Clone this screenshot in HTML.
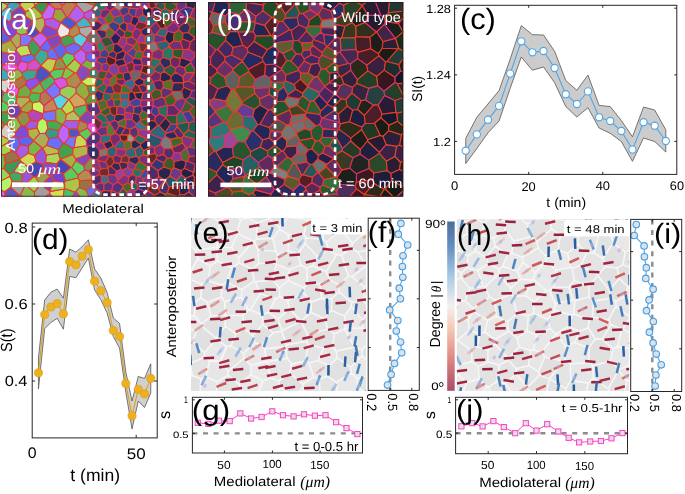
<!DOCTYPE html><html><head><meta charset="utf-8"><title>figure</title><style>html,body{margin:0;padding:0;background:#fff;width:685px;height:494px;overflow:hidden}body{position:relative;font-family:"Liberation Sans",sans-serif}</style></head><body><svg width="685" height="494" viewBox="0 0 685 494" font-family="Liberation Sans" text-rendering="geometricPrecision" style="position:absolute;left:0;top:0;will-change:transform">
<rect width="685" height="494" fill="#fff"/>
<clipPath id="ca"><rect x="1" y="2" width="195.00" height="194.50"/></clipPath>
<g clip-path="url(#ca)">
<rect x="1" y="2" width="195.00" height="194.50" fill="#d8303c"/>
<path d="M-18.2,-15.9L-22.3,-9.0L-14.8,-4.5L-9.4,-13.5L-14.3,-17.8Z" fill="rgb(136,202,82)" stroke="#e04a20" stroke-width="1.1" stroke-linejoin="round"/>
<path d="M-5.1,9.1L-3.1,0.1L-14.8,-0.1L-20.2,5.5L-20.2,5.8L-15.3,11.7Z" fill="rgb(142,181,71)" stroke="#d83070" stroke-width="1.1" stroke-linejoin="round"/>
<path d="M-4.9,25.4L-11.3,26.2L-17.3,21.4L-15.4,16.0L-4.5,19.0Z" fill="rgb(109,66,186)" stroke="#e83a28" stroke-width="1.1" stroke-linejoin="round"/>
<path d="M-17.3,21.4L-11.3,26.2L-12.4,33.6L-23.7,33.7L-23.8,29.9L-19.2,22.3Z" fill="rgb(75,83,189)" stroke="#e04a20" stroke-width="1.1" stroke-linejoin="round"/>
<path d="M-23.7,33.7L-24.4,35.3L-21.9,42.6L-15.8,44.9L-7.7,40.2L-12.4,33.6Z" fill="rgb(159,189,68)" stroke="#e83a28" stroke-width="1.1" stroke-linejoin="round"/>
<path d="M-15.1,53.1L-17.2,55.0L-18.1,60.4L-13.7,68.2L-11.4,68.5L-5.8,55.7Z" fill="rgb(166,198,71)" stroke="#d83070" stroke-width="1.1" stroke-linejoin="round"/>
<path d="M-11.8,79.6L-5.7,73.3L-5.8,72.9L-11.4,68.5L-13.7,68.2L-18.9,71.2L-21.1,79.1Z" fill="rgb(70,70,181)" stroke="#e04a20" stroke-width="1.1" stroke-linejoin="round"/>
<path d="M-12.5,85.6L-21.5,87.7L-24.5,84.2L-24.5,83.7L-21.1,79.1L-11.8,79.6Z" fill="rgb(152,181,65)" stroke="#e83a28" stroke-width="1.1" stroke-linejoin="round"/>
<path d="M-12.5,85.6L-7.2,88.4L-9.6,96.6L-21.1,90.2L-21.5,87.7Z" fill="rgb(143,194,84)" stroke="#d83070" stroke-width="1.1" stroke-linejoin="round"/>
<path d="M-11.3,102.2L-9.5,97.0L-9.6,96.6L-21.1,90.2L-23.1,96.3L-23.0,100.7L-21.1,102.5Z" fill="rgb(116,172,69)" stroke="#d83070" stroke-width="1.1" stroke-linejoin="round"/>
<path d="M-8.2,108.6L-11.3,102.2L-21.1,102.5L-21.8,112.0L-12.5,116.3Z" fill="rgb(102,113,255)" stroke="#e04a20" stroke-width="1.1" stroke-linejoin="round"/>
<path d="M-12.2,131.7L-6.0,127.7L-6.9,120.2L-12.5,116.3L-18.5,126.6Z" fill="rgb(103,62,176)" stroke="#e83a28" stroke-width="1.1" stroke-linejoin="round"/>
<path d="M-23.7,130.2L-24.6,134.1L-15.5,141.2L-11.0,137.6L-12.2,131.7L-18.5,126.6L-19.2,126.7Z" fill="rgb(190,200,77)" stroke="#e83a28" stroke-width="1.1" stroke-linejoin="round"/>
<path d="M-4.6,139.7L-11.0,137.6L-15.5,141.2L-17.2,146.2L-15.4,149.7L-3.4,146.8Z" fill="rgb(192,202,78)" stroke="#e83a28" stroke-width="1.1" stroke-linejoin="round"/>
<path d="M-12.5,164.7L-21.6,164.2L-21.7,157.4L-15.4,151.7L-8.1,159.3L-8.3,161.5Z" fill="rgb(62,154,87)" stroke="#e83a28" stroke-width="1.1" stroke-linejoin="round"/>
<path d="M-12.2,169.6L-16.1,177.2L-20.9,175.7L-22.7,169.4L-22.3,164.9L-21.6,164.2L-12.5,164.7Z" fill="rgb(86,95,217)" stroke="#e83a28" stroke-width="1.1" stroke-linejoin="round"/>
<path d="M-12.2,169.6L-16.1,177.2L-12.1,181.8L-6.0,178.6L-4.6,174.0Z" fill="rgb(111,67,191)" stroke="#e04a20" stroke-width="1.1" stroke-linejoin="round"/>
<path d="M-2.0,190.3L-12.4,184.2L-17.3,191.7L-17.1,192.6L-15.7,194.6L-6.6,196.3Z" fill="rgb(91,101,231)" stroke="#e04a20" stroke-width="1.1" stroke-linejoin="round"/>
<path d="M-7.6,209.9L-15.5,205.1L-18.2,206.3L-20.3,213.7L-12.4,216.1L-7.2,211.2Z" fill="rgb(156,200,78)" stroke="#d83070" stroke-width="1.1" stroke-linejoin="round"/>
<path d="M-6.9,-12.9L2.4,-20.6L10.0,-10.1L9.8,-8.9L-1.8,-4.9Z" fill="rgb(77,86,195)" stroke="#e83a28" stroke-width="1.1" stroke-linejoin="round"/>
<path d="M-6.9,-12.9L-9.4,-13.5L-14.8,-4.5L-14.8,-0.1L-3.1,0.1L-2.6,-0.4L-1.8,-4.9Z" fill="rgb(187,74,187)" stroke="#e04a20" stroke-width="1.1" stroke-linejoin="round"/>
<path d="M-0.3,13.9L-0.5,13.9L-5.1,9.1L-3.1,0.1L-2.6,-0.4L7.4,4.7L7.3,7.0Z" fill="rgb(171,219,85)" stroke="#e83a28" stroke-width="1.1" stroke-linejoin="round"/>
<path d="M-0.5,13.9L-5.1,9.1L-15.3,11.7L-15.4,16.0L-4.5,19.0Z" fill="rgb(91,101,231)" stroke="#e83a28" stroke-width="1.1" stroke-linejoin="round"/>
<path d="M9.0,21.8L8.8,22.8L1.5,29.7L1.3,29.8L-4.9,25.4L-4.5,19.0L-0.5,13.9L-0.3,13.9Z" fill="rgb(79,88,201)" stroke="#d83070" stroke-width="1.1" stroke-linejoin="round"/>
<path d="M1.3,29.8L-4.6,40.6L-7.7,40.2L-12.4,33.6L-11.3,26.2L-4.9,25.4Z" fill="rgb(185,145,86)" stroke="#d83070" stroke-width="1.1" stroke-linejoin="round"/>
<path d="M1.5,29.7L11.1,38.3L10.8,40.3L-1.0,45.3L-4.6,40.6L1.3,29.8Z" fill="rgb(97,97,214)" stroke="#e04a20" stroke-width="1.1" stroke-linejoin="round"/>
<path d="M-0.0,51.4L-1.0,45.3L-4.6,40.6L-7.7,40.2L-15.8,44.9L-15.1,53.1L-5.8,55.7L-2.0,54.2Z" fill="rgb(190,103,255)" stroke="#e04a20" stroke-width="1.1" stroke-linejoin="round"/>
<path d="M10.4,62.1L9.9,53.6L-0.0,51.4L-2.0,54.2L2.6,66.3Z" fill="rgb(141,78,198)" stroke="#e83a28" stroke-width="1.1" stroke-linejoin="round"/>
<path d="M2.6,66.3L2.1,67.9L-5.8,72.9L-11.4,68.5L-5.8,55.7L-2.0,54.2Z" fill="rgb(220,220,220)" stroke="#e83a28" stroke-width="1.1" stroke-linejoin="round"/>
<path d="M8.7,80.1L-1.9,80.3L-5.7,73.3L-5.8,72.9L2.1,67.9L9.5,73.4Z" fill="rgb(66,167,184)" stroke="#e83a28" stroke-width="1.1" stroke-linejoin="round"/>
<path d="M-2.9,86.0L-7.2,88.4L-12.5,85.6L-11.8,79.6L-5.7,73.3L-1.9,80.3Z" fill="rgb(185,185,96)" stroke="#d83070" stroke-width="1.1" stroke-linejoin="round"/>
<path d="M4.6,92.8L-2.9,86.0L-7.2,88.4L-9.6,96.6L-9.5,97.0L2.1,97.6Z" fill="rgb(90,100,228)" stroke="#e83a28" stroke-width="1.1" stroke-linejoin="round"/>
<path d="M-8.2,108.6L-11.3,102.2L-9.5,97.0L2.1,97.6L2.6,100.6L-3.2,108.4Z" fill="rgb(166,175,67)" stroke="#e83a28" stroke-width="1.1" stroke-linejoin="round"/>
<path d="M-3.2,108.4L2.6,100.6L9.6,105.7L7.6,111.9L1.9,112.3Z" fill="rgb(87,206,98)" stroke="#e83a28" stroke-width="1.1" stroke-linejoin="round"/>
<path d="M-8.2,108.6L-12.5,116.3L-12.5,116.3L-6.9,120.2L-0.4,119.8L1.9,112.3L-3.2,108.4Z" fill="rgb(165,173,67)" stroke="#e04a20" stroke-width="1.1" stroke-linejoin="round"/>
<path d="M-0.4,119.8L4.9,124.8L0.9,130.7L-6.0,127.7L-6.9,120.2Z" fill="rgb(159,125,74)" stroke="#e83a28" stroke-width="1.1" stroke-linejoin="round"/>
<path d="M1.2,135.4L0.9,130.7L-6.0,127.7L-12.2,131.7L-11.0,137.6L-4.6,139.7Z" fill="rgb(154,121,71)" stroke="#d83070" stroke-width="1.1" stroke-linejoin="round"/>
<path d="M8.4,142.6L-2.2,148.3L-3.4,146.8L-4.6,139.7L1.2,135.4L8.8,139.2Z" fill="rgb(172,204,74)" stroke="#e83a28" stroke-width="1.1" stroke-linejoin="round"/>
<path d="M-2.2,148.3L-0.8,153.1L-8.1,159.3L-15.4,151.7L-15.4,149.7L-3.4,146.8Z" fill="rgb(80,198,112)" stroke="#e83a28" stroke-width="1.1" stroke-linejoin="round"/>
<path d="M4.3,155.1L-0.8,153.1L-8.1,159.3L-8.3,161.5L0.2,168.6L4.0,168.5L5.6,163.7Z" fill="rgb(122,180,73)" stroke="#d83070" stroke-width="1.1" stroke-linejoin="round"/>
<path d="M-12.2,169.6L-4.6,174.0L0.2,168.6L-8.3,161.5L-12.5,164.7Z" fill="rgb(168,168,87)" stroke="#d83070" stroke-width="1.1" stroke-linejoin="round"/>
<path d="M-4.6,174.0L-6.0,178.6L-0.2,181.6L9.7,176.6L9.7,174.4L4.0,168.5L0.2,168.6Z" fill="rgb(155,209,91)" stroke="#e04a20" stroke-width="1.1" stroke-linejoin="round"/>
<path d="M-2.0,190.3L-12.4,184.2L-12.1,181.8L-6.0,178.6L-0.2,181.6L0.4,189.7Z" fill="rgb(86,216,237)" stroke="#e83a28" stroke-width="1.1" stroke-linejoin="round"/>
<path d="M5.1,194.6L4.8,191.7L0.4,189.7L-2.0,190.3L-6.6,196.3L-3.1,202.6L2.0,201.3Z" fill="rgb(229,91,229)" stroke="#e83a28" stroke-width="1.1" stroke-linejoin="round"/>
<path d="M-3.1,202.6L-7.6,209.9L-15.5,205.1L-15.7,194.6L-6.6,196.3Z" fill="rgb(103,152,62)" stroke="#e04a20" stroke-width="1.1" stroke-linejoin="round"/>
<path d="M2.0,201.3L-3.1,202.6L-7.6,209.9L-7.2,211.2L0.4,217.3L5.2,213.4L8.1,207.2Z" fill="rgb(204,160,95)" stroke="#e83a28" stroke-width="1.1" stroke-linejoin="round"/>
<path d="M10.0,-10.1L15.2,-14.5L25.1,-12.1L26.9,-5.8L11.4,-6.4L9.8,-8.9Z" fill="rgb(82,91,208)" stroke="#e83a28" stroke-width="1.1" stroke-linejoin="round"/>
<path d="M-1.8,-4.9L-2.6,-0.4L7.4,4.7L12.4,0.9L11.4,-6.4L9.8,-8.9Z" fill="rgb(80,199,113)" stroke="#e83a28" stroke-width="1.1" stroke-linejoin="round"/>
<path d="M11.8,12.8L20.6,6.1L20.2,4.5L12.4,0.9L7.4,4.7L7.3,7.0Z" fill="rgb(65,162,178)" stroke="#d83070" stroke-width="1.1" stroke-linejoin="round"/>
<path d="M9.0,21.8L-0.3,13.9L7.3,7.0L11.8,12.8L11.6,19.3Z" fill="rgb(80,201,221)" stroke="#d83070" stroke-width="1.1" stroke-linejoin="round"/>
<path d="M16.1,30.4L8.8,22.8L9.0,21.8L11.6,19.3L22.7,18.3L22.5,24.5Z" fill="rgb(126,76,216)" stroke="#e83a28" stroke-width="1.1" stroke-linejoin="round"/>
<path d="M16.8,33.1L11.1,38.3L1.5,29.7L8.8,22.8L16.1,30.4Z" fill="rgb(124,75,212)" stroke="#d83070" stroke-width="1.1" stroke-linejoin="round"/>
<path d="M16.8,33.1L11.1,38.3L10.8,40.3L16.6,48.5L20.4,46.0L20.5,34.8Z" fill="rgb(171,171,89)" stroke="#d83070" stroke-width="1.1" stroke-linejoin="round"/>
<path d="M-0.0,51.4L-1.0,45.3L10.8,40.3L16.6,48.5L16.1,50.4L9.9,53.6Z" fill="rgb(165,173,67)" stroke="#e04a20" stroke-width="1.1" stroke-linejoin="round"/>
<path d="M10.4,62.1L17.5,66.6L20.8,61.1L21.0,56.5L16.1,50.4L9.9,53.6Z" fill="rgb(174,69,174)" stroke="#e04a20" stroke-width="1.1" stroke-linejoin="round"/>
<path d="M9.5,73.4L2.1,67.9L2.6,66.3L10.4,62.1L17.5,66.6L17.9,68.9Z" fill="rgb(224,89,224)" stroke="#e04a20" stroke-width="1.1" stroke-linejoin="round"/>
<path d="M22.7,76.5L11.3,82.4L10.6,82.3L8.7,80.1L9.5,73.4L17.9,68.9L22.0,72.9Z" fill="rgb(144,184,72)" stroke="#e83a28" stroke-width="1.1" stroke-linejoin="round"/>
<path d="M10.6,82.3L6.5,92.2L4.6,92.8L-2.9,86.0L-1.9,80.3L8.7,80.1Z" fill="rgb(212,212,212)" stroke="#e04a20" stroke-width="1.1" stroke-linejoin="round"/>
<path d="M11.3,82.4L19.2,89.0L16.8,96.5L6.5,92.2L10.6,82.3Z" fill="rgb(228,90,228)" stroke="#e83a28" stroke-width="1.1" stroke-linejoin="round"/>
<path d="M17.2,97.3L16.2,102.7L9.6,105.7L2.6,100.6L2.1,97.6L4.6,92.8L6.5,92.2L16.8,96.5Z" fill="rgb(77,191,108)" stroke="#e04a20" stroke-width="1.1" stroke-linejoin="round"/>
<path d="M16.2,102.7L20.8,108.6L21.8,111.6L16.9,117.9L12.0,117.9L7.6,111.9L9.6,105.7Z" fill="rgb(119,66,167)" stroke="#e83a28" stroke-width="1.1" stroke-linejoin="round"/>
<path d="M1.9,112.3L7.6,111.9L12.0,117.9L6.5,124.4L4.9,124.8L-0.4,119.8Z" fill="rgb(68,160,76)" stroke="#e83a28" stroke-width="1.1" stroke-linejoin="round"/>
<path d="M15.3,132.9L6.5,124.4L12.0,117.9L16.9,117.9L21.3,125.6Z" fill="rgb(139,188,81)" stroke="#e83a28" stroke-width="1.1" stroke-linejoin="round"/>
<path d="M8.8,139.2L15.0,136.0L15.3,132.9L6.5,124.4L4.9,124.8L0.9,130.7L1.2,135.4Z" fill="rgb(206,206,206)" stroke="#e04a20" stroke-width="1.1" stroke-linejoin="round"/>
<path d="M11.4,151.4L8.4,142.6L8.8,139.2L15.0,136.0L18.4,138.5L20.4,144.6L15.6,152.6Z" fill="rgb(96,107,244)" stroke="#e04a20" stroke-width="1.1" stroke-linejoin="round"/>
<path d="M4.3,155.1L-0.8,153.1L-2.2,148.3L8.4,142.6L11.4,151.4Z" fill="rgb(164,210,82)" stroke="#e83a28" stroke-width="1.1" stroke-linejoin="round"/>
<path d="M4.3,155.1L11.4,151.4L15.6,152.6L20.1,158.9L20.1,159.4L5.6,163.7Z" fill="rgb(150,118,70)" stroke="#e83a28" stroke-width="1.1" stroke-linejoin="round"/>
<path d="M5.6,163.7L4.0,168.5L9.7,174.4L13.9,171.8L20.7,161.2L20.1,159.4Z" fill="rgb(62,153,87)" stroke="#e83a28" stroke-width="1.1" stroke-linejoin="round"/>
<path d="M13.9,171.8L9.7,174.4L9.7,176.6L12.1,181.3L22.3,182.3L21.9,174.0Z" fill="rgb(68,168,95)" stroke="#e83a28" stroke-width="1.1" stroke-linejoin="round"/>
<path d="M0.4,189.7L-0.2,181.6L9.7,176.6L12.1,181.3L10.8,187.3L4.8,191.7Z" fill="rgb(180,244,106)" stroke="#e83a28" stroke-width="1.1" stroke-linejoin="round"/>
<path d="M5.1,194.6L4.8,191.7L10.8,187.3L19.3,194.8L13.5,199.6Z" fill="rgb(88,88,195)" stroke="#e83a28" stroke-width="1.1" stroke-linejoin="round"/>
<path d="M5.1,194.6L13.5,199.6L12.3,205.7L8.1,207.2L2.0,201.3Z" fill="rgb(129,72,181)" stroke="#e83a28" stroke-width="1.1" stroke-linejoin="round"/>
<path d="M8.1,207.2L5.2,213.4L13.5,216.1L19.8,210.9L19.5,209.9L12.3,205.7Z" fill="rgb(72,201,180)" stroke="#e83a28" stroke-width="1.1" stroke-linejoin="round"/>
<path d="M25.1,-12.1L15.2,-14.5L20.5,-103.1L21.0,-99.6L27.9,-19.4Z" fill="rgb(82,91,206)" stroke="#e83a28" stroke-width="1.1" stroke-linejoin="round"/>
<path d="M27.0,-5.6L31.1,-4.6L37.8,-7.9L39.8,-13.2L27.9,-19.4L25.1,-12.1L26.9,-5.8Z" fill="rgb(99,109,250)" stroke="#d83070" stroke-width="1.1" stroke-linejoin="round"/>
<path d="M20.2,4.5L27.0,-5.6L26.9,-5.8L11.4,-6.4L12.4,0.9Z" fill="rgb(61,61,158)" stroke="#e04a20" stroke-width="1.1" stroke-linejoin="round"/>
<path d="M34.3,7.1L25.5,11.9L20.6,6.1L20.2,4.5L27.0,-5.6L31.1,-4.6L34.7,4.9Z" fill="rgb(199,209,81)" stroke="#e04a20" stroke-width="1.1" stroke-linejoin="round"/>
<path d="M11.6,19.3L22.7,18.3L25.2,16.1L25.5,11.9L20.6,6.1L11.8,12.8Z" fill="rgb(125,70,176)" stroke="#e83a28" stroke-width="1.1" stroke-linejoin="round"/>
<path d="M22.5,24.5L22.7,18.3L25.2,16.1L32.2,20.6L32.1,23.7L27.3,29.8Z" fill="rgb(127,71,179)" stroke="#e83a28" stroke-width="1.1" stroke-linejoin="round"/>
<path d="M16.8,33.1L20.5,34.8L27.3,33.9L27.3,29.8L22.5,24.5L16.1,30.4Z" fill="rgb(144,195,84)" stroke="#d83070" stroke-width="1.1" stroke-linejoin="round"/>
<path d="M32.6,39.2L27.9,45.2L20.4,46.0L20.5,34.8L27.3,33.9L32.7,38.1Z" fill="rgb(121,121,255)" stroke="#e83a28" stroke-width="1.1" stroke-linejoin="round"/>
<path d="M31.1,54.2L21.0,56.5L16.1,50.4L16.6,48.5L20.4,46.0L27.9,45.2Z" fill="rgb(188,224,81)" stroke="#d83070" stroke-width="1.1" stroke-linejoin="round"/>
<path d="M34.6,56.4L35.4,59.4L28.4,63.0L20.8,61.1L21.0,56.5L31.1,54.2Z" fill="rgb(100,111,254)" stroke="#d83070" stroke-width="1.1" stroke-linejoin="round"/>
<path d="M22.0,72.9L17.9,68.9L17.5,66.6L20.8,61.1L28.4,63.0L26.8,70.0Z" fill="rgb(219,87,219)" stroke="#d83070" stroke-width="1.1" stroke-linejoin="round"/>
<path d="M35.3,77.9L26.2,80.9L22.7,76.5L22.0,72.9L26.8,70.0L37.4,69.7Z" fill="rgb(59,166,148)" stroke="#e83a28" stroke-width="1.1" stroke-linejoin="round"/>
<path d="M22.7,76.5L11.3,82.4L19.2,89.0L25.9,84.4L26.2,80.9Z" fill="rgb(173,115,73)" stroke="#e04a20" stroke-width="1.1" stroke-linejoin="round"/>
<path d="M31.2,92.6L28.9,97.2L17.2,97.3L16.8,96.5L19.2,89.0L25.9,84.4L30.5,90.2Z" fill="rgb(115,170,69)" stroke="#e83a28" stroke-width="1.1" stroke-linejoin="round"/>
<path d="M28.9,97.2L17.2,97.3L16.2,102.7L20.8,108.6L30.0,100.4Z" fill="rgb(177,177,92)" stroke="#e83a28" stroke-width="1.1" stroke-linejoin="round"/>
<path d="M32.5,103.0L30.0,100.4L20.8,108.6L21.8,111.6L27.6,112.7L32.4,109.7Z" fill="rgb(160,168,65)" stroke="#e04a20" stroke-width="1.1" stroke-linejoin="round"/>
<path d="M21.3,125.6L16.9,117.9L21.8,111.6L27.6,112.7L30.5,120.5L25.2,126.2Z" fill="rgb(143,143,74)" stroke="#e83a28" stroke-width="1.1" stroke-linejoin="round"/>
<path d="M25.2,126.2L30.5,120.5L38.2,121.4L37.0,128.1L27.9,129.7Z" fill="rgb(161,90,226)" stroke="#e83a28" stroke-width="1.1" stroke-linejoin="round"/>
<path d="M15.0,136.0L18.4,138.5L28.5,135.8L27.9,129.7L25.2,126.2L21.3,125.6L15.3,132.9Z" fill="rgb(126,76,216)" stroke="#e83a28" stroke-width="1.1" stroke-linejoin="round"/>
<path d="M18.4,138.5L20.4,144.6L28.5,146.2L33.7,141.0L33.7,140.5L28.5,135.8Z" fill="rgb(93,103,236)" stroke="#d83070" stroke-width="1.1" stroke-linejoin="round"/>
<path d="M20.1,158.9L28.5,153.2L28.5,146.2L20.4,144.6L15.6,152.6Z" fill="rgb(169,92,228)" stroke="#e83a28" stroke-width="1.1" stroke-linejoin="round"/>
<path d="M20.1,158.9L28.5,153.2L34.5,155.6L36.1,161.8L27.6,166.8L20.7,161.2L20.1,159.4Z" fill="rgb(207,218,84)" stroke="#e04a20" stroke-width="1.1" stroke-linejoin="round"/>
<path d="M27.6,166.8L20.7,161.2L13.9,171.8L21.9,174.0L28.0,169.6Z" fill="rgb(173,235,102)" stroke="#d83070" stroke-width="1.1" stroke-linejoin="round"/>
<path d="M28.0,169.6L33.5,177.0L25.5,184.2L22.3,182.3L21.9,174.0Z" fill="rgb(152,85,214)" stroke="#e04a20" stroke-width="1.1" stroke-linejoin="round"/>
<path d="M10.8,187.3L12.1,181.3L22.3,182.3L25.5,184.2L25.5,184.7L20.5,194.8L19.3,194.8Z" fill="rgb(159,159,159)" stroke="#e83a28" stroke-width="1.1" stroke-linejoin="round"/>
<path d="M34.4,192.1L25.5,184.7L20.5,194.8L25.9,200.1L30.5,200.3L34.7,196.3Z" fill="rgb(136,184,80)" stroke="#e83a28" stroke-width="1.1" stroke-linejoin="round"/>
<path d="M13.5,199.6L19.3,194.8L20.5,194.8L25.9,200.1L19.5,209.9L12.3,205.7Z" fill="rgb(111,111,246)" stroke="#e83a28" stroke-width="1.1" stroke-linejoin="round"/>
<path d="M27.9,219.1L34.6,210.0L30.5,200.3L25.9,200.1L19.5,209.9L19.8,210.9Z" fill="rgb(94,222,105)" stroke="#d83070" stroke-width="1.1" stroke-linejoin="round"/>
<path d="M50.1,-6.6L48.8,-15.2L41.0,-14.2L39.8,-13.2L37.8,-7.9L42.8,-3.8Z" fill="rgb(133,197,80)" stroke="#d83070" stroke-width="1.1" stroke-linejoin="round"/>
<path d="M34.7,4.9L31.1,-4.6L37.8,-7.9L42.8,-3.8L43.8,1.6Z" fill="rgb(180,230,90)" stroke="#e83a28" stroke-width="1.1" stroke-linejoin="round"/>
<path d="M34.3,7.1L42.1,14.6L48.4,5.0L43.8,1.6L34.7,4.9Z" fill="rgb(60,148,84)" stroke="#e83a28" stroke-width="1.1" stroke-linejoin="round"/>
<path d="M34.3,7.1L25.5,11.9L25.2,16.1L32.2,20.6L42.4,17.4L42.1,14.6Z" fill="rgb(167,198,71)" stroke="#e83a28" stroke-width="1.1" stroke-linejoin="round"/>
<path d="M44.7,19.7L44.9,25.3L41.3,32.8L39.8,33.1L32.1,23.7L32.2,20.6L42.4,17.4Z" fill="rgb(179,179,93)" stroke="#e83a28" stroke-width="1.1" stroke-linejoin="round"/>
<path d="M32.7,38.1L27.3,33.9L27.3,29.8L32.1,23.7L39.8,33.1Z" fill="rgb(75,75,192)" stroke="#e83a28" stroke-width="1.1" stroke-linejoin="round"/>
<path d="M41.3,32.8L39.8,33.1L32.7,38.1L32.6,39.2L40.2,47.6L47.2,39.7L47.3,37.9Z" fill="rgb(188,102,252)" stroke="#e83a28" stroke-width="1.1" stroke-linejoin="round"/>
<path d="M32.6,39.2L27.9,45.2L31.1,54.2L34.6,56.4L40.5,49.2L40.2,47.6Z" fill="rgb(64,160,91)" stroke="#e83a28" stroke-width="1.1" stroke-linejoin="round"/>
<path d="M34.6,56.4L35.4,59.4L40.8,65.7L48.1,58.4L47.5,51.6L40.5,49.2Z" fill="rgb(61,171,153)" stroke="#e83a28" stroke-width="1.1" stroke-linejoin="round"/>
<path d="M37.4,69.7L40.8,65.8L40.8,65.7L35.4,59.4L28.4,63.0L26.8,70.0Z" fill="rgb(208,82,208)" stroke="#e04a20" stroke-width="1.1" stroke-linejoin="round"/>
<path d="M35.3,77.9L40.1,82.6L50.8,75.3L50.2,72.7L40.8,65.8L37.4,69.7Z" fill="rgb(76,84,191)" stroke="#e83a28" stroke-width="1.1" stroke-linejoin="round"/>
<path d="M35.3,77.9L40.1,82.6L40.1,83.0L30.5,90.2L25.9,84.4L26.2,80.9Z" fill="rgb(139,84,238)" stroke="#d83070" stroke-width="1.1" stroke-linejoin="round"/>
<path d="M31.2,92.6L40.6,93.8L44.5,91.1L40.1,83.0L30.5,90.2Z" fill="rgb(123,181,73)" stroke="#e83a28" stroke-width="1.1" stroke-linejoin="round"/>
<path d="M31.2,92.6L28.9,97.2L30.0,100.4L32.5,103.0L39.8,101.4L40.6,93.8Z" fill="rgb(79,186,88)" stroke="#e04a20" stroke-width="1.1" stroke-linejoin="round"/>
<path d="M39.8,101.4L32.5,103.0L32.4,109.7L42.8,113.8L43.7,112.4L44.0,105.7Z" fill="rgb(196,251,98)" stroke="#e04a20" stroke-width="1.1" stroke-linejoin="round"/>
<path d="M32.4,109.7L27.6,112.7L30.5,120.5L38.2,121.4L42.9,118.0L42.8,113.8Z" fill="rgb(181,72,181)" stroke="#e83a28" stroke-width="1.1" stroke-linejoin="round"/>
<path d="M45.3,133.4L47.7,128.7L46.8,121.3L42.9,118.0L38.2,121.4L37.0,128.1L39.7,133.5Z" fill="rgb(181,245,106)" stroke="#e04a20" stroke-width="1.1" stroke-linejoin="round"/>
<path d="M27.9,129.7L37.0,128.1L39.7,133.5L33.7,140.5L28.5,135.8Z" fill="rgb(173,182,70)" stroke="#e83a28" stroke-width="1.1" stroke-linejoin="round"/>
<path d="M33.7,140.5L39.7,133.5L45.3,133.4L49.0,138.7L46.6,145.4L42.8,148.1L42.2,148.0L33.7,141.0Z" fill="rgb(172,172,89)" stroke="#d83070" stroke-width="1.1" stroke-linejoin="round"/>
<path d="M28.5,146.2L33.7,141.0L42.2,148.0L34.5,155.6L28.5,153.2Z" fill="rgb(123,182,74)" stroke="#e83a28" stroke-width="1.1" stroke-linejoin="round"/>
<path d="M43.1,164.8L36.1,161.8L34.5,155.6L42.2,148.0L42.8,148.1L46.3,155.2L45.8,162.6Z" fill="rgb(154,86,217)" stroke="#e83a28" stroke-width="1.1" stroke-linejoin="round"/>
<path d="M27.6,166.8L36.1,161.8L43.1,164.8L42.9,171.0L35.3,177.2L33.5,177.0L28.0,169.6Z" fill="rgb(70,70,180)" stroke="#e83a28" stroke-width="1.1" stroke-linejoin="round"/>
<path d="M50.3,176.1L41.5,185.0L40.2,184.7L35.3,177.2L42.9,171.0Z" fill="rgb(156,156,81)" stroke="#e83a28" stroke-width="1.1" stroke-linejoin="round"/>
<path d="M34.4,192.1L40.2,184.7L35.3,177.2L33.5,177.0L25.5,184.2L25.5,184.7Z" fill="rgb(156,211,91)" stroke="#e04a20" stroke-width="1.1" stroke-linejoin="round"/>
<path d="M50.1,191.4L50.0,191.3L41.5,185.0L40.2,184.7L34.4,192.1L34.7,196.3L43.5,198.2L49.7,193.8Z" fill="rgb(159,159,159)" stroke="#e83a28" stroke-width="1.1" stroke-linejoin="round"/>
<path d="M34.7,196.3L43.5,198.2L43.8,206.3L39.4,209.9L34.6,210.0L30.5,200.3Z" fill="rgb(144,195,85)" stroke="#e04a20" stroke-width="1.1" stroke-linejoin="round"/>
<path d="M48.9,208.0L43.8,206.3L39.4,209.9L43.9,217.1L50.8,213.6Z" fill="rgb(84,210,231)" stroke="#d83070" stroke-width="1.1" stroke-linejoin="round"/>
<path d="M54.5,-2.8L62.7,-8.1L53.9,-20.0L48.8,-15.2L50.1,-6.6Z" fill="rgb(230,152,97)" stroke="#e83a28" stroke-width="1.1" stroke-linejoin="round"/>
<path d="M48.4,5.0L50.2,4.7L54.4,-2.2L54.5,-2.8L50.1,-6.6L42.8,-3.8L43.8,1.6Z" fill="rgb(100,60,171)" stroke="#e83a28" stroke-width="1.1" stroke-linejoin="round"/>
<path d="M55.1,9.2L61.2,8.9L62.7,5.3L54.4,-2.2L50.2,4.7Z" fill="rgb(190,126,80)" stroke="#d83070" stroke-width="1.1" stroke-linejoin="round"/>
<path d="M42.1,14.6L42.4,17.4L44.7,19.7L52.5,18.1L55.1,9.2L50.2,4.7L48.4,5.0Z" fill="rgb(193,105,255)" stroke="#e83a28" stroke-width="1.1" stroke-linejoin="round"/>
<path d="M44.7,19.7L44.9,25.3L57.6,30.4L60.7,22.8L60.7,22.4L52.5,18.1Z" fill="rgb(172,93,232)" stroke="#d83070" stroke-width="1.1" stroke-linejoin="round"/>
<path d="M41.3,32.8L47.3,37.9L58.1,34.9L57.6,30.4L44.9,25.3Z" fill="rgb(122,74,208)" stroke="#e83a28" stroke-width="1.1" stroke-linejoin="round"/>
<path d="M47.3,37.9L47.2,39.7L51.9,48.3L52.9,48.3L61.4,42.9L61.1,37.8L58.1,34.9Z" fill="rgb(132,73,185)" stroke="#e04a20" stroke-width="1.1" stroke-linejoin="round"/>
<path d="M47.2,39.7L51.9,48.3L47.5,51.6L40.5,49.2L40.2,47.6Z" fill="rgb(98,109,248)" stroke="#d83070" stroke-width="1.1" stroke-linejoin="round"/>
<path d="M47.5,51.6L48.1,58.4L56.6,59.7L59.1,58.3L52.9,48.3L51.9,48.3Z" fill="rgb(102,113,255)" stroke="#e04a20" stroke-width="1.1" stroke-linejoin="round"/>
<path d="M50.2,72.7L40.8,65.8L40.8,65.7L48.1,58.4L56.6,59.7L53.4,69.8Z" fill="rgb(194,204,79)" stroke="#e83a28" stroke-width="1.1" stroke-linejoin="round"/>
<path d="M50.2,72.7L50.8,75.3L54.5,79.8L61.9,77.4L65.0,68.6L53.4,69.8Z" fill="rgb(87,205,97)" stroke="#e83a28" stroke-width="1.1" stroke-linejoin="round"/>
<path d="M44.5,91.1L45.2,91.1L54.6,82.4L54.5,79.8L50.8,75.3L40.1,82.6L40.1,83.0Z" fill="rgb(73,182,103)" stroke="#e83a28" stroke-width="1.1" stroke-linejoin="round"/>
<path d="M45.2,91.1L54.6,82.4L60.1,89.3L59.8,94.4L53.0,98.8L52.7,98.7Z" fill="rgb(119,119,255)" stroke="#e83a28" stroke-width="1.1" stroke-linejoin="round"/>
<path d="M40.6,93.8L39.8,101.4L44.0,105.7L52.7,98.7L45.2,91.1L44.5,91.1Z" fill="rgb(182,121,76)" stroke="#d83070" stroke-width="1.1" stroke-linejoin="round"/>
<path d="M44.0,105.7L43.7,112.4L55.7,110.2L57.4,108.5L53.0,98.8L52.7,98.7Z" fill="rgb(200,132,84)" stroke="#d83070" stroke-width="1.1" stroke-linejoin="round"/>
<path d="M42.8,113.8L42.9,118.0L46.8,121.3L55.9,120.7L55.7,110.2L43.7,112.4Z" fill="rgb(117,117,255)" stroke="#e83a28" stroke-width="1.1" stroke-linejoin="round"/>
<path d="M47.7,128.7L46.8,121.3L55.9,120.7L62.7,124.7L58.9,130.5Z" fill="rgb(72,170,80)" stroke="#e83a28" stroke-width="1.1" stroke-linejoin="round"/>
<path d="M45.3,133.4L47.7,128.7L58.9,130.5L58.1,137.1L49.0,138.7Z" fill="rgb(55,153,137)" stroke="#e83a28" stroke-width="1.1" stroke-linejoin="round"/>
<path d="M49.0,138.7L58.1,137.1L63.2,143.4L58.6,149.7L46.6,145.4Z" fill="rgb(101,112,255)" stroke="#e83a28" stroke-width="1.1" stroke-linejoin="round"/>
<path d="M46.6,145.4L58.6,149.7L58.4,153.3L46.3,155.2L42.8,148.1Z" fill="rgb(182,191,74)" stroke="#e83a28" stroke-width="1.1" stroke-linejoin="round"/>
<path d="M60.5,159.4L60.5,159.2L58.4,153.3L46.3,155.2L45.8,162.6L56.8,163.8Z" fill="rgb(170,217,85)" stroke="#d83070" stroke-width="1.1" stroke-linejoin="round"/>
<path d="M56.8,163.8L45.8,162.6L43.1,164.8L42.9,171.0L50.3,176.1L51.5,176.3L57.6,170.9Z" fill="rgb(142,77,191)" stroke="#e83a28" stroke-width="1.1" stroke-linejoin="round"/>
<path d="M57.6,170.9L51.5,176.3L53.4,181.0L64.5,183.1L65.6,180.9L63.5,173.8Z" fill="rgb(115,69,196)" stroke="#e83a28" stroke-width="1.1" stroke-linejoin="round"/>
<path d="M50.0,191.3L41.5,185.0L50.3,176.1L51.5,176.3L53.4,181.0Z" fill="rgb(117,71,200)" stroke="#e83a28" stroke-width="1.1" stroke-linejoin="round"/>
<path d="M50.1,191.4L64.3,189.0L63.0,198.7L54.5,199.4L49.7,193.8Z" fill="rgb(212,223,86)" stroke="#d83070" stroke-width="1.1" stroke-linejoin="round"/>
<path d="M49.7,193.8L43.5,198.2L43.8,206.3L48.9,208.0L54.2,204.0L54.5,199.4Z" fill="rgb(102,113,255)" stroke="#e83a28" stroke-width="1.1" stroke-linejoin="round"/>
<path d="M48.9,208.0L50.8,213.6L57.5,217.2L61.3,211.0L54.2,204.0Z" fill="rgb(72,180,198)" stroke="#e83a28" stroke-width="1.1" stroke-linejoin="round"/>
<path d="M63.6,-7.9L62.7,-8.1L53.9,-20.0L58.0,-38.4L69.2,-16.2L63.9,-8.1Z" fill="rgb(83,92,210)" stroke="#e83a28" stroke-width="1.1" stroke-linejoin="round"/>
<path d="M76.9,-8.4L75.5,-16.0L69.2,-16.2L63.9,-8.1Z" fill="rgb(191,191,191)" stroke="#d83070" stroke-width="1.1" stroke-linejoin="round"/>
<path d="M62.7,5.3L67.8,0.8L63.6,-7.9L62.7,-8.1L54.5,-2.8L54.4,-2.2Z" fill="rgb(191,103,255)" stroke="#d83070" stroke-width="1.1" stroke-linejoin="round"/>
<path d="M61.2,8.9L66.3,16.7L68.2,16.6L76.5,4.9L76.4,3.7L67.8,0.8L62.7,5.3Z" fill="rgb(190,126,80)" stroke="#e83a28" stroke-width="1.1" stroke-linejoin="round"/>
<path d="M55.1,9.2L61.2,8.9L66.3,16.7L60.7,22.4L52.5,18.1Z" fill="rgb(156,164,63)" stroke="#d83070" stroke-width="1.1" stroke-linejoin="round"/>
<path d="M66.3,16.7L60.7,22.4L60.7,22.8L70.0,29.6L76.5,24.5L76.5,22.7L68.2,16.6Z" fill="rgb(80,89,203)" stroke="#e04a20" stroke-width="1.1" stroke-linejoin="round"/>
<path d="M57.6,30.4L60.7,22.8L70.0,29.6L68.7,34.9L61.1,37.8L58.1,34.9Z" fill="rgb(234,234,234)" stroke="#e83a28" stroke-width="1.1" stroke-linejoin="round"/>
<path d="M73.2,37.2L68.7,34.9L61.1,37.8L61.4,42.9L65.1,47.1L74.6,42.7Z" fill="rgb(69,163,77)" stroke="#e83a28" stroke-width="1.1" stroke-linejoin="round"/>
<path d="M61.4,42.9L52.9,48.3L59.1,58.3L61.2,58.3L66.3,52.5L65.1,47.1Z" fill="rgb(92,103,234)" stroke="#e83a28" stroke-width="1.1" stroke-linejoin="round"/>
<path d="M66.4,67.3L61.2,58.3L66.3,52.5L73.8,54.7L74.7,59.0Z" fill="rgb(90,212,100)" stroke="#e83a28" stroke-width="1.1" stroke-linejoin="round"/>
<path d="M53.4,69.8L56.6,59.7L59.1,58.3L61.2,58.3L66.4,67.3L66.4,67.4L65.0,68.6Z" fill="rgb(146,146,76)" stroke="#e83a28" stroke-width="1.1" stroke-linejoin="round"/>
<path d="M61.9,77.4L66.0,79.6L74.9,73.0L66.4,67.4L65.0,68.6Z" fill="rgb(131,194,79)" stroke="#e83a28" stroke-width="1.1" stroke-linejoin="round"/>
<path d="M54.5,79.8L54.6,82.4L60.1,89.3L68.1,85.5L66.0,79.6L61.9,77.4Z" fill="rgb(218,86,218)" stroke="#d83070" stroke-width="1.1" stroke-linejoin="round"/>
<path d="M69.3,99.6L68.7,99.6L59.8,94.4L60.1,89.3L68.1,85.5L76.3,88.2L76.1,93.1Z" fill="rgb(152,205,89)" stroke="#d83070" stroke-width="1.1" stroke-linejoin="round"/>
<path d="M68.7,99.6L59.8,94.4L53.0,98.8L57.4,108.5L61.4,108.8Z" fill="rgb(84,212,233)" stroke="#e83a28" stroke-width="1.1" stroke-linejoin="round"/>
<path d="M74.2,107.6L73.4,110.9L66.3,114.7L61.4,108.8L68.7,99.6L69.3,99.6Z" fill="rgb(186,222,80)" stroke="#e83a28" stroke-width="1.1" stroke-linejoin="round"/>
<path d="M66.3,114.7L61.4,108.8L57.4,108.5L55.7,110.2L55.9,120.7L62.7,124.7L62.8,124.6L65.6,120.5Z" fill="rgb(134,182,79)" stroke="#e04a20" stroke-width="1.1" stroke-linejoin="round"/>
<path d="M65.6,120.5L62.8,124.6L68.6,128.9L77.4,128.8L79.6,120.5Z" fill="rgb(165,92,232)" stroke="#e04a20" stroke-width="1.1" stroke-linejoin="round"/>
<path d="M58.1,137.1L63.2,143.4L64.5,143.4L69.3,137.0L68.6,128.9L62.8,124.6L62.7,124.7L58.9,130.5Z" fill="rgb(188,102,253)" stroke="#e83a28" stroke-width="1.1" stroke-linejoin="round"/>
<path d="M76.0,136.9L69.3,137.0L64.5,143.4L73.1,148.4L74.2,147.8Z" fill="rgb(118,118,255)" stroke="#e83a28" stroke-width="1.1" stroke-linejoin="round"/>
<path d="M60.5,159.2L58.4,153.3L58.6,149.7L63.2,143.4L64.5,143.4L73.1,148.4L72.8,154.4Z" fill="rgb(68,160,76)" stroke="#e83a28" stroke-width="1.1" stroke-linejoin="round"/>
<path d="M60.5,159.4L60.5,159.2L72.8,154.4L76.0,159.1L76.0,160.7L71.7,167.5L71.1,167.5Z" fill="rgb(168,177,68)" stroke="#e83a28" stroke-width="1.1" stroke-linejoin="round"/>
<path d="M60.5,159.4L71.1,167.5L63.5,173.8L57.6,170.9L56.8,163.8Z" fill="rgb(71,71,183)" stroke="#e83a28" stroke-width="1.1" stroke-linejoin="round"/>
<path d="M71.1,167.5L71.7,167.5L78.2,175.1L77.9,178.2L65.6,180.9L63.5,173.8Z" fill="rgb(87,205,97)" stroke="#e83a28" stroke-width="1.1" stroke-linejoin="round"/>
<path d="M64.5,183.1L53.4,181.0L50.0,191.3L50.1,191.4L64.3,189.0L64.8,188.4Z" fill="rgb(158,215,93)" stroke="#e83a28" stroke-width="1.1" stroke-linejoin="round"/>
<path d="M64.8,188.4L64.3,189.0L63.0,198.7L68.5,204.7L69.8,204.4L74.7,191.9Z" fill="rgb(77,191,108)" stroke="#e83a28" stroke-width="1.1" stroke-linejoin="round"/>
<path d="M54.5,199.4L54.2,204.0L61.3,211.0L66.0,208.6L68.5,204.7L63.0,198.7Z" fill="rgb(153,196,76)" stroke="#e83a28" stroke-width="1.1" stroke-linejoin="round"/>
<path d="M69.8,204.4L68.5,204.7L66.0,208.6L71.8,218.4L78.2,215.8L78.3,206.7Z" fill="rgb(184,250,108)" stroke="#e83a28" stroke-width="1.1" stroke-linejoin="round"/>
<path d="M80.6,-4.3L84.8,-6.7L86.7,-11.6L81.1,-22.1L75.5,-16.0L76.9,-8.4Z" fill="rgb(114,69,195)" stroke="#e83a28" stroke-width="1.1" stroke-linejoin="round"/>
<path d="M76.4,3.7L79.3,-0.2L80.6,-4.3L76.9,-8.4L63.9,-8.1L63.6,-7.9L67.8,0.8Z" fill="rgb(215,226,87)" stroke="#e83a28" stroke-width="1.1" stroke-linejoin="round"/>
<path d="M84.4,13.3L76.5,4.9L76.4,3.7L79.3,-0.2L94.0,5.3L94.0,6.1L91.8,9.2Z" fill="rgb(164,164,164)" stroke="#e83a28" stroke-width="1.1" stroke-linejoin="round"/>
<path d="M84.1,17.0L76.5,22.7L68.2,16.6L76.5,4.9L84.4,13.3Z" fill="rgb(178,96,239)" stroke="#e04a20" stroke-width="1.1" stroke-linejoin="round"/>
<path d="M78.9,28.0L76.5,24.5L76.5,22.7L84.1,17.0L87.8,20.2L91.4,24.8L91.5,26.3Z" fill="rgb(71,179,196)" stroke="#e83a28" stroke-width="1.1" stroke-linejoin="round"/>
<path d="M80.1,33.2L73.2,37.2L68.7,34.9L70.0,29.6L76.5,24.5L78.9,28.0Z" fill="rgb(179,140,83)" stroke="#e04a20" stroke-width="1.1" stroke-linejoin="round"/>
<path d="M80.1,33.2L73.2,37.2L74.6,42.7L81.6,47.3L86.5,40.2L86.5,37.6Z" fill="rgb(83,207,228)" stroke="#e04a20" stroke-width="1.1" stroke-linejoin="round"/>
<path d="M74.6,42.7L65.1,47.1L66.3,52.5L73.8,54.7L81.6,48.8L81.6,47.3Z" fill="rgb(108,108,239)" stroke="#d83070" stroke-width="1.1" stroke-linejoin="round"/>
<path d="M85.8,53.0L86.2,59.8L81.2,65.1L81.1,65.1L74.7,59.0L73.8,54.7L81.6,48.8Z" fill="rgb(184,100,247)" stroke="#e83a28" stroke-width="1.1" stroke-linejoin="round"/>
<path d="M66.4,67.4L74.9,73.0L76.4,73.3L81.1,65.1L74.7,59.0L66.4,67.3Z" fill="rgb(163,208,81)" stroke="#e83a28" stroke-width="1.1" stroke-linejoin="round"/>
<path d="M81.4,81.6L76.4,73.3L81.1,65.1L81.2,65.1L90.0,70.3L88.5,76.6Z" fill="rgb(134,75,189)" stroke="#e83a28" stroke-width="1.1" stroke-linejoin="round"/>
<path d="M81.4,81.9L76.3,88.2L68.1,85.5L66.0,79.6L74.9,73.0L76.4,73.3L81.4,81.6Z" fill="rgb(176,138,81)" stroke="#e04a20" stroke-width="1.1" stroke-linejoin="round"/>
<path d="M89.5,94.5L85.1,100.1L76.1,93.1L76.3,88.2L81.4,81.9L87.1,85.6Z" fill="rgb(146,174,63)" stroke="#d83070" stroke-width="1.1" stroke-linejoin="round"/>
<path d="M86.5,104.5L85.1,100.1L76.1,93.1L69.3,99.6L74.2,107.6L86.4,104.7Z" fill="rgb(209,164,97)" stroke="#e04a20" stroke-width="1.1" stroke-linejoin="round"/>
<path d="M87.4,110.7L86.4,104.7L74.2,107.6L73.4,110.9L80.0,118.0Z" fill="rgb(75,187,106)" stroke="#e83a28" stroke-width="1.1" stroke-linejoin="round"/>
<path d="M79.7,120.4L79.6,120.5L65.6,120.5L66.3,114.7L73.4,110.9L80.0,118.0Z" fill="rgb(187,187,97)" stroke="#e04a20" stroke-width="1.1" stroke-linejoin="round"/>
<path d="M87.7,123.9L87.4,128.2L79.5,132.3L77.4,128.8L79.6,120.5L79.7,120.4Z" fill="rgb(171,134,79)" stroke="#e04a20" stroke-width="1.1" stroke-linejoin="round"/>
<path d="M79.8,134.4L76.0,136.9L69.3,137.0L68.6,128.9L77.4,128.8L79.5,132.3Z" fill="rgb(78,86,197)" stroke="#e04a20" stroke-width="1.1" stroke-linejoin="round"/>
<path d="M79.8,134.4L76.0,136.9L74.2,147.8L86.9,145.7L86.2,140.4Z" fill="rgb(204,215,83)" stroke="#d83070" stroke-width="1.1" stroke-linejoin="round"/>
<path d="M76.0,159.1L87.8,154.6L87.4,146.2L86.9,145.7L74.2,147.8L73.1,148.4L72.8,154.4Z" fill="rgb(173,182,70)" stroke="#e83a28" stroke-width="1.1" stroke-linejoin="round"/>
<path d="M76.0,160.7L84.1,165.9L90.0,157.8L87.8,154.6L76.0,159.1Z" fill="rgb(131,73,185)" stroke="#d83070" stroke-width="1.1" stroke-linejoin="round"/>
<path d="M76.0,160.7L84.1,165.9L84.6,169.9L78.2,175.1L71.7,167.5Z" fill="rgb(89,211,100)" stroke="#e83a28" stroke-width="1.1" stroke-linejoin="round"/>
<path d="M84.6,169.9L89.1,171.1L92.5,177.9L91.7,180.1L79.5,180.7L77.9,178.2L78.2,175.1Z" fill="rgb(178,140,83)" stroke="#e83a28" stroke-width="1.1" stroke-linejoin="round"/>
<path d="M65.6,180.9L77.9,178.2L79.5,180.7L79.5,187.3L75.9,191.5L74.7,191.9L64.8,188.4L64.5,183.1Z" fill="rgb(167,199,72)" stroke="#e83a28" stroke-width="1.1" stroke-linejoin="round"/>
<path d="M75.9,191.5L82.1,199.6L89.0,196.4L85.8,189.9L79.5,187.3Z" fill="rgb(129,191,77)" stroke="#d83070" stroke-width="1.1" stroke-linejoin="round"/>
<path d="M74.7,191.9L69.8,204.4L78.3,206.7L79.9,206.0L82.1,199.6L75.9,191.5Z" fill="rgb(131,79,224)" stroke="#e83a28" stroke-width="1.1" stroke-linejoin="round"/>
<path d="M79.9,206.0L90.3,209.2L90.7,211.6L89.3,215.4L84.3,220.2L78.2,215.8L78.3,206.7Z" fill="rgb(120,67,169)" stroke="#e04a20" stroke-width="1.1" stroke-linejoin="round"/>
<path d="M81.1,-22.1L100.2,-114.5L98.9,-34.0L93.1,-13.8L86.7,-11.6Z" fill="rgb(175,116,73)" stroke="#e83a28" stroke-width="1.1" stroke-linejoin="round"/>
<path d="M97.3,-8.2L92.4,-3.1L84.8,-6.7L86.7,-11.6L93.1,-13.8L97.4,-9.4Z" fill="rgb(85,94,214)" stroke="#e04a20" stroke-width="1.1" stroke-linejoin="round"/>
<path d="M80.6,-4.3L84.8,-6.7L92.4,-3.1L94.6,4.0L94.0,5.3L79.3,-0.2Z" fill="rgb(114,168,68)" stroke="#e83a28" stroke-width="1.1" stroke-linejoin="round"/>
<path d="M87.8,20.2L95.0,15.4L91.8,9.2L84.4,13.3L84.1,17.0Z" fill="rgb(170,92,228)" stroke="#d83070" stroke-width="1.1" stroke-linejoin="round"/>
<path d="M80.1,33.2L86.5,37.6L93.0,30.6L91.5,26.3L78.9,28.0Z" fill="rgb(172,172,172)" stroke="#e83a28" stroke-width="1.1" stroke-linejoin="round"/>
<path d="M81.6,47.3L81.6,48.8L85.8,53.0L91.4,52.2L93.7,43.6L86.5,40.2Z" fill="rgb(158,88,222)" stroke="#e83a28" stroke-width="1.1" stroke-linejoin="round"/>
<path d="M91.7,52.3L97.4,58.9L96.6,61.4L94.6,62.9L86.2,59.8L85.8,53.0L91.4,52.2Z" fill="rgb(103,103,227)" stroke="#d83070" stroke-width="1.1" stroke-linejoin="round"/>
<path d="M93.8,67.7L90.0,70.3L81.2,65.1L86.2,59.8L94.6,62.9Z" fill="rgb(120,178,72)" stroke="#d83070" stroke-width="1.1" stroke-linejoin="round"/>
<path d="M87.1,85.6L81.4,81.9L81.4,81.6L88.5,76.6L96.9,78.2L94.9,86.1Z" fill="rgb(191,244,95)" stroke="#e04a20" stroke-width="1.1" stroke-linejoin="round"/>
<path d="M97.5,90.2L97.0,88.3L94.9,86.1L87.1,85.6L89.5,94.5L94.8,93.7Z" fill="rgb(63,158,89)" stroke="#e04a20" stroke-width="1.1" stroke-linejoin="round"/>
<path d="M94.8,93.7L89.5,94.5L85.1,100.1L86.5,104.5L97.3,102.2L97.5,102.0Z" fill="rgb(101,149,60)" stroke="#e83a28" stroke-width="1.1" stroke-linejoin="round"/>
<path d="M95.3,117.3L93.6,121.3L87.7,123.9L79.7,120.4L80.0,118.0L87.4,110.7L95.4,116.5Z" fill="rgb(129,72,181)" stroke="#e83a28" stroke-width="1.1" stroke-linejoin="round"/>
<path d="M93.6,121.3L97.1,130.1L96.9,132.0L92.0,133.5L87.4,128.2L87.7,123.9Z" fill="rgb(225,89,225)" stroke="#d83070" stroke-width="1.1" stroke-linejoin="round"/>
<path d="M92.0,133.5L86.2,140.4L79.8,134.4L79.5,132.3L87.4,128.2Z" fill="rgb(86,204,97)" stroke="#e83a28" stroke-width="1.1" stroke-linejoin="round"/>
<path d="M84.1,165.9L90.0,157.8L94.2,159.8L92.6,168.2L89.1,171.1L84.6,169.9Z" fill="rgb(139,139,72)" stroke="#d83070" stroke-width="1.1" stroke-linejoin="round"/>
<path d="M79.5,187.3L85.8,189.9L93.5,184.3L91.7,180.1L79.5,180.7Z" fill="rgb(149,117,69)" stroke="#e83a28" stroke-width="1.1" stroke-linejoin="round"/>
<path d="M93.5,184.3L85.8,189.9L89.0,196.4L90.7,197.1L96.5,189.5L94.7,185.2Z" fill="rgb(107,107,236)" stroke="#e04a20" stroke-width="1.1" stroke-linejoin="round"/>
<path d="M82.1,199.6L89.0,196.4L90.7,197.1L93.7,201.2L93.8,204.1L90.3,209.2L79.9,206.0Z" fill="rgb(174,94,234)" stroke="#e83a28" stroke-width="1.1" stroke-linejoin="round"/>
<path d="M87.8,20.2L91.4,24.8L96.9,20.4L97.9,17.9L95.0,15.4Z" fill="rgb(130,130,130)" stroke="#e83a28" stroke-width="1.1" stroke-linejoin="round"/>
<path d="M91.7,52.3L97.8,49.9L96.7,43.7L93.7,43.6L91.4,52.2Z" fill="rgb(116,46,111)" stroke="#e83a28" stroke-width="1.1" stroke-linejoin="round"/>
<path d="M98.6,72.1L97.7,77.7L96.9,78.2L88.5,76.6L90.0,70.3L93.8,67.7Z" fill="rgb(47,132,118)" stroke="#e83a28" stroke-width="1.1" stroke-linejoin="round"/>
<path d="M92.6,168.2L99.5,171.2L99.5,174.6L92.5,177.9L89.1,171.1Z" fill="rgb(97,56,135)" stroke="#e83a28" stroke-width="1.1" stroke-linejoin="round"/>
<path d="M104.1,-13.7L98.9,-34.0L93.1,-13.8L97.4,-9.4Z" fill="rgb(44,93,50)" stroke="#e83a28" stroke-width="1.1" stroke-linejoin="round"/>
<path d="M104.5,-6.1L101.0,-4.9L97.3,-8.2L97.4,-9.4L104.1,-13.7L106.7,-11.9Z" fill="rgb(107,58,141)" stroke="#e83a28" stroke-width="1.1" stroke-linejoin="round"/>
<path d="M97.3,-8.2L92.4,-3.1L94.6,4.0L101.2,1.1L101.0,-4.9Z" fill="rgb(80,116,48)" stroke="#e83a28" stroke-width="1.1" stroke-linejoin="round"/>
<path d="M106.4,9.1L101.3,11.1L94.0,6.1L94.0,5.3L94.6,4.0L101.2,1.1L104.8,2.0Z" fill="rgb(42,117,105)" stroke="#e83a28" stroke-width="1.1" stroke-linejoin="round"/>
<path d="M95.0,15.4L97.9,17.9L100.7,16.4L101.3,11.1L94.0,6.1L91.8,9.2Z" fill="rgb(48,103,128)" stroke="#e83a28" stroke-width="1.1" stroke-linejoin="round"/>
<path d="M106.8,23.4L102.7,24.8L96.9,20.4L97.9,17.9L100.7,16.4L104.6,18.4Z" fill="rgb(123,66,161)" stroke="#e04a20" stroke-width="1.1" stroke-linejoin="round"/>
<path d="M93.0,30.6L95.8,31.3L99.1,29.4L102.7,24.8L96.9,20.4L91.4,24.8L91.5,26.3Z" fill="rgb(72,41,100)" stroke="#e83a28" stroke-width="1.1" stroke-linejoin="round"/>
<path d="M95.8,31.3L101.6,39.1L106.1,37.2L106.4,31.3L99.1,29.4Z" fill="rgb(48,48,117)" stroke="#e83a28" stroke-width="1.1" stroke-linejoin="round"/>
<path d="M86.5,37.6L86.5,40.2L93.7,43.6L96.7,43.7L101.0,41.0L101.6,39.1L95.8,31.3L93.0,30.6Z" fill="rgb(110,110,110)" stroke="#e83a28" stroke-width="1.1" stroke-linejoin="round"/>
<path d="M96.7,43.7L101.0,41.0L105.4,47.2L105.2,48.9L100.4,51.9L97.8,49.9Z" fill="rgb(45,126,113)" stroke="#e83a28" stroke-width="1.1" stroke-linejoin="round"/>
<path d="M91.7,52.3L97.4,58.9L100.0,56.7L100.4,51.9L97.8,49.9Z" fill="rgb(118,47,118)" stroke="#d83070" stroke-width="1.1" stroke-linejoin="round"/>
<path d="M101.8,64.3L107.0,63.2L106.5,57.8L100.0,56.7L97.4,58.9L96.6,61.4Z" fill="rgb(59,65,145)" stroke="#e83a28" stroke-width="1.1" stroke-linejoin="round"/>
<path d="M102.1,70.6L101.8,64.3L96.6,61.4L94.6,62.9L93.8,67.7L98.6,72.1Z" fill="rgb(138,54,131)" stroke="#e83a28" stroke-width="1.1" stroke-linejoin="round"/>
<path d="M102.1,70.6L107.3,71.7L104.9,77.9L102.7,79.7L97.7,77.7L98.6,72.1Z" fill="rgb(64,92,38)" stroke="#d83070" stroke-width="1.1" stroke-linejoin="round"/>
<path d="M102.7,79.7L103.8,83.2L97.0,88.3L94.9,86.1L96.9,78.2L97.7,77.7Z" fill="rgb(37,104,93)" stroke="#e83a28" stroke-width="1.1" stroke-linejoin="round"/>
<path d="M103.7,93.0L97.5,90.2L97.0,88.3L103.8,83.2L107.4,85.7L104.1,92.8Z" fill="rgb(37,106,94)" stroke="#e83a28" stroke-width="1.1" stroke-linejoin="round"/>
<path d="M103.7,93.0L97.5,90.2L94.8,93.7L97.5,102.0L103.0,99.5Z" fill="rgb(50,50,106)" stroke="#e83a28" stroke-width="1.1" stroke-linejoin="round"/>
<path d="M103.0,99.5L97.5,102.0L97.3,102.2L100.8,111.5L108.2,106.7L106.4,101.6Z" fill="rgb(76,109,45)" stroke="#e04a20" stroke-width="1.1" stroke-linejoin="round"/>
<path d="M95.4,116.5L87.4,110.7L86.4,104.7L86.5,104.5L97.3,102.2L100.8,111.5L100.3,113.1Z" fill="rgb(95,51,125)" stroke="#e04a20" stroke-width="1.1" stroke-linejoin="round"/>
<path d="M108.8,122.5L105.0,115.8L100.3,113.1L95.4,116.5L95.3,117.3L101.9,122.5Z" fill="rgb(39,110,98)" stroke="#e83a28" stroke-width="1.1" stroke-linejoin="round"/>
<path d="M101.9,122.5L95.3,117.3L93.6,121.3L97.1,130.1L100.5,127.5Z" fill="rgb(105,45,51)" stroke="#d83070" stroke-width="1.1" stroke-linejoin="round"/>
<path d="M107.1,126.7L107.2,134.4L100.9,135.7L96.9,132.0L97.1,130.1L100.5,127.5Z" fill="rgb(99,51,126)" stroke="#d83070" stroke-width="1.1" stroke-linejoin="round"/>
<path d="M100.0,141.4L100.9,135.7L96.9,132.0L92.0,133.5L86.2,140.4L86.9,145.7L87.4,146.2L95.1,145.6Z" fill="rgb(87,50,120)" stroke="#d83070" stroke-width="1.1" stroke-linejoin="round"/>
<path d="M106.3,148.5L99.4,150.5L95.1,145.6L100.0,141.4L103.3,143.6Z" fill="rgb(137,54,130)" stroke="#d83070" stroke-width="1.1" stroke-linejoin="round"/>
<path d="M90.0,157.8L87.8,154.6L87.4,146.2L95.1,145.6L99.4,150.5L99.5,156.2L97.1,159.6L94.2,159.8Z" fill="rgb(49,49,104)" stroke="#d83070" stroke-width="1.1" stroke-linejoin="round"/>
<path d="M107.6,154.6L99.5,156.2L97.1,159.6L98.3,160.7L105.6,162.1L108.9,156.3Z" fill="rgb(120,47,114)" stroke="#e83a28" stroke-width="1.1" stroke-linejoin="round"/>
<path d="M94.2,159.8L97.1,159.6L98.3,160.7L100.8,169.0L99.5,171.2L92.6,168.2Z" fill="rgb(137,54,131)" stroke="#e83a28" stroke-width="1.1" stroke-linejoin="round"/>
<path d="M99.5,174.6L99.5,171.2L100.8,169.0L108.1,167.7L108.8,174.5L107.6,176.0L101.3,175.9Z" fill="rgb(107,45,52)" stroke="#e83a28" stroke-width="1.1" stroke-linejoin="round"/>
<path d="M92.5,177.9L99.5,174.6L101.3,175.9L101.4,182.5L94.7,185.2L93.5,184.3L91.7,180.1Z" fill="rgb(78,45,108)" stroke="#e83a28" stroke-width="1.1" stroke-linejoin="round"/>
<path d="M94.7,185.2L96.5,189.5L101.8,191.8L103.9,190.5L104.0,183.9L101.4,182.5Z" fill="rgb(93,50,122)" stroke="#d83070" stroke-width="1.1" stroke-linejoin="round"/>
<path d="M93.7,201.2L101.7,196.6L101.8,191.8L96.5,189.5L90.7,197.1Z" fill="rgb(56,122,151)" stroke="#e83a28" stroke-width="1.1" stroke-linejoin="round"/>
<path d="M93.7,201.2L101.7,196.6L105.9,200.2L105.8,201.3L101.4,206.5L93.8,204.1Z" fill="rgb(60,66,148)" stroke="#e83a28" stroke-width="1.1" stroke-linejoin="round"/>
<path d="M93.8,204.1L101.4,206.5L103.1,210.0L97.9,214.2L90.7,211.6L90.3,209.2Z" fill="rgb(55,119,147)" stroke="#e83a28" stroke-width="1.1" stroke-linejoin="round"/>
<path d="M97.9,214.2L103.1,210.0L106.8,211.9L104.7,230.6L103.3,228.3Z" fill="rgb(41,41,100)" stroke="#e83a28" stroke-width="1.1" stroke-linejoin="round"/>
<path d="M106.7,-11.9L104.1,-13.7L98.9,-34.0L100.2,-114.5L118.2,-288.9L122.5,-187.3L124.4,-63.2L109.1,-11.7Z" fill="rgb(97,41,47)" stroke="#d83070" stroke-width="1.1" stroke-linejoin="round"/>
<path d="M104.5,-6.1L106.7,-11.9L109.1,-11.7L112.0,-10.0L112.1,-8.1L108.6,-2.3Z" fill="rgb(40,40,97)" stroke="#e83a28" stroke-width="1.1" stroke-linejoin="round"/>
<path d="M104.5,-6.1L101.0,-4.9L101.2,1.1L104.8,2.0L108.6,-0.4L108.6,-2.3Z" fill="rgb(109,43,103)" stroke="#e83a28" stroke-width="1.1" stroke-linejoin="round"/>
<path d="M110.4,11.0L106.4,9.1L104.8,2.0L108.6,-0.4L115.4,2.7L114.4,7.8Z" fill="rgb(110,43,105)" stroke="#e83a28" stroke-width="1.1" stroke-linejoin="round"/>
<path d="M110.5,11.9L104.6,18.4L100.7,16.4L101.3,11.1L106.4,9.1L110.4,11.0Z" fill="rgb(97,50,124)" stroke="#d83070" stroke-width="1.1" stroke-linejoin="round"/>
<path d="M110.5,11.9L104.6,18.4L106.8,23.4L108.7,24.2L112.8,21.6L113.6,17.4Z" fill="rgb(81,117,48)" stroke="#e04a20" stroke-width="1.1" stroke-linejoin="round"/>
<path d="M108.7,24.2L109.3,27.5L106.4,31.3L99.1,29.4L102.7,24.8L106.8,23.4Z" fill="rgb(127,127,127)" stroke="#e04a20" stroke-width="1.1" stroke-linejoin="round"/>
<path d="M109.3,27.5L106.4,31.3L106.1,37.2L110.4,38.2L115.2,32.6Z" fill="rgb(82,118,49)" stroke="#e83a28" stroke-width="1.1" stroke-linejoin="round"/>
<path d="M101.0,41.0L105.4,47.2L113.5,43.9L110.4,38.2L106.1,37.2L101.6,39.1Z" fill="rgb(43,89,48)" stroke="#d83070" stroke-width="1.1" stroke-linejoin="round"/>
<path d="M108.7,53.2L105.2,48.9L105.4,47.2L113.5,43.9L113.9,44.1L113.2,50.9Z" fill="rgb(54,113,61)" stroke="#d83070" stroke-width="1.1" stroke-linejoin="round"/>
<path d="M108.4,56.1L106.5,57.8L100.0,56.7L100.4,51.9L105.2,48.9L108.7,53.2Z" fill="rgb(59,66,147)" stroke="#e83a28" stroke-width="1.1" stroke-linejoin="round"/>
<path d="M115.4,58.9L115.9,60.2L115.2,63.7L109.9,65.8L107.0,63.2L106.5,57.8L108.4,56.1Z" fill="rgb(80,34,39)" stroke="#d83070" stroke-width="1.1" stroke-linejoin="round"/>
<path d="M102.1,70.6L107.3,71.7L108.5,71.2L109.9,65.8L107.0,63.2L101.8,64.3Z" fill="rgb(108,58,142)" stroke="#e83a28" stroke-width="1.1" stroke-linejoin="round"/>
<path d="M104.9,77.9L110.0,79.5L114.0,75.2L108.5,71.2L107.3,71.7Z" fill="rgb(104,54,133)" stroke="#e83a28" stroke-width="1.1" stroke-linejoin="round"/>
<path d="M104.9,77.9L110.0,79.5L109.8,85.4L107.4,85.7L103.8,83.2L102.7,79.7Z" fill="rgb(144,57,144)" stroke="#e83a28" stroke-width="1.1" stroke-linejoin="round"/>
<path d="M104.1,92.8L107.4,85.7L109.8,85.4L112.1,86.1L114.4,92.7L112.4,94.4Z" fill="rgb(52,58,129)" stroke="#e83a28" stroke-width="1.1" stroke-linejoin="round"/>
<path d="M103.7,93.0L103.0,99.5L106.4,101.6L111.7,98.2L112.4,94.4L104.1,92.8Z" fill="rgb(38,108,96)" stroke="#e83a28" stroke-width="1.1" stroke-linejoin="round"/>
<path d="M114.6,106.3L113.6,100.2L111.7,98.2L106.4,101.6L108.2,106.7L109.8,107.3Z" fill="rgb(100,52,127)" stroke="#e83a28" stroke-width="1.1" stroke-linejoin="round"/>
<path d="M109.8,107.3L108.2,106.7L100.8,111.5L100.3,113.1L105.0,115.8L110.5,113.1Z" fill="rgb(46,96,52)" stroke="#e04a20" stroke-width="1.1" stroke-linejoin="round"/>
<path d="M114.8,116.5L114.4,120.2L109.9,122.7L109.1,122.7L108.8,122.5L105.0,115.8L110.5,113.1Z" fill="rgb(40,86,107)" stroke="#e83a28" stroke-width="1.1" stroke-linejoin="round"/>
<path d="M108.8,122.5L101.9,122.5L100.5,127.5L107.1,126.7L109.1,122.7Z" fill="rgb(40,112,100)" stroke="#d83070" stroke-width="1.1" stroke-linejoin="round"/>
<path d="M109.1,122.7L109.9,122.7L115.6,132.4L115.5,133.4L110.3,135.7L107.2,134.4L107.1,126.7Z" fill="rgb(86,124,51)" stroke="#e83a28" stroke-width="1.1" stroke-linejoin="round"/>
<path d="M103.3,143.6L100.0,141.4L100.9,135.7L107.2,134.4L110.3,135.7L110.7,140.4Z" fill="rgb(51,110,137)" stroke="#e83a28" stroke-width="1.1" stroke-linejoin="round"/>
<path d="M113.3,146.0L110.7,140.4L103.3,143.6L106.3,148.5L107.7,149.2Z" fill="rgb(39,39,82)" stroke="#e83a28" stroke-width="1.1" stroke-linejoin="round"/>
<path d="M107.6,154.6L99.5,156.2L99.4,150.5L106.3,148.5L107.7,149.2Z" fill="rgb(122,122,122)" stroke="#e04a20" stroke-width="1.1" stroke-linejoin="round"/>
<path d="M108.9,156.3L105.6,162.1L108.6,167.0L111.0,166.2L114.2,162.6L112.8,157.5Z" fill="rgb(106,45,52)" stroke="#e83a28" stroke-width="1.1" stroke-linejoin="round"/>
<path d="M108.6,167.0L108.1,167.7L100.8,169.0L98.3,160.7L105.6,162.1Z" fill="rgb(100,52,128)" stroke="#e83a28" stroke-width="1.1" stroke-linejoin="round"/>
<path d="M115.1,174.9L108.8,174.5L108.1,167.7L108.6,167.0L111.0,166.2L116.7,171.3Z" fill="rgb(78,41,100)" stroke="#e04a20" stroke-width="1.1" stroke-linejoin="round"/>
<path d="M101.3,175.9L107.6,176.0L108.8,181.9L104.0,183.9L101.4,182.5Z" fill="rgb(53,114,141)" stroke="#e83a28" stroke-width="1.1" stroke-linejoin="round"/>
<path d="M104.0,183.9L108.8,181.9L113.2,184.7L111.7,190.6L111.2,191.1L103.9,190.5Z" fill="rgb(89,51,123)" stroke="#e83a28" stroke-width="1.1" stroke-linejoin="round"/>
<path d="M101.8,191.8L103.9,190.5L111.2,191.1L110.6,197.4L105.9,200.2L101.7,196.6Z" fill="rgb(40,40,96)" stroke="#e83a28" stroke-width="1.1" stroke-linejoin="round"/>
<path d="M115.1,200.6L114.7,205.2L111.9,207.7L105.8,201.3L105.9,200.2L110.6,197.4Z" fill="rgb(106,55,135)" stroke="#d83070" stroke-width="1.1" stroke-linejoin="round"/>
<path d="M105.8,201.3L101.4,206.5L103.1,210.0L106.8,211.9L111.2,209.9L111.9,207.7Z" fill="rgb(127,50,127)" stroke="#e83a28" stroke-width="1.1" stroke-linejoin="round"/>
<path d="M106.8,211.9L104.7,230.6L109.7,248.0L116.2,214.8L111.2,209.9Z" fill="rgb(131,52,131)" stroke="#e83a28" stroke-width="1.1" stroke-linejoin="round"/>
<path d="M112.0,-10.0L118.0,-12.9L124.9,-54.4L124.4,-63.2L109.1,-11.7Z" fill="rgb(65,72,161)" stroke="#e83a28" stroke-width="1.1" stroke-linejoin="round"/>
<path d="M112.0,-10.0L118.0,-12.9L119.0,-11.9L121.9,-6.5L119.0,-0.3L112.1,-8.1Z" fill="rgb(81,47,113)" stroke="#e83a28" stroke-width="1.1" stroke-linejoin="round"/>
<path d="M108.6,-2.3L108.6,-0.4L115.4,2.7L119.0,0.0L119.0,-0.3L112.1,-8.1Z" fill="rgb(69,100,41)" stroke="#e83a28" stroke-width="1.1" stroke-linejoin="round"/>
<path d="M114.4,7.8L115.4,2.7L119.0,0.0L120.7,0.9L123.8,6.6L119.5,10.8Z" fill="rgb(152,152,152)" stroke="#e83a28" stroke-width="1.1" stroke-linejoin="round"/>
<path d="M110.5,11.9L113.6,17.4L121.5,15.2L119.5,10.8L114.4,7.8L110.4,11.0Z" fill="rgb(113,61,149)" stroke="#e83a28" stroke-width="1.1" stroke-linejoin="round"/>
<path d="M113.6,17.4L112.8,21.6L119.9,24.8L123.7,22.2L123.2,16.2L121.5,15.2Z" fill="rgb(47,101,125)" stroke="#e83a28" stroke-width="1.1" stroke-linejoin="round"/>
<path d="M108.7,24.2L109.3,27.5L115.2,32.6L115.5,32.5L119.4,27.8L119.9,24.8L112.8,21.6Z" fill="rgb(57,63,141)" stroke="#e04a20" stroke-width="1.1" stroke-linejoin="round"/>
<path d="M115.5,32.5L121.1,37.6L124.2,36.9L124.7,32.1L119.4,27.8Z" fill="rgb(76,44,106)" stroke="#e83a28" stroke-width="1.1" stroke-linejoin="round"/>
<path d="M115.2,32.6L110.4,38.2L113.5,43.9L113.9,44.1L117.7,43.8L121.1,37.6L115.5,32.5Z" fill="rgb(35,35,86)" stroke="#d83070" stroke-width="1.1" stroke-linejoin="round"/>
<path d="M116.7,53.7L123.2,50.7L122.5,48.2L117.7,43.8L113.9,44.1L113.2,50.9Z" fill="rgb(37,37,90)" stroke="#e83a28" stroke-width="1.1" stroke-linejoin="round"/>
<path d="M116.7,53.7L113.2,50.9L108.7,53.2L108.4,56.1L115.4,58.9Z" fill="rgb(50,50,107)" stroke="#e83a28" stroke-width="1.1" stroke-linejoin="round"/>
<path d="M115.9,60.2L123.5,58.7L125.9,64.4L118.5,66.7L115.2,63.7Z" fill="rgb(37,37,79)" stroke="#d83070" stroke-width="1.1" stroke-linejoin="round"/>
<path d="M115.6,75.5L114.0,75.2L108.5,71.2L109.9,65.8L115.2,63.7L118.5,66.7L118.8,72.6Z" fill="rgb(122,66,160)" stroke="#e83a28" stroke-width="1.1" stroke-linejoin="round"/>
<path d="M123.3,73.5L118.8,72.6L115.6,75.5L116.8,79.0L123.7,79.3Z" fill="rgb(45,93,50)" stroke="#e83a28" stroke-width="1.1" stroke-linejoin="round"/>
<path d="M116.8,79.0L116.8,82.9L112.1,86.1L109.8,85.4L110.0,79.5L114.0,75.2L115.6,75.5Z" fill="rgb(84,121,50)" stroke="#e83a28" stroke-width="1.1" stroke-linejoin="round"/>
<path d="M121.8,85.7L116.8,82.9L112.1,86.1L114.4,92.7L120.0,93.4L121.1,92.6Z" fill="rgb(113,48,55)" stroke="#e83a28" stroke-width="1.1" stroke-linejoin="round"/>
<path d="M112.4,94.4L114.4,92.7L120.0,93.4L120.6,99.0L113.6,100.2L111.7,98.2Z" fill="rgb(76,110,45)" stroke="#e83a28" stroke-width="1.1" stroke-linejoin="round"/>
<path d="M116.9,107.1L119.9,105.9L121.0,99.9L120.6,99.0L113.6,100.2L114.6,106.3Z" fill="rgb(35,97,87)" stroke="#e04a20" stroke-width="1.1" stroke-linejoin="round"/>
<path d="M116.9,107.1L116.8,114.2L114.8,116.5L110.5,113.1L109.8,107.3L114.6,106.3Z" fill="rgb(95,40,46)" stroke="#e83a28" stroke-width="1.1" stroke-linejoin="round"/>
<path d="M125.1,118.7L117.7,122.0L114.4,120.2L114.8,116.5L116.8,114.2L124.2,114.6Z" fill="rgb(41,41,99)" stroke="#e83a28" stroke-width="1.1" stroke-linejoin="round"/>
<path d="M117.7,122.0L119.2,125.7L115.6,132.4L109.9,122.7L114.4,120.2Z" fill="rgb(87,45,110)" stroke="#d83070" stroke-width="1.1" stroke-linejoin="round"/>
<path d="M125.5,127.6L120.9,134.9L119.8,135.6L115.5,133.4L115.6,132.4L119.2,125.7Z" fill="rgb(47,52,116)" stroke="#e83a28" stroke-width="1.1" stroke-linejoin="round"/>
<path d="M113.3,146.0L110.7,140.4L110.3,135.7L115.5,133.4L119.8,135.6L120.8,139.8L114.5,146.3Z" fill="rgb(114,45,114)" stroke="#e83a28" stroke-width="1.1" stroke-linejoin="round"/>
<path d="M124.5,149.4L123.8,141.6L120.8,139.8L114.5,146.3L116.5,148.7Z" fill="rgb(47,102,126)" stroke="#d83070" stroke-width="1.1" stroke-linejoin="round"/>
<path d="M116.5,148.7L114.5,146.3L113.3,146.0L107.7,149.2L107.6,154.6L108.9,156.3L112.8,157.5L116.0,154.8Z" fill="rgb(46,99,123)" stroke="#e83a28" stroke-width="1.1" stroke-linejoin="round"/>
<path d="M121.8,157.2L120.9,162.0L119.4,163.6L114.2,162.6L112.8,157.5L116.0,154.8Z" fill="rgb(104,41,99)" stroke="#e83a28" stroke-width="1.1" stroke-linejoin="round"/>
<path d="M119.4,163.6L114.2,162.6L111.0,166.2L116.7,171.3L121.1,169.1Z" fill="rgb(43,43,92)" stroke="#e83a28" stroke-width="1.1" stroke-linejoin="round"/>
<path d="M122.7,169.9L124.1,174.9L118.1,180.4L115.1,174.9L116.7,171.3L121.1,169.1Z" fill="rgb(156,62,156)" stroke="#d83070" stroke-width="1.1" stroke-linejoin="round"/>
<path d="M115.1,174.9L108.8,174.5L107.6,176.0L108.8,181.9L113.2,184.7L117.9,182.2L118.1,180.4Z" fill="rgb(104,56,137)" stroke="#e83a28" stroke-width="1.1" stroke-linejoin="round"/>
<path d="M118.8,193.5L122.9,187.9L122.7,185.4L117.9,182.2L113.2,184.7L111.7,190.6Z" fill="rgb(87,50,122)" stroke="#d83070" stroke-width="1.1" stroke-linejoin="round"/>
<path d="M120.2,197.6L115.1,200.6L110.6,197.4L111.2,191.1L111.7,190.6L118.8,193.5Z" fill="rgb(85,44,108)" stroke="#e83a28" stroke-width="1.1" stroke-linejoin="round"/>
<path d="M120.2,197.6L123.5,198.9L124.4,203.2L120.4,206.9L114.7,205.2L115.1,200.6Z" fill="rgb(88,46,113)" stroke="#e83a28" stroke-width="1.1" stroke-linejoin="round"/>
<path d="M114.7,205.2L111.9,207.7L111.2,209.9L116.2,214.8L121.4,212.7L120.4,206.9Z" fill="rgb(47,47,100)" stroke="#e83a28" stroke-width="1.1" stroke-linejoin="round"/>
<path d="M119.0,-11.9L127.3,-12.7L125.8,-50.2L124.9,-54.4L118.0,-12.9Z" fill="rgb(107,58,141)" stroke="#e04a20" stroke-width="1.1" stroke-linejoin="round"/>
<path d="M119.0,-11.9L127.3,-12.7L129.7,-8.6L129.2,-7.2L121.9,-6.5Z" fill="rgb(42,42,101)" stroke="#e04a20" stroke-width="1.1" stroke-linejoin="round"/>
<path d="M121.9,-6.5L129.2,-7.2L130.5,-4.5L128.2,0.2L120.7,0.9L119.0,0.0L119.0,-0.3Z" fill="rgb(102,102,102)" stroke="#d83070" stroke-width="1.1" stroke-linejoin="round"/>
<path d="M129.5,8.6L123.8,6.6L120.7,0.9L128.2,0.2L130.3,4.8L129.9,8.2Z" fill="rgb(47,47,113)" stroke="#e83a28" stroke-width="1.1" stroke-linejoin="round"/>
<path d="M128.5,12.9L123.2,16.2L121.5,15.2L119.5,10.8L123.8,6.6L129.5,8.6Z" fill="rgb(57,64,143)" stroke="#e83a28" stroke-width="1.1" stroke-linejoin="round"/>
<path d="M132.8,16.7L130.6,23.5L127.2,23.8L123.7,22.2L123.2,16.2L128.5,12.9Z" fill="rgb(95,55,132)" stroke="#e83a28" stroke-width="1.1" stroke-linejoin="round"/>
<path d="M119.9,24.8L123.7,22.2L127.2,23.8L126.9,30.2L124.7,32.1L119.4,27.8Z" fill="rgb(49,49,103)" stroke="#e04a20" stroke-width="1.1" stroke-linejoin="round"/>
<path d="M126.6,38.1L124.2,36.9L124.7,32.1L126.9,30.2L132.7,32.3L132.2,36.9Z" fill="rgb(45,93,50)" stroke="#e83a28" stroke-width="1.1" stroke-linejoin="round"/>
<path d="M117.7,43.8L121.1,37.6L124.2,36.9L126.6,38.1L126.8,43.2L122.5,48.2Z" fill="rgb(142,56,135)" stroke="#e83a28" stroke-width="1.1" stroke-linejoin="round"/>
<path d="M123.2,50.7L125.7,52.7L127.1,52.8L133.2,47.5L133.6,46.0L126.8,43.2L122.5,48.2Z" fill="rgb(129,51,123)" stroke="#d83070" stroke-width="1.1" stroke-linejoin="round"/>
<path d="M116.7,53.7L123.2,50.7L125.7,52.7L123.5,58.7L115.9,60.2L115.4,58.9Z" fill="rgb(36,36,87)" stroke="#e83a28" stroke-width="1.1" stroke-linejoin="round"/>
<path d="M133.6,58.4L132.2,61.6L126.1,64.5L125.9,64.4L123.5,58.7L125.7,52.7L127.1,52.8Z" fill="rgb(101,55,133)" stroke="#e83a28" stroke-width="1.1" stroke-linejoin="round"/>
<path d="M128.4,71.9L126.1,64.5L125.9,64.4L118.5,66.7L118.8,72.6L123.3,73.5Z" fill="rgb(129,51,122)" stroke="#e83a28" stroke-width="1.1" stroke-linejoin="round"/>
<path d="M129.7,72.5L131.8,79.3L125.4,81.7L123.7,79.3L123.3,73.5L128.4,71.9Z" fill="rgb(45,45,110)" stroke="#e83a28" stroke-width="1.1" stroke-linejoin="round"/>
<path d="M123.7,79.3L116.8,79.0L116.8,82.9L121.8,85.7L123.8,84.5L125.4,81.7Z" fill="rgb(106,42,101)" stroke="#e83a28" stroke-width="1.1" stroke-linejoin="round"/>
<path d="M131.7,89.5L123.8,84.5L121.8,85.7L121.1,92.6L128.9,93.3L131.4,91.3Z" fill="rgb(77,111,46)" stroke="#e04a20" stroke-width="1.1" stroke-linejoin="round"/>
<path d="M121.1,92.6L120.0,93.4L120.6,99.0L121.0,99.9L128.9,100.3L128.9,93.3Z" fill="rgb(51,109,135)" stroke="#e04a20" stroke-width="1.1" stroke-linejoin="round"/>
<path d="M130.0,101.9L128.9,100.3L121.0,99.9L119.9,105.9L124.9,108.5L130.3,104.7Z" fill="rgb(54,118,146)" stroke="#e83a28" stroke-width="1.1" stroke-linejoin="round"/>
<path d="M124.2,114.6L116.8,114.2L116.9,107.1L119.9,105.9L124.9,108.5L125.3,112.3Z" fill="rgb(119,47,119)" stroke="#e04a20" stroke-width="1.1" stroke-linejoin="round"/>
<path d="M125.1,118.7L124.2,114.6L125.3,112.3L132.9,113.6L132.0,119.6L126.2,119.6Z" fill="rgb(142,56,142)" stroke="#e83a28" stroke-width="1.1" stroke-linejoin="round"/>
<path d="M125.1,118.7L117.7,122.0L119.2,125.7L125.5,127.6L125.6,127.6L126.2,119.6Z" fill="rgb(56,117,63)" stroke="#e04a20" stroke-width="1.1" stroke-linejoin="round"/>
<path d="M125.6,127.6L125.5,127.6L120.9,134.9L128.0,135.1L129.6,133.9L130.1,129.2Z" fill="rgb(82,42,104)" stroke="#e83a28" stroke-width="1.1" stroke-linejoin="round"/>
<path d="M127.1,140.8L123.8,141.6L120.8,139.8L119.8,135.6L120.9,134.9L128.0,135.1Z" fill="rgb(82,35,40)" stroke="#e04a20" stroke-width="1.1" stroke-linejoin="round"/>
<path d="M125.6,150.4L131.6,147.5L131.4,142.3L127.1,140.8L123.8,141.6L124.5,149.4Z" fill="rgb(82,118,49)" stroke="#e83a28" stroke-width="1.1" stroke-linejoin="round"/>
<path d="M125.6,150.4L125.7,154.7L121.8,157.2L116.0,154.8L116.5,148.7L124.5,149.4Z" fill="rgb(129,51,129)" stroke="#e83a28" stroke-width="1.1" stroke-linejoin="round"/>
<path d="M125.7,154.7L129.4,157.7L128.8,161.8L127.9,163.1L120.9,162.0L121.8,157.2Z" fill="rgb(112,47,54)" stroke="#e04a20" stroke-width="1.1" stroke-linejoin="round"/>
<path d="M120.9,162.0L127.9,163.1L127.8,167.5L122.7,169.9L121.1,169.1L119.4,163.6Z" fill="rgb(47,47,101)" stroke="#e83a28" stroke-width="1.1" stroke-linejoin="round"/>
<path d="M122.7,169.9L124.1,174.9L128.8,177.0L133.0,174.5L132.9,170.2L127.8,167.5Z" fill="rgb(125,67,164)" stroke="#e83a28" stroke-width="1.1" stroke-linejoin="round"/>
<path d="M128.1,183.0L122.7,185.4L117.9,182.2L118.1,180.4L124.1,174.9L128.8,177.0Z" fill="rgb(126,50,126)" stroke="#e83a28" stroke-width="1.1" stroke-linejoin="round"/>
<path d="M128.1,183.0L122.7,185.4L122.9,187.9L127.3,192.3L131.6,190.0L130.4,184.3Z" fill="rgb(72,104,43)" stroke="#e83a28" stroke-width="1.1" stroke-linejoin="round"/>
<path d="M120.2,197.6L123.5,198.9L126.9,196.3L127.3,192.3L122.9,187.9L118.8,193.5Z" fill="rgb(34,95,85)" stroke="#e04a20" stroke-width="1.1" stroke-linejoin="round"/>
<path d="M124.4,203.2L128.2,205.5L131.3,204.8L131.7,197.8L126.9,196.3L123.5,198.9Z" fill="rgb(74,107,44)" stroke="#e83a28" stroke-width="1.1" stroke-linejoin="round"/>
<path d="M120.4,206.9L121.4,212.7L122.8,213.2L127.1,212.0L128.2,205.5L124.4,203.2Z" fill="rgb(40,40,84)" stroke="#e83a28" stroke-width="1.1" stroke-linejoin="round"/>
<path d="M127.3,-12.7L125.8,-50.2L136.7,-13.6L129.7,-8.6Z" fill="rgb(100,100,100)" stroke="#e83a28" stroke-width="1.1" stroke-linejoin="round"/>
<path d="M129.2,-7.2L130.5,-4.5L137.1,-2.2L140.0,-7.2L139.6,-11.7L136.7,-13.6L129.7,-8.6Z" fill="rgb(65,73,162)" stroke="#d83070" stroke-width="1.1" stroke-linejoin="round"/>
<path d="M130.3,4.8L128.2,0.2L130.5,-4.5L137.1,-2.2L138.0,0.1Z" fill="rgb(144,57,144)" stroke="#e83a28" stroke-width="1.1" stroke-linejoin="round"/>
<path d="M129.9,8.2L130.3,4.8L138.0,0.1L140.5,2.5L140.9,7.5L136.7,8.9Z" fill="rgb(127,50,121)" stroke="#e83a28" stroke-width="1.1" stroke-linejoin="round"/>
<path d="M135.3,16.5L136.7,8.9L129.9,8.2L129.5,8.6L128.5,12.9L132.8,16.7Z" fill="rgb(59,65,146)" stroke="#e04a20" stroke-width="1.1" stroke-linejoin="round"/>
<path d="M135.3,16.5L138.3,17.6L138.6,21.6L135.2,26.4L130.6,23.5L132.8,16.7Z" fill="rgb(37,37,89)" stroke="#e83a28" stroke-width="1.1" stroke-linejoin="round"/>
<path d="M126.9,30.2L127.2,23.8L130.6,23.5L135.2,26.4L135.8,28.2L132.7,32.3Z" fill="rgb(137,54,130)" stroke="#e83a28" stroke-width="1.1" stroke-linejoin="round"/>
<path d="M132.2,36.9L132.7,32.3L135.8,28.2L140.9,30.3L141.4,33.9L136.5,40.8Z" fill="rgb(119,47,119)" stroke="#e83a28" stroke-width="1.1" stroke-linejoin="round"/>
<path d="M126.6,38.1L132.2,36.9L136.5,40.8L136.9,42.1L133.6,46.0L126.8,43.2Z" fill="rgb(116,46,116)" stroke="#e04a20" stroke-width="1.1" stroke-linejoin="round"/>
<path d="M136.6,51.6L140.4,51.3L138.4,42.7L136.9,42.1L133.6,46.0L133.2,47.5Z" fill="rgb(76,110,46)" stroke="#e83a28" stroke-width="1.1" stroke-linejoin="round"/>
<path d="M136.6,51.6L134.4,58.2L133.6,58.4L127.1,52.8L133.2,47.5Z" fill="rgb(63,70,156)" stroke="#e83a28" stroke-width="1.1" stroke-linejoin="round"/>
<path d="M134.4,58.2L140.9,59.1L142.4,64.8L134.2,65.1L132.2,61.6L133.6,58.4Z" fill="rgb(43,43,105)" stroke="#e83a28" stroke-width="1.1" stroke-linejoin="round"/>
<path d="M129.7,72.5L133.9,70.1L134.2,65.1L132.2,61.6L126.1,64.5L128.4,71.9Z" fill="rgb(110,47,54)" stroke="#d83070" stroke-width="1.1" stroke-linejoin="round"/>
<path d="M129.7,72.5L133.9,70.1L141.0,71.3L141.2,71.8L139.4,77.7L134.4,81.1L131.8,79.3Z" fill="rgb(105,105,105)" stroke="#e83a28" stroke-width="1.1" stroke-linejoin="round"/>
<path d="M131.8,79.3L134.4,81.1L135.0,84.1L131.7,89.5L123.8,84.5L125.4,81.7Z" fill="rgb(51,110,137)" stroke="#d83070" stroke-width="1.1" stroke-linejoin="round"/>
<path d="M131.7,89.5L135.0,84.1L138.4,85.8L141.6,92.1L134.1,93.1L131.4,91.3Z" fill="rgb(103,43,50)" stroke="#d83070" stroke-width="1.1" stroke-linejoin="round"/>
<path d="M130.0,101.9L128.9,100.3L128.9,93.3L131.4,91.3L134.1,93.1L136.3,98.2Z" fill="rgb(35,35,84)" stroke="#e83a28" stroke-width="1.1" stroke-linejoin="round"/>
<path d="M130.0,101.9L136.3,98.2L141.1,100.2L140.5,105.5L134.1,106.9L130.3,104.7Z" fill="rgb(62,69,155)" stroke="#d83070" stroke-width="1.1" stroke-linejoin="round"/>
<path d="M132.9,113.6L133.5,113.0L134.1,106.9L130.3,104.7L124.9,108.5L125.3,112.3Z" fill="rgb(95,54,132)" stroke="#e83a28" stroke-width="1.1" stroke-linejoin="round"/>
<path d="M132.0,119.6L136.2,123.7L139.7,121.4L140.6,120.1L139.7,114.7L133.5,113.0L132.9,113.6Z" fill="rgb(45,45,96)" stroke="#e83a28" stroke-width="1.1" stroke-linejoin="round"/>
<path d="M126.2,119.6L125.6,127.6L130.1,129.2L135.5,126.7L136.2,123.7L132.0,119.6Z" fill="rgb(101,55,133)" stroke="#e83a28" stroke-width="1.1" stroke-linejoin="round"/>
<path d="M130.1,129.2L129.6,133.9L134.6,138.5L138.2,134.8L137.9,129.9L135.5,126.7Z" fill="rgb(92,48,117)" stroke="#e04a20" stroke-width="1.1" stroke-linejoin="round"/>
<path d="M134.6,138.5L129.6,133.9L128.0,135.1L127.1,140.8L131.4,142.3L134.4,139.4Z" fill="rgb(153,153,153)" stroke="#e04a20" stroke-width="1.1" stroke-linejoin="round"/>
<path d="M134.7,149.2L140.2,146.1L140.7,144.1L134.4,139.4L131.4,142.3L131.6,147.5Z" fill="rgb(40,40,97)" stroke="#e04a20" stroke-width="1.1" stroke-linejoin="round"/>
<path d="M125.6,150.4L131.6,147.5L134.7,149.2L136.4,156.4L129.4,157.7L125.7,154.7Z" fill="rgb(48,103,128)" stroke="#e83a28" stroke-width="1.1" stroke-linejoin="round"/>
<path d="M129.4,157.7L128.8,161.8L136.0,164.9L139.4,161.1L138.8,157.9L136.4,156.4Z" fill="rgb(42,42,102)" stroke="#e04a20" stroke-width="1.1" stroke-linejoin="round"/>
<path d="M127.9,163.1L128.8,161.8L136.0,164.9L134.5,168.7L132.9,170.2L127.8,167.5Z" fill="rgb(111,60,146)" stroke="#e83a28" stroke-width="1.1" stroke-linejoin="round"/>
<path d="M133.0,174.5L132.9,170.2L134.5,168.7L143.5,171.0L140.2,176.4L136.3,176.7Z" fill="rgb(40,113,101)" stroke="#e04a20" stroke-width="1.1" stroke-linejoin="round"/>
<path d="M128.1,183.0L128.8,177.0L133.0,174.5L136.3,176.7L135.6,183.2L130.4,184.3Z" fill="rgb(84,43,106)" stroke="#e83a28" stroke-width="1.1" stroke-linejoin="round"/>
<path d="M130.4,184.3L131.6,190.0L134.6,191.2L138.2,188.8L137.6,184.9L135.6,183.2Z" fill="rgb(36,101,90)" stroke="#e83a28" stroke-width="1.1" stroke-linejoin="round"/>
<path d="M127.3,192.3L126.9,196.3L131.7,197.8L134.9,196.6L134.6,191.2L131.6,190.0Z" fill="rgb(143,56,136)" stroke="#d83070" stroke-width="1.1" stroke-linejoin="round"/>
<path d="M136.4,206.7L131.3,204.8L131.7,197.8L134.9,196.6L138.7,198.7L139.1,203.5Z" fill="rgb(115,62,151)" stroke="#e83a28" stroke-width="1.1" stroke-linejoin="round"/>
<path d="M127.1,212.0L129.5,213.4L136.5,208.2L136.4,206.7L131.3,204.8L128.2,205.5Z" fill="rgb(83,43,106)" stroke="#e83a28" stroke-width="1.1" stroke-linejoin="round"/>
<path d="M136.5,208.2L129.5,213.4L134.6,224.3L139.5,213.2Z" fill="rgb(50,50,106)" stroke="#d83070" stroke-width="1.1" stroke-linejoin="round"/>
<path d="M139.6,-11.7L136.7,-13.6L125.8,-50.2L124.9,-54.4L124.4,-63.2L122.5,-187.3L147.0,-14.2Z" fill="rgb(113,44,107)" stroke="#e83a28" stroke-width="1.1" stroke-linejoin="round"/>
<path d="M151.8,-5.3L152.9,-6.6L152.3,-11.0L147.0,-14.2L139.6,-11.7L140.0,-7.2L147.3,-4.1Z" fill="rgb(128,50,128)" stroke="#e04a20" stroke-width="1.1" stroke-linejoin="round"/>
<path d="M140.5,2.5L142.9,1.2L147.3,-4.1L140.0,-7.2L137.1,-2.2L138.0,0.1Z" fill="rgb(99,42,48)" stroke="#e83a28" stroke-width="1.1" stroke-linejoin="round"/>
<path d="M149.2,7.3L149.1,2.9L142.9,1.2L140.5,2.5L140.9,7.5L142.2,8.6Z" fill="rgb(122,66,160)" stroke="#e04a20" stroke-width="1.1" stroke-linejoin="round"/>
<path d="M135.3,16.5L138.3,17.6L143.1,14.6L142.2,8.6L140.9,7.5L136.7,8.9Z" fill="rgb(126,50,120)" stroke="#d83070" stroke-width="1.1" stroke-linejoin="round"/>
<path d="M147.0,17.3L145.9,23.4L138.6,21.6L138.3,17.6L143.1,14.6Z" fill="rgb(51,111,138)" stroke="#e83a28" stroke-width="1.1" stroke-linejoin="round"/>
<path d="M135.2,26.4L135.8,28.2L140.9,30.3L146.9,26.8L145.9,23.4L138.6,21.6Z" fill="rgb(104,44,51)" stroke="#d83070" stroke-width="1.1" stroke-linejoin="round"/>
<path d="M152.5,33.4L145.3,36.4L141.4,33.9L140.9,30.3L146.9,26.8L149.8,28.0Z" fill="rgb(46,46,97)" stroke="#e83a28" stroke-width="1.1" stroke-linejoin="round"/>
<path d="M136.5,40.8L141.4,33.9L145.3,36.4L144.9,43.4L138.4,42.7L136.9,42.1Z" fill="rgb(146,58,146)" stroke="#e83a28" stroke-width="1.1" stroke-linejoin="round"/>
<path d="M147.5,46.6L147.5,45.1L144.9,43.4L138.4,42.7L140.4,51.3L142.9,52.7Z" fill="rgb(113,48,55)" stroke="#e83a28" stroke-width="1.1" stroke-linejoin="round"/>
<path d="M143.3,56.2L140.9,59.1L134.4,58.2L136.6,51.6L140.4,51.3L142.9,52.7Z" fill="rgb(56,116,62)" stroke="#e83a28" stroke-width="1.1" stroke-linejoin="round"/>
<path d="M152.0,57.9L149.5,65.3L149.3,65.4L143.0,65.7L142.4,64.8L140.9,59.1L143.3,56.2L151.8,57.5Z" fill="rgb(117,46,117)" stroke="#e83a28" stroke-width="1.1" stroke-linejoin="round"/>
<path d="M134.2,65.1L133.9,70.1L141.0,71.3L143.0,65.7L142.4,64.8Z" fill="rgb(111,43,105)" stroke="#d83070" stroke-width="1.1" stroke-linejoin="round"/>
<path d="M144.0,80.3L139.4,77.7L141.2,71.8L148.3,74.7L150.1,76.4L150.2,77.5Z" fill="rgb(94,49,120)" stroke="#e04a20" stroke-width="1.1" stroke-linejoin="round"/>
<path d="M138.4,85.8L144.1,84.5L144.0,80.3L139.4,77.7L134.4,81.1L135.0,84.1Z" fill="rgb(37,37,91)" stroke="#e04a20" stroke-width="1.1" stroke-linejoin="round"/>
<path d="M141.6,92.1L143.0,92.9L146.8,91.3L146.9,86.8L144.1,84.5L138.4,85.8Z" fill="rgb(79,41,101)" stroke="#e83a28" stroke-width="1.1" stroke-linejoin="round"/>
<path d="M141.1,100.2L141.4,100.0L143.0,92.9L141.6,92.1L134.1,93.1L136.3,98.2Z" fill="rgb(34,34,82)" stroke="#e04a20" stroke-width="1.1" stroke-linejoin="round"/>
<path d="M141.1,100.2L141.4,100.0L153.0,100.0L153.2,100.2L153.2,105.4L141.7,106.8L140.5,105.5Z" fill="rgb(118,47,112)" stroke="#d83070" stroke-width="1.1" stroke-linejoin="round"/>
<path d="M134.1,106.9L133.5,113.0L139.7,114.7L142.4,110.4L141.7,106.8L140.5,105.5Z" fill="rgb(50,55,123)" stroke="#e04a20" stroke-width="1.1" stroke-linejoin="round"/>
<path d="M142.4,110.4L148.1,113.8L146.9,118.8L140.6,120.1L139.7,114.7Z" fill="rgb(54,112,60)" stroke="#e83a28" stroke-width="1.1" stroke-linejoin="round"/>
<path d="M135.5,126.7L137.9,129.9L148.0,129.9L147.3,127.7L139.7,121.4L136.2,123.7Z" fill="rgb(53,115,142)" stroke="#d83070" stroke-width="1.1" stroke-linejoin="round"/>
<path d="M148.0,129.9L137.9,129.9L138.2,134.8L147.0,139.2L150.2,133.9L150.1,131.8Z" fill="rgb(144,57,144)" stroke="#e83a28" stroke-width="1.1" stroke-linejoin="round"/>
<path d="M138.2,134.8L134.6,138.5L134.4,139.4L140.7,144.1L147.0,139.4L147.0,139.2Z" fill="rgb(38,106,95)" stroke="#e83a28" stroke-width="1.1" stroke-linejoin="round"/>
<path d="M149.9,147.6L151.5,146.3L147.0,139.4L140.7,144.1L140.2,146.1L143.7,150.8Z" fill="rgb(38,38,93)" stroke="#e83a28" stroke-width="1.1" stroke-linejoin="round"/>
<path d="M143.1,154.6L138.8,157.9L136.4,156.4L134.7,149.2L140.2,146.1L143.7,150.8Z" fill="rgb(44,94,117)" stroke="#e04a20" stroke-width="1.1" stroke-linejoin="round"/>
<path d="M147.5,155.9L143.1,154.6L138.8,157.9L139.4,161.1L147.6,167.2L151.2,165.9L151.7,164.4Z" fill="rgb(124,49,117)" stroke="#e83a28" stroke-width="1.1" stroke-linejoin="round"/>
<path d="M134.5,168.7L136.0,164.9L139.4,161.1L147.6,167.2L146.9,168.6L143.5,171.0Z" fill="rgb(55,115,62)" stroke="#e83a28" stroke-width="1.1" stroke-linejoin="round"/>
<path d="M143.0,179.5L140.2,176.4L143.5,171.0L146.9,168.6L148.6,176.1Z" fill="rgb(66,73,163)" stroke="#e83a28" stroke-width="1.1" stroke-linejoin="round"/>
<path d="M135.6,183.2L137.6,184.9L143.5,181.6L143.0,179.5L140.2,176.4L136.3,176.7Z" fill="rgb(105,57,138)" stroke="#e83a28" stroke-width="1.1" stroke-linejoin="round"/>
<path d="M149.0,186.6L147.4,190.3L145.5,191.8L138.2,188.8L137.6,184.9L143.5,181.6Z" fill="rgb(46,46,113)" stroke="#e83a28" stroke-width="1.1" stroke-linejoin="round"/>
<path d="M145.5,191.8L145.0,193.6L138.7,198.7L134.9,196.6L134.6,191.2L138.2,188.8Z" fill="rgb(45,45,96)" stroke="#d83070" stroke-width="1.1" stroke-linejoin="round"/>
<path d="M145.0,193.6L138.7,198.7L139.1,203.5L144.7,204.4L149.5,203.3Z" fill="rgb(93,39,45)" stroke="#d83070" stroke-width="1.1" stroke-linejoin="round"/>
<path d="M136.5,208.2L136.4,206.7L139.1,203.5L144.7,204.4L143.3,212.8L139.5,213.2Z" fill="rgb(82,42,104)" stroke="#e04a20" stroke-width="1.1" stroke-linejoin="round"/>
<path d="M151.8,-5.3L147.3,-4.1L142.9,1.2L149.1,2.9L151.8,-1.8Z" fill="rgb(145,57,145)" stroke="#e04a20" stroke-width="1.1" stroke-linejoin="round"/>
<path d="M149.2,7.3L142.2,8.6L143.1,14.6L147.0,17.3L152.1,15.8L152.1,8.8Z" fill="rgb(36,36,88)" stroke="#e83a28" stroke-width="1.1" stroke-linejoin="round"/>
<path d="M154.4,34.9L153.8,41.4L147.5,45.1L144.9,43.4L145.3,36.4L152.5,33.4Z" fill="rgb(51,109,135)" stroke="#e04a20" stroke-width="1.1" stroke-linejoin="round"/>
<path d="M151.8,57.5L143.3,56.2L142.9,52.7L147.5,46.6L152.5,52.6Z" fill="rgb(122,48,116)" stroke="#e83a28" stroke-width="1.1" stroke-linejoin="round"/>
<path d="M149.3,65.4L143.0,65.7L141.0,71.3L141.2,71.8L148.3,74.7Z" fill="rgb(82,35,40)" stroke="#e04a20" stroke-width="1.1" stroke-linejoin="round"/>
<path d="M146.9,86.8L153.2,81.7L150.2,77.5L144.0,80.3L144.1,84.5Z" fill="rgb(38,108,96)" stroke="#e83a28" stroke-width="1.1" stroke-linejoin="round"/>
<path d="M143.0,92.9L146.8,91.3L150.8,93.4L153.0,100.0L141.4,100.0Z" fill="rgb(91,52,127)" stroke="#e83a28" stroke-width="1.1" stroke-linejoin="round"/>
<path d="M142.4,110.4L148.1,113.8L150.8,112.4L153.4,105.8L153.2,105.4L141.7,106.8Z" fill="rgb(41,41,100)" stroke="#d83070" stroke-width="1.1" stroke-linejoin="round"/>
<path d="M146.9,118.8L140.6,120.1L139.7,121.4L147.3,127.7L148.7,120.5Z" fill="rgb(49,101,54)" stroke="#e83a28" stroke-width="1.1" stroke-linejoin="round"/>
<path d="M148.2,155.3L149.9,147.6L143.7,150.8L143.1,154.6L147.5,155.9Z" fill="rgb(45,93,50)" stroke="#e04a20" stroke-width="1.1" stroke-linejoin="round"/>
<path d="M149.0,186.6L143.5,181.6L143.0,179.5L148.6,176.1L153.5,180.6L151.6,185.0Z" fill="rgb(131,52,131)" stroke="#e83a28" stroke-width="1.1" stroke-linejoin="round"/>
<path d="M149.5,203.3L144.7,204.4L143.3,212.8L147.0,213.8L151.5,208.6L150.6,203.8Z" fill="rgb(45,97,121)" stroke="#e04a20" stroke-width="1.1" stroke-linejoin="round"/>
<path d="M149.2,7.3L149.1,2.9L151.8,-1.8L155.8,4.9L155.5,6.9L152.1,8.8Z" fill="rgb(94,40,46)" stroke="#e04a20" stroke-width="1.1" stroke-linejoin="round"/>
<path d="M147.0,17.3L145.9,23.4L146.9,26.8L149.8,28.0L156.2,22.2L157.1,18.7L152.1,15.8Z" fill="rgb(44,94,117)" stroke="#e83a28" stroke-width="1.1" stroke-linejoin="round"/>
<path d="M154.3,68.2L149.5,65.3L149.3,65.4L148.3,74.7L150.1,76.4L155.1,71.3Z" fill="rgb(51,111,137)" stroke="#e83a28" stroke-width="1.1" stroke-linejoin="round"/>
<path d="M146.9,86.8L146.8,91.3L150.8,93.4L155.5,89.2L153.5,81.8L153.2,81.7Z" fill="rgb(43,121,108)" stroke="#e83a28" stroke-width="1.1" stroke-linejoin="round"/>
<path d="M154.8,121.0L148.7,120.5L146.9,118.8L148.1,113.8L150.8,112.4L155.5,116.7Z" fill="rgb(97,38,92)" stroke="#e04a20" stroke-width="1.1" stroke-linejoin="round"/>
<path d="M148.2,155.3L149.9,147.6L151.5,146.3L154.5,147.4L155.0,153.2Z" fill="rgb(112,44,112)" stroke="#e83a28" stroke-width="1.1" stroke-linejoin="round"/>
<path d="M154.7,195.5L147.4,190.3L145.5,191.8L145.0,193.6L149.5,203.3L150.6,203.8L154.4,201.5Z" fill="rgb(95,51,124)" stroke="#e04a20" stroke-width="1.1" stroke-linejoin="round"/>
<path d="M147.0,213.8L151.5,208.6L157.2,212.0L158.4,219.3L148.6,218.3Z" fill="rgb(139,55,139)" stroke="#e83a28" stroke-width="1.1" stroke-linejoin="round"/>
<path d="M152.9,-6.6L152.3,-11.0L157.0,-16.0L165.5,-14.6L164.3,-6.2L159.3,-4.4Z" fill="rgb(36,36,77)" stroke="#e83a28" stroke-width="1.1" stroke-linejoin="round"/>
<path d="M151.8,-5.3L152.9,-6.6L159.3,-4.4L160.4,1.3L155.8,4.9L151.8,-1.8Z" fill="rgb(79,113,47)" stroke="#d83070" stroke-width="1.1" stroke-linejoin="round"/>
<path d="M165.0,8.6L161.7,10.3L155.5,6.9L155.8,4.9L160.4,1.3L164.8,4.2Z" fill="rgb(33,94,84)" stroke="#e83a28" stroke-width="1.1" stroke-linejoin="round"/>
<path d="M152.1,8.8L155.5,6.9L161.7,10.3L159.1,17.8L157.1,18.7L152.1,15.8Z" fill="rgb(73,42,102)" stroke="#e83a28" stroke-width="1.1" stroke-linejoin="round"/>
<path d="M156.2,22.2L157.1,18.7L159.1,17.8L163.4,19.4L165.7,28.0L160.7,28.5Z" fill="rgb(77,33,38)" stroke="#e83a28" stroke-width="1.1" stroke-linejoin="round"/>
<path d="M154.4,34.9L152.5,33.4L149.8,28.0L156.2,22.2L160.7,28.5L155.8,34.5Z" fill="rgb(95,49,121)" stroke="#e83a28" stroke-width="1.1" stroke-linejoin="round"/>
<path d="M154.4,34.9L153.8,41.4L156.2,43.3L166.0,40.6L164.9,37.3L155.8,34.5Z" fill="rgb(102,55,134)" stroke="#e83a28" stroke-width="1.1" stroke-linejoin="round"/>
<path d="M158.8,49.1L156.2,43.3L153.8,41.4L147.5,45.1L147.5,46.6L152.5,52.6Z" fill="rgb(123,123,123)" stroke="#e83a28" stroke-width="1.1" stroke-linejoin="round"/>
<path d="M160.2,60.0L152.0,57.9L151.8,57.5L152.5,52.6L158.8,49.1L162.9,50.9L162.8,57.4Z" fill="rgb(120,47,120)" stroke="#e83a28" stroke-width="1.1" stroke-linejoin="round"/>
<path d="M160.3,63.2L160.2,60.0L152.0,57.9L149.5,65.3L154.3,68.2Z" fill="rgb(41,116,103)" stroke="#e83a28" stroke-width="1.1" stroke-linejoin="round"/>
<path d="M163.9,71.3L160.8,73.7L155.1,71.3L154.3,68.2L160.3,63.2L164.4,68.6Z" fill="rgb(39,84,104)" stroke="#e83a28" stroke-width="1.1" stroke-linejoin="round"/>
<path d="M160.8,73.7L160.1,80.0L153.5,81.8L153.2,81.7L150.2,77.5L150.1,76.4L155.1,71.3Z" fill="rgb(109,43,103)" stroke="#e83a28" stroke-width="1.1" stroke-linejoin="round"/>
<path d="M163.1,82.3L160.1,80.0L153.5,81.8L155.5,89.2L160.9,90.7L163.3,87.7Z" fill="rgb(76,39,96)" stroke="#d83070" stroke-width="1.1" stroke-linejoin="round"/>
<path d="M153.0,100.0L153.2,100.2L161.9,96.9L160.9,90.7L155.5,89.2L150.8,93.4Z" fill="rgb(62,89,37)" stroke="#e83a28" stroke-width="1.1" stroke-linejoin="round"/>
<path d="M166.8,105.2L164.5,98.3L161.9,96.9L153.2,100.2L153.2,105.4L153.4,105.8L158.1,107.9Z" fill="rgb(95,49,121)" stroke="#e83a28" stroke-width="1.1" stroke-linejoin="round"/>
<path d="M155.5,116.7L150.8,112.4L153.4,105.8L158.1,107.9L159.5,114.1Z" fill="rgb(57,63,142)" stroke="#d83070" stroke-width="1.1" stroke-linejoin="round"/>
<path d="M159.1,125.5L165.8,118.0L165.9,116.9L159.5,114.1L155.5,116.7L154.8,121.0L157.7,125.3Z" fill="rgb(86,44,109)" stroke="#e83a28" stroke-width="1.1" stroke-linejoin="round"/>
<path d="M157.7,125.3L150.1,131.8L148.0,129.9L147.3,127.7L148.7,120.5L154.8,121.0Z" fill="rgb(37,37,78)" stroke="#e83a28" stroke-width="1.1" stroke-linejoin="round"/>
<path d="M159.1,125.5L165.3,132.2L165.6,133.4L165.2,136.3L162.2,138.9L150.2,133.9L150.1,131.8L157.7,125.3Z" fill="rgb(47,101,125)" stroke="#e04a20" stroke-width="1.1" stroke-linejoin="round"/>
<path d="M150.2,133.9L162.2,138.9L160.4,144.5L154.5,147.4L151.5,146.3L147.0,139.4L147.0,139.2Z" fill="rgb(40,87,108)" stroke="#d83070" stroke-width="1.1" stroke-linejoin="round"/>
<path d="M156.7,156.3L155.0,153.2L154.5,147.4L160.4,144.5L164.4,148.7L163.8,154.6Z" fill="rgb(125,49,125)" stroke="#e83a28" stroke-width="1.1" stroke-linejoin="round"/>
<path d="M156.7,156.3L155.0,153.2L148.2,155.3L147.5,155.9L151.7,164.4L156.1,159.0Z" fill="rgb(95,40,46)" stroke="#e04a20" stroke-width="1.1" stroke-linejoin="round"/>
<path d="M156.1,159.0L151.7,164.4L151.2,165.9L158.0,170.7L163.7,167.0L163.9,162.7Z" fill="rgb(49,55,123)" stroke="#e83a28" stroke-width="1.1" stroke-linejoin="round"/>
<path d="M153.5,180.6L158.9,176.6L158.0,170.7L151.2,165.9L147.6,167.2L146.9,168.6L148.6,176.1Z" fill="rgb(81,42,103)" stroke="#e83a28" stroke-width="1.1" stroke-linejoin="round"/>
<path d="M164.9,180.1L164.9,179.9L158.9,176.6L153.5,180.6L151.6,185.0L158.7,188.9Z" fill="rgb(118,47,118)" stroke="#e04a20" stroke-width="1.1" stroke-linejoin="round"/>
<path d="M160.3,192.1L154.7,195.5L147.4,190.3L149.0,186.6L151.6,185.0L158.7,188.9Z" fill="rgb(99,42,49)" stroke="#e83a28" stroke-width="1.1" stroke-linejoin="round"/>
<path d="M165.3,194.4L164.8,199.1L161.5,202.6L154.4,201.5L154.7,195.5L160.3,192.1Z" fill="rgb(36,36,88)" stroke="#e83a28" stroke-width="1.1" stroke-linejoin="round"/>
<path d="M161.5,202.6L162.1,207.3L157.2,212.0L151.5,208.6L150.6,203.8L154.4,201.5Z" fill="rgb(95,37,90)" stroke="#d83070" stroke-width="1.1" stroke-linejoin="round"/>
<path d="M168.4,216.5L159.7,220.7L158.4,219.3L157.2,212.0L162.1,207.3L167.6,210.7Z" fill="rgb(42,42,90)" stroke="#d83070" stroke-width="1.1" stroke-linejoin="round"/>
<path d="M168.4,-3.5L164.3,-6.2L165.5,-14.6L165.6,-14.7L173.4,-10.8L173.2,-5.9Z" fill="rgb(53,59,132)" stroke="#d83070" stroke-width="1.1" stroke-linejoin="round"/>
<path d="M168.6,0.0L164.8,4.2L160.4,1.3L159.3,-4.4L164.3,-6.2L168.4,-3.5Z" fill="rgb(32,32,79)" stroke="#d83070" stroke-width="1.1" stroke-linejoin="round"/>
<path d="M168.6,0.0L164.8,4.2L165.0,8.6L170.3,11.1L176.6,8.7L176.4,5.1Z" fill="rgb(44,91,49)" stroke="#e04a20" stroke-width="1.1" stroke-linejoin="round"/>
<path d="M170.3,11.1L165.0,8.6L161.7,10.3L159.1,17.8L163.4,19.4L169.1,17.7Z" fill="rgb(39,109,98)" stroke="#e83a28" stroke-width="1.1" stroke-linejoin="round"/>
<path d="M166.3,28.3L165.7,28.0L163.4,19.4L169.1,17.7L173.3,22.1Z" fill="rgb(65,94,39)" stroke="#e04a20" stroke-width="1.1" stroke-linejoin="round"/>
<path d="M167.8,31.3L164.9,37.3L155.8,34.5L160.7,28.5L165.7,28.0L166.3,28.3Z" fill="rgb(48,104,129)" stroke="#e83a28" stroke-width="1.1" stroke-linejoin="round"/>
<path d="M167.8,31.3L164.9,37.3L166.0,40.6L169.4,44.3L173.4,41.3L174.4,32.9Z" fill="rgb(34,34,73)" stroke="#e04a20" stroke-width="1.1" stroke-linejoin="round"/>
<path d="M158.8,49.1L156.2,43.3L166.0,40.6L169.4,44.3L169.2,46.4L162.9,50.9Z" fill="rgb(45,97,120)" stroke="#e83a28" stroke-width="1.1" stroke-linejoin="round"/>
<path d="M162.8,57.4L170.1,59.7L173.5,56.6L172.5,49.6L169.2,46.4L162.9,50.9Z" fill="rgb(42,118,105)" stroke="#e83a28" stroke-width="1.1" stroke-linejoin="round"/>
<path d="M164.4,68.6L171.0,65.4L170.1,59.7L162.8,57.4L160.2,60.0L160.3,63.2Z" fill="rgb(44,44,95)" stroke="#e83a28" stroke-width="1.1" stroke-linejoin="round"/>
<path d="M163.9,71.3L171.2,76.6L175.5,72.3L175.6,68.2L171.0,65.4L164.4,68.6Z" fill="rgb(46,95,51)" stroke="#d83070" stroke-width="1.1" stroke-linejoin="round"/>
<path d="M163.9,71.3L171.2,76.6L170.9,79.7L163.1,82.3L160.1,80.0L160.8,73.7Z" fill="rgb(37,37,78)" stroke="#e83a28" stroke-width="1.1" stroke-linejoin="round"/>
<path d="M163.1,82.3L170.9,79.7L173.3,82.8L171.7,90.0L163.3,87.7Z" fill="rgb(79,114,47)" stroke="#e83a28" stroke-width="1.1" stroke-linejoin="round"/>
<path d="M164.5,98.3L161.9,96.9L160.9,90.7L163.3,87.7L171.7,90.0L172.3,91.6L171.8,93.5Z" fill="rgb(94,49,119)" stroke="#e04a20" stroke-width="1.1" stroke-linejoin="round"/>
<path d="M166.8,105.2L164.5,98.3L171.8,93.5L176.2,100.5L173.7,105.1L167.6,105.8Z" fill="rgb(66,95,39)" stroke="#e83a28" stroke-width="1.1" stroke-linejoin="round"/>
<path d="M159.5,114.1L158.1,107.9L166.8,105.2L167.6,105.8L167.2,115.4L165.9,116.9Z" fill="rgb(39,110,99)" stroke="#e83a28" stroke-width="1.1" stroke-linejoin="round"/>
<path d="M165.9,116.9L167.2,115.4L176.6,115.4L176.9,124.2L170.8,124.0L165.8,118.0Z" fill="rgb(43,90,48)" stroke="#d83070" stroke-width="1.1" stroke-linejoin="round"/>
<path d="M159.1,125.5L165.3,132.2L170.8,124.0L165.8,118.0Z" fill="rgb(36,36,76)" stroke="#e83a28" stroke-width="1.1" stroke-linejoin="round"/>
<path d="M178.2,137.6L170.5,139.4L165.2,136.3L165.6,133.4L173.9,131.3Z" fill="rgb(43,43,91)" stroke="#e83a28" stroke-width="1.1" stroke-linejoin="round"/>
<path d="M165.2,136.3L162.2,138.9L160.4,144.5L164.4,148.7L172.2,148.4L172.6,147.4L170.5,139.4Z" fill="rgb(123,123,123)" stroke="#d83070" stroke-width="1.1" stroke-linejoin="round"/>
<path d="M163.8,154.6L164.4,148.7L172.2,148.4L174.0,153.0L171.8,158.1L167.3,158.2Z" fill="rgb(79,45,110)" stroke="#e83a28" stroke-width="1.1" stroke-linejoin="round"/>
<path d="M156.7,156.3L163.8,154.6L167.3,158.2L163.9,162.7L156.1,159.0Z" fill="rgb(72,41,100)" stroke="#e83a28" stroke-width="1.1" stroke-linejoin="round"/>
<path d="M167.3,158.2L171.8,158.1L174.2,161.7L174.1,168.0L171.6,169.7L163.7,167.0L163.9,162.7Z" fill="rgb(62,90,37)" stroke="#e83a28" stroke-width="1.1" stroke-linejoin="round"/>
<path d="M169.9,176.2L171.6,169.7L163.7,167.0L158.0,170.7L158.9,176.6L164.9,179.9Z" fill="rgb(38,38,81)" stroke="#e83a28" stroke-width="1.1" stroke-linejoin="round"/>
<path d="M177.7,185.2L169.2,187.3L164.9,180.1L164.9,179.9L169.9,176.2L177.1,180.2Z" fill="rgb(38,83,103)" stroke="#e83a28" stroke-width="1.1" stroke-linejoin="round"/>
<path d="M165.3,194.4L160.3,192.1L158.7,188.9L164.9,180.1L169.2,187.3L167.5,192.9Z" fill="rgb(77,44,107)" stroke="#e04a20" stroke-width="1.1" stroke-linejoin="round"/>
<path d="M177.8,196.6L167.5,192.9L165.3,194.4L164.8,199.1L169.4,202.2L177.7,199.2Z" fill="rgb(71,103,43)" stroke="#e04a20" stroke-width="1.1" stroke-linejoin="round"/>
<path d="M169.4,202.2L164.8,199.1L161.5,202.6L162.1,207.3L167.6,210.7L170.9,207.4Z" fill="rgb(58,84,35)" stroke="#e83a28" stroke-width="1.1" stroke-linejoin="round"/>
<path d="M170.9,207.4L167.6,210.7L168.4,216.5L170.8,217.6L174.0,217.4L178.5,207.5Z" fill="rgb(115,45,115)" stroke="#d83070" stroke-width="1.1" stroke-linejoin="round"/>
<path d="M173.4,-10.8L179.2,-15.2L173.1,-29.8L165.6,-14.7Z" fill="rgb(43,43,92)" stroke="#e83a28" stroke-width="1.1" stroke-linejoin="round"/>
<path d="M178.2,-3.3L173.2,-5.9L173.4,-10.8L179.2,-15.2L184.6,-12.2L184.6,-10.2Z" fill="rgb(49,55,122)" stroke="#e83a28" stroke-width="1.1" stroke-linejoin="round"/>
<path d="M178.9,0.1L176.4,5.1L168.6,0.0L168.4,-3.5L173.2,-5.9L178.2,-3.3Z" fill="rgb(114,61,149)" stroke="#e04a20" stroke-width="1.1" stroke-linejoin="round"/>
<path d="M178.9,0.1L176.4,5.1L176.6,8.7L179.4,10.7L186.4,7.0L185.9,0.7Z" fill="rgb(94,54,131)" stroke="#e83a28" stroke-width="1.1" stroke-linejoin="round"/>
<path d="M174.6,22.3L180.2,13.0L179.4,10.7L176.6,8.7L170.3,11.1L169.1,17.7L173.3,22.1Z" fill="rgb(92,48,118)" stroke="#e83a28" stroke-width="1.1" stroke-linejoin="round"/>
<path d="M179.1,26.9L174.6,22.3L180.2,13.0L186.8,18.2L186.0,21.5Z" fill="rgb(103,40,97)" stroke="#d83070" stroke-width="1.1" stroke-linejoin="round"/>
<path d="M179.1,26.9L174.6,22.3L173.3,22.1L166.3,28.3L167.8,31.3L174.4,32.9L179.2,30.1Z" fill="rgb(118,47,118)" stroke="#d83070" stroke-width="1.1" stroke-linejoin="round"/>
<path d="M179.2,30.1L174.4,32.9L173.4,41.3L180.6,41.6L182.5,39.1L183.0,33.3Z" fill="rgb(71,102,42)" stroke="#e83a28" stroke-width="1.1" stroke-linejoin="round"/>
<path d="M182.9,49.3L180.6,41.6L173.4,41.3L169.4,44.3L169.2,46.4L172.5,49.6Z" fill="rgb(116,46,116)" stroke="#e04a20" stroke-width="1.1" stroke-linejoin="round"/>
<path d="M182.9,49.3L172.5,49.6L173.5,56.6L180.4,58.6L181.7,57.7L183.6,49.8Z" fill="rgb(43,90,48)" stroke="#e83a28" stroke-width="1.1" stroke-linejoin="round"/>
<path d="M175.6,68.2L171.0,65.4L170.1,59.7L173.5,56.6L180.4,58.6L179.3,65.7Z" fill="rgb(104,41,99)" stroke="#e04a20" stroke-width="1.1" stroke-linejoin="round"/>
<path d="M175.5,72.3L182.8,76.8L186.0,72.5L184.5,67.7L179.3,65.7L175.6,68.2Z" fill="rgb(113,44,113)" stroke="#d83070" stroke-width="1.1" stroke-linejoin="round"/>
<path d="M183.7,82.1L182.8,76.8L175.5,72.3L171.2,76.6L170.9,79.7L173.3,82.8L183.2,82.9Z" fill="rgb(38,38,92)" stroke="#e83a28" stroke-width="1.1" stroke-linejoin="round"/>
<path d="M183.7,87.3L183.2,82.9L173.3,82.8L171.7,90.0L172.3,91.6L181.7,91.2Z" fill="rgb(43,43,90)" stroke="#e83a28" stroke-width="1.1" stroke-linejoin="round"/>
<path d="M181.7,91.2L172.3,91.6L171.8,93.5L176.2,100.5L183.3,98.3Z" fill="rgb(111,111,111)" stroke="#e83a28" stroke-width="1.1" stroke-linejoin="round"/>
<path d="M185.2,99.6L185.7,101.0L180.9,111.6L179.8,111.7L173.7,105.1L176.2,100.5L183.3,98.3Z" fill="rgb(100,54,132)" stroke="#e83a28" stroke-width="1.1" stroke-linejoin="round"/>
<path d="M167.6,105.8L173.7,105.1L179.8,111.7L176.6,115.4L167.2,115.4Z" fill="rgb(101,40,101)" stroke="#d83070" stroke-width="1.1" stroke-linejoin="round"/>
<path d="M176.9,124.2L176.6,115.4L179.8,111.7L180.9,111.6L182.6,112.5L187.3,122.2L177.0,124.2Z" fill="rgb(40,113,100)" stroke="#e83a28" stroke-width="1.1" stroke-linejoin="round"/>
<path d="M173.9,131.3L165.6,133.4L165.3,132.2L170.8,124.0L176.9,124.2L177.0,124.2L177.3,126.6Z" fill="rgb(59,66,148)" stroke="#e83a28" stroke-width="1.1" stroke-linejoin="round"/>
<path d="M178.2,137.6L173.9,131.3L177.3,126.6L183.8,134.4L183.4,135.8L181.8,138.2Z" fill="rgb(83,43,106)" stroke="#e83a28" stroke-width="1.1" stroke-linejoin="round"/>
<path d="M178.2,137.6L170.5,139.4L172.6,147.4L182.6,143.1L181.8,138.2Z" fill="rgb(69,100,41)" stroke="#e04a20" stroke-width="1.1" stroke-linejoin="round"/>
<path d="M174.0,153.0L172.2,148.4L172.6,147.4L182.6,143.1L186.2,147.7L180.5,152.9Z" fill="rgb(103,40,97)" stroke="#e04a20" stroke-width="1.1" stroke-linejoin="round"/>
<path d="M171.8,158.1L174.0,153.0L180.5,152.9L182.1,159.7L174.2,161.7Z" fill="rgb(138,55,138)" stroke="#d83070" stroke-width="1.1" stroke-linejoin="round"/>
<path d="M186.2,161.8L182.1,159.7L174.2,161.7L174.1,168.0L181.2,170.7L184.6,168.4Z" fill="rgb(34,34,73)" stroke="#e83a28" stroke-width="1.1" stroke-linejoin="round"/>
<path d="M177.1,180.2L169.9,176.2L171.6,169.7L174.1,168.0L181.2,170.7L181.5,174.9Z" fill="rgb(105,57,138)" stroke="#e04a20" stroke-width="1.1" stroke-linejoin="round"/>
<path d="M186.1,184.5L179.0,186.3L177.7,185.2L177.1,180.2L181.5,174.9L185.8,178.3Z" fill="rgb(42,91,112)" stroke="#e04a20" stroke-width="1.1" stroke-linejoin="round"/>
<path d="M179.0,186.3L179.8,194.4L177.8,196.6L167.5,192.9L169.2,187.3L177.7,185.2Z" fill="rgb(83,35,40)" stroke="#e83a28" stroke-width="1.1" stroke-linejoin="round"/>
<path d="M184.4,194.7L188.0,201.2L180.9,206.6L180.4,206.5L177.7,199.2L177.8,196.6L179.8,194.4Z" fill="rgb(48,53,119)" stroke="#e04a20" stroke-width="1.1" stroke-linejoin="round"/>
<path d="M177.7,199.2L169.4,202.2L170.9,207.4L178.5,207.5L180.4,206.5Z" fill="rgb(49,55,123)" stroke="#e83a28" stroke-width="1.1" stroke-linejoin="round"/>
<path d="M180.4,206.5L178.5,207.5L174.0,217.4L178.8,220.3L183.5,217.0L184.1,210.1L180.9,206.6Z" fill="rgb(38,38,92)" stroke="#e83a28" stroke-width="1.1" stroke-linejoin="round"/>
<path d="M184.6,-10.2L184.6,-12.2L189.7,-15.6L197.1,-13.2L197.4,-10.1L193.6,-1.9L189.7,-2.8Z" fill="rgb(74,43,103)" stroke="#e83a28" stroke-width="1.1" stroke-linejoin="round"/>
<path d="M178.9,0.1L185.9,0.7L189.7,-2.8L184.6,-10.2L178.2,-3.3Z" fill="rgb(102,40,102)" stroke="#e83a28" stroke-width="1.1" stroke-linejoin="round"/>
<path d="M195.1,7.9L193.4,8.8L186.4,7.0L185.9,0.7L189.7,-2.8L193.6,-1.9L196.2,1.4Z" fill="rgb(39,39,83)" stroke="#e04a20" stroke-width="1.1" stroke-linejoin="round"/>
<path d="M189.9,16.9L193.4,8.8L186.4,7.0L179.4,10.7L180.2,13.0L186.8,18.2Z" fill="rgb(53,59,133)" stroke="#d83070" stroke-width="1.1" stroke-linejoin="round"/>
<path d="M186.0,21.5L186.8,18.2L189.9,16.9L195.3,19.8L196.3,25.7L190.5,27.0Z" fill="rgb(67,96,40)" stroke="#e04a20" stroke-width="1.1" stroke-linejoin="round"/>
<path d="M179.1,26.9L186.0,21.5L190.5,27.0L188.4,32.5L183.0,33.3L179.2,30.1Z" fill="rgb(47,47,100)" stroke="#e83a28" stroke-width="1.1" stroke-linejoin="round"/>
<path d="M183.0,33.3L182.5,39.1L190.5,42.1L194.6,38.4L194.4,37.2L188.4,32.5Z" fill="rgb(40,40,85)" stroke="#e83a28" stroke-width="1.1" stroke-linejoin="round"/>
<path d="M190.5,42.1L188.8,49.1L183.6,49.8L182.9,49.3L180.6,41.6L182.5,39.1Z" fill="rgb(96,38,91)" stroke="#e83a28" stroke-width="1.1" stroke-linejoin="round"/>
<path d="M183.6,49.8L188.8,49.1L194.4,52.9L195.2,56.1L190.9,61.3L181.7,57.7Z" fill="rgb(137,54,137)" stroke="#e83a28" stroke-width="1.1" stroke-linejoin="round"/>
<path d="M179.3,65.7L180.4,58.6L181.7,57.7L190.9,61.3L190.8,62.6L184.5,67.7Z" fill="rgb(35,35,85)" stroke="#e83a28" stroke-width="1.1" stroke-linejoin="round"/>
<path d="M194.9,72.4L194.5,72.6L186.0,72.5L184.5,67.7L190.8,62.6L194.6,69.1Z" fill="rgb(46,96,52)" stroke="#e04a20" stroke-width="1.1" stroke-linejoin="round"/>
<path d="M183.7,82.1L182.8,76.8L186.0,72.5L194.5,72.6L189.0,81.2Z" fill="rgb(129,51,122)" stroke="#e04a20" stroke-width="1.1" stroke-linejoin="round"/>
<path d="M183.7,87.3L183.2,82.9L183.7,82.1L189.0,81.2L196.0,84.8L196.8,89.3L192.1,90.9Z" fill="rgb(101,40,96)" stroke="#e04a20" stroke-width="1.1" stroke-linejoin="round"/>
<path d="M183.7,87.3L192.1,90.9L189.5,96.9L185.2,99.6L183.3,98.3L181.7,91.2Z" fill="rgb(38,38,81)" stroke="#e83a28" stroke-width="1.1" stroke-linejoin="round"/>
<path d="M189.5,96.9L197.9,100.0L196.4,106.2L193.2,106.5L185.7,101.0L185.2,99.6Z" fill="rgb(31,88,78)" stroke="#e04a20" stroke-width="1.1" stroke-linejoin="round"/>
<path d="M185.7,101.0L180.9,111.6L182.6,112.5L189.4,111.1L193.2,106.5Z" fill="rgb(65,94,39)" stroke="#d83070" stroke-width="1.1" stroke-linejoin="round"/>
<path d="M193.8,118.8L189.4,111.1L182.6,112.5L187.3,122.2L189.0,123.1L193.5,121.2Z" fill="rgb(59,65,146)" stroke="#d83070" stroke-width="1.1" stroke-linejoin="round"/>
<path d="M183.8,134.4L188.4,130.0L189.0,123.1L187.3,122.2L177.0,124.2L177.3,126.6Z" fill="rgb(32,89,80)" stroke="#e83a28" stroke-width="1.1" stroke-linejoin="round"/>
<path d="M183.8,134.4L188.4,130.0L196.5,134.0L196.8,137.1L193.7,139.1L183.4,135.8Z" fill="rgb(35,98,88)" stroke="#e04a20" stroke-width="1.1" stroke-linejoin="round"/>
<path d="M181.8,138.2L182.6,143.1L186.2,147.7L186.5,147.8L190.1,146.7L193.7,139.1L183.4,135.8Z" fill="rgb(128,50,128)" stroke="#e04a20" stroke-width="1.1" stroke-linejoin="round"/>
<path d="M198.7,155.7L196.2,148.5L190.1,146.7L186.5,147.8L189.5,156.6Z" fill="rgb(88,51,122)" stroke="#e04a20" stroke-width="1.1" stroke-linejoin="round"/>
<path d="M187.6,160.9L189.5,156.6L186.5,147.8L186.2,147.7L180.5,152.9L182.1,159.7L186.2,161.8Z" fill="rgb(77,111,46)" stroke="#d83070" stroke-width="1.1" stroke-linejoin="round"/>
<path d="M193.2,172.2L195.3,164.4L187.6,160.9L186.2,161.8L184.6,168.4L193.2,172.2Z" fill="rgb(74,42,102)" stroke="#e83a28" stroke-width="1.1" stroke-linejoin="round"/>
<path d="M193.2,175.2L185.8,178.3L181.5,174.9L181.2,170.7L184.6,168.4L193.2,172.2Z" fill="rgb(34,34,72)" stroke="#e83a28" stroke-width="1.1" stroke-linejoin="round"/>
<path d="M193.2,175.2L185.8,178.3L186.1,184.5L189.7,186.3L194.1,184.7L194.4,177.1Z" fill="rgb(36,36,87)" stroke="#e83a28" stroke-width="1.1" stroke-linejoin="round"/>
<path d="M186.1,184.5L179.0,186.3L179.8,194.4L184.4,194.7L188.9,192.0L189.7,186.3Z" fill="rgb(36,36,77)" stroke="#e83a28" stroke-width="1.1" stroke-linejoin="round"/>
<path d="M184.4,194.7L188.9,192.0L195.1,197.3L194.6,198.9L191.5,201.3L188.0,201.2Z" fill="rgb(43,43,106)" stroke="#e83a28" stroke-width="1.1" stroke-linejoin="round"/>
<path d="M188.0,201.2L191.5,201.3L192.2,210.4L184.1,210.1L180.9,206.6Z" fill="rgb(39,39,96)" stroke="#e83a28" stroke-width="1.1" stroke-linejoin="round"/>
<path d="M195.3,212.5L190.5,220.5L183.5,217.0L184.1,210.1L192.2,210.4Z" fill="rgb(129,51,123)" stroke="#e83a28" stroke-width="1.1" stroke-linejoin="round"/>
<path d="M208.1,-6.3L209.4,-12.2L209.3,-12.4L198.2,-14.0L197.1,-13.2L197.4,-10.1L204.9,-4.8Z" fill="rgb(47,47,99)" stroke="#d83070" stroke-width="1.1" stroke-linejoin="round"/>
<path d="M204.9,-4.8L197.4,-10.1L193.6,-1.9L196.2,1.4L201.9,0.2Z" fill="rgb(46,96,52)" stroke="#e83a28" stroke-width="1.1" stroke-linejoin="round"/>
<path d="M202.1,12.5L195.1,7.9L196.2,1.4L201.9,0.2L207.7,5.2L207.6,6.8Z" fill="rgb(34,34,82)" stroke="#d83070" stroke-width="1.1" stroke-linejoin="round"/>
<path d="M202.7,15.2L195.3,19.8L189.9,16.9L193.4,8.8L195.1,7.9L202.1,12.5Z" fill="rgb(128,50,121)" stroke="#e83a28" stroke-width="1.1" stroke-linejoin="round"/>
<path d="M202.7,15.2L195.3,19.8L196.3,25.7L200.3,28.4L204.8,25.8L204.3,16.9Z" fill="rgb(76,39,96)" stroke="#e04a20" stroke-width="1.1" stroke-linejoin="round"/>
<path d="M188.4,32.5L194.4,37.2L200.2,28.6L200.3,28.4L196.3,25.7L190.5,27.0Z" fill="rgb(45,93,50)" stroke="#e83a28" stroke-width="1.1" stroke-linejoin="round"/>
<path d="M194.4,37.2L200.2,28.6L206.6,39.3L201.9,43.3L194.6,38.4Z" fill="rgb(42,42,90)" stroke="#e83a28" stroke-width="1.1" stroke-linejoin="round"/>
<path d="M194.6,38.4L201.9,43.3L201.9,43.9L194.4,52.9L188.8,49.1L190.5,42.1Z" fill="rgb(99,39,94)" stroke="#e83a28" stroke-width="1.1" stroke-linejoin="round"/>
<path d="M199.1,57.6L195.2,56.1L194.4,52.9L201.9,43.9L209.1,52.7L208.3,55.0Z" fill="rgb(91,53,127)" stroke="#e83a28" stroke-width="1.1" stroke-linejoin="round"/>
<path d="M194.6,69.1L190.8,62.6L190.9,61.3L195.2,56.1L199.1,57.6L201.2,63.6Z" fill="rgb(92,48,117)" stroke="#d83070" stroke-width="1.1" stroke-linejoin="round"/>
<path d="M194.9,72.4L201.0,75.8L201.9,75.7L205.1,72.5L205.5,66.6L201.2,63.6L194.6,69.1Z" fill="rgb(112,44,106)" stroke="#d83070" stroke-width="1.1" stroke-linejoin="round"/>
<path d="M196.0,84.8L201.0,75.8L194.9,72.4L194.5,72.6L189.0,81.2Z" fill="rgb(111,44,111)" stroke="#e83a28" stroke-width="1.1" stroke-linejoin="round"/>
<path d="M196.8,89.3L197.5,89.7L207.7,87.9L208.5,84.0L201.9,75.7L201.0,75.8L196.0,84.8Z" fill="rgb(123,49,123)" stroke="#d83070" stroke-width="1.1" stroke-linejoin="round"/>
<path d="M192.1,90.9L196.8,89.3L197.5,89.7L199.4,98.1L197.9,100.0L189.5,96.9Z" fill="rgb(87,47,114)" stroke="#d83070" stroke-width="1.1" stroke-linejoin="round"/>
<path d="M196.4,106.2L198.6,108.3L208.6,103.0L207.8,98.7L199.4,98.1L197.9,100.0Z" fill="rgb(53,59,132)" stroke="#e83a28" stroke-width="1.1" stroke-linejoin="round"/>
<path d="M196.4,106.2L198.6,108.3L199.7,110.8L193.8,118.8L189.4,111.1L193.2,106.5Z" fill="rgb(69,99,41)" stroke="#e83a28" stroke-width="1.1" stroke-linejoin="round"/>
<path d="M206.8,115.0L205.0,121.5L198.6,123.6L193.5,121.2L193.8,118.8L199.7,110.8Z" fill="rgb(89,51,124)" stroke="#d83070" stroke-width="1.1" stroke-linejoin="round"/>
<path d="M198.6,123.6L198.8,130.7L196.5,134.0L188.4,130.0L189.0,123.1L193.5,121.2Z" fill="rgb(33,94,83)" stroke="#e83a28" stroke-width="1.1" stroke-linejoin="round"/>
<path d="M202.8,141.7L208.2,137.8L207.3,131.8L198.8,130.7L196.5,134.0L196.8,137.1Z" fill="rgb(106,42,106)" stroke="#e83a28" stroke-width="1.1" stroke-linejoin="round"/>
<path d="M202.8,141.7L196.8,137.1L193.7,139.1L190.1,146.7L196.2,148.5L202.7,142.8Z" fill="rgb(72,104,43)" stroke="#d83070" stroke-width="1.1" stroke-linejoin="round"/>
<path d="M198.7,155.7L196.2,148.5L202.7,142.8L208.4,151.6L208.4,151.9L199.7,156.5Z" fill="rgb(74,38,94)" stroke="#e83a28" stroke-width="1.1" stroke-linejoin="round"/>
<path d="M200.1,161.8L199.7,156.5L198.7,155.7L189.5,156.6L187.6,160.9L195.3,164.4Z" fill="rgb(97,38,92)" stroke="#e83a28" stroke-width="1.1" stroke-linejoin="round"/>
<path d="M202.1,170.6L205.3,166.2L200.1,161.8L195.3,164.4L193.2,172.2Z" fill="rgb(81,117,49)" stroke="#d83070" stroke-width="1.1" stroke-linejoin="round"/>
<path d="M202.1,170.6L193.2,172.2L193.2,172.2L193.2,175.2L194.4,177.1L202.8,177.4Z" fill="rgb(40,40,85)" stroke="#e04a20" stroke-width="1.1" stroke-linejoin="round"/>
<path d="M202.8,177.4L204.8,179.3L202.6,185.2L199.7,187.5L194.1,184.7L194.4,177.1Z" fill="rgb(79,113,47)" stroke="#e83a28" stroke-width="1.1" stroke-linejoin="round"/>
<path d="M189.7,186.3L188.9,192.0L195.1,197.3L200.3,193.5L199.7,187.5L194.1,184.7Z" fill="rgb(92,48,118)" stroke="#e83a28" stroke-width="1.1" stroke-linejoin="round"/>
<path d="M200.3,193.5L195.1,197.3L194.6,198.9L201.7,207.7L206.6,198.9L206.5,196.9Z" fill="rgb(55,61,137)" stroke="#e04a20" stroke-width="1.1" stroke-linejoin="round"/>
<path d="M196.3,212.4L201.7,208.7L201.7,207.7L194.6,198.9L191.5,201.3L192.2,210.4L195.3,212.5Z" fill="rgb(74,31,36)" stroke="#e83a28" stroke-width="1.1" stroke-linejoin="round"/>
<path d="M196.3,212.4L201.8,221.6L208.1,218.2L204.9,210.3L201.7,208.7Z" fill="rgb(97,52,127)" stroke="#d83070" stroke-width="1.1" stroke-linejoin="round"/>
<path d="M209.3,-12.4L198.2,-14.0L207.6,-38.7Z" fill="rgb(51,111,137)" stroke="#d83070" stroke-width="1.1" stroke-linejoin="round"/>
<path d="M208.1,-6.3L209.4,-12.2L218.6,-12.5L219.8,-6.9L211.5,-3.0Z" fill="rgb(75,39,96)" stroke="#e83a28" stroke-width="1.1" stroke-linejoin="round"/>
<path d="M212.3,1.1L211.5,-3.0L208.1,-6.3L204.9,-4.8L201.9,0.2L207.7,5.2Z" fill="rgb(108,108,108)" stroke="#e83a28" stroke-width="1.1" stroke-linejoin="round"/>
<path d="M207.6,6.8L207.7,5.2L212.3,1.1L218.1,3.3L217.8,10.6L213.5,11.0Z" fill="rgb(96,50,122)" stroke="#e04a20" stroke-width="1.1" stroke-linejoin="round"/>
<path d="M202.7,15.2L202.1,12.5L207.6,6.8L213.5,11.0L209.9,16.6L204.3,16.9Z" fill="rgb(46,51,114)" stroke="#e83a28" stroke-width="1.1" stroke-linejoin="round"/>
<path d="M204.3,16.9L204.8,25.8L212.5,28.2L216.2,23.5L216.2,22.2L209.9,16.6Z" fill="rgb(79,113,47)" stroke="#e83a28" stroke-width="1.1" stroke-linejoin="round"/>
<path d="M200.3,28.4L200.2,28.6L206.6,39.3L207.7,38.9L213.3,32.0L212.5,28.2L204.8,25.8Z" fill="rgb(109,43,103)" stroke="#e83a28" stroke-width="1.1" stroke-linejoin="round"/>
<path d="M218.7,35.2L219.8,39.3L213.4,43.5L207.7,38.9L213.3,32.0Z" fill="rgb(66,38,92)" stroke="#e83a28" stroke-width="1.1" stroke-linejoin="round"/>
<path d="M206.6,39.3L201.9,43.3L201.9,43.9L209.1,52.7L214.3,49.9L213.4,43.5L207.7,38.9Z" fill="rgb(45,97,120)" stroke="#e83a28" stroke-width="1.1" stroke-linejoin="round"/>
<path d="M208.3,55.0L209.1,52.7L214.3,49.9L215.4,50.1L221.9,60.8L210.2,59.2Z" fill="rgb(40,87,108)" stroke="#e83a28" stroke-width="1.1" stroke-linejoin="round"/>
<path d="M205.5,66.6L209.4,63.2L210.2,59.2L208.3,55.0L199.1,57.6L201.2,63.6Z" fill="rgb(82,47,114)" stroke="#e83a28" stroke-width="1.1" stroke-linejoin="round"/>
<path d="M205.1,72.5L213.5,73.1L216.2,70.6L216.3,69.0L209.4,63.2L205.5,66.6Z" fill="rgb(60,67,149)" stroke="#e04a20" stroke-width="1.1" stroke-linejoin="round"/>
<path d="M201.9,75.7L208.5,84.0L214.4,80.9L213.5,73.1L205.1,72.5Z" fill="rgb(59,65,146)" stroke="#d83070" stroke-width="1.1" stroke-linejoin="round"/>
<path d="M210.8,92.8L218.4,89.1L218.3,82.1L214.4,80.9L208.5,84.0L207.7,87.9Z" fill="rgb(42,42,89)" stroke="#e04a20" stroke-width="1.1" stroke-linejoin="round"/>
<path d="M197.5,89.7L207.7,87.9L210.8,92.8L210.8,94.4L207.8,98.7L199.4,98.1Z" fill="rgb(44,94,117)" stroke="#e04a20" stroke-width="1.1" stroke-linejoin="round"/>
<path d="M213.0,108.7L218.5,104.9L220.1,99.6L219.9,99.4L210.8,94.4L207.8,98.7L208.6,103.0Z" fill="rgb(102,55,134)" stroke="#e83a28" stroke-width="1.1" stroke-linejoin="round"/>
<path d="M213.0,108.7L208.6,103.0L198.6,108.3L199.7,110.8L206.8,115.0L212.4,112.1Z" fill="rgb(65,94,39)" stroke="#e83a28" stroke-width="1.1" stroke-linejoin="round"/>
<path d="M212.4,112.1L217.9,116.9L212.8,126.6L209.7,126.8L205.0,121.5L206.8,115.0Z" fill="rgb(44,44,107)" stroke="#e83a28" stroke-width="1.1" stroke-linejoin="round"/>
<path d="M205.0,121.5L209.7,126.8L207.3,131.8L198.8,130.7L198.6,123.6Z" fill="rgb(110,43,110)" stroke="#d83070" stroke-width="1.1" stroke-linejoin="round"/>
<path d="M212.8,139.0L208.2,137.8L207.3,131.8L209.7,126.8L212.8,126.6L218.6,130.3L217.9,135.1Z" fill="rgb(46,96,52)" stroke="#e83a28" stroke-width="1.1" stroke-linejoin="round"/>
<path d="M212.8,139.0L208.2,137.8L202.8,141.7L202.7,142.8L208.4,151.6L215.0,144.5Z" fill="rgb(91,39,45)" stroke="#e83a28" stroke-width="1.1" stroke-linejoin="round"/>
<path d="M215.0,144.5L208.4,151.6L208.4,151.9L213.4,157.0L220.9,151.2L220.7,147.8L219.9,146.3Z" fill="rgb(90,52,125)" stroke="#e83a28" stroke-width="1.1" stroke-linejoin="round"/>
<path d="M200.1,161.8L199.7,156.5L208.4,151.9L213.4,157.0L213.5,157.8L207.5,166.3L205.3,166.2Z" fill="rgb(52,57,128)" stroke="#e83a28" stroke-width="1.1" stroke-linejoin="round"/>
<path d="M217.8,169.1L210.5,169.7L207.5,166.3L213.5,157.8L219.6,162.2Z" fill="rgb(113,61,148)" stroke="#d83070" stroke-width="1.1" stroke-linejoin="round"/>
<path d="M202.1,170.6L205.3,166.2L207.5,166.3L210.5,169.7L210.5,177.7L204.8,179.3L202.8,177.4Z" fill="rgb(71,37,91)" stroke="#d83070" stroke-width="1.1" stroke-linejoin="round"/>
<path d="M216.0,181.4L210.5,177.7L204.8,179.3L202.6,185.2L213.4,188.9L216.1,184.0Z" fill="rgb(101,43,49)" stroke="#e04a20" stroke-width="1.1" stroke-linejoin="round"/>
<path d="M213.4,188.9L213.3,192.4L206.5,196.9L200.3,193.5L199.7,187.5L202.6,185.2Z" fill="rgb(45,45,95)" stroke="#e83a28" stroke-width="1.1" stroke-linejoin="round"/>
<path d="M206.5,196.9L206.6,198.9L213.5,204.9L220.0,200.6L219.1,197.0L213.3,192.4Z" fill="rgb(91,49,119)" stroke="#e04a20" stroke-width="1.1" stroke-linejoin="round"/>
<path d="M201.7,207.7L206.6,198.9L213.5,204.9L212.7,208.1L204.9,210.3L201.7,208.7Z" fill="rgb(52,109,58)" stroke="#e83a28" stroke-width="1.1" stroke-linejoin="round"/>
<path d="M212.7,208.1L215.6,212.1L213.6,219.1L212.9,219.8L208.1,218.2L204.9,210.3Z" fill="rgb(54,111,60)" stroke="#e83a28" stroke-width="1.1" stroke-linejoin="round"/>
<path d="M218.6,-12.5L222.3,-17.9L226.8,-166.0L207.6,-38.7L209.3,-12.4L209.4,-12.2Z" fill="rgb(125,125,125)" stroke="#e83a28" stroke-width="1.1" stroke-linejoin="round"/>
<path d="M209.9,16.6L216.2,22.2L221.1,13.8L217.8,10.6L213.5,11.0Z" fill="rgb(104,56,137)" stroke="#e83a28" stroke-width="1.1" stroke-linejoin="round"/>
<path d="M210.2,59.2L221.9,60.8L222.4,61.0L216.3,69.0L209.4,63.2Z" fill="rgb(41,41,87)" stroke="#e83a28" stroke-width="1.1" stroke-linejoin="round"/>
<path d="M216.0,181.4L222.5,176.0L222.8,174.4L217.8,169.1L210.5,169.7L210.5,177.7Z" fill="rgb(38,82,101)" stroke="#e83a28" stroke-width="1.1" stroke-linejoin="round"/>
</g>
<rect x="1.4" y="2.4" width="194.2" height="193.8" fill="none" stroke="#2a1a1a" stroke-width="0.8"/>
<rect x="93.4" y="4.6" width="55.2" height="190" rx="10" fill="none" stroke="#fff" stroke-width="2.6" stroke-dasharray="4.5 3.6"/>
<rect x="12" y="182.4" width="51" height="4.6" fill="#fff"/>
<clipPath id="cb"><rect x="208" y="2" width="195.20" height="194.50"/></clipPath>
<g clip-path="url(#cb)">
<rect x="208" y="2" width="195.20" height="194.50" fill="#d8303c"/>
<rect x="336" y="2" width="67.20" height="194.50" fill="#b02830"/>
<path d="M195.3,-17.7L190.7,-23.6L182.5,-15.0L180.6,-9.0L188.8,-2.6L196.8,-10.7Z" fill="rgb(97,97,47)" stroke="#e83a28" stroke-width="1.1" stroke-linejoin="round"/>
<path d="M188.9,-2.0L182.9,9.6L194.2,14.8L200.3,7.8L200.1,4.4Z" fill="rgb(74,30,40)" stroke="#d83070" stroke-width="1.1" stroke-linejoin="round"/>
<path d="M201.4,31.9L199.5,23.0L194.8,18.7L184.4,27.7L184.1,31.4L185.1,32.6Z" fill="rgb(92,41,88)" stroke="#e83a28" stroke-width="1.1" stroke-linejoin="round"/>
<path d="M201.8,66.7L194.2,57.9L185.3,68.0L185.0,72.9L192.2,79.3L200.1,73.0Z" fill="rgb(77,31,41)" stroke="#e83a28" stroke-width="1.1" stroke-linejoin="round"/>
<path d="M185.0,88.2L192.6,81.8L200.4,90.1L200.6,92.4L192.0,101.4L181.5,96.4Z" fill="rgb(38,83,47)" stroke="#d83070" stroke-width="1.1" stroke-linejoin="round"/>
<path d="M202.4,113.6L202.4,110.0L192.4,106.4L188.6,112.0L194.1,121.5Z" fill="rgb(119,54,119)" stroke="#e83a28" stroke-width="1.1" stroke-linejoin="round"/>
<path d="M199.9,136.4L193.9,126.1L186.1,129.8L184.1,135.1L188.5,141.5Z" fill="rgb(71,43,106)" stroke="#e04a20" stroke-width="1.1" stroke-linejoin="round"/>
<path d="M198.8,159.5L194.4,149.9L189.7,148.3L181.4,154.1L189.0,166.5L191.1,167.2Z" fill="rgb(92,41,88)" stroke="#e83a28" stroke-width="1.1" stroke-linejoin="round"/>
<path d="M204.8,193.4L202.7,200.8L194.9,201.9L187.9,196.2L191.4,189.2Z" fill="rgb(63,38,94)" stroke="#e04a20" stroke-width="1.1" stroke-linejoin="round"/>
<path d="M194.9,201.9L192.0,209.3L184.4,214.1L178.8,206.8L178.3,202.1L180.3,198.3L187.9,196.2Z" fill="rgb(46,102,57)" stroke="#d83070" stroke-width="1.1" stroke-linejoin="round"/>
<path d="M184.4,214.1L192.0,209.3L201.8,214.1L198.2,222.4L190.6,223.1L184.5,214.7Z" fill="rgb(63,38,94)" stroke="#e83a28" stroke-width="1.1" stroke-linejoin="round"/>
<path d="M210.4,-17.7L195.3,-17.7L196.8,-10.7L205.8,-4.5L207.2,-4.9L212.6,-14.6Z" fill="rgb(87,40,87)" stroke="#e04a20" stroke-width="1.1" stroke-linejoin="round"/>
<path d="M196.8,-10.7L188.8,-2.6L188.9,-2.0L200.1,4.4L205.8,-4.5Z" fill="rgb(69,38,90)" stroke="#e04a20" stroke-width="1.1" stroke-linejoin="round"/>
<path d="M207.2,-4.9L215.5,1.0L212.3,12.4L211.9,12.5L200.3,7.8L200.1,4.4L205.8,-4.5Z" fill="rgb(68,41,101)" stroke="#e83a28" stroke-width="1.1" stroke-linejoin="round"/>
<path d="M209.8,18.9L211.9,12.5L200.3,7.8L194.2,14.8L194.8,18.7L199.5,23.0Z" fill="rgb(39,39,89)" stroke="#e83a28" stroke-width="1.1" stroke-linejoin="round"/>
<path d="M205.2,36.4L211.6,32.4L213.6,25.9L209.8,18.9L199.5,23.0L201.4,31.9Z" fill="rgb(92,37,50)" stroke="#e83a28" stroke-width="1.1" stroke-linejoin="round"/>
<path d="M204.6,40.7L205.2,36.4L201.4,31.9L185.1,32.6L187.3,42.2L196.6,47.0Z" fill="rgb(99,45,99)" stroke="#e83a28" stroke-width="1.1" stroke-linejoin="round"/>
<path d="M215.9,49.6L204.6,40.7L196.6,47.0L196.0,53.5L210.7,57.5Z" fill="rgb(91,42,91)" stroke="#e83a28" stroke-width="1.1" stroke-linejoin="round"/>
<path d="M210.7,57.5L210.7,64.2L201.8,66.7L194.2,57.9L194.2,57.2L196.0,53.5Z" fill="rgb(40,46,105)" stroke="#d83070" stroke-width="1.1" stroke-linejoin="round"/>
<path d="M216.8,69.3L217.3,72.2L211.0,78.0L200.1,73.0L201.8,66.7L210.7,64.2Z" fill="rgb(73,33,73)" stroke="#e83a28" stroke-width="1.1" stroke-linejoin="round"/>
<path d="M200.1,73.0L192.2,79.3L192.6,81.8L200.4,90.1L210.0,83.4L211.0,78.0Z" fill="rgb(76,42,99)" stroke="#e83a28" stroke-width="1.1" stroke-linejoin="round"/>
<path d="M210.0,83.4L200.4,90.1L200.6,92.4L210.3,100.6L213.7,98.7L218.1,88.8Z" fill="rgb(78,35,78)" stroke="#e83a28" stroke-width="1.1" stroke-linejoin="round"/>
<path d="M210.3,100.6L200.6,92.4L192.0,101.4L192.4,106.4L202.4,110.0L210.0,104.4Z" fill="rgb(98,59,145)" stroke="#d83070" stroke-width="1.1" stroke-linejoin="round"/>
<path d="M207.7,119.6L215.2,112.2L215.1,111.2L210.0,104.4L202.4,110.0L202.4,113.6Z" fill="rgb(46,53,121)" stroke="#e04a20" stroke-width="1.1" stroke-linejoin="round"/>
<path d="M207.6,124.6L207.7,119.6L202.4,113.6L194.1,121.5L194.4,125.3Z" fill="rgb(146,65,139)" stroke="#e83a28" stroke-width="1.1" stroke-linejoin="round"/>
<path d="M199.9,136.4L193.9,126.1L194.4,125.3L207.6,124.6L211.0,127.9L210.6,137.8L208.5,141.4L208.2,141.4Z" fill="rgb(98,40,53)" stroke="#e83a28" stroke-width="1.1" stroke-linejoin="round"/>
<path d="M199.9,136.4L188.5,141.5L189.7,148.3L194.4,149.9L208.2,141.4Z" fill="rgb(93,37,50)" stroke="#e83a28" stroke-width="1.1" stroke-linejoin="round"/>
<path d="M203.7,160.1L214.4,151.1L208.5,141.4L208.2,141.4L194.4,149.9L198.8,159.5Z" fill="rgb(77,77,37)" stroke="#e83a28" stroke-width="1.1" stroke-linejoin="round"/>
<path d="M203.7,160.1L207.3,167.7L196.2,176.9L195.5,176.9L191.1,167.2L198.8,159.5Z" fill="rgb(86,86,42)" stroke="#e04a20" stroke-width="1.1" stroke-linejoin="round"/>
<path d="M196.2,176.9L207.6,183.8L216.7,174.9L216.8,171.9L207.3,167.7Z" fill="rgb(42,89,48)" stroke="#e83a28" stroke-width="1.1" stroke-linejoin="round"/>
<path d="M196.2,176.9L207.6,183.8L208.1,190.0L204.8,193.4L191.4,189.2L190.5,182.2L195.5,176.9Z" fill="rgb(72,40,93)" stroke="#e83a28" stroke-width="1.1" stroke-linejoin="round"/>
<path d="M208.1,190.0L215.4,192.9L217.5,199.9L212.2,210.5L208.4,209.5L202.7,200.8L204.8,193.4Z" fill="rgb(81,37,81)" stroke="#e83a28" stroke-width="1.1" stroke-linejoin="round"/>
<path d="M202.7,200.8L208.4,209.5L201.8,214.1L192.0,209.3L194.9,201.9Z" fill="rgb(60,36,88)" stroke="#e83a28" stroke-width="1.1" stroke-linejoin="round"/>
<path d="M217.4,-14.6L222.0,-9.7L233.1,-12.4L233.0,-14.9L222.4,-20.6Z" fill="rgb(31,66,36)" stroke="#e83a28" stroke-width="1.1" stroke-linejoin="round"/>
<path d="M217.4,-14.6L212.6,-14.6L207.2,-4.9L215.5,1.0L222.0,-0.4L222.0,-9.7Z" fill="rgb(130,130,130)" stroke="#e04a20" stroke-width="1.1" stroke-linejoin="round"/>
<path d="M222.0,-0.4L228.9,3.6L229.3,12.0L225.8,15.9L212.3,12.4L215.5,1.0Z" fill="rgb(32,37,85)" stroke="#e83a28" stroke-width="1.1" stroke-linejoin="round"/>
<path d="M209.8,18.9L211.9,12.5L212.3,12.4L225.8,15.9L225.4,21.7L213.6,25.9Z" fill="rgb(102,102,102)" stroke="#e83a28" stroke-width="1.1" stroke-linejoin="round"/>
<path d="M213.6,25.9L225.4,21.7L230.2,31.6L226.2,36.3L211.6,32.4Z" fill="rgb(91,91,44)" stroke="#e83a28" stroke-width="1.1" stroke-linejoin="round"/>
<path d="M215.9,49.6L217.6,49.5L225.6,40.4L226.2,36.3L211.6,32.4L205.2,36.4L204.6,40.7Z" fill="rgb(38,81,44)" stroke="#d83070" stroke-width="1.1" stroke-linejoin="round"/>
<path d="M225.2,57.4L231.4,55.1L233.3,47.5L225.6,40.4L217.6,49.5Z" fill="rgb(67,40,100)" stroke="#e83a28" stroke-width="1.1" stroke-linejoin="round"/>
<path d="M215.9,49.6L217.6,49.5L225.2,57.4L224.7,61.0L216.8,69.3L210.7,64.2L210.7,57.5Z" fill="rgb(68,38,89)" stroke="#e83a28" stroke-width="1.1" stroke-linejoin="round"/>
<path d="M224.7,61.0L233.3,68.7L232.9,70.9L224.7,77.2L217.3,72.2L216.8,69.3Z" fill="rgb(104,47,104)" stroke="#e83a28" stroke-width="1.1" stroke-linejoin="round"/>
<path d="M217.3,72.2L224.7,77.2L226.9,85.9L218.1,88.8L210.0,83.4L211.0,78.0Z" fill="rgb(40,85,46)" stroke="#e83a28" stroke-width="1.1" stroke-linejoin="round"/>
<path d="M226.9,85.9L231.6,89.4L225.8,101.0L213.7,98.7L218.1,88.8Z" fill="rgb(38,38,85)" stroke="#e83a28" stroke-width="1.1" stroke-linejoin="round"/>
<path d="M225.8,101.0L227.1,105.6L215.1,111.2L210.0,104.4L210.3,100.6L213.7,98.7Z" fill="rgb(134,60,127)" stroke="#e04a20" stroke-width="1.1" stroke-linejoin="round"/>
<path d="M223.6,122.1L215.2,112.2L215.1,111.2L227.1,105.6L233.6,112.0L226.6,122.6Z" fill="rgb(56,119,64)" stroke="#e83a28" stroke-width="1.1" stroke-linejoin="round"/>
<path d="M211.0,127.9L223.6,122.1L215.2,112.2L207.7,119.6L207.6,124.6Z" fill="rgb(92,51,120)" stroke="#e83a28" stroke-width="1.1" stroke-linejoin="round"/>
<path d="M211.0,127.9L223.6,122.1L226.6,122.6L230.0,129.5L229.9,131.6L225.2,135.5L210.6,137.8Z" fill="rgb(46,117,117)" stroke="#e83a28" stroke-width="1.1" stroke-linejoin="round"/>
<path d="M215.7,151.7L224.0,146.9L225.2,135.5L210.6,137.8L208.5,141.4L214.4,151.1Z" fill="rgb(48,123,123)" stroke="#d83070" stroke-width="1.1" stroke-linejoin="round"/>
<path d="M222.7,162.8L233.6,156.7L232.5,147.7L224.0,146.9L215.7,151.7Z" fill="rgb(37,37,85)" stroke="#e04a20" stroke-width="1.1" stroke-linejoin="round"/>
<path d="M203.7,160.1L214.4,151.1L215.7,151.7L222.7,162.8L222.6,164.8L216.8,171.9L207.3,167.7Z" fill="rgb(42,42,96)" stroke="#e83a28" stroke-width="1.1" stroke-linejoin="round"/>
<path d="M228.0,186.2L233.1,178.8L230.6,169.8L222.6,164.8L216.8,171.9L216.7,174.9Z" fill="rgb(33,38,88)" stroke="#e04a20" stroke-width="1.1" stroke-linejoin="round"/>
<path d="M208.1,190.0L215.4,192.9L228.1,186.7L228.0,186.2L216.7,174.9L207.6,183.8Z" fill="rgb(61,34,80)" stroke="#e83a28" stroke-width="1.1" stroke-linejoin="round"/>
<path d="M228.1,186.7L232.5,192.2L231.5,197.2L226.2,200.8L217.5,199.9L215.4,192.9Z" fill="rgb(74,74,36)" stroke="#d83070" stroke-width="1.1" stroke-linejoin="round"/>
<path d="M226.2,200.8L217.5,199.9L212.2,210.5L216.4,214.7L224.2,210.3Z" fill="rgb(90,90,90)" stroke="#e83a28" stroke-width="1.1" stroke-linejoin="round"/>
<path d="M224.2,210.3L216.4,214.7L216.6,216.0L222.1,223.4L237.5,222.8L236.4,211.7Z" fill="rgb(69,38,89)" stroke="#d83070" stroke-width="1.1" stroke-linejoin="round"/>
<path d="M233.0,-14.9L239.3,-30.1L249.6,-17.2L249.4,-9.5L243.8,-4.4L238.9,-4.8L233.1,-12.4Z" fill="rgb(94,43,94)" stroke="#e83a28" stroke-width="1.1" stroke-linejoin="round"/>
<path d="M233.1,-12.4L238.9,-4.8L228.9,3.6L222.0,-0.4L222.0,-9.7Z" fill="rgb(72,43,107)" stroke="#d83070" stroke-width="1.1" stroke-linejoin="round"/>
<path d="M246.1,9.1L239.1,14.6L229.3,12.0L228.9,3.6L238.9,-4.8L243.8,-4.4L246.5,2.4Z" fill="rgb(45,98,55)" stroke="#e83a28" stroke-width="1.1" stroke-linejoin="round"/>
<path d="M241.6,21.7L237.4,31.6L230.2,31.6L225.4,21.7L225.8,15.9L229.3,12.0L239.1,14.6Z" fill="rgb(75,45,111)" stroke="#e83a28" stroke-width="1.1" stroke-linejoin="round"/>
<path d="M255.0,21.8L241.6,21.7L237.4,31.6L238.1,32.1L253.4,31.8L255.4,22.9Z" fill="rgb(41,87,47)" stroke="#e83a28" stroke-width="1.1" stroke-linejoin="round"/>
<path d="M238.1,32.1L237.4,31.6L230.2,31.6L226.2,36.3L225.6,40.4L233.3,47.5L242.8,45.2Z" fill="rgb(31,36,83)" stroke="#e04a20" stroke-width="1.1" stroke-linejoin="round"/>
<path d="M248.0,52.2L242.5,60.7L231.4,55.1L233.3,47.5L242.8,45.2L247.4,48.2Z" fill="rgb(96,44,96)" stroke="#e83a28" stroke-width="1.1" stroke-linejoin="round"/>
<path d="M242.5,61.3L233.3,68.7L224.7,61.0L225.2,57.4L231.4,55.1L242.5,60.7Z" fill="rgb(72,43,106)" stroke="#e83a28" stroke-width="1.1" stroke-linejoin="round"/>
<path d="M242.5,61.3L233.3,68.7L232.9,70.9L239.7,77.3L248.6,71.7L248.4,69.4Z" fill="rgb(37,82,46)" stroke="#e83a28" stroke-width="1.1" stroke-linejoin="round"/>
<path d="M224.7,77.2L232.9,70.9L239.7,77.3L238.2,86.6L234.3,89.4L231.6,89.4L226.9,85.9Z" fill="rgb(95,95,95)" stroke="#e83a28" stroke-width="1.1" stroke-linejoin="round"/>
<path d="M254.2,88.2L253.5,86.9L238.2,86.6L234.3,89.4L242.2,102.1L254.8,93.5Z" fill="rgb(86,86,41)" stroke="#e83a28" stroke-width="1.1" stroke-linejoin="round"/>
<path d="M225.8,101.0L227.1,105.6L233.6,112.0L236.4,111.4L242.1,103.8L242.2,102.1L234.3,89.4L231.6,89.4Z" fill="rgb(119,119,58)" stroke="#e83a28" stroke-width="1.1" stroke-linejoin="round"/>
<path d="M252.7,116.2L254.5,109.2L242.1,103.8L236.4,111.4L242.4,116.5Z" fill="rgb(101,60,149)" stroke="#e04a20" stroke-width="1.1" stroke-linejoin="round"/>
<path d="M242.4,116.5L236.4,111.4L233.6,112.0L226.6,122.6L230.0,129.5L243.2,126.2Z" fill="rgb(107,107,52)" stroke="#e83a28" stroke-width="1.1" stroke-linejoin="round"/>
<path d="M243.2,126.2L230.0,129.5L229.9,131.6L237.9,141.5L245.1,142.1L251.2,131.5Z" fill="rgb(64,140,79)" stroke="#e04a20" stroke-width="1.1" stroke-linejoin="round"/>
<path d="M229.9,131.6L237.9,141.5L232.5,147.7L224.0,146.9L225.2,135.5Z" fill="rgb(159,71,151)" stroke="#d83070" stroke-width="1.1" stroke-linejoin="round"/>
<path d="M250.7,151.8L245.1,142.1L237.9,141.5L232.5,147.7L233.6,156.7L243.2,160.1L250.2,155.3Z" fill="rgb(40,85,46)" stroke="#d83070" stroke-width="1.1" stroke-linejoin="round"/>
<path d="M222.6,164.8L230.6,169.8L242.0,166.6L243.2,160.1L233.6,156.7L222.7,162.8Z" fill="rgb(32,68,37)" stroke="#e83a28" stroke-width="1.1" stroke-linejoin="round"/>
<path d="M233.1,178.8L230.6,169.8L242.0,166.6L245.3,175.5L245.3,175.5L244.3,176.5Z" fill="rgb(81,45,106)" stroke="#d83070" stroke-width="1.1" stroke-linejoin="round"/>
<path d="M228.1,186.7L232.5,192.2L241.8,191.0L244.3,176.5L233.1,178.8L228.0,186.2Z" fill="rgb(81,81,39)" stroke="#e83a28" stroke-width="1.1" stroke-linejoin="round"/>
<path d="M231.5,197.2L232.5,192.2L241.8,191.0L249.1,194.4L246.1,205.6L237.9,208.5Z" fill="rgb(44,93,50)" stroke="#e83a28" stroke-width="1.1" stroke-linejoin="round"/>
<path d="M226.2,200.8L224.2,210.3L236.4,211.7L237.9,208.5L231.5,197.2Z" fill="rgb(84,34,45)" stroke="#e83a28" stroke-width="1.1" stroke-linejoin="round"/>
<path d="M236.4,211.7L237.5,222.8L239.8,225.2L255.8,215.6L256.5,213.8L246.1,205.6L237.9,208.5Z" fill="rgb(34,87,87)" stroke="#e83a28" stroke-width="1.1" stroke-linejoin="round"/>
<path d="M254.3,-8.4L267.0,-13.0L266.4,-18.8L261.1,-23.9L249.6,-17.2L249.4,-9.5Z" fill="rgb(42,91,52)" stroke="#d83070" stroke-width="1.1" stroke-linejoin="round"/>
<path d="M263.5,5.3L264.2,3.9L254.3,-8.4L249.4,-9.5L243.8,-4.4L246.5,2.4Z" fill="rgb(67,40,99)" stroke="#e04a20" stroke-width="1.1" stroke-linejoin="round"/>
<path d="M256.0,16.4L246.1,9.1L246.5,2.4L263.5,5.3L262.8,10.8Z" fill="rgb(69,38,89)" stroke="#e04a20" stroke-width="1.1" stroke-linejoin="round"/>
<path d="M255.0,21.8L241.6,21.7L239.1,14.6L246.1,9.1L256.0,16.4Z" fill="rgb(108,48,103)" stroke="#e04a20" stroke-width="1.1" stroke-linejoin="round"/>
<path d="M255.4,22.9L253.4,31.8L255.6,36.1L270.8,35.6L264.8,25.4Z" fill="rgb(37,37,84)" stroke="#d83070" stroke-width="1.1" stroke-linejoin="round"/>
<path d="M247.4,48.2L242.8,45.2L238.1,32.1L253.4,31.8L255.6,36.1L254.1,41.3Z" fill="rgb(79,36,79)" stroke="#e83a28" stroke-width="1.1" stroke-linejoin="round"/>
<path d="M262.3,57.9L248.0,52.2L247.4,48.2L254.1,41.3L267.5,49.8Z" fill="rgb(60,33,78)" stroke="#e83a28" stroke-width="1.1" stroke-linejoin="round"/>
<path d="M263.0,61.4L248.4,69.4L242.5,61.3L242.5,60.7L248.0,52.2L262.3,57.9Z" fill="rgb(37,43,98)" stroke="#e83a28" stroke-width="1.1" stroke-linejoin="round"/>
<path d="M263.0,61.4L248.4,69.4L248.6,71.7L255.3,79.6L264.8,75.0L265.5,64.6Z" fill="rgb(75,30,40)" stroke="#e83a28" stroke-width="1.1" stroke-linejoin="round"/>
<path d="M248.6,71.7L239.7,77.3L238.2,86.6L253.5,86.9L255.3,79.6Z" fill="rgb(89,89,43)" stroke="#e83a28" stroke-width="1.1" stroke-linejoin="round"/>
<path d="M269.2,94.4L259.4,98.9L254.8,93.5L254.2,88.2L269.6,87.5Z" fill="rgb(109,49,104)" stroke="#e04a20" stroke-width="1.1" stroke-linejoin="round"/>
<path d="M254.8,93.5L242.2,102.1L242.1,103.8L254.5,109.2L260.3,105.1L259.4,98.9Z" fill="rgb(38,82,47)" stroke="#e83a28" stroke-width="1.1" stroke-linejoin="round"/>
<path d="M260.3,105.1L254.5,109.2L252.7,116.2L257.6,124.7L260.0,124.2L268.4,109.9Z" fill="rgb(32,32,73)" stroke="#e04a20" stroke-width="1.1" stroke-linejoin="round"/>
<path d="M257.6,124.7L252.7,116.2L242.4,116.5L243.2,126.2L251.2,131.5L253.1,130.7Z" fill="rgb(43,109,109)" stroke="#d83070" stroke-width="1.1" stroke-linejoin="round"/>
<path d="M262.7,140.0L253.1,130.7L257.6,124.7L260.0,124.2L269.2,127.6L270.5,130.6L269.2,137.9Z" fill="rgb(34,39,90)" stroke="#e83a28" stroke-width="1.1" stroke-linejoin="round"/>
<path d="M262.7,140.0L260.3,147.0L250.7,151.8L245.1,142.1L251.2,131.5L253.1,130.7Z" fill="rgb(42,48,110)" stroke="#e83a28" stroke-width="1.1" stroke-linejoin="round"/>
<path d="M267.5,150.9L260.3,147.0L250.7,151.8L250.2,155.3L258.3,162.6L268.0,155.7Z" fill="rgb(28,72,72)" stroke="#e04a20" stroke-width="1.1" stroke-linejoin="round"/>
<path d="M250.2,155.3L243.2,160.1L242.0,166.6L245.3,175.5L259.8,167.2L258.3,162.6Z" fill="rgb(38,97,97)" stroke="#d83070" stroke-width="1.1" stroke-linejoin="round"/>
<path d="M266.4,176.9L256.6,184.2L245.3,175.5L245.3,175.5L259.8,167.2L267.0,174.1Z" fill="rgb(33,70,38)" stroke="#e04a20" stroke-width="1.1" stroke-linejoin="round"/>
<path d="M244.3,176.5L245.3,175.5L256.6,184.2L255.3,189.9L253.0,193.1L249.1,194.4L241.8,191.0Z" fill="rgb(53,115,65)" stroke="#e04a20" stroke-width="1.1" stroke-linejoin="round"/>
<path d="M269.9,201.3L262.9,204.6L253.0,193.1L255.3,189.9L271.1,194.1Z" fill="rgb(32,32,73)" stroke="#d83070" stroke-width="1.1" stroke-linejoin="round"/>
<path d="M259.6,211.7L256.5,213.8L246.1,205.6L249.1,194.4L253.0,193.1L262.9,204.6Z" fill="rgb(46,101,57)" stroke="#e83a28" stroke-width="1.1" stroke-linejoin="round"/>
<path d="M281.1,-14.7L277.8,-25.0L266.4,-18.8L267.0,-13.0L270.1,-9.7Z" fill="rgb(87,87,42)" stroke="#e83a28" stroke-width="1.1" stroke-linejoin="round"/>
<path d="M271.4,-0.6L270.1,-9.7L267.0,-13.0L254.3,-8.4L264.2,3.9Z" fill="rgb(90,90,44)" stroke="#e04a20" stroke-width="1.1" stroke-linejoin="round"/>
<path d="M262.8,10.8L263.5,5.3L264.2,3.9L271.4,-0.6L271.6,-0.5L278.4,5.0L273.5,17.7L271.7,17.4Z" fill="rgb(35,75,40)" stroke="#e83a28" stroke-width="1.1" stroke-linejoin="round"/>
<path d="M255.0,21.8L256.0,16.4L262.8,10.8L271.7,17.4L264.8,25.4L255.4,22.9Z" fill="rgb(80,44,104)" stroke="#e83a28" stroke-width="1.1" stroke-linejoin="round"/>
<path d="M264.8,25.4L270.8,35.6L272.3,36.3L278.8,21.8L273.5,17.7L271.7,17.4Z" fill="rgb(79,32,42)" stroke="#e04a20" stroke-width="1.1" stroke-linejoin="round"/>
<path d="M267.5,49.8L254.1,41.3L255.6,36.1L270.8,35.6L272.3,36.3L273.7,38.7L274.8,43.0L274.3,45.3Z" fill="rgb(35,75,40)" stroke="#e83a28" stroke-width="1.1" stroke-linejoin="round"/>
<path d="M263.0,61.4L262.3,57.9L267.5,49.8L274.3,45.3L278.7,51.2L274.2,64.3L265.5,64.6Z" fill="rgb(35,40,91)" stroke="#e83a28" stroke-width="1.1" stroke-linejoin="round"/>
<path d="M269.3,78.0L264.8,75.0L265.5,64.6L274.2,64.3L281.4,68.4L281.7,69.7Z" fill="rgb(57,34,84)" stroke="#e83a28" stroke-width="1.1" stroke-linejoin="round"/>
<path d="M271.5,82.3L269.3,78.0L264.8,75.0L255.3,79.6L253.5,86.9L254.2,88.2L269.6,87.5L270.6,86.0Z" fill="rgb(99,99,99)" stroke="#d83070" stroke-width="1.1" stroke-linejoin="round"/>
<path d="M276.8,99.8L269.2,94.4L269.6,87.5L270.6,86.0L278.2,91.2Z" fill="rgb(30,76,76)" stroke="#e83a28" stroke-width="1.1" stroke-linejoin="round"/>
<path d="M276.8,99.8L269.2,94.4L259.4,98.9L260.3,105.1L268.4,109.9L271.6,109.9L277.7,101.5Z" fill="rgb(103,47,103)" stroke="#e04a20" stroke-width="1.1" stroke-linejoin="round"/>
<path d="M271.6,109.9L276.2,116.0L277.0,119.3L269.2,127.6L260.0,124.2L268.4,109.9Z" fill="rgb(73,40,95)" stroke="#e83a28" stroke-width="1.1" stroke-linejoin="round"/>
<path d="M267.5,150.9L260.3,147.0L262.7,140.0L269.2,137.9L274.2,142.5L274.9,145.5Z" fill="rgb(61,37,91)" stroke="#e04a20" stroke-width="1.1" stroke-linejoin="round"/>
<path d="M272.4,158.4L268.0,155.7L267.5,150.9L274.9,145.5L281.9,150.9Z" fill="rgb(38,82,47)" stroke="#e83a28" stroke-width="1.1" stroke-linejoin="round"/>
<path d="M274.6,167.1L272.4,158.4L268.0,155.7L258.3,162.6L259.8,167.2L267.0,174.1L269.5,172.7Z" fill="rgb(96,43,91)" stroke="#d83070" stroke-width="1.1" stroke-linejoin="round"/>
<path d="M271.1,194.1L255.3,189.9L256.6,184.2L266.4,176.9L274.4,189.3Z" fill="rgb(104,46,99)" stroke="#e83a28" stroke-width="1.1" stroke-linejoin="round"/>
<path d="M273.5,203.8L277.2,211.6L276.9,212.9L271.2,217.4L259.6,211.7L262.9,204.6L269.9,201.3Z" fill="rgb(45,99,56)" stroke="#e83a28" stroke-width="1.1" stroke-linejoin="round"/>
<path d="M285.2,-12.6L281.1,-14.7L270.1,-9.7L271.4,-0.6L271.6,-0.5L285.5,-7.9Z" fill="rgb(37,37,84)" stroke="#e83a28" stroke-width="1.1" stroke-linejoin="round"/>
<path d="M278.2,91.2L270.6,86.0L271.5,82.3L284.0,82.3L283.7,87.0Z" fill="rgb(50,110,62)" stroke="#e83a28" stroke-width="1.1" stroke-linejoin="round"/>
<path d="M269.2,137.9L274.2,142.5L281.9,136.0L281.8,132.3L270.5,130.6Z" fill="rgb(99,45,99)" stroke="#e04a20" stroke-width="1.1" stroke-linejoin="round"/>
<path d="M283.9,184.6L285.3,179.4L269.5,172.7L267.0,174.1L266.4,176.9L274.4,189.3L277.8,189.2Z" fill="rgb(59,33,76)" stroke="#d83070" stroke-width="1.1" stroke-linejoin="round"/>
<path d="M277.8,189.2L274.4,189.3L271.1,194.1L269.9,201.3L273.5,203.8L285.2,199.7L285.4,198.5Z" fill="rgb(35,35,79)" stroke="#d83070" stroke-width="1.1" stroke-linejoin="round"/>
<path d="M285.2,-12.6L285.5,-7.9L290.4,-0.2L298.7,-11.7L298.7,-12.2L289.2,-15.0Z" fill="rgb(90,90,43)" stroke="#e83a28" stroke-width="1.1" stroke-linejoin="round"/>
<path d="M278.4,5.0L271.6,-0.5L285.5,-7.9L290.4,-0.2L290.5,0.4L279.4,5.1Z" fill="rgb(93,37,50)" stroke="#e83a28" stroke-width="1.1" stroke-linejoin="round"/>
<path d="M285.4,14.2L279.4,5.1L290.5,0.4L294.9,4.3Z" fill="rgb(82,33,44)" stroke="#e04a20" stroke-width="1.1" stroke-linejoin="round"/>
<path d="M285.3,18.1L282.6,21.3L278.8,21.8L273.5,17.7L278.4,5.0L279.4,5.1L285.4,14.2Z" fill="rgb(77,77,37)" stroke="#e83a28" stroke-width="1.1" stroke-linejoin="round"/>
<path d="M297.3,17.5L285.3,18.1L282.6,21.3L289.7,29.7L291.2,30.5L298.8,25.1Z" fill="rgb(38,44,101)" stroke="#e83a28" stroke-width="1.1" stroke-linejoin="round"/>
<path d="M282.6,21.3L289.7,29.7L273.7,38.7L272.3,36.3L278.8,21.8Z" fill="rgb(82,46,107)" stroke="#e83a28" stroke-width="1.1" stroke-linejoin="round"/>
<path d="M293.5,40.5L274.8,43.0L273.7,38.7L289.7,29.7L291.2,30.5Z" fill="rgb(65,39,96)" stroke="#e83a28" stroke-width="1.1" stroke-linejoin="round"/>
<path d="M292.6,48.7L282.7,53.4L278.7,51.2L274.3,45.3L274.8,43.0L293.5,40.5L293.5,40.5Z" fill="rgb(93,93,45)" stroke="#d83070" stroke-width="1.1" stroke-linejoin="round"/>
<path d="M296.1,53.9L291.0,60.8L286.6,60.7L282.7,53.4L292.6,48.7Z" fill="rgb(38,83,47)" stroke="#e04a20" stroke-width="1.1" stroke-linejoin="round"/>
<path d="M274.2,64.3L281.4,68.4L286.6,60.7L282.7,53.4L278.7,51.2Z" fill="rgb(81,33,43)" stroke="#d83070" stroke-width="1.1" stroke-linejoin="round"/>
<path d="M285.9,75.0L298.4,70.4L298.4,68.3L291.0,60.8L286.6,60.7L281.4,68.4L281.7,69.7Z" fill="rgb(42,89,48)" stroke="#e04a20" stroke-width="1.1" stroke-linejoin="round"/>
<path d="M271.5,82.3L269.3,78.0L281.7,69.7L285.9,75.0L285.4,80.8L284.0,82.3Z" fill="rgb(103,46,98)" stroke="#e83a28" stroke-width="1.1" stroke-linejoin="round"/>
<path d="M287.9,94.8L295.7,89.2L294.4,84.4L285.4,80.8L284.0,82.3L283.7,87.0Z" fill="rgb(40,102,102)" stroke="#e83a28" stroke-width="1.1" stroke-linejoin="round"/>
<path d="M276.8,99.8L278.2,91.2L283.7,87.0L287.9,94.8L287.6,96.7L284.5,101.3L277.7,101.5Z" fill="rgb(39,44,102)" stroke="#e83a28" stroke-width="1.1" stroke-linejoin="round"/>
<path d="M284.5,101.3L289.7,108.1L297.4,105.3L299.4,98.9L287.6,96.7Z" fill="rgb(117,117,117)" stroke="#e04a20" stroke-width="1.1" stroke-linejoin="round"/>
<path d="M277.7,101.5L271.6,109.9L276.2,116.0L289.6,109.9L289.7,108.1L284.5,101.3Z" fill="rgb(38,83,47)" stroke="#e04a20" stroke-width="1.1" stroke-linejoin="round"/>
<path d="M289.7,124.8L286.7,125.3L277.0,119.3L276.2,116.0L289.6,109.9L291.7,115.9Z" fill="rgb(95,42,90)" stroke="#e04a20" stroke-width="1.1" stroke-linejoin="round"/>
<path d="M270.5,130.6L281.8,132.3L286.7,125.3L277.0,119.3L269.2,127.6Z" fill="rgb(80,80,80)" stroke="#e83a28" stroke-width="1.1" stroke-linejoin="round"/>
<path d="M289.7,124.8L286.7,125.3L281.8,132.3L281.9,136.0L286.8,140.5L296.8,135.1L296.9,132.8L289.7,124.8Z" fill="rgb(117,117,117)" stroke="#e04a20" stroke-width="1.1" stroke-linejoin="round"/>
<path d="M283.3,151.2L281.9,150.9L274.9,145.5L274.2,142.5L281.9,136.0L286.8,140.5L286.4,146.6Z" fill="rgb(38,38,87)" stroke="#e04a20" stroke-width="1.1" stroke-linejoin="round"/>
<path d="M291.1,159.0L287.3,157.2L283.3,151.2L286.4,146.6L296.8,145.6L296.9,153.7Z" fill="rgb(59,33,77)" stroke="#e83a28" stroke-width="1.1" stroke-linejoin="round"/>
<path d="M276.4,166.8L287.3,157.2L283.3,151.2L281.9,150.9L272.4,158.4L274.6,167.1Z" fill="rgb(93,42,93)" stroke="#e83a28" stroke-width="1.1" stroke-linejoin="round"/>
<path d="M293.0,163.0L287.8,172.4L276.4,166.8L287.3,157.2L291.1,159.0Z" fill="rgb(47,104,59)" stroke="#e83a28" stroke-width="1.1" stroke-linejoin="round"/>
<path d="M285.3,179.4L269.5,172.7L274.6,167.1L276.4,166.8L287.8,172.4L288.3,176.4Z" fill="rgb(128,128,128)" stroke="#e83a28" stroke-width="1.1" stroke-linejoin="round"/>
<path d="M283.9,184.6L285.3,179.4L288.3,176.4L298.9,179.7L299.9,184.0L293.4,190.5Z" fill="rgb(89,89,43)" stroke="#e83a28" stroke-width="1.1" stroke-linejoin="round"/>
<path d="M283.9,184.6L293.4,190.5L293.1,193.6L285.4,198.5L277.8,189.2Z" fill="rgb(41,41,94)" stroke="#e83a28" stroke-width="1.1" stroke-linejoin="round"/>
<path d="M285.4,198.5L285.2,199.7L288.2,206.8L298.5,200.6L297.2,197.8L293.1,193.6Z" fill="rgb(40,87,49)" stroke="#d83070" stroke-width="1.1" stroke-linejoin="round"/>
<path d="M285.2,199.7L273.5,203.8L277.2,211.6L288.1,207.2L288.2,206.8Z" fill="rgb(38,44,101)" stroke="#e04a20" stroke-width="1.1" stroke-linejoin="round"/>
<path d="M291.6,212.3L285.7,221.8L276.9,212.9L277.2,211.6L288.1,207.2Z" fill="rgb(77,46,114)" stroke="#d83070" stroke-width="1.1" stroke-linejoin="round"/>
<path d="M313.8,-10.8L305.8,-2.0L298.7,-11.7L298.7,-12.2L304.9,-20.0L314.0,-12.1Z" fill="rgb(38,38,86)" stroke="#d83070" stroke-width="1.1" stroke-linejoin="round"/>
<path d="M295.9,4.7L305.6,-1.0L305.8,-2.0L298.7,-11.7L290.4,-0.2L290.5,0.4L294.9,4.3Z" fill="rgb(44,97,55)" stroke="#e83a28" stroke-width="1.1" stroke-linejoin="round"/>
<path d="M299.4,13.4L295.9,4.7L305.6,-1.0L309.1,2.1L309.9,9.9L303.0,13.6Z" fill="rgb(39,82,44)" stroke="#e83a28" stroke-width="1.1" stroke-linejoin="round"/>
<path d="M299.4,13.4L295.9,4.7L294.9,4.3L285.4,14.2L285.3,18.1L297.3,17.5Z" fill="rgb(34,86,86)" stroke="#e83a28" stroke-width="1.1" stroke-linejoin="round"/>
<path d="M299.4,13.4L297.3,17.5L298.8,25.1L306.0,28.1L308.1,26.2L309.3,20.1L303.0,13.6Z" fill="rgb(70,42,103)" stroke="#e83a28" stroke-width="1.1" stroke-linejoin="round"/>
<path d="M298.8,25.1L291.2,30.5L293.5,40.5L293.5,40.5L298.1,40.5L306.5,31.1L306.0,28.1Z" fill="rgb(67,37,87)" stroke="#e83a28" stroke-width="1.1" stroke-linejoin="round"/>
<path d="M301.6,43.1L312.2,42.3L313.5,39.5L313.5,38.2L306.5,31.1L298.1,40.5Z" fill="rgb(74,41,96)" stroke="#e83a28" stroke-width="1.1" stroke-linejoin="round"/>
<path d="M301.2,54.5L296.1,53.9L292.6,48.7L293.5,40.5L298.1,40.5L301.6,43.1L303.2,50.6Z" fill="rgb(34,72,38)" stroke="#d83070" stroke-width="1.1" stroke-linejoin="round"/>
<path d="M301.2,54.5L304.2,59.0L311.3,55.0L310.0,49.4L303.2,50.6Z" fill="rgb(69,42,103)" stroke="#e04a20" stroke-width="1.1" stroke-linejoin="round"/>
<path d="M301.2,54.5L304.2,59.0L304.3,61.1L298.4,68.3L291.0,60.8L296.1,53.9Z" fill="rgb(65,39,97)" stroke="#e83a28" stroke-width="1.1" stroke-linejoin="round"/>
<path d="M300.6,73.1L308.2,73.2L311.2,64.4L304.3,61.1L298.4,68.3L298.4,70.4Z" fill="rgb(100,46,100)" stroke="#e83a28" stroke-width="1.1" stroke-linejoin="round"/>
<path d="M285.9,75.0L298.4,70.4L300.6,73.1L300.4,79.1L294.4,84.4L285.4,80.8Z" fill="rgb(62,37,92)" stroke="#e83a28" stroke-width="1.1" stroke-linejoin="round"/>
<path d="M307.6,86.3L300.4,79.1L294.4,84.4L295.7,89.2L302.5,93.3L307.7,87.1Z" fill="rgb(68,27,36)" stroke="#e83a28" stroke-width="1.1" stroke-linejoin="round"/>
<path d="M287.9,94.8L295.7,89.2L302.5,93.3L302.6,95.8L299.4,98.9L287.6,96.7Z" fill="rgb(65,36,84)" stroke="#e83a28" stroke-width="1.1" stroke-linejoin="round"/>
<path d="M302.6,95.8L299.4,98.9L297.4,105.3L306.3,112.5L310.2,101.6Z" fill="rgb(39,86,49)" stroke="#e83a28" stroke-width="1.1" stroke-linejoin="round"/>
<path d="M305.6,114.0L291.7,115.9L289.6,109.9L289.7,108.1L297.4,105.3L306.3,112.5L306.3,112.6Z" fill="rgb(68,68,33)" stroke="#e83a28" stroke-width="1.1" stroke-linejoin="round"/>
<path d="M305.5,116.7L304.3,119.6L289.7,124.8L289.7,124.8L291.7,115.9L305.6,114.0Z" fill="rgb(110,110,110)" stroke="#e83a28" stroke-width="1.1" stroke-linejoin="round"/>
<path d="M304.3,119.6L304.8,128.8L296.9,132.8L289.7,124.8Z" fill="rgb(114,114,114)" stroke="#e83a28" stroke-width="1.1" stroke-linejoin="round"/>
<path d="M299.6,140.6L296.8,135.1L296.9,132.8L304.8,128.8L310.7,130.4L312.4,138.1Z" fill="rgb(35,74,40)" stroke="#e83a28" stroke-width="1.1" stroke-linejoin="round"/>
<path d="M299.6,141.7L296.8,145.6L286.4,146.6L286.8,140.5L296.8,135.1L299.6,140.6Z" fill="rgb(98,98,98)" stroke="#e04a20" stroke-width="1.1" stroke-linejoin="round"/>
<path d="M296.9,153.7L296.8,145.6L299.6,141.7L308.3,150.0L305.6,154.0Z" fill="rgb(109,109,109)" stroke="#d83070" stroke-width="1.1" stroke-linejoin="round"/>
<path d="M295.9,164.3L307.0,161.9L305.6,154.0L296.9,153.7L291.1,159.0L293.0,163.0Z" fill="rgb(102,102,102)" stroke="#e83a28" stroke-width="1.1" stroke-linejoin="round"/>
<path d="M295.9,164.3L301.8,175.2L303.2,174.7L309.9,164.2L307.0,161.9Z" fill="rgb(75,42,98)" stroke="#e83a28" stroke-width="1.1" stroke-linejoin="round"/>
<path d="M295.9,164.3L301.8,175.2L298.9,179.7L288.3,176.4L287.8,172.4L293.0,163.0Z" fill="rgb(87,87,87)" stroke="#e04a20" stroke-width="1.1" stroke-linejoin="round"/>
<path d="M305.2,187.3L312.0,182.9L312.4,177.1L303.2,174.7L301.8,175.2L298.9,179.7L299.9,184.0Z" fill="rgb(79,32,42)" stroke="#e83a28" stroke-width="1.1" stroke-linejoin="round"/>
<path d="M293.1,193.6L297.2,197.8L306.2,190.0L305.2,187.3L299.9,184.0L293.4,190.5Z" fill="rgb(39,45,104)" stroke="#d83070" stroke-width="1.1" stroke-linejoin="round"/>
<path d="M297.2,197.8L306.2,190.0L310.2,195.0L309.6,200.1L304.9,205.0L298.5,200.6Z" fill="rgb(73,41,95)" stroke="#e04a20" stroke-width="1.1" stroke-linejoin="round"/>
<path d="M288.2,206.8L288.1,207.2L291.6,212.3L298.7,213.5L304.8,207.6L304.9,205.0L298.5,200.6Z" fill="rgb(58,35,86)" stroke="#e04a20" stroke-width="1.1" stroke-linejoin="round"/>
<path d="M327.7,-2.1L328.2,-2.4L324.1,-14.4L321.3,-15.9L314.0,-12.1L313.8,-10.8L317.5,-5.6Z" fill="rgb(69,28,37)" stroke="#d83070" stroke-width="1.1" stroke-linejoin="round"/>
<path d="M317.5,-5.6L313.8,-10.8L305.8,-2.0L305.6,-1.0L309.1,2.1L315.7,2.0Z" fill="rgb(70,28,37)" stroke="#d83070" stroke-width="1.1" stroke-linejoin="round"/>
<path d="M322.4,6.4L322.4,7.8L318.4,14.2L317.8,14.2L309.9,9.9L309.1,2.1L315.7,2.0Z" fill="rgb(119,53,113)" stroke="#d83070" stroke-width="1.1" stroke-linejoin="round"/>
<path d="M303.0,13.6L309.9,9.9L317.8,14.2L309.3,20.1Z" fill="rgb(109,48,103)" stroke="#e83a28" stroke-width="1.1" stroke-linejoin="round"/>
<path d="M309.3,20.1L317.8,14.2L318.4,14.2L321.8,20.4L320.7,26.1L308.1,26.2Z" fill="rgb(33,70,38)" stroke="#e83a28" stroke-width="1.1" stroke-linejoin="round"/>
<path d="M306.0,28.1L306.5,31.1L313.5,38.2L321.0,32.2L321.2,27.5L320.7,26.1L308.1,26.2Z" fill="rgb(50,110,62)" stroke="#e83a28" stroke-width="1.1" stroke-linejoin="round"/>
<path d="M324.8,43.9L313.5,39.5L313.5,38.2L321.0,32.2L323.8,34.5Z" fill="rgb(72,40,94)" stroke="#d83070" stroke-width="1.1" stroke-linejoin="round"/>
<path d="M303.2,50.6L310.0,49.4L312.7,45.3L312.2,42.3L301.6,43.1Z" fill="rgb(97,97,47)" stroke="#e83a28" stroke-width="1.1" stroke-linejoin="round"/>
<path d="M311.3,55.0L319.5,58.1L321.8,55.2L322.2,52.5L312.7,45.3L310.0,49.4Z" fill="rgb(88,40,88)" stroke="#e83a28" stroke-width="1.1" stroke-linejoin="round"/>
<path d="M304.2,59.0L311.3,55.0L319.5,58.1L318.4,63.3L311.2,64.4L304.3,61.1Z" fill="rgb(66,40,98)" stroke="#e83a28" stroke-width="1.1" stroke-linejoin="round"/>
<path d="M321.3,69.1L318.4,63.3L311.2,64.4L308.2,73.2L314.3,76.9L317.6,76.4Z" fill="rgb(61,34,79)" stroke="#e04a20" stroke-width="1.1" stroke-linejoin="round"/>
<path d="M314.3,76.9L308.2,73.2L300.6,73.1L300.4,79.1L307.6,86.3Z" fill="rgb(95,95,46)" stroke="#e83a28" stroke-width="1.1" stroke-linejoin="round"/>
<path d="M324.8,86.3L324.8,86.9L319.7,92.5L307.7,87.1L307.6,86.3L314.3,76.9L317.6,76.4Z" fill="rgb(114,51,109)" stroke="#e04a20" stroke-width="1.1" stroke-linejoin="round"/>
<path d="M319.7,92.5L319.3,95.0L313.9,100.6L310.2,101.6L302.6,95.8L302.5,93.3L307.7,87.1Z" fill="rgb(41,103,103)" stroke="#e04a20" stroke-width="1.1" stroke-linejoin="round"/>
<path d="M319.3,95.0L313.9,100.6L320.8,111.1L327.6,104.5L327.3,103.4Z" fill="rgb(32,37,84)" stroke="#e04a20" stroke-width="1.1" stroke-linejoin="round"/>
<path d="M319.8,114.5L320.8,111.1L313.9,100.6L310.2,101.6L306.3,112.5L306.3,112.6Z" fill="rgb(45,95,51)" stroke="#e83a28" stroke-width="1.1" stroke-linejoin="round"/>
<path d="M315.9,125.9L305.5,116.7L305.6,114.0L306.3,112.6L319.8,114.5L321.8,118.4L319.8,124.5Z" fill="rgb(62,37,92)" stroke="#e83a28" stroke-width="1.1" stroke-linejoin="round"/>
<path d="M315.9,125.9L310.7,130.4L304.8,128.8L304.3,119.6L305.5,116.7Z" fill="rgb(108,108,108)" stroke="#e83a28" stroke-width="1.1" stroke-linejoin="round"/>
<path d="M315.9,125.9L310.7,130.4L312.4,138.1L315.4,141.2L319.5,140.7L322.1,137.3L323.1,128.9L319.8,124.5Z" fill="rgb(41,87,47)" stroke="#e83a28" stroke-width="1.1" stroke-linejoin="round"/>
<path d="M311.8,148.9L315.4,141.2L312.4,138.1L299.6,140.6L299.6,141.7L308.3,150.0Z" fill="rgb(39,83,44)" stroke="#e83a28" stroke-width="1.1" stroke-linejoin="round"/>
<path d="M318.4,155.5L311.8,148.9L315.4,141.2L319.5,140.7L325.0,146.3L322.7,153.1Z" fill="rgb(41,88,47)" stroke="#e04a20" stroke-width="1.1" stroke-linejoin="round"/>
<path d="M307.0,161.9L309.9,164.2L312.7,164.5L317.9,159.2L318.4,155.5L311.8,148.9L308.3,150.0L305.6,154.0Z" fill="rgb(29,34,78)" stroke="#e83a28" stroke-width="1.1" stroke-linejoin="round"/>
<path d="M317.9,159.2L326.9,164.2L326.3,167.0L318.8,173.1L317.7,172.8L312.7,164.5Z" fill="rgb(111,111,111)" stroke="#e83a28" stroke-width="1.1" stroke-linejoin="round"/>
<path d="M309.9,164.2L312.7,164.5L317.7,172.8L312.4,177.1L303.2,174.7Z" fill="rgb(35,89,89)" stroke="#e83a28" stroke-width="1.1" stroke-linejoin="round"/>
<path d="M312.0,182.9L312.4,177.1L317.7,172.8L318.8,173.1L324.1,179.7L322.5,184.9L320.3,187.4Z" fill="rgb(78,43,101)" stroke="#e83a28" stroke-width="1.1" stroke-linejoin="round"/>
<path d="M306.2,190.0L310.2,195.0L319.8,190.4L320.3,187.4L312.0,182.9L305.2,187.3Z" fill="rgb(90,40,86)" stroke="#e83a28" stroke-width="1.1" stroke-linejoin="round"/>
<path d="M310.2,195.0L319.8,190.4L323.9,196.1L323.1,199.7L317.5,202.8L309.6,200.1Z" fill="rgb(76,31,41)" stroke="#d83070" stroke-width="1.1" stroke-linejoin="round"/>
<path d="M309.6,200.1L304.9,205.0L304.8,207.6L311.0,212.8L318.2,207.8L317.5,202.8Z" fill="rgb(79,44,103)" stroke="#d83070" stroke-width="1.1" stroke-linejoin="round"/>
<path d="M318.2,207.8L311.0,212.8L313.7,219.3L316.1,221.9L324.3,215.6L325.1,212.5Z" fill="rgb(30,78,78)" stroke="#e04a20" stroke-width="1.1" stroke-linejoin="round"/>
<path d="M324.1,-14.4L330.9,-15.9L338.7,-11.2L335.0,-2.5L328.2,-2.4Z" fill="rgb(94,94,45)" stroke="#e04a20" stroke-width="1.1" stroke-linejoin="round"/>
<path d="M327.7,-2.1L322.4,6.4L315.7,2.0L317.5,-5.6Z" fill="rgb(29,73,73)" stroke="#d83070" stroke-width="1.1" stroke-linejoin="round"/>
<path d="M327.7,-2.1L328.2,-2.4L335.0,-2.5L339.5,3.2L330.9,11.1L322.4,7.8L322.4,6.4Z" fill="rgb(34,34,78)" stroke="#e04a20" stroke-width="1.1" stroke-linejoin="round"/>
<path d="M322.4,7.8L318.4,14.2L321.8,20.4L333.5,18.9L330.9,11.1Z" fill="rgb(97,43,92)" stroke="#e83a28" stroke-width="1.1" stroke-linejoin="round"/>
<path d="M334.4,28.1L335.7,24.4L334.9,19.8L333.5,18.9L321.8,20.4L320.7,26.1L321.2,27.5Z" fill="rgb(124,124,124)" stroke="#e83a28" stroke-width="1.1" stroke-linejoin="round"/>
<path d="M323.8,34.5L321.0,32.2L321.2,27.5L334.4,28.1L335.6,35.8Z" fill="rgb(66,40,98)" stroke="#e83a28" stroke-width="1.1" stroke-linejoin="round"/>
<path d="M327.1,46.6L336.4,37.0L335.6,35.8L323.8,34.5L324.8,43.9L326.8,46.7Z" fill="rgb(41,48,109)" stroke="#e83a28" stroke-width="1.1" stroke-linejoin="round"/>
<path d="M326.8,46.7L322.2,52.5L312.7,45.3L312.2,42.3L313.5,39.5L324.8,43.9Z" fill="rgb(72,40,93)" stroke="#e83a28" stroke-width="1.1" stroke-linejoin="round"/>
<path d="M327.1,46.6L337.7,53.1L333.4,60.1L321.8,55.2L322.2,52.5L326.8,46.7Z" fill="rgb(85,85,41)" stroke="#e83a28" stroke-width="1.1" stroke-linejoin="round"/>
<path d="M321.3,69.1L318.4,63.3L319.5,58.1L321.8,55.2L333.4,60.1L333.9,62.8L325.4,69.2Z" fill="rgb(79,79,38)" stroke="#d83070" stroke-width="1.1" stroke-linejoin="round"/>
<path d="M325.4,69.2L333.9,62.8L338.2,66.3L337.7,72.3L329.7,73.3Z" fill="rgb(41,87,47)" stroke="#e83a28" stroke-width="1.1" stroke-linejoin="round"/>
<path d="M329.6,82.8L324.8,86.3L317.6,76.4L321.3,69.1L325.4,69.2L329.7,73.3L329.8,82.3Z" fill="rgb(42,88,47)" stroke="#e83a28" stroke-width="1.1" stroke-linejoin="round"/>
<path d="M329.6,82.8L340.2,85.7L336.0,94.5L334.2,94.3L324.8,86.9L324.8,86.3Z" fill="rgb(74,34,74)" stroke="#e83a28" stroke-width="1.1" stroke-linejoin="round"/>
<path d="M324.8,86.9L334.2,94.3L327.3,103.4L319.3,95.0L319.7,92.5Z" fill="rgb(70,39,91)" stroke="#d83070" stroke-width="1.1" stroke-linejoin="round"/>
<path d="M334.2,94.3L327.3,103.4L327.6,104.5L333.1,107.4L341.1,98.8L336.0,94.5Z" fill="rgb(30,34,79)" stroke="#e83a28" stroke-width="1.1" stroke-linejoin="round"/>
<path d="M321.8,118.4L322.5,118.3L334.5,110.4L333.1,107.4L327.6,104.5L320.8,111.1L319.8,114.5Z" fill="rgb(36,42,96)" stroke="#e83a28" stroke-width="1.1" stroke-linejoin="round"/>
<path d="M339.6,122.5L338.5,114.1L334.5,110.4L322.5,118.3Z" fill="rgb(77,46,114)" stroke="#e04a20" stroke-width="1.1" stroke-linejoin="round"/>
<path d="M319.8,124.5L323.1,128.9L338.1,130.2L339.0,129.4L340.5,123.9L339.6,122.5L322.5,118.3L321.8,118.4Z" fill="rgb(110,49,105)" stroke="#d83070" stroke-width="1.1" stroke-linejoin="round"/>
<path d="M335.8,136.4L333.9,137.8L322.1,137.3L323.1,128.9L338.1,130.2Z" fill="rgb(42,42,95)" stroke="#e83a28" stroke-width="1.1" stroke-linejoin="round"/>
<path d="M319.5,140.7L325.0,146.3L329.5,146.1L333.9,137.8L322.1,137.3Z" fill="rgb(46,101,57)" stroke="#e83a28" stroke-width="1.1" stroke-linejoin="round"/>
<path d="M334.7,158.6L333.8,158.8L322.7,153.1L325.0,146.3L329.5,146.1L337.2,153.8Z" fill="rgb(104,46,99)" stroke="#e83a28" stroke-width="1.1" stroke-linejoin="round"/>
<path d="M317.9,159.2L318.4,155.5L322.7,153.1L333.8,158.8L326.9,164.2Z" fill="rgb(32,32,72)" stroke="#e83a28" stroke-width="1.1" stroke-linejoin="round"/>
<path d="M341.8,170.1L337.3,177.1L335.8,176.9L326.3,167.0L326.9,164.2L333.8,158.8L334.7,158.6Z" fill="rgb(96,44,96)" stroke="#e83a28" stroke-width="1.1" stroke-linejoin="round"/>
<path d="M326.3,167.0L335.8,176.9L324.1,179.7L318.8,173.1Z" fill="rgb(70,70,34)" stroke="#e83a28" stroke-width="1.1" stroke-linejoin="round"/>
<path d="M322.5,184.9L324.1,179.7L335.8,176.9L337.3,177.1L339.9,184.2L337.0,191.2Z" fill="rgb(51,111,63)" stroke="#e83a28" stroke-width="1.1" stroke-linejoin="round"/>
<path d="M319.8,190.4L320.3,187.4L322.5,184.9L337.0,191.2L336.8,193.6L323.9,196.1Z" fill="rgb(42,88,48)" stroke="#e83a28" stroke-width="1.1" stroke-linejoin="round"/>
<path d="M323.1,199.7L328.4,206.7L338.9,198.0L336.8,193.6L323.9,196.1Z" fill="rgb(42,90,48)" stroke="#d83070" stroke-width="1.1" stroke-linejoin="round"/>
<path d="M317.5,202.8L318.2,207.8L325.1,212.5L328.1,209.4L328.4,206.7L323.1,199.7Z" fill="rgb(42,42,95)" stroke="#d83070" stroke-width="1.1" stroke-linejoin="round"/>
<path d="M328.1,209.4L336.1,212.3L341.5,220.2L337.6,225.9L337.5,225.9L324.3,215.6L325.1,212.5Z" fill="rgb(106,47,101)" stroke="#e83a28" stroke-width="1.1" stroke-linejoin="round"/>
<path d="M330.9,11.1L333.5,18.9L334.9,19.8L344.2,13.8L343.7,5.3L339.5,3.2Z" fill="rgb(45,45,101)" stroke="#e83a28" stroke-width="1.1" stroke-linejoin="round"/>
<path d="M341.2,50.5L340.3,38.4L336.4,37.0L327.1,46.6L337.7,53.1L340.1,52.1Z" fill="rgb(91,42,91)" stroke="#e83a28" stroke-width="1.1" stroke-linejoin="round"/>
<path d="M329.8,82.3L339.5,75.5L337.7,72.3L329.7,73.3Z" fill="rgb(30,34,78)" stroke="#e83a28" stroke-width="1.1" stroke-linejoin="round"/>
<path d="M342.0,151.0L337.2,153.8L329.5,146.1L333.9,137.8L335.8,136.4L342.6,148.6Z" fill="rgb(33,84,84)" stroke="#e04a20" stroke-width="1.1" stroke-linejoin="round"/>
<path d="M328.4,206.7L338.9,198.0L341.4,199.9L336.1,212.3L328.1,209.4Z" fill="rgb(39,44,102)" stroke="#e04a20" stroke-width="1.1" stroke-linejoin="round"/>
<path d="M335.6,35.8L334.4,28.1L335.7,24.4L344.9,26.2L341.8,38.0L340.3,38.4L336.4,37.0Z" fill="rgb(44,31,57)" stroke="#e04a20" stroke-width="1.1" stroke-linejoin="round"/>
<path d="M340.1,52.1L337.7,53.1L333.4,60.1L333.9,62.8L338.2,66.3L348.4,63.5Z" fill="rgb(76,44,88)" stroke="#e04a20" stroke-width="1.1" stroke-linejoin="round"/>
<path d="M329.6,82.8L340.2,85.7L344.0,83.8L341.3,76.7L339.5,75.5L329.8,82.3Z" fill="rgb(51,51,34)" stroke="#d83070" stroke-width="1.1" stroke-linejoin="round"/>
<path d="M341.1,98.8L333.1,107.4L334.5,110.4L338.5,114.1L347.3,106.1L345.9,99.5Z" fill="rgb(53,53,34)" stroke="#e04a20" stroke-width="1.1" stroke-linejoin="round"/>
<path d="M342.8,-13.8L352.8,-7.1L361.1,-15.5L359.6,-21.6L356.0,-23.5L343.8,-19.4Z" fill="rgb(43,31,56)" stroke="#e83a28" stroke-width="1.1" stroke-linejoin="round"/>
<path d="M335.0,-2.5L338.7,-11.2L342.8,-13.8L352.8,-7.1L353.4,0.3L343.7,5.3L339.5,3.2Z" fill="rgb(42,42,86)" stroke="#e83a28" stroke-width="1.1" stroke-linejoin="round"/>
<path d="M351.4,19.8L362.3,5.7L362.3,5.2L353.4,0.3L343.7,5.3L344.2,13.8Z" fill="rgb(39,68,42)" stroke="#e04a20" stroke-width="1.1" stroke-linejoin="round"/>
<path d="M352.3,22.7L344.9,26.2L335.7,24.4L334.9,19.8L344.2,13.8L351.4,19.8Z" fill="rgb(61,61,40)" stroke="#e83a28" stroke-width="1.1" stroke-linejoin="round"/>
<path d="M355.3,37.8L356.1,36.7L355.9,26.3L352.3,22.7L344.9,26.2L341.8,38.0Z" fill="rgb(55,55,36)" stroke="#e04a20" stroke-width="1.1" stroke-linejoin="round"/>
<path d="M341.2,50.5L340.3,38.4L341.8,38.0L355.3,37.8L356.1,49.4Z" fill="rgb(39,71,67)" stroke="#e04a20" stroke-width="1.1" stroke-linejoin="round"/>
<path d="M341.2,50.5L356.1,49.4L357.9,52.4L357.6,58.6L350.4,64.0L348.4,63.5L340.1,52.1Z" fill="rgb(69,40,80)" stroke="#d83070" stroke-width="1.1" stroke-linejoin="round"/>
<path d="M348.4,63.5L338.2,66.3L337.7,72.3L339.5,75.5L341.3,76.7L350.9,70.3L350.4,64.0Z" fill="rgb(56,39,72)" stroke="#e83a28" stroke-width="1.1" stroke-linejoin="round"/>
<path d="M356.8,83.5L352.6,87.4L344.0,83.8L341.3,76.7L350.9,70.3L357.5,79.6Z" fill="rgb(48,34,63)" stroke="#e83a28" stroke-width="1.1" stroke-linejoin="round"/>
<path d="M336.0,94.5L341.1,98.8L345.9,99.5L352.0,93.0L352.6,87.4L344.0,83.8L340.2,85.7Z" fill="rgb(84,49,97)" stroke="#e83a28" stroke-width="1.1" stroke-linejoin="round"/>
<path d="M357.5,109.5L361.3,100.6L352.0,93.0L345.9,99.5L347.3,106.1L352.8,110.2Z" fill="rgb(31,58,55)" stroke="#e83a28" stroke-width="1.1" stroke-linejoin="round"/>
<path d="M352.8,110.2L347.3,106.1L338.5,114.1L339.6,122.5L340.5,123.9L349.5,121.8Z" fill="rgb(42,30,55)" stroke="#e83a28" stroke-width="1.1" stroke-linejoin="round"/>
<path d="M350.9,138.1L339.0,129.4L340.5,123.9L349.5,121.8L361.9,127.0L361.7,129.7Z" fill="rgb(44,44,28)" stroke="#e83a28" stroke-width="1.1" stroke-linejoin="round"/>
<path d="M342.6,148.6L335.8,136.4L338.1,130.2L339.0,129.4L350.9,138.1L350.8,141.0Z" fill="rgb(37,37,77)" stroke="#e83a28" stroke-width="1.1" stroke-linejoin="round"/>
<path d="M360.4,149.5L350.8,141.0L342.6,148.6L342.0,151.0L353.1,157.7L360.1,154.3Z" fill="rgb(34,60,37)" stroke="#d83070" stroke-width="1.1" stroke-linejoin="round"/>
<path d="M353.1,157.7L349.8,168.2L341.8,170.1L334.7,158.6L337.2,153.8L342.0,151.0Z" fill="rgb(57,57,37)" stroke="#e83a28" stroke-width="1.1" stroke-linejoin="round"/>
<path d="M349.8,168.2L356.5,173.8L356.4,182.3L355.2,185.8L339.9,184.2L337.3,177.1L341.8,170.1Z" fill="rgb(28,31,28)" stroke="#e83a28" stroke-width="1.1" stroke-linejoin="round"/>
<path d="M336.8,193.6L338.9,198.0L341.4,199.9L345.6,201.4L356.6,189.0L355.2,185.8L339.9,184.2L337.0,191.2Z" fill="rgb(80,46,92)" stroke="#d83070" stroke-width="1.1" stroke-linejoin="round"/>
<path d="M356.6,189.0L345.6,201.4L352.0,210.2L364.1,202.2L364.4,194.5Z" fill="rgb(58,24,33)" stroke="#e83a28" stroke-width="1.1" stroke-linejoin="round"/>
<path d="M336.1,212.3L341.5,220.2L351.5,215.4L352.0,210.2L345.6,201.4L341.4,199.9Z" fill="rgb(42,42,87)" stroke="#e83a28" stroke-width="1.1" stroke-linejoin="round"/>
<path d="M361.1,-15.5L371.3,-9.9L371.3,-1.6L362.3,5.2L353.4,0.3L352.8,-7.1Z" fill="rgb(69,29,39)" stroke="#e83a28" stroke-width="1.1" stroke-linejoin="round"/>
<path d="M367.8,15.2L380.9,15.5L374.8,0.2L371.3,-1.6L362.3,5.2L362.3,5.7Z" fill="rgb(41,29,53)" stroke="#e83a28" stroke-width="1.1" stroke-linejoin="round"/>
<path d="M352.3,22.7L355.9,26.3L365.2,22.5L367.8,15.2L362.3,5.7L351.4,19.8Z" fill="rgb(30,33,30)" stroke="#e83a28" stroke-width="1.1" stroke-linejoin="round"/>
<path d="M355.9,26.3L356.1,36.7L370.0,37.4L376.5,32.0L365.2,22.5Z" fill="rgb(48,48,31)" stroke="#e04a20" stroke-width="1.1" stroke-linejoin="round"/>
<path d="M356.1,49.4L355.3,37.8L356.1,36.7L370.0,37.4L370.9,48.7L357.9,52.4Z" fill="rgb(69,28,39)" stroke="#e83a28" stroke-width="1.1" stroke-linejoin="round"/>
<path d="M357.6,58.6L366.8,65.2L378.9,55.9L378.5,53.6L370.9,48.7L357.9,52.4Z" fill="rgb(71,29,40)" stroke="#e83a28" stroke-width="1.1" stroke-linejoin="round"/>
<path d="M350.4,64.0L350.9,70.3L357.5,79.6L367.8,70.9L366.8,65.2L357.6,58.6Z" fill="rgb(42,42,27)" stroke="#d83070" stroke-width="1.1" stroke-linejoin="round"/>
<path d="M356.8,83.5L368.8,88.4L377.8,85.9L376.8,76.3L367.8,70.9L357.5,79.6Z" fill="rgb(36,63,39)" stroke="#e04a20" stroke-width="1.1" stroke-linejoin="round"/>
<path d="M356.8,83.5L368.8,88.4L365.6,100.0L361.3,100.6L352.0,93.0L352.6,87.4Z" fill="rgb(51,36,66)" stroke="#e83a28" stroke-width="1.1" stroke-linejoin="round"/>
<path d="M357.5,109.5L361.3,100.6L365.6,100.0L373.6,105.1L364.3,115.5Z" fill="rgb(31,35,31)" stroke="#e83a28" stroke-width="1.1" stroke-linejoin="round"/>
<path d="M357.5,109.5L364.3,115.5L365.3,123.5L361.9,127.0L349.5,121.8L352.8,110.2Z" fill="rgb(30,30,61)" stroke="#e83a28" stroke-width="1.1" stroke-linejoin="round"/>
<path d="M367.6,139.7L361.7,129.7L361.9,127.0L365.3,123.5L374.5,123.2L380.4,135.4Z" fill="rgb(32,57,35)" stroke="#d83070" stroke-width="1.1" stroke-linejoin="round"/>
<path d="M367.4,141.0L360.4,149.5L350.8,141.0L350.9,138.1L361.7,129.7L367.6,139.7Z" fill="rgb(27,30,27)" stroke="#e83a28" stroke-width="1.1" stroke-linejoin="round"/>
<path d="M367.4,141.0L360.4,149.5L360.1,154.3L368.8,160.4L379.3,153.4L379.5,152.4Z" fill="rgb(31,31,64)" stroke="#e83a28" stroke-width="1.1" stroke-linejoin="round"/>
<path d="M360.1,154.3L368.8,160.4L369.2,168.4L356.5,173.8L349.8,168.2L353.1,157.7Z" fill="rgb(33,37,33)" stroke="#d83070" stroke-width="1.1" stroke-linejoin="round"/>
<path d="M369.2,168.4L356.5,173.8L356.4,182.3L373.2,179.8L373.9,173.0Z" fill="rgb(60,25,34)" stroke="#d83070" stroke-width="1.1" stroke-linejoin="round"/>
<path d="M356.4,182.3L355.2,185.8L356.6,189.0L364.4,194.5L364.5,194.4L374.0,183.5L373.2,179.8Z" fill="rgb(72,30,41)" stroke="#e83a28" stroke-width="1.1" stroke-linejoin="round"/>
<path d="M364.5,194.4L364.4,194.5L364.1,202.2L369.2,206.6L381.0,207.4L379.9,196.8Z" fill="rgb(39,39,25)" stroke="#e04a20" stroke-width="1.1" stroke-linejoin="round"/>
<path d="M369.2,206.6L364.1,202.2L352.0,210.2L351.5,215.4L357.1,220.5L367.5,215.1Z" fill="rgb(30,34,30)" stroke="#e83a28" stroke-width="1.1" stroke-linejoin="round"/>
<path d="M373.5,-11.8L387.9,-7.8L392.7,-17.6L386.8,-22.9L377.2,-18.5Z" fill="rgb(42,29,54)" stroke="#d83070" stroke-width="1.1" stroke-linejoin="round"/>
<path d="M373.5,-11.8L387.9,-7.8L388.2,-0.9L374.8,0.2L371.3,-1.6L371.3,-9.9Z" fill="rgb(33,59,36)" stroke="#e83a28" stroke-width="1.1" stroke-linejoin="round"/>
<path d="M384.6,17.6L388.4,12.8L389.6,0.5L388.2,-0.9L374.8,0.2L380.9,15.5Z" fill="rgb(40,28,52)" stroke="#d83070" stroke-width="1.1" stroke-linejoin="round"/>
<path d="M367.8,15.2L380.9,15.5L384.6,17.6L385.4,21.5L384.4,24.4L376.5,32.0L376.5,32.0L365.2,22.5Z" fill="rgb(37,26,47)" stroke="#d83070" stroke-width="1.1" stroke-linejoin="round"/>
<path d="M376.5,32.0L383.0,41.7L395.6,38.4L384.4,24.4Z" fill="rgb(64,37,74)" stroke="#e83a28" stroke-width="1.1" stroke-linejoin="round"/>
<path d="M376.5,32.0L370.0,37.4L370.9,48.7L378.5,53.6L382.2,48.3L383.0,41.7L376.5,32.0Z" fill="rgb(27,30,27)" stroke="#e83a28" stroke-width="1.1" stroke-linejoin="round"/>
<path d="M398.1,48.8L382.2,48.3L378.5,53.6L378.9,55.9L385.5,61.8L386.8,61.5Z" fill="rgb(25,28,25)" stroke="#e83a28" stroke-width="1.1" stroke-linejoin="round"/>
<path d="M376.8,76.3L384.2,70.1L385.5,61.8L378.9,55.9L366.8,65.2L367.8,70.9Z" fill="rgb(55,32,64)" stroke="#e83a28" stroke-width="1.1" stroke-linejoin="round"/>
<path d="M376.8,76.3L384.2,70.1L395.1,77.2L395.1,82.5L384.0,91.3L377.8,85.9Z" fill="rgb(55,23,31)" stroke="#e04a20" stroke-width="1.1" stroke-linejoin="round"/>
<path d="M365.6,100.0L368.8,88.4L377.8,85.9L384.0,91.3L384.7,95.5L378.2,105.0L373.6,105.1Z" fill="rgb(36,65,62)" stroke="#d83070" stroke-width="1.1" stroke-linejoin="round"/>
<path d="M382.0,114.2L378.2,105.0L384.7,95.5L394.8,100.5L396.0,112.4Z" fill="rgb(39,28,51)" stroke="#d83070" stroke-width="1.1" stroke-linejoin="round"/>
<path d="M381.1,117.8L382.0,114.2L378.2,105.0L373.6,105.1L364.3,115.5L365.3,123.5L374.5,123.2Z" fill="rgb(75,31,42)" stroke="#e83a28" stroke-width="1.1" stroke-linejoin="round"/>
<path d="M383.0,136.4L388.5,130.8L389.0,125.2L381.1,117.8L374.5,123.2L380.4,135.4Z" fill="rgb(25,28,25)" stroke="#e83a28" stroke-width="1.1" stroke-linejoin="round"/>
<path d="M367.4,141.0L379.5,152.4L386.2,144.6L383.0,136.4L380.4,135.4L367.6,139.7Z" fill="rgb(39,27,51)" stroke="#e04a20" stroke-width="1.1" stroke-linejoin="round"/>
<path d="M379.5,152.4L379.3,153.4L386.4,161.3L394.9,156.6L396.7,146.2L386.2,144.6Z" fill="rgb(59,34,69)" stroke="#d83070" stroke-width="1.1" stroke-linejoin="round"/>
<path d="M386.4,161.3L379.3,153.4L368.8,160.4L369.2,168.4L373.9,173.0L387.2,170.7Z" fill="rgb(41,73,45)" stroke="#e83a28" stroke-width="1.1" stroke-linejoin="round"/>
<path d="M387.2,170.7L391.0,173.4L391.6,180.7L385.2,189.0L384.1,189.3L374.0,183.5L373.2,179.8L373.9,173.0Z" fill="rgb(29,29,60)" stroke="#e83a28" stroke-width="1.1" stroke-linejoin="round"/>
<path d="M374.0,183.5L384.1,189.3L379.9,196.8L364.5,194.4Z" fill="rgb(43,43,28)" stroke="#e83a28" stroke-width="1.1" stroke-linejoin="round"/>
<path d="M395.1,198.4L394.9,202.7L383.5,209.6L381.0,207.4L379.9,196.8L384.1,189.3L385.2,189.0Z" fill="rgb(24,27,24)" stroke="#e83a28" stroke-width="1.1" stroke-linejoin="round"/>
<path d="M376.8,222.3L367.5,215.1L369.2,206.6L381.0,207.4L383.5,209.6L383.8,213.7Z" fill="rgb(41,74,70)" stroke="#e83a28" stroke-width="1.1" stroke-linejoin="round"/>
<path d="M410.7,-17.3L400.4,-20.5L394.8,-17.4L402.3,-6.2L411.6,-11.5Z" fill="rgb(46,27,53)" stroke="#e83a28" stroke-width="1.1" stroke-linejoin="round"/>
<path d="M401.5,-0.5L402.3,-6.2L394.8,-17.4L392.7,-17.6L387.9,-7.8L388.2,-0.9L389.6,0.5Z" fill="rgb(22,22,45)" stroke="#d83070" stroke-width="1.1" stroke-linejoin="round"/>
<path d="M403.3,11.2L388.4,12.8L389.6,0.5L401.5,-0.5L403.6,2.1Z" fill="rgb(31,57,54)" stroke="#e04a20" stroke-width="1.1" stroke-linejoin="round"/>
<path d="M405.8,14.8L403.3,11.2L388.4,12.8L384.6,17.6L385.4,21.5L398.4,23.6Z" fill="rgb(43,43,28)" stroke="#e83a28" stroke-width="1.1" stroke-linejoin="round"/>
<path d="M403.1,31.8L395.6,38.4L395.6,38.4L384.4,24.4L385.4,21.5L398.4,23.6Z" fill="rgb(28,31,28)" stroke="#d83070" stroke-width="1.1" stroke-linejoin="round"/>
<path d="M395.6,38.4L398.7,48.5L398.1,48.8L382.2,48.3L383.0,41.7L395.6,38.4Z" fill="rgb(43,30,56)" stroke="#e83a28" stroke-width="1.1" stroke-linejoin="round"/>
<path d="M398.7,48.5L407.2,52.6L398.9,64.7L386.8,61.5L398.1,48.8Z" fill="rgb(33,61,58)" stroke="#e83a28" stroke-width="1.1" stroke-linejoin="round"/>
<path d="M400.6,71.2L398.9,64.7L386.8,61.5L385.5,61.8L384.2,70.1L395.1,77.2Z" fill="rgb(26,47,45)" stroke="#e83a28" stroke-width="1.1" stroke-linejoin="round"/>
<path d="M397.2,83.6L395.1,82.5L395.1,77.2L400.6,71.2L410.0,72.9L407.7,83.3Z" fill="rgb(21,21,44)" stroke="#d83070" stroke-width="1.1" stroke-linejoin="round"/>
<path d="M404.4,97.4L394.8,100.5L384.7,95.5L384.0,91.3L395.1,82.5L397.2,83.6Z" fill="rgb(36,63,39)" stroke="#d83070" stroke-width="1.1" stroke-linejoin="round"/>
<path d="M396.0,112.4L394.8,100.5L404.4,97.4L409.1,98.0L407.1,111.1L396.8,113.1Z" fill="rgb(33,60,57)" stroke="#e83a28" stroke-width="1.1" stroke-linejoin="round"/>
<path d="M381.1,117.8L382.0,114.2L396.0,112.4L396.8,113.1L397.6,121.3L389.0,125.2Z" fill="rgb(23,23,48)" stroke="#e83a28" stroke-width="1.1" stroke-linejoin="round"/>
<path d="M388.5,130.8L401.5,134.9L406.4,128.7L397.6,121.3L389.0,125.2Z" fill="rgb(37,37,24)" stroke="#e04a20" stroke-width="1.1" stroke-linejoin="round"/>
<path d="M383.0,136.4L388.5,130.8L401.5,134.9L399.7,144.9L396.7,146.2L386.2,144.6Z" fill="rgb(44,31,57)" stroke="#e04a20" stroke-width="1.1" stroke-linejoin="round"/>
<path d="M396.7,146.2L394.9,156.6L400.6,162.5L409.7,156.1L409.4,150.2L399.7,144.9Z" fill="rgb(57,33,66)" stroke="#e04a20" stroke-width="1.1" stroke-linejoin="round"/>
<path d="M394.9,156.6L386.4,161.3L387.2,170.7L391.0,173.4L399.4,169.6L400.6,162.5Z" fill="rgb(41,29,53)" stroke="#e04a20" stroke-width="1.1" stroke-linejoin="round"/>
<path d="M391.0,173.4L391.6,180.7L403.6,187.3L411.1,180.7L407.9,173.0L399.4,169.6Z" fill="rgb(27,27,56)" stroke="#e83a28" stroke-width="1.1" stroke-linejoin="round"/>
<path d="M403.6,187.3L391.6,180.7L385.2,189.0L395.1,198.4L403.5,190.5Z" fill="rgb(25,28,25)" stroke="#e04a20" stroke-width="1.1" stroke-linejoin="round"/>
<path d="M403.5,190.5L411.9,199.4L412.5,204.5L399.9,206.1L394.9,202.7L395.1,198.4Z" fill="rgb(26,47,44)" stroke="#d83070" stroke-width="1.1" stroke-linejoin="round"/>
<path d="M399.9,216.7L399.9,206.1L394.9,202.7L383.5,209.6L383.8,213.7L391.7,219.2Z" fill="rgb(25,25,51)" stroke="#e83a28" stroke-width="1.1" stroke-linejoin="round"/>
<path d="M427.7,-8.5L428.7,-10.2L426.5,-20.1L415.2,-22.5L410.7,-17.3L411.6,-11.5L416.9,-7.6Z" fill="rgb(43,25,50)" stroke="#e04a20" stroke-width="1.1" stroke-linejoin="round"/>
<path d="M416.9,-7.6L411.6,-11.5L402.3,-6.2L401.5,-0.5L403.6,2.1L412.6,1.2Z" fill="rgb(46,27,54)" stroke="#e83a28" stroke-width="1.1" stroke-linejoin="round"/>
<path d="M418.9,8.0L419.6,13.2L415.8,17.7L415.0,18.0L405.8,14.8L403.3,11.2L403.6,2.1L412.6,1.2Z" fill="rgb(44,25,51)" stroke="#e83a28" stroke-width="1.1" stroke-linejoin="round"/>
<path d="M403.1,31.8L398.4,23.6L405.8,14.8L415.0,18.0L409.6,32.2Z" fill="rgb(39,23,46)" stroke="#e04a20" stroke-width="1.1" stroke-linejoin="round"/>
<path d="M409.6,32.2L413.6,37.1L422.4,36.5L426.7,28.9L415.8,17.7L415.0,18.0Z" fill="rgb(37,21,43)" stroke="#e83a28" stroke-width="1.1" stroke-linejoin="round"/>
<path d="M403.1,31.8L395.6,38.4L398.7,48.5L407.2,52.6L407.7,52.5L409.4,51.1L413.6,37.1L409.6,32.2Z" fill="rgb(25,44,27)" stroke="#e04a20" stroke-width="1.1" stroke-linejoin="round"/>
<path d="M409.4,51.1L407.7,52.5L413.7,63.4L427.2,63.2L428.1,51.6Z" fill="rgb(23,26,23)" stroke="#d83070" stroke-width="1.1" stroke-linejoin="round"/>
<path d="M413.7,63.4L407.7,52.5L407.2,52.6L398.9,64.7L400.6,71.2L410.0,72.9L411.5,72.2Z" fill="rgb(33,33,22)" stroke="#e83a28" stroke-width="1.1" stroke-linejoin="round"/>
<path d="M411.8,88.5L421.3,80.7L420.9,76.9L411.5,72.2L410.0,72.9L407.7,83.3Z" fill="rgb(27,49,47)" stroke="#e83a28" stroke-width="1.1" stroke-linejoin="round"/>
<path d="M409.1,98.0L404.4,97.4L397.2,83.6L407.7,83.3L411.8,88.5L411.6,96.8Z" fill="rgb(27,48,29)" stroke="#e83a28" stroke-width="1.1" stroke-linejoin="round"/>
<path d="M409.1,98.0L407.1,111.1L413.8,118.1L425.5,105.5L424.4,100.8L411.6,96.8Z" fill="rgb(24,43,26)" stroke="#e04a20" stroke-width="1.1" stroke-linejoin="round"/>
<path d="M406.4,128.7L409.5,127.9L413.8,122.7L413.8,118.1L407.1,111.1L396.8,113.1L397.6,121.3Z" fill="rgb(28,51,48)" stroke="#e83a28" stroke-width="1.1" stroke-linejoin="round"/>
<path d="M418.1,139.3L428.8,135.5L428.5,125.7L413.8,122.7L409.5,127.9Z" fill="rgb(22,25,22)" stroke="#e83a28" stroke-width="1.1" stroke-linejoin="round"/>
<path d="M399.7,144.9L401.5,134.9L406.4,128.7L409.5,127.9L418.1,139.3L416.3,146.1L409.4,150.2Z" fill="rgb(37,26,48)" stroke="#e83a28" stroke-width="1.1" stroke-linejoin="round"/>
<path d="M409.4,150.2L416.3,146.1L423.8,150.6L424.2,160.2L413.5,160.9L409.7,156.1Z" fill="rgb(29,52,32)" stroke="#e04a20" stroke-width="1.1" stroke-linejoin="round"/>
<path d="M409.7,156.1L413.5,160.9L412.9,166.5L407.9,173.0L399.4,169.6L400.6,162.5Z" fill="rgb(33,33,21)" stroke="#e83a28" stroke-width="1.1" stroke-linejoin="round"/>
<path d="M423.8,180.7L419.6,182.6L411.1,180.7L407.9,173.0L412.9,166.5L426.2,173.1Z" fill="rgb(40,23,46)" stroke="#e83a28" stroke-width="1.1" stroke-linejoin="round"/>
<path d="M403.6,187.3L411.1,180.7L419.6,182.6L419.0,190.4L411.9,199.4L403.5,190.5Z" fill="rgb(22,22,46)" stroke="#e04a20" stroke-width="1.1" stroke-linejoin="round"/>
<path d="M425.0,196.7L422.5,204.3L413.4,205.3L412.5,204.5L411.9,199.4L419.0,190.4Z" fill="rgb(49,20,27)" stroke="#e83a28" stroke-width="1.1" stroke-linejoin="round"/>
<path d="M405.7,220.1L413.4,212.7L413.4,205.3L412.5,204.5L399.9,206.1L399.9,216.7Z" fill="rgb(27,27,55)" stroke="#e04a20" stroke-width="1.1" stroke-linejoin="round"/>
<path d="M427.7,-8.5L416.9,-7.6L412.6,1.2L418.9,8.0L428.2,-5.0Z" fill="rgb(17,19,17)" stroke="#e83a28" stroke-width="1.1" stroke-linejoin="round"/>
<path d="M430.0,46.2L422.4,36.5L413.6,37.1L409.4,51.1L428.1,51.6L430.1,49.4Z" fill="rgb(23,23,47)" stroke="#e83a28" stroke-width="1.1" stroke-linejoin="round"/>
<path d="M430.1,68.3L420.9,76.9L411.5,72.2L413.7,63.4L427.2,63.2Z" fill="rgb(26,19,34)" stroke="#e83a28" stroke-width="1.1" stroke-linejoin="round"/>
<path d="M411.6,96.8L424.4,100.8L432.1,91.2L421.3,80.7L411.8,88.5Z" fill="rgb(32,32,21)" stroke="#e04a20" stroke-width="1.1" stroke-linejoin="round"/>
<path d="M413.5,160.9L412.9,166.5L426.2,173.1L426.9,172.1L427.6,163.2L424.2,160.2Z" fill="rgb(22,24,22)" stroke="#e04a20" stroke-width="1.1" stroke-linejoin="round"/>
<path d="M413.4,212.7L413.4,205.3L422.5,204.3L430.4,208.9L426.9,220.4L425.2,221.9L424.3,222.0Z" fill="rgb(45,18,25)" stroke="#e04a20" stroke-width="1.1" stroke-linejoin="round"/>
</g>
<rect x="208.4" y="2.4" width="194.4" height="193.8" fill="none" stroke="#2a1a1a" stroke-width="0.8"/>
<rect x="275.0" y="3.9" width="60.1" height="190.3" rx="12" fill="none" stroke="#fff" stroke-width="2.6" stroke-dasharray="4.5 3.6"/>
<rect x="220.4" y="182.6" width="51" height="4.6" fill="#fff"/>
<polygon points="465.72,138.50 476.83,117.20 487.95,104.00 499.06,90.50 510.18,59.20 521.29,25.60 532.40,34.70 543.52,35.00 554.63,51.30 565.75,80.50 576.87,90.30 587.98,75.10 599.10,105.40 610.21,106.60 621.33,120.50 632.44,136.80 643.56,107.00 654.67,110.00 665.79,129.80 665.79,152.00 654.67,141.50 643.56,138.00 632.44,161.30 621.33,141.50 610.21,133.30 599.10,128.00 587.98,107.70 576.87,117.00 565.75,106.60 554.63,82.70 543.52,67.00 532.40,70.20 521.29,57.00 510.18,88.30 499.06,121.00 487.95,132.90 476.83,148.50 465.72,163.60" fill="#cccccc" stroke="#555" stroke-width="0.8" />
<polyline points="465.72,150.70 476.83,134.40 487.95,119.70 499.06,105.90 510.18,73.60 521.29,41.30 532.40,52.30 543.52,51.00 554.63,68.00 565.75,94.20 576.87,104.00 587.98,91.40 599.10,117.30 610.21,121.00 621.33,131.00 632.44,149.60 643.56,122.20 654.67,125.70 665.79,141.00" fill="none" stroke="#4da6e6" stroke-width="1.1" />
<circle cx="465.72" cy="150.70" r="3.6" fill="#fff" stroke="#4da6e6" stroke-width="1.1"/>
<circle cx="476.83" cy="134.40" r="3.6" fill="#fff" stroke="#4da6e6" stroke-width="1.1"/>
<circle cx="487.95" cy="119.70" r="3.6" fill="#fff" stroke="#4da6e6" stroke-width="1.1"/>
<circle cx="499.06" cy="105.90" r="3.6" fill="#fff" stroke="#4da6e6" stroke-width="1.1"/>
<circle cx="510.18" cy="73.60" r="3.6" fill="#fff" stroke="#4da6e6" stroke-width="1.1"/>
<circle cx="521.29" cy="41.30" r="3.6" fill="#fff" stroke="#4da6e6" stroke-width="1.1"/>
<circle cx="532.40" cy="52.30" r="3.6" fill="#fff" stroke="#4da6e6" stroke-width="1.1"/>
<circle cx="543.52" cy="51.00" r="3.6" fill="#fff" stroke="#4da6e6" stroke-width="1.1"/>
<circle cx="554.63" cy="68.00" r="3.6" fill="#fff" stroke="#4da6e6" stroke-width="1.1"/>
<circle cx="565.75" cy="94.20" r="3.6" fill="#fff" stroke="#4da6e6" stroke-width="1.1"/>
<circle cx="576.87" cy="104.00" r="3.6" fill="#fff" stroke="#4da6e6" stroke-width="1.1"/>
<circle cx="587.98" cy="91.40" r="3.6" fill="#fff" stroke="#4da6e6" stroke-width="1.1"/>
<circle cx="599.10" cy="117.30" r="3.6" fill="#fff" stroke="#4da6e6" stroke-width="1.1"/>
<circle cx="610.21" cy="121.00" r="3.6" fill="#fff" stroke="#4da6e6" stroke-width="1.1"/>
<circle cx="621.33" cy="131.00" r="3.6" fill="#fff" stroke="#4da6e6" stroke-width="1.1"/>
<circle cx="632.44" cy="149.60" r="3.6" fill="#fff" stroke="#4da6e6" stroke-width="1.1"/>
<circle cx="643.56" cy="122.20" r="3.6" fill="#fff" stroke="#4da6e6" stroke-width="1.1"/>
<circle cx="654.67" cy="125.70" r="3.6" fill="#fff" stroke="#4da6e6" stroke-width="1.1"/>
<circle cx="665.79" cy="141.00" r="3.6" fill="#fff" stroke="#4da6e6" stroke-width="1.1"/>
<rect x="454.60" y="5.30" width="222.20" height="169.10" fill="none" stroke="#262626" stroke-width="1"/>
<line x1="528.70" y1="174.40" x2="528.70" y2="171.90" stroke="#262626" stroke-width="1"/>
<line x1="528.70" y1="5.30" x2="528.70" y2="7.80" stroke="#262626" stroke-width="1"/>
<line x1="602.80" y1="174.40" x2="602.80" y2="171.90" stroke="#262626" stroke-width="1"/>
<line x1="602.80" y1="5.30" x2="602.80" y2="7.80" stroke="#262626" stroke-width="1"/>
<line x1="454.60" y1="8.20" x2="457.10" y2="8.20" stroke="#262626" stroke-width="1"/>
<line x1="676.80" y1="8.20" x2="674.30" y2="8.20" stroke="#262626" stroke-width="1"/>
<line x1="454.60" y1="74.90" x2="457.10" y2="74.90" stroke="#262626" stroke-width="1"/>
<line x1="676.80" y1="74.90" x2="674.30" y2="74.90" stroke="#262626" stroke-width="1"/>
<line x1="454.60" y1="141.40" x2="457.10" y2="141.40" stroke="#262626" stroke-width="1"/>
<line x1="676.80" y1="141.40" x2="674.30" y2="141.40" stroke="#262626" stroke-width="1"/>
<polygon points="38.44,358.00 44.68,300.00 50.92,292.20 57.16,289.10 63.40,298.20 69.64,249.10 75.88,252.20 82.12,246.70 88.36,239.80 94.60,269.00 100.84,278.00 107.08,292.50 113.32,318.00 119.56,323.40 125.80,372.00 132.04,401.00 138.28,376.50 144.52,378.40 150.76,363.80 150.76,393.00 144.52,407.50 138.28,401.00 132.04,429.00 125.80,392.00 119.56,348.00 113.32,336.60 107.08,312.90 100.84,299.70 94.60,290.00 88.36,258.00 82.12,268.00 75.88,277.70 69.64,276.50 63.40,329.20 57.16,318.30 50.92,322.50 44.68,328.60 38.44,389.00" fill="#d0d0d0" stroke="#555" stroke-width="0.8" />
<polyline points="38.44,372.80 44.68,314.60 50.92,307.00 57.16,303.50 63.40,313.80 69.64,261.60 75.88,264.90 82.12,256.20 88.36,249.60 94.60,281.20 100.84,290.80 107.08,302.60 113.32,330.50 119.56,336.50 125.80,383.50 132.04,415.80 138.28,389.30 144.52,393.90 150.76,378.40" fill="none" stroke="#e0a020" stroke-width="1.1" />
<circle cx="38.44" cy="372.80" r="4.1" fill="#edb120" stroke="#d99a10" stroke-width="0.6"/>
<circle cx="44.68" cy="314.60" r="4.1" fill="#edb120" stroke="#d99a10" stroke-width="0.6"/>
<circle cx="50.92" cy="307.00" r="4.1" fill="#edb120" stroke="#d99a10" stroke-width="0.6"/>
<circle cx="57.16" cy="303.50" r="4.1" fill="#edb120" stroke="#d99a10" stroke-width="0.6"/>
<circle cx="63.40" cy="313.80" r="4.1" fill="#edb120" stroke="#d99a10" stroke-width="0.6"/>
<circle cx="69.64" cy="261.60" r="4.1" fill="#edb120" stroke="#d99a10" stroke-width="0.6"/>
<circle cx="75.88" cy="264.90" r="4.1" fill="#edb120" stroke="#d99a10" stroke-width="0.6"/>
<circle cx="82.12" cy="256.20" r="4.1" fill="#edb120" stroke="#d99a10" stroke-width="0.6"/>
<circle cx="88.36" cy="249.60" r="4.1" fill="#edb120" stroke="#d99a10" stroke-width="0.6"/>
<circle cx="94.60" cy="281.20" r="4.1" fill="#edb120" stroke="#d99a10" stroke-width="0.6"/>
<circle cx="100.84" cy="290.80" r="4.1" fill="#edb120" stroke="#d99a10" stroke-width="0.6"/>
<circle cx="107.08" cy="302.60" r="4.1" fill="#edb120" stroke="#d99a10" stroke-width="0.6"/>
<circle cx="113.32" cy="330.50" r="4.1" fill="#edb120" stroke="#d99a10" stroke-width="0.6"/>
<circle cx="119.56" cy="336.50" r="4.1" fill="#edb120" stroke="#d99a10" stroke-width="0.6"/>
<circle cx="125.80" cy="383.50" r="4.1" fill="#edb120" stroke="#d99a10" stroke-width="0.6"/>
<circle cx="132.04" cy="415.80" r="4.1" fill="#edb120" stroke="#d99a10" stroke-width="0.6"/>
<circle cx="138.28" cy="389.30" r="4.1" fill="#edb120" stroke="#d99a10" stroke-width="0.6"/>
<circle cx="144.52" cy="393.90" r="4.1" fill="#edb120" stroke="#d99a10" stroke-width="0.6"/>
<circle cx="150.76" cy="378.40" r="4.1" fill="#edb120" stroke="#d99a10" stroke-width="0.6"/>
<rect x="32.20" y="223.10" width="125.00" height="214.80" fill="none" stroke="#262626" stroke-width="1"/>
<line x1="136.20" y1="437.90" x2="136.20" y2="434.90" stroke="#262626" stroke-width="1"/>
<line x1="136.20" y1="223.10" x2="136.20" y2="226.10" stroke="#262626" stroke-width="1"/>
<line x1="32.20" y1="227.00" x2="35.20" y2="227.00" stroke="#262626" stroke-width="1"/>
<line x1="157.20" y1="227.00" x2="154.20" y2="227.00" stroke="#262626" stroke-width="1"/>
<line x1="32.20" y1="304.00" x2="35.20" y2="304.00" stroke="#262626" stroke-width="1"/>
<line x1="157.20" y1="304.00" x2="154.20" y2="304.00" stroke="#262626" stroke-width="1"/>
<line x1="32.20" y1="381.00" x2="35.20" y2="381.00" stroke="#262626" stroke-width="1"/>
<line x1="157.20" y1="381.00" x2="154.20" y2="381.00" stroke="#262626" stroke-width="1"/>
<clipPath id="ce"><rect x="190.9" y="218.1" width="175.00" height="172.90"/></clipPath>
<g clip-path="url(#ce)">
<rect x="190.9" y="218.1" width="175.00" height="172.90" fill="#c9c9c9"/>
<path d="M162.7,188.0L161.0,199.9L175.8,205.8L179.9,201.7L180.9,191.7L172.1,181.9Z" fill="rgb(231,231,231)" stroke="#f6f6f6" stroke-width="1.4" stroke-linejoin="round"/>
<path d="M161.0,199.9L149.9,208.2L164.1,220.5L172.7,215.8L175.8,205.8Z" fill="rgb(233,233,233)" stroke="#f6f6f6" stroke-width="1.4" stroke-linejoin="round"/>
<path d="M161.6,231.5L163.6,232.8L182.7,233.6L177.5,218.8L172.7,215.8L164.1,220.5Z" fill="rgb(233,233,233)" stroke="#f6f6f6" stroke-width="1.4" stroke-linejoin="round"/>
<path d="M161.6,231.5L163.6,232.8L174.1,250.2L160.1,256.1L151.8,246.8L157.0,234.0Z" fill="rgb(224,224,224)" stroke="#f6f6f6" stroke-width="1.4" stroke-linejoin="round"/>
<path d="M174.1,250.2L179.1,251.4L178.3,263.5L171.8,266.9L159.4,261.6L160.1,256.1Z" fill="rgb(228,228,228)" stroke="#f6f6f6" stroke-width="1.4" stroke-linejoin="round"/>
<path d="M162.5,283.5L154.6,279.8L152.8,271.3L159.4,261.6L171.8,266.9L168.7,280.4Z" fill="rgb(232,232,232)" stroke="#f6f6f6" stroke-width="1.4" stroke-linejoin="round"/>
<path d="M174.6,302.8L164.9,291.8L162.5,283.5L168.7,280.4L187.1,280.3L180.7,299.2Z" fill="rgb(229,229,229)" stroke="#f6f6f6" stroke-width="1.4" stroke-linejoin="round"/>
<path d="M174.3,329.8L179.2,326.0L181.5,315.3L173.8,306.0L163.7,313.5L163.7,324.7Z" fill="rgb(227,227,227)" stroke="#f6f6f6" stroke-width="1.4" stroke-linejoin="round"/>
<path d="M160.1,347.1L149.7,335.7L163.7,324.7L174.3,329.8L176.0,342.0Z" fill="rgb(231,231,231)" stroke="#f6f6f6" stroke-width="1.4" stroke-linejoin="round"/>
<path d="M160.1,347.1L176.0,342.0L182.5,345.9L182.7,359.4L173.7,364.3L159.8,354.9Z" fill="rgb(232,232,232)" stroke="#f6f6f6" stroke-width="1.4" stroke-linejoin="round"/>
<path d="M159.8,354.9L152.6,362.0L156.9,378.2L158.3,378.9L170.3,376.7L173.7,364.3Z" fill="rgb(225,225,225)" stroke="#f6f6f6" stroke-width="1.4" stroke-linejoin="round"/>
<path d="M179.5,385.3L172.1,396.8L158.6,394.9L158.3,378.9L170.3,376.7Z" fill="rgb(229,229,229)" stroke="#f6f6f6" stroke-width="1.4" stroke-linejoin="round"/>
<path d="M172.1,396.8L174.1,405.2L163.0,416.7L162.8,416.7L152.1,401.5L158.6,394.9Z" fill="rgb(225,225,225)" stroke="#f6f6f6" stroke-width="1.4" stroke-linejoin="round"/>
<path d="M174.1,405.2L163.0,416.7L175.2,425.3L184.4,423.5L183.4,408.0Z" fill="rgb(225,225,225)" stroke="#f6f6f6" stroke-width="1.4" stroke-linejoin="round"/>
<path d="M180.9,191.7L194.6,188.2L201.2,203.9L190.6,207.4L179.9,201.7Z" fill="rgb(229,229,229)" stroke="#f6f6f6" stroke-width="1.4" stroke-linejoin="round"/>
<path d="M175.8,205.8L172.7,215.8L177.5,218.8L191.1,219.1L190.6,207.4L179.9,201.7Z" fill="rgb(226,226,226)" stroke="#f6f6f6" stroke-width="1.4" stroke-linejoin="round"/>
<path d="M177.5,218.8L182.7,233.6L190.9,239.2L197.0,231.0L197.0,225.2L191.1,219.1Z" fill="rgb(232,232,232)" stroke="#f6f6f6" stroke-width="1.4" stroke-linejoin="round"/>
<path d="M163.6,232.8L174.1,250.2L179.1,251.4L190.4,245.6L190.9,239.2L182.7,233.6Z" fill="rgb(227,227,227)" stroke="#f6f6f6" stroke-width="1.4" stroke-linejoin="round"/>
<path d="M188.6,275.4L178.3,263.5L179.1,251.4L190.4,245.6L195.5,250.3L197.7,258.6Z" fill="rgb(225,225,225)" stroke="#f6f6f6" stroke-width="1.4" stroke-linejoin="round"/>
<path d="M168.7,280.4L171.8,266.9L178.3,263.5L188.6,275.4L188.9,279.0L187.1,280.3Z" fill="rgb(230,230,230)" stroke="#f6f6f6" stroke-width="1.4" stroke-linejoin="round"/>
<path d="M201.6,284.1L188.9,279.0L187.1,280.3L180.7,299.2L194.8,302.6L201.0,297.9Z" fill="rgb(226,226,226)" stroke="#f6f6f6" stroke-width="1.4" stroke-linejoin="round"/>
<path d="M173.8,306.0L181.5,315.3L194.4,315.8L194.8,302.6L180.7,299.2L174.6,302.8Z" fill="rgb(224,224,224)" stroke="#f6f6f6" stroke-width="1.4" stroke-linejoin="round"/>
<path d="M179.2,326.0L181.5,315.3L194.4,315.8L202.0,324.1L201.8,326.4L196.6,331.2Z" fill="rgb(233,233,233)" stroke="#f6f6f6" stroke-width="1.4" stroke-linejoin="round"/>
<path d="M176.0,342.0L174.3,329.8L179.2,326.0L196.6,331.2L192.6,340.9L182.5,345.9Z" fill="rgb(225,225,225)" stroke="#f6f6f6" stroke-width="1.4" stroke-linejoin="round"/>
<path d="M182.5,345.9L192.6,340.9L204.4,352.6L204.7,357.0L190.1,363.7L182.7,359.4Z" fill="rgb(225,225,225)" stroke="#f6f6f6" stroke-width="1.4" stroke-linejoin="round"/>
<path d="M173.7,364.3L170.3,376.7L179.5,385.3L179.8,385.3L192.5,375.5L190.1,363.7L182.7,359.4Z" fill="rgb(228,228,228)" stroke="#f6f6f6" stroke-width="1.4" stroke-linejoin="round"/>
<path d="M179.8,385.3L191.4,396.2L200.2,393.6L200.7,378.9L192.5,375.5Z" fill="rgb(224,224,224)" stroke="#f6f6f6" stroke-width="1.4" stroke-linejoin="round"/>
<path d="M179.5,385.3L172.1,396.8L174.1,405.2L183.4,408.0L189.0,404.7L191.4,396.2L179.8,385.3Z" fill="rgb(231,231,231)" stroke="#f6f6f6" stroke-width="1.4" stroke-linejoin="round"/>
<path d="M201.4,413.6L201.5,420.4L189.7,426.2L184.4,423.5L183.4,408.0L189.0,404.7Z" fill="rgb(224,224,224)" stroke="#f6f6f6" stroke-width="1.4" stroke-linejoin="round"/>
<path d="M208.0,206.6L201.2,203.9L194.6,188.2L197.1,185.4L215.2,186.0L215.3,200.2Z" fill="rgb(224,224,224)" stroke="#f6f6f6" stroke-width="1.4" stroke-linejoin="round"/>
<path d="M208.2,213.4L197.0,225.2L191.1,219.1L190.6,207.4L201.2,203.9L208.0,206.6Z" fill="rgb(233,233,233)" stroke="#f6f6f6" stroke-width="1.4" stroke-linejoin="round"/>
<path d="M208.2,213.4L197.0,225.2L197.0,231.0L216.3,234.2L219.6,230.2L218.7,221.8Z" fill="rgb(229,229,229)" stroke="#f6f6f6" stroke-width="1.4" stroke-linejoin="round"/>
<path d="M217.3,246.9L216.3,234.2L197.0,231.0L190.9,239.2L190.4,245.6L195.5,250.3L217.0,247.4Z" fill="rgb(233,233,233)" stroke="#f6f6f6" stroke-width="1.4" stroke-linejoin="round"/>
<path d="M217.0,247.4L195.5,250.3L197.7,258.6L210.0,266.2L217.6,261.1Z" fill="rgb(232,232,232)" stroke="#f6f6f6" stroke-width="1.4" stroke-linejoin="round"/>
<path d="M201.6,284.1L188.9,279.0L188.6,275.4L197.7,258.6L210.0,266.2L208.8,281.0Z" fill="rgb(231,231,231)" stroke="#f6f6f6" stroke-width="1.4" stroke-linejoin="round"/>
<path d="M221.5,296.9L207.5,302.4L201.0,297.9L201.6,284.1L208.8,281.0L221.6,284.8Z" fill="rgb(224,224,224)" stroke="#f6f6f6" stroke-width="1.4" stroke-linejoin="round"/>
<path d="M207.5,302.4L211.1,315.9L202.0,324.1L194.4,315.8L194.8,302.6L201.0,297.9Z" fill="rgb(230,230,230)" stroke="#f6f6f6" stroke-width="1.4" stroke-linejoin="round"/>
<path d="M211.1,315.9L202.0,324.1L201.8,326.4L216.2,338.3L225.2,326.5L225.5,315.1L225.3,314.9Z" fill="rgb(224,224,224)" stroke="#f6f6f6" stroke-width="1.4" stroke-linejoin="round"/>
<path d="M204.4,352.6L192.6,340.9L196.6,331.2L201.8,326.4L216.2,338.3L216.5,339.0Z" fill="rgb(224,224,224)" stroke="#f6f6f6" stroke-width="1.4" stroke-linejoin="round"/>
<path d="M204.7,357.0L209.4,361.0L220.5,361.4L227.0,346.6L216.5,339.0L204.4,352.6Z" fill="rgb(232,232,232)" stroke="#f6f6f6" stroke-width="1.4" stroke-linejoin="round"/>
<path d="M192.5,375.5L200.7,378.9L206.2,376.8L209.4,361.0L204.7,357.0L190.1,363.7Z" fill="rgb(227,227,227)" stroke="#f6f6f6" stroke-width="1.4" stroke-linejoin="round"/>
<path d="M206.2,376.8L217.7,381.9L216.0,396.4L213.3,399.7L211.6,400.0L200.2,393.6L200.7,378.9Z" fill="rgb(231,231,231)" stroke="#f6f6f6" stroke-width="1.4" stroke-linejoin="round"/>
<path d="M211.6,400.0L200.2,393.6L191.4,396.2L189.0,404.7L201.4,413.6Z" fill="rgb(229,229,229)" stroke="#f6f6f6" stroke-width="1.4" stroke-linejoin="round"/>
<path d="M218.5,425.0L212.1,427.0L201.5,420.4L201.4,413.6L211.6,400.0L213.3,399.7L217.7,405.7Z" fill="rgb(231,231,231)" stroke="#f6f6f6" stroke-width="1.4" stroke-linejoin="round"/>
<path d="M215.3,200.2L215.2,186.0L216.0,184.9L227.2,183.6L237.8,191.8L238.4,196.8L231.0,206.2Z" fill="rgb(230,230,230)" stroke="#f6f6f6" stroke-width="1.4" stroke-linejoin="round"/>
<path d="M208.2,213.4L218.7,221.8L231.8,210.9L231.0,206.2L215.3,200.2L208.0,206.6Z" fill="rgb(233,233,233)" stroke="#f6f6f6" stroke-width="1.4" stroke-linejoin="round"/>
<path d="M231.8,210.9L240.7,220.0L237.0,231.9L219.6,230.2L218.7,221.8Z" fill="rgb(228,228,228)" stroke="#f6f6f6" stroke-width="1.4" stroke-linejoin="round"/>
<path d="M217.3,246.9L216.3,234.2L219.6,230.2L237.0,231.9L237.7,233.5L231.5,247.7Z" fill="rgb(232,232,232)" stroke="#f6f6f6" stroke-width="1.4" stroke-linejoin="round"/>
<path d="M238.7,258.1L231.5,247.7L217.3,246.9L217.0,247.4L217.6,261.1L231.7,267.8L239.0,263.2Z" fill="rgb(232,232,232)" stroke="#f6f6f6" stroke-width="1.4" stroke-linejoin="round"/>
<path d="M221.6,284.8L226.9,282.0L231.7,267.8L217.6,261.1L210.0,266.2L208.8,281.0Z" fill="rgb(229,229,229)" stroke="#f6f6f6" stroke-width="1.4" stroke-linejoin="round"/>
<path d="M221.5,296.9L224.7,301.8L241.6,297.3L241.7,289.7L226.9,282.0L221.6,284.8Z" fill="rgb(229,229,229)" stroke="#f6f6f6" stroke-width="1.4" stroke-linejoin="round"/>
<path d="M221.5,296.9L224.7,301.8L225.3,314.9L211.1,315.9L207.5,302.4Z" fill="rgb(228,228,228)" stroke="#f6f6f6" stroke-width="1.4" stroke-linejoin="round"/>
<path d="M244.3,328.9L243.0,315.6L225.5,315.1L225.2,326.5L236.1,334.1Z" fill="rgb(230,230,230)" stroke="#f6f6f6" stroke-width="1.4" stroke-linejoin="round"/>
<path d="M236.1,334.1L225.2,326.5L216.2,338.3L216.5,339.0L227.0,346.6L231.0,346.0Z" fill="rgb(225,225,225)" stroke="#f6f6f6" stroke-width="1.4" stroke-linejoin="round"/>
<path d="M243.4,353.0L231.0,346.0L227.0,346.6L220.5,361.4L228.1,371.4L243.9,358.5Z" fill="rgb(228,228,228)" stroke="#f6f6f6" stroke-width="1.4" stroke-linejoin="round"/>
<path d="M228.1,375.1L217.7,381.9L206.2,376.8L209.4,361.0L220.5,361.4L228.1,371.4Z" fill="rgb(230,230,230)" stroke="#f6f6f6" stroke-width="1.4" stroke-linejoin="round"/>
<path d="M228.1,375.1L217.7,381.9L216.0,396.4L235.6,395.4L240.3,389.7L239.4,384.5Z" fill="rgb(227,227,227)" stroke="#f6f6f6" stroke-width="1.4" stroke-linejoin="round"/>
<path d="M217.7,405.7L213.3,399.7L216.0,396.4L235.6,395.4L234.8,410.5Z" fill="rgb(226,226,226)" stroke="#f6f6f6" stroke-width="1.4" stroke-linejoin="round"/>
<path d="M218.5,425.0L217.7,405.7L234.8,410.5L239.0,418.7L238.9,419.2L224.6,426.1Z" fill="rgb(225,225,225)" stroke="#f6f6f6" stroke-width="1.4" stroke-linejoin="round"/>
<path d="M251.5,177.0L237.8,191.8L238.4,196.8L253.8,202.2L260.8,199.1L261.3,190.5Z" fill="rgb(232,232,232)" stroke="#f6f6f6" stroke-width="1.4" stroke-linejoin="round"/>
<path d="M231.8,210.9L240.7,220.0L249.0,217.9L253.8,202.2L238.4,196.8L231.0,206.2Z" fill="rgb(232,232,232)" stroke="#f6f6f6" stroke-width="1.4" stroke-linejoin="round"/>
<path d="M237.7,233.5L237.0,231.9L240.7,220.0L249.0,217.9L257.5,222.9L256.4,239.4L254.2,241.4L253.3,241.4Z" fill="rgb(232,232,232)" stroke="#f6f6f6" stroke-width="1.4" stroke-linejoin="round"/>
<path d="M238.7,258.1L253.3,241.4L237.7,233.5L231.5,247.7Z" fill="rgb(231,231,231)" stroke="#f6f6f6" stroke-width="1.4" stroke-linejoin="round"/>
<path d="M238.7,258.1L253.3,241.4L254.2,241.4L258.3,250.1L258.8,263.6L252.0,269.2L239.0,263.2Z" fill="rgb(230,230,230)" stroke="#f6f6f6" stroke-width="1.4" stroke-linejoin="round"/>
<path d="M241.7,289.7L254.3,281.0L252.0,269.2L239.0,263.2L231.7,267.8L226.9,282.0Z" fill="rgb(224,224,224)" stroke="#f6f6f6" stroke-width="1.4" stroke-linejoin="round"/>
<path d="M250.5,310.0L260.5,293.9L255.5,281.8L254.3,281.0L241.7,289.7L241.6,297.3L248.1,310.3Z" fill="rgb(232,232,232)" stroke="#f6f6f6" stroke-width="1.4" stroke-linejoin="round"/>
<path d="M248.1,310.3L241.6,297.3L224.7,301.8L225.3,314.9L225.5,315.1L243.0,315.6Z" fill="rgb(228,228,228)" stroke="#f6f6f6" stroke-width="1.4" stroke-linejoin="round"/>
<path d="M262.5,314.6L250.5,310.0L248.1,310.3L243.0,315.6L244.3,328.9L252.7,335.7L262.7,324.7Z" fill="rgb(230,230,230)" stroke="#f6f6f6" stroke-width="1.4" stroke-linejoin="round"/>
<path d="M243.4,353.0L231.0,346.0L236.1,334.1L244.3,328.9L252.7,335.7L255.0,342.7Z" fill="rgb(225,225,225)" stroke="#f6f6f6" stroke-width="1.4" stroke-linejoin="round"/>
<path d="M264.8,348.7L261.9,345.0L255.0,342.7L243.4,353.0L243.9,358.5L250.8,365.4L266.7,361.2Z" fill="rgb(231,231,231)" stroke="#f6f6f6" stroke-width="1.4" stroke-linejoin="round"/>
<path d="M243.9,358.5L228.1,371.4L228.1,375.1L239.4,384.5L250.8,374.5L250.8,365.4Z" fill="rgb(225,225,225)" stroke="#f6f6f6" stroke-width="1.4" stroke-linejoin="round"/>
<path d="M239.4,384.5L240.3,389.7L249.6,394.4L258.2,392.7L263.3,380.9L250.8,374.5Z" fill="rgb(233,233,233)" stroke="#f6f6f6" stroke-width="1.4" stroke-linejoin="round"/>
<path d="M249.6,394.4L240.3,389.7L235.6,395.4L234.8,410.5L239.0,418.7L250.5,409.5Z" fill="rgb(231,231,231)" stroke="#f6f6f6" stroke-width="1.4" stroke-linejoin="round"/>
<path d="M261.6,411.0L259.2,429.0L250.7,433.8L238.9,419.2L239.0,418.7L250.5,409.5Z" fill="rgb(229,229,229)" stroke="#f6f6f6" stroke-width="1.4" stroke-linejoin="round"/>
<path d="M261.3,190.5L260.8,199.1L269.3,205.1L285.4,199.5L284.3,188.3L270.9,185.5Z" fill="rgb(230,230,230)" stroke="#f6f6f6" stroke-width="1.4" stroke-linejoin="round"/>
<path d="M249.0,217.9L253.8,202.2L260.8,199.1L269.3,205.1L269.3,218.8L257.5,222.9Z" fill="rgb(226,226,226)" stroke="#f6f6f6" stroke-width="1.4" stroke-linejoin="round"/>
<path d="M257.5,222.9L269.3,218.8L279.5,227.3L279.9,229.4L273.0,238.2L256.4,239.4Z" fill="rgb(228,228,228)" stroke="#f6f6f6" stroke-width="1.4" stroke-linejoin="round"/>
<path d="M256.4,239.4L273.0,238.2L275.6,251.1L258.3,250.1L254.2,241.4Z" fill="rgb(224,224,224)" stroke="#f6f6f6" stroke-width="1.4" stroke-linejoin="round"/>
<path d="M275.7,263.1L258.8,263.6L258.3,250.1L275.6,251.1L277.8,254.9Z" fill="rgb(226,226,226)" stroke="#f6f6f6" stroke-width="1.4" stroke-linejoin="round"/>
<path d="M276.4,264.3L273.0,280.4L255.5,281.8L254.3,281.0L252.0,269.2L258.8,263.6L275.7,263.1Z" fill="rgb(226,226,226)" stroke="#f6f6f6" stroke-width="1.4" stroke-linejoin="round"/>
<path d="M275.4,298.9L279.6,296.6L279.4,287.7L273.0,280.4L255.5,281.8L260.5,293.9Z" fill="rgb(225,225,225)" stroke="#f6f6f6" stroke-width="1.4" stroke-linejoin="round"/>
<path d="M262.5,314.6L250.5,310.0L260.5,293.9L275.4,298.9L268.5,312.5Z" fill="rgb(228,228,228)" stroke="#f6f6f6" stroke-width="1.4" stroke-linejoin="round"/>
<path d="M273.3,332.8L262.7,324.7L262.5,314.6L268.5,312.5L278.0,319.2L282.1,330.7L281.9,331.2Z" fill="rgb(224,224,224)" stroke="#f6f6f6" stroke-width="1.4" stroke-linejoin="round"/>
<path d="M273.3,332.8L262.7,324.7L252.7,335.7L255.0,342.7L261.9,345.0Z" fill="rgb(224,224,224)" stroke="#f6f6f6" stroke-width="1.4" stroke-linejoin="round"/>
<path d="M285.9,346.5L264.8,348.7L266.7,361.2L267.2,361.7L287.1,358.2Z" fill="rgb(227,227,227)" stroke="#f6f6f6" stroke-width="1.4" stroke-linejoin="round"/>
<path d="M266.7,361.2L250.8,365.4L250.8,374.5L263.3,380.9L270.9,377.8L267.2,361.7Z" fill="rgb(233,233,233)" stroke="#f6f6f6" stroke-width="1.4" stroke-linejoin="round"/>
<path d="M271.7,404.9L258.2,392.7L263.3,380.9L270.9,377.8L278.8,381.1L280.0,387.6Z" fill="rgb(231,231,231)" stroke="#f6f6f6" stroke-width="1.4" stroke-linejoin="round"/>
<path d="M271.7,404.9L258.2,392.7L249.6,394.4L250.5,409.5L261.6,411.0L271.7,405.3Z" fill="rgb(228,228,228)" stroke="#f6f6f6" stroke-width="1.4" stroke-linejoin="round"/>
<path d="M271.7,405.3L261.6,411.0L259.2,429.0L275.4,428.8L281.4,422.5L281.0,413.9Z" fill="rgb(225,225,225)" stroke="#f6f6f6" stroke-width="1.4" stroke-linejoin="round"/>
<path d="M305.7,187.8L291.1,176.0L284.3,188.3L285.4,199.5L286.6,200.5L302.5,200.4Z" fill="rgb(225,225,225)" stroke="#f6f6f6" stroke-width="1.4" stroke-linejoin="round"/>
<path d="M285.4,199.5L286.6,200.5L288.9,216.9L279.5,227.3L269.3,218.8L269.3,205.1Z" fill="rgb(228,228,228)" stroke="#f6f6f6" stroke-width="1.4" stroke-linejoin="round"/>
<path d="M307.5,219.7L288.9,216.9L279.5,227.3L279.9,229.4L288.5,234.7L304.0,234.8Z" fill="rgb(230,230,230)" stroke="#f6f6f6" stroke-width="1.4" stroke-linejoin="round"/>
<path d="M277.8,254.9L275.6,251.1L273.0,238.2L279.9,229.4L288.5,234.7L288.6,250.9Z" fill="rgb(232,232,232)" stroke="#f6f6f6" stroke-width="1.4" stroke-linejoin="round"/>
<path d="M289.5,269.7L276.4,264.3L275.7,263.1L277.8,254.9L288.6,250.9L297.8,254.0L301.1,265.1Z" fill="rgb(228,228,228)" stroke="#f6f6f6" stroke-width="1.4" stroke-linejoin="round"/>
<path d="M289.5,269.7L276.4,264.3L273.0,280.4L279.4,287.7L288.6,280.7Z" fill="rgb(232,232,232)" stroke="#f6f6f6" stroke-width="1.4" stroke-linejoin="round"/>
<path d="M288.6,280.7L279.4,287.7L279.6,296.6L287.7,300.6L303.9,293.3L304.3,287.6Z" fill="rgb(232,232,232)" stroke="#f6f6f6" stroke-width="1.4" stroke-linejoin="round"/>
<path d="M268.5,312.5L275.4,298.9L279.6,296.6L287.7,300.6L289.7,308.8L278.0,319.2Z" fill="rgb(232,232,232)" stroke="#f6f6f6" stroke-width="1.4" stroke-linejoin="round"/>
<path d="M282.1,330.7L301.0,321.4L301.1,321.0L289.7,308.8L278.0,319.2Z" fill="rgb(227,227,227)" stroke="#f6f6f6" stroke-width="1.4" stroke-linejoin="round"/>
<path d="M285.9,346.5L286.6,344.8L281.9,331.2L273.3,332.8L261.9,345.0L264.8,348.7Z" fill="rgb(228,228,228)" stroke="#f6f6f6" stroke-width="1.4" stroke-linejoin="round"/>
<path d="M285.9,346.5L286.6,344.8L306.4,341.2L308.2,344.4L305.6,360.9L291.8,364.3L287.1,358.2Z" fill="rgb(225,225,225)" stroke="#f6f6f6" stroke-width="1.4" stroke-linejoin="round"/>
<path d="M287.1,358.2L291.8,364.3L289.7,372.7L278.8,381.1L270.9,377.8L267.2,361.7Z" fill="rgb(229,229,229)" stroke="#f6f6f6" stroke-width="1.4" stroke-linejoin="round"/>
<path d="M280.0,387.6L278.8,381.1L289.7,372.7L303.0,384.1L302.4,388.7L293.5,394.9Z" fill="rgb(224,224,224)" stroke="#f6f6f6" stroke-width="1.4" stroke-linejoin="round"/>
<path d="M271.7,404.9L280.0,387.6L293.5,394.9L293.4,406.8L281.0,413.9L271.7,405.3Z" fill="rgb(228,228,228)" stroke="#f6f6f6" stroke-width="1.4" stroke-linejoin="round"/>
<path d="M288.1,426.2L281.4,422.5L281.0,413.9L293.4,406.8L307.1,410.7L297.6,427.3Z" fill="rgb(225,225,225)" stroke="#f6f6f6" stroke-width="1.4" stroke-linejoin="round"/>
<path d="M317.0,183.8L319.5,200.6L307.5,205.5L302.5,200.4L305.7,187.8Z" fill="rgb(228,228,228)" stroke="#f6f6f6" stroke-width="1.4" stroke-linejoin="round"/>
<path d="M307.7,219.4L307.5,205.5L302.5,200.4L286.6,200.5L288.9,216.9L307.5,219.7Z" fill="rgb(225,225,225)" stroke="#f6f6f6" stroke-width="1.4" stroke-linejoin="round"/>
<path d="M307.7,219.4L323.7,220.6L323.1,239.4L306.0,238.1L304.0,234.8L307.5,219.7Z" fill="rgb(224,224,224)" stroke="#f6f6f6" stroke-width="1.4" stroke-linejoin="round"/>
<path d="M288.6,250.9L288.5,234.7L304.0,234.8L306.0,238.1L305.2,243.6L297.8,254.0Z" fill="rgb(228,228,228)" stroke="#f6f6f6" stroke-width="1.4" stroke-linejoin="round"/>
<path d="M306.9,268.3L301.1,265.1L297.8,254.0L305.2,243.6L317.7,256.4L312.4,265.8Z" fill="rgb(228,228,228)" stroke="#f6f6f6" stroke-width="1.4" stroke-linejoin="round"/>
<path d="M307.4,282.5L304.3,287.6L288.6,280.7L289.5,269.7L301.1,265.1L306.9,268.3Z" fill="rgb(229,229,229)" stroke="#f6f6f6" stroke-width="1.4" stroke-linejoin="round"/>
<path d="M319.9,283.7L321.7,298.5L311.6,302.0L303.9,293.3L304.3,287.6L307.4,282.5Z" fill="rgb(225,225,225)" stroke="#f6f6f6" stroke-width="1.4" stroke-linejoin="round"/>
<path d="M311.6,302.0L303.9,293.3L287.7,300.6L289.7,308.8L301.1,321.0L311.0,312.4Z" fill="rgb(228,228,228)" stroke="#f6f6f6" stroke-width="1.4" stroke-linejoin="round"/>
<path d="M311.0,312.4L301.1,321.0L301.0,321.4L307.6,334.9L327.9,329.2L324.3,318.4Z" fill="rgb(226,226,226)" stroke="#f6f6f6" stroke-width="1.4" stroke-linejoin="round"/>
<path d="M281.9,331.2L282.1,330.7L301.0,321.4L307.6,334.9L306.4,341.2L286.6,344.8Z" fill="rgb(224,224,224)" stroke="#f6f6f6" stroke-width="1.4" stroke-linejoin="round"/>
<path d="M308.9,363.1L305.6,360.9L308.2,344.4L323.8,348.1L318.0,360.6Z" fill="rgb(228,228,228)" stroke="#f6f6f6" stroke-width="1.4" stroke-linejoin="round"/>
<path d="M313.9,377.2L303.0,384.1L289.7,372.7L291.8,364.3L305.6,360.9L308.9,363.1Z" fill="rgb(230,230,230)" stroke="#f6f6f6" stroke-width="1.4" stroke-linejoin="round"/>
<path d="M313.9,377.2L303.0,384.1L302.4,388.7L308.1,394.9L320.2,392.9L319.3,379.0Z" fill="rgb(227,227,227)" stroke="#f6f6f6" stroke-width="1.4" stroke-linejoin="round"/>
<path d="M293.4,406.8L307.1,410.7L307.9,410.6L308.1,394.9L302.4,388.7L293.5,394.9Z" fill="rgb(231,231,231)" stroke="#f6f6f6" stroke-width="1.4" stroke-linejoin="round"/>
<path d="M317.0,183.8L317.5,183.3L334.5,184.9L336.1,187.6L336.4,195.2L326.3,203.0L319.5,200.6Z" fill="rgb(231,231,231)" stroke="#f6f6f6" stroke-width="1.4" stroke-linejoin="round"/>
<path d="M307.7,219.4L307.5,205.5L319.5,200.6L326.3,203.0L328.5,218.1L323.7,220.6Z" fill="rgb(224,224,224)" stroke="#f6f6f6" stroke-width="1.4" stroke-linejoin="round"/>
<path d="M323.7,220.6L328.5,218.1L340.2,220.9L341.1,229.5L326.4,242.3L323.1,239.4Z" fill="rgb(226,226,226)" stroke="#f6f6f6" stroke-width="1.4" stroke-linejoin="round"/>
<path d="M317.7,256.4L328.7,250.2L326.4,242.3L323.1,239.4L306.0,238.1L305.2,243.6Z" fill="rgb(226,226,226)" stroke="#f6f6f6" stroke-width="1.4" stroke-linejoin="round"/>
<path d="M326.4,271.9L336.6,254.8L328.7,250.2L317.7,256.4L312.4,265.8Z" fill="rgb(229,229,229)" stroke="#f6f6f6" stroke-width="1.4" stroke-linejoin="round"/>
<path d="M326.4,271.9L312.4,265.8L306.9,268.3L307.4,282.5L319.9,283.7L329.7,279.5Z" fill="rgb(228,228,228)" stroke="#f6f6f6" stroke-width="1.4" stroke-linejoin="round"/>
<path d="M329.7,279.5L339.3,284.8L339.2,292.1L331.7,298.8L321.7,298.5L319.9,283.7Z" fill="rgb(229,229,229)" stroke="#f6f6f6" stroke-width="1.4" stroke-linejoin="round"/>
<path d="M311.6,302.0L321.7,298.5L331.7,298.8L331.6,310.3L324.3,318.4L311.0,312.4Z" fill="rgb(224,224,224)" stroke="#f6f6f6" stroke-width="1.4" stroke-linejoin="round"/>
<path d="M324.3,318.4L327.9,329.2L334.4,334.1L344.7,329.1L345.4,328.4L344.8,316.1L331.6,310.3Z" fill="rgb(226,226,226)" stroke="#f6f6f6" stroke-width="1.4" stroke-linejoin="round"/>
<path d="M323.8,348.1L332.8,345.8L334.4,334.1L327.9,329.2L307.6,334.9L306.4,341.2L308.2,344.4Z" fill="rgb(225,225,225)" stroke="#f6f6f6" stroke-width="1.4" stroke-linejoin="round"/>
<path d="M336.3,351.3L332.8,345.8L323.8,348.1L318.0,360.6L329.4,366.1L337.4,358.0Z" fill="rgb(231,231,231)" stroke="#f6f6f6" stroke-width="1.4" stroke-linejoin="round"/>
<path d="M313.9,377.2L308.9,363.1L318.0,360.6L329.4,366.1L327.2,376.2L319.3,379.0Z" fill="rgb(230,230,230)" stroke="#f6f6f6" stroke-width="1.4" stroke-linejoin="round"/>
<path d="M319.3,379.0L320.2,392.9L328.2,401.6L332.1,401.4L337.4,394.2L336.6,382.1L327.2,376.2Z" fill="rgb(227,227,227)" stroke="#f6f6f6" stroke-width="1.4" stroke-linejoin="round"/>
<path d="M314.8,412.8L307.9,410.6L308.1,394.9L320.2,392.9L328.2,401.6Z" fill="rgb(232,232,232)" stroke="#f6f6f6" stroke-width="1.4" stroke-linejoin="round"/>
<path d="M341.8,415.0L332.1,401.4L328.2,401.6L314.8,412.8L319.0,423.8L333.9,426.8L341.9,416.8Z" fill="rgb(225,225,225)" stroke="#f6f6f6" stroke-width="1.4" stroke-linejoin="round"/>
<path d="M347.3,204.2L359.1,200.2L358.0,190.6L351.6,185.7L336.1,187.6L336.4,195.2Z" fill="rgb(224,224,224)" stroke="#f6f6f6" stroke-width="1.4" stroke-linejoin="round"/>
<path d="M340.2,220.9L328.5,218.1L326.3,203.0L336.4,195.2L347.3,204.2L342.6,219.0Z" fill="rgb(227,227,227)" stroke="#f6f6f6" stroke-width="1.4" stroke-linejoin="round"/>
<path d="M340.2,220.9L341.1,229.5L352.5,243.5L363.7,233.4L356.1,221.5L342.6,219.0Z" fill="rgb(230,230,230)" stroke="#f6f6f6" stroke-width="1.4" stroke-linejoin="round"/>
<path d="M351.7,248.0L352.5,243.5L341.1,229.5L326.4,242.3L328.7,250.2L336.6,254.8L341.8,255.4Z" fill="rgb(233,233,233)" stroke="#f6f6f6" stroke-width="1.4" stroke-linejoin="round"/>
<path d="M357.9,252.1L366.3,265.8L352.4,276.6L348.2,276.5L341.8,255.4L351.7,248.0Z" fill="rgb(229,229,229)" stroke="#f6f6f6" stroke-width="1.4" stroke-linejoin="round"/>
<path d="M326.4,271.9L336.6,254.8L341.8,255.4L348.2,276.5L339.3,284.8L329.7,279.5Z" fill="rgb(225,225,225)" stroke="#f6f6f6" stroke-width="1.4" stroke-linejoin="round"/>
<path d="M348.2,276.5L339.3,284.8L339.2,292.1L351.8,302.7L362.7,299.3L363.7,297.4L364.0,287.0L352.4,276.6Z" fill="rgb(229,229,229)" stroke="#f6f6f6" stroke-width="1.4" stroke-linejoin="round"/>
<path d="M331.6,310.3L344.8,316.1L351.1,306.5L351.8,302.7L339.2,292.1L331.7,298.8Z" fill="rgb(224,224,224)" stroke="#f6f6f6" stroke-width="1.4" stroke-linejoin="round"/>
<path d="M351.1,306.5L362.9,320.1L362.8,328.1L345.4,328.4L344.8,316.1Z" fill="rgb(232,232,232)" stroke="#f6f6f6" stroke-width="1.4" stroke-linejoin="round"/>
<path d="M336.3,351.3L332.8,345.8L334.4,334.1L344.7,329.1L354.4,347.2Z" fill="rgb(227,227,227)" stroke="#f6f6f6" stroke-width="1.4" stroke-linejoin="round"/>
<path d="M361.9,355.7L350.7,367.3L337.4,358.0L336.3,351.3L354.4,347.2L362.3,350.0Z" fill="rgb(225,225,225)" stroke="#f6f6f6" stroke-width="1.4" stroke-linejoin="round"/>
<path d="M337.4,358.0L329.4,366.1L327.2,376.2L336.6,382.1L351.5,373.3L350.7,367.3Z" fill="rgb(225,225,225)" stroke="#f6f6f6" stroke-width="1.4" stroke-linejoin="round"/>
<path d="M357.1,378.6L351.5,373.3L336.6,382.1L337.4,394.2L351.5,394.4L358.3,387.9Z" fill="rgb(232,232,232)" stroke="#f6f6f6" stroke-width="1.4" stroke-linejoin="round"/>
<path d="M354.0,406.2L341.8,415.0L332.1,401.4L337.4,394.2L351.5,394.4Z" fill="rgb(233,233,233)" stroke="#f6f6f6" stroke-width="1.4" stroke-linejoin="round"/>
<path d="M365.4,409.0L365.7,424.9L356.4,425.5L341.9,416.8L341.8,415.0L354.0,406.2Z" fill="rgb(225,225,225)" stroke="#f6f6f6" stroke-width="1.4" stroke-linejoin="round"/>
<path d="M383.4,192.2L363.7,202.8L359.1,200.2L358.0,190.6L368.2,178.3L383.7,191.4Z" fill="rgb(233,233,233)" stroke="#f6f6f6" stroke-width="1.4" stroke-linejoin="round"/>
<path d="M342.6,219.0L356.1,221.5L366.0,209.8L363.7,202.8L359.1,200.2L347.3,204.2Z" fill="rgb(232,232,232)" stroke="#f6f6f6" stroke-width="1.4" stroke-linejoin="round"/>
<path d="M376.4,228.8L370.8,232.6L363.7,233.4L356.1,221.5L366.0,209.8L378.3,220.3Z" fill="rgb(227,227,227)" stroke="#f6f6f6" stroke-width="1.4" stroke-linejoin="round"/>
<path d="M357.9,252.1L373.8,248.8L370.8,232.6L363.7,233.4L352.5,243.5L351.7,248.0Z" fill="rgb(224,224,224)" stroke="#f6f6f6" stroke-width="1.4" stroke-linejoin="round"/>
<path d="M357.9,252.1L373.8,248.8L382.0,255.6L380.0,262.5L370.2,266.3L366.3,265.8Z" fill="rgb(225,225,225)" stroke="#f6f6f6" stroke-width="1.4" stroke-linejoin="round"/>
<path d="M366.3,265.8L370.2,266.3L372.5,282.3L364.0,287.0L352.4,276.6Z" fill="rgb(228,228,228)" stroke="#f6f6f6" stroke-width="1.4" stroke-linejoin="round"/>
<path d="M377.0,283.6L382.3,295.1L363.7,297.4L364.0,287.0L372.5,282.3Z" fill="rgb(226,226,226)" stroke="#f6f6f6" stroke-width="1.4" stroke-linejoin="round"/>
<path d="M351.8,302.7L362.7,299.3L369.6,308.9L362.9,320.1L351.1,306.5Z" fill="rgb(225,225,225)" stroke="#f6f6f6" stroke-width="1.4" stroke-linejoin="round"/>
<path d="M367.4,331.6L362.8,328.1L362.9,320.1L369.6,308.9L384.0,312.1L382.3,324.5Z" fill="rgb(226,226,226)" stroke="#f6f6f6" stroke-width="1.4" stroke-linejoin="round"/>
<path d="M362.3,350.0L354.4,347.2L344.7,329.1L345.4,328.4L362.8,328.1L367.4,331.6L368.2,343.1Z" fill="rgb(232,232,232)" stroke="#f6f6f6" stroke-width="1.4" stroke-linejoin="round"/>
<path d="M373.4,365.1L361.9,355.7L362.3,350.0L368.2,343.1L377.5,346.6L386.3,363.5Z" fill="rgb(224,224,224)" stroke="#f6f6f6" stroke-width="1.4" stroke-linejoin="round"/>
<path d="M373.4,365.1L368.2,375.2L357.1,378.6L351.5,373.3L350.7,367.3L361.9,355.7Z" fill="rgb(233,233,233)" stroke="#f6f6f6" stroke-width="1.4" stroke-linejoin="round"/>
<path d="M378.9,383.6L368.2,375.2L357.1,378.6L358.3,387.9L370.3,395.3L378.2,392.2Z" fill="rgb(228,228,228)" stroke="#f6f6f6" stroke-width="1.4" stroke-linejoin="round"/>
<path d="M370.3,395.3L366.9,407.4L365.4,409.0L354.0,406.2L351.5,394.4L358.3,387.9Z" fill="rgb(231,231,231)" stroke="#f6f6f6" stroke-width="1.4" stroke-linejoin="round"/>
<path d="M365.4,409.0L365.7,424.9L367.7,426.6L383.7,422.0L385.3,411.4L366.9,407.4Z" fill="rgb(229,229,229)" stroke="#f6f6f6" stroke-width="1.4" stroke-linejoin="round"/>
<path d="M390.8,211.9L383.4,192.2L363.7,202.8L366.0,209.8L378.3,220.3Z" fill="rgb(233,233,233)" stroke="#f6f6f6" stroke-width="1.4" stroke-linejoin="round"/>
<path d="M394.8,212.9L390.8,211.9L378.3,220.3L376.4,228.8L389.6,238.6L402.8,232.7L396.9,214.4Z" fill="rgb(225,225,225)" stroke="#f6f6f6" stroke-width="1.4" stroke-linejoin="round"/>
<path d="M382.0,255.6L373.8,248.8L370.8,232.6L376.4,228.8L389.6,238.6L388.2,250.7Z" fill="rgb(226,226,226)" stroke="#f6f6f6" stroke-width="1.4" stroke-linejoin="round"/>
<path d="M380.0,262.5L386.9,270.4L404.5,268.5L402.8,255.9L388.2,250.7L382.0,255.6Z" fill="rgb(229,229,229)" stroke="#f6f6f6" stroke-width="1.4" stroke-linejoin="round"/>
<path d="M377.0,283.6L386.2,276.4L386.9,270.4L380.0,262.5L370.2,266.3L372.5,282.3Z" fill="rgb(229,229,229)" stroke="#f6f6f6" stroke-width="1.4" stroke-linejoin="round"/>
<path d="M377.0,283.6L386.2,276.4L396.7,290.6L389.7,299.6L382.3,295.1Z" fill="rgb(227,227,227)" stroke="#f6f6f6" stroke-width="1.4" stroke-linejoin="round"/>
<path d="M382.3,295.1L389.7,299.6L389.9,305.7L384.0,312.1L369.6,308.9L362.7,299.3L363.7,297.4Z" fill="rgb(227,227,227)" stroke="#f6f6f6" stroke-width="1.4" stroke-linejoin="round"/>
<path d="M385.4,327.1L398.9,327.4L404.6,313.2L389.9,305.7L384.0,312.1L382.3,324.5Z" fill="rgb(224,224,224)" stroke="#f6f6f6" stroke-width="1.4" stroke-linejoin="round"/>
<path d="M377.5,346.6L388.9,340.6L385.4,327.1L382.3,324.5L367.4,331.6L368.2,343.1Z" fill="rgb(229,229,229)" stroke="#f6f6f6" stroke-width="1.4" stroke-linejoin="round"/>
<path d="M386.3,363.5L387.3,363.9L398.9,352.7L400.7,346.7L388.9,340.6L377.5,346.6Z" fill="rgb(232,232,232)" stroke="#f6f6f6" stroke-width="1.4" stroke-linejoin="round"/>
<path d="M373.4,365.1L368.2,375.2L378.9,383.6L390.0,371.5L387.3,363.9L386.3,363.5Z" fill="rgb(232,232,232)" stroke="#f6f6f6" stroke-width="1.4" stroke-linejoin="round"/>
<path d="M378.9,383.6L390.0,371.5L399.7,377.9L397.9,388.8L386.8,397.1L378.2,392.2Z" fill="rgb(228,228,228)" stroke="#f6f6f6" stroke-width="1.4" stroke-linejoin="round"/>
<path d="M378.2,392.2L386.8,397.1L389.4,405.8L385.3,411.4L366.9,407.4L370.3,395.3Z" fill="rgb(233,233,233)" stroke="#f6f6f6" stroke-width="1.4" stroke-linejoin="round"/>
<path d="M397.8,408.2L389.4,405.8L385.3,411.4L383.7,422.0L393.8,430.0L399.8,423.5Z" fill="rgb(233,233,233)" stroke="#f6f6f6" stroke-width="1.4" stroke-linejoin="round"/>
<path d="M396.7,290.6L399.9,289.3L409.4,273.3L404.5,268.5L386.9,270.4L386.2,276.4Z" fill="rgb(227,227,227)" stroke="#f6f6f6" stroke-width="1.4" stroke-linejoin="round"/>
<path d="M400.7,346.7L388.9,340.6L385.4,327.1L398.9,327.4L408.5,340.7L408.5,341.0Z" fill="rgb(225,225,225)" stroke="#f6f6f6" stroke-width="1.4" stroke-linejoin="round"/>
<line x1="187.9" y1="219.0" x2="186.2" y2="208.6" stroke="rgb(59, 114, 177)" stroke-width="2.5"/>
<line x1="189.3" y1="226.8" x2="190.9" y2="216.4" stroke="rgb(58, 112, 176)" stroke-width="2.5"/>
<line x1="182.4" y1="245.4" x2="188.0" y2="236.6" stroke="rgb(155, 195, 225)" stroke-width="2.5"/>
<ellipse cx="185.2" cy="241.0" rx="2.2" ry="1.6" fill="#b0b0e0" opacity="0.6" transform="rotate(-58 185.2 241.0)"/>
<line x1="189.8" y1="264.7" x2="188.8" y2="254.2" stroke="rgb(50, 103, 169)" stroke-width="2.5"/>
<line x1="187.7" y1="288.6" x2="189.8" y2="278.3" stroke="rgb(66, 122, 183)" stroke-width="2.5"/>
<line x1="194.4" y1="306.2" x2="193.0" y2="295.8" stroke="rgb(56, 109, 174)" stroke-width="2.5"/>
<line x1="185.8" y1="322.3" x2="196.3" y2="321.9" stroke="rgb(153, 31, 61)" stroke-width="2.5"/>
<line x1="187.0" y1="346.1" x2="194.9" y2="339.3" stroke="rgb(237, 201, 192)" stroke-width="2.5"/>
<ellipse cx="190.9" cy="342.7" rx="2.2" ry="1.6" fill="#b0b0e0" opacity="0.6" transform="rotate(-41 190.9 342.7)"/>
<line x1="190.9" y1="364.9" x2="190.2" y2="354.5" stroke="rgb(46, 98, 165)" stroke-width="2.5"/>
<line x1="200.7" y1="223.5" x2="208.9" y2="216.9" stroke="rgb(238, 189, 174)" stroke-width="2.5"/>
<ellipse cx="204.8" cy="220.2" rx="2.2" ry="1.6" fill="#b0b0e0" opacity="0.6" transform="rotate(-39 204.8 220.2)"/>
<line x1="197.0" y1="234.6" x2="196.0" y2="224.2" stroke="rgb(49, 101, 167)" stroke-width="2.5"/>
<line x1="211.1" y1="239.9" x2="221.6" y2="240.1" stroke="rgb(151, 30, 60)" stroke-width="2.5"/>
<line x1="194.8" y1="254.8" x2="205.3" y2="254.5" stroke="rgb(152, 31, 61)" stroke-width="2.5"/>
<line x1="204.4" y1="261.1" x2="214.7" y2="259.0" stroke="rgb(165, 39, 66)" stroke-width="2.5"/>
<line x1="192.6" y1="272.5" x2="202.6" y2="269.3" stroke="rgb(183, 59, 76)" stroke-width="2.5"/>
<line x1="204.1" y1="285.1" x2="210.5" y2="276.8" stroke="rgb(185, 210, 231)" stroke-width="2.5"/>
<ellipse cx="207.3" cy="281.0" rx="2.2" ry="1.6" fill="#b0b0e0" opacity="0.6" transform="rotate(-53 207.3 281.0)"/>
<line x1="194.0" y1="288.5" x2="204.5" y2="287.5" stroke="rgb(156, 34, 62)" stroke-width="2.5"/>
<line x1="210.5" y1="306.6" x2="219.3" y2="300.9" stroke="rgb(234, 149, 125)" stroke-width="2.5"/>
<ellipse cx="214.9" cy="303.7" rx="2.2" ry="1.6" fill="#b0b0e0" opacity="0.6" transform="rotate(-33 214.9 303.7)"/>
<line x1="196.1" y1="308.7" x2="206.3" y2="306.3" stroke="rgb(167, 40, 66)" stroke-width="2.5"/>
<line x1="210.1" y1="319.2" x2="220.6" y2="318.8" stroke="rgb(152, 31, 61)" stroke-width="2.5"/>
<line x1="194.5" y1="331.0" x2="203.1" y2="325.0" stroke="rgb(239, 164, 134)" stroke-width="2.5"/>
<ellipse cx="198.8" cy="328.0" rx="2.2" ry="1.6" fill="#b0b0e0" opacity="0.6" transform="rotate(-35 198.8 328.0)"/>
<line x1="210.4" y1="341.4" x2="220.8" y2="340.0" stroke="rgb(160, 36, 64)" stroke-width="2.5"/>
<line x1="199.2" y1="353.2" x2="196.3" y2="343.1" stroke="rgb(80, 138, 196)" stroke-width="2.5"/>
<line x1="203.6" y1="358.2" x2="214.1" y2="357.7" stroke="rgb(153, 32, 61)" stroke-width="2.5"/>
<line x1="198.2" y1="374.3" x2="207.2" y2="368.8" stroke="rgb(231, 142, 121)" stroke-width="2.5"/>
<ellipse cx="202.7" cy="371.5" rx="2.2" ry="1.6" fill="#b0b0e0" opacity="0.6" transform="rotate(-32 202.7 371.5)"/>
<line x1="201.6" y1="385.3" x2="206.1" y2="375.8" stroke="rgb(117, 169, 213)" stroke-width="2.5"/>
<ellipse cx="203.8" cy="380.5" rx="2.2" ry="1.6" fill="#b0b0e0" opacity="0.6" transform="rotate(-65 203.8 380.5)"/>
<line x1="201.3" y1="389.6" x2="208.8" y2="382.2" stroke="rgb(235, 227, 234)" stroke-width="2.5"/>
<ellipse cx="205.0" cy="385.9" rx="2.2" ry="1.6" fill="#b0b0e0" opacity="0.6" transform="rotate(-45 205.0 385.9)"/>
<line x1="210.5" y1="212.9" x2="220.9" y2="211.6" stroke="rgb(159, 35, 63)" stroke-width="2.5"/>
<line x1="218.5" y1="223.0" x2="228.8" y2="221.1" stroke="rgb(163, 38, 65)" stroke-width="2.5"/>
<line x1="208.2" y1="238.3" x2="217.7" y2="233.8" stroke="rgb(215, 100, 95)" stroke-width="2.5"/>
<ellipse cx="213.0" cy="236.0" rx="2.2" ry="1.6" fill="#b0b0e0" opacity="0.6" transform="rotate(-25 213.0 236.0)"/>
<line x1="218.9" y1="242.1" x2="229.2" y2="240.4" stroke="rgb(162, 37, 64)" stroke-width="2.5"/>
<line x1="211.5" y1="252.3" x2="222.0" y2="251.3" stroke="rgb(157, 34, 62)" stroke-width="2.5"/>
<line x1="221.6" y1="265.3" x2="231.9" y2="263.4" stroke="rgb(163, 38, 65)" stroke-width="2.5"/>
<line x1="211.0" y1="278.0" x2="219.4" y2="271.7" stroke="rgb(239, 175, 152)" stroke-width="2.5"/>
<ellipse cx="215.2" cy="274.8" rx="2.2" ry="1.6" fill="#b0b0e0" opacity="0.6" transform="rotate(-37 215.2 274.8)"/>
<line x1="226.7" y1="289.6" x2="228.2" y2="279.2" stroke="rgb(57, 112, 175)" stroke-width="2.5"/>
<line x1="212.0" y1="288.7" x2="222.4" y2="287.3" stroke="rgb(160, 36, 64)" stroke-width="2.5"/>
<line x1="230.7" y1="302.8" x2="236.0" y2="293.7" stroke="rgb(143, 186, 221)" stroke-width="2.5"/>
<ellipse cx="233.3" cy="298.2" rx="2.2" ry="1.6" fill="#b0b0e0" opacity="0.6" transform="rotate(-60 233.3 298.2)"/>
<line x1="218.3" y1="315.8" x2="226.9" y2="309.8" stroke="rgb(239, 163, 134)" stroke-width="2.5"/>
<ellipse cx="222.6" cy="312.8" rx="2.2" ry="1.6" fill="#b0b0e0" opacity="0.6" transform="rotate(-35 222.6 312.8)"/>
<line x1="220.1" y1="320.1" x2="230.2" y2="317.3" stroke="rgb(172, 45, 69)" stroke-width="2.5"/>
<line x1="219.8" y1="337.4" x2="220.7" y2="326.9" stroke="rgb(48, 101, 167)" stroke-width="2.5"/>
<line x1="228.4" y1="339.7" x2="238.9" y2="338.8" stroke="rgb(156, 33, 62)" stroke-width="2.5"/>
<line x1="217.1" y1="355.3" x2="223.5" y2="346.9" stroke="rgb(185, 210, 231)" stroke-width="2.5"/>
<ellipse cx="220.3" cy="351.1" rx="2.2" ry="1.6" fill="#b0b0e0" opacity="0.6" transform="rotate(-53 220.3 351.1)"/>
<line x1="219.3" y1="363.1" x2="229.4" y2="360.3" stroke="rgb(173, 46, 70)" stroke-width="2.5"/>
<line x1="219.1" y1="367.5" x2="229.4" y2="365.7" stroke="rgb(163, 37, 65)" stroke-width="2.5"/>
<line x1="225.4" y1="380.2" x2="235.8" y2="379.2" stroke="rgb(157, 34, 62)" stroke-width="2.5"/>
<line x1="216.5" y1="386.9" x2="226.2" y2="383.0" stroke="rgb(202, 83, 87)" stroke-width="2.5"/>
<line x1="218.1" y1="397.3" x2="228.1" y2="394.1" stroke="rgb(181, 57, 75)" stroke-width="2.5"/>
<line x1="239.2" y1="215.2" x2="249.6" y2="213.7" stroke="rgb(161, 36, 64)" stroke-width="2.5"/>
<line x1="249.1" y1="226.9" x2="259.4" y2="224.9" stroke="rgb(165, 39, 66)" stroke-width="2.5"/>
<line x1="227.8" y1="234.8" x2="237.9" y2="231.9" stroke="rgb(173, 47, 70)" stroke-width="2.5"/>
<line x1="242.7" y1="245.4" x2="252.8" y2="242.7" stroke="rgb(169, 41, 67)" stroke-width="2.5"/>
<line x1="227.2" y1="254.1" x2="237.5" y2="252.1" stroke="rgb(164, 38, 65)" stroke-width="2.5"/>
<line x1="244.3" y1="262.4" x2="254.4" y2="259.4" stroke="rgb(177, 51, 72)" stroke-width="2.5"/>
<line x1="232.0" y1="277.8" x2="234.8" y2="267.6" stroke="rgb(77, 134, 193)" stroke-width="2.5"/>
<line x1="236.9" y1="281.8" x2="246.8" y2="278.3" stroke="rgb(189, 67, 79)" stroke-width="2.5"/>
<line x1="227.0" y1="290.7" x2="237.2" y2="288.4" stroke="rgb(166, 40, 66)" stroke-width="2.5"/>
<line x1="242.1" y1="306.0" x2="247.0" y2="296.7" stroke="rgb(130, 178, 217)" stroke-width="2.5"/>
<ellipse cx="244.6" cy="301.4" rx="2.2" ry="1.6" fill="#b0b0e0" opacity="0.6" transform="rotate(-62 244.6 301.4)"/>
<line x1="235.6" y1="311.7" x2="246.1" y2="311.7" stroke="rgb(150, 30, 60)" stroke-width="2.5"/>
<line x1="241.5" y1="322.2" x2="251.9" y2="321.2" stroke="rgb(157, 34, 62)" stroke-width="2.5"/>
<line x1="235.7" y1="332.0" x2="245.3" y2="327.8" stroke="rgb(209, 92, 91)" stroke-width="2.5"/>
<line x1="249.3" y1="347.3" x2="253.9" y2="337.8" stroke="rgb(122, 172, 215)" stroke-width="2.5"/>
<ellipse cx="251.6" cy="342.6" rx="2.2" ry="1.6" fill="#b0b0e0" opacity="0.6" transform="rotate(-64 251.6 342.6)"/>
<line x1="235.5" y1="356.7" x2="240.8" y2="347.7" stroke="rgb(146, 188, 222)" stroke-width="2.5"/>
<ellipse cx="238.1" cy="352.2" rx="2.2" ry="1.6" fill="#b0b0e0" opacity="0.6" transform="rotate(-59 238.1 352.2)"/>
<line x1="244.9" y1="360.5" x2="254.2" y2="355.5" stroke="rgb(223, 122, 109)" stroke-width="2.5"/>
<ellipse cx="249.5" cy="358.0" rx="2.2" ry="1.6" fill="#b0b0e0" opacity="0.6" transform="rotate(-29 249.5 358.0)"/>
<line x1="232.9" y1="370.1" x2="243.3" y2="368.9" stroke="rgb(158, 34, 63)" stroke-width="2.5"/>
<line x1="240.3" y1="382.0" x2="250.6" y2="380.0" stroke="rgb(164, 38, 65)" stroke-width="2.5"/>
<line x1="231.7" y1="389.5" x2="242.1" y2="387.9" stroke="rgb(162, 37, 64)" stroke-width="2.5"/>
<line x1="268.0" y1="224.0" x2="278.4" y2="222.3" stroke="rgb(162, 37, 65)" stroke-width="2.5"/>
<line x1="257.5" y1="234.5" x2="267.6" y2="231.6" stroke="rgb(174, 47, 70)" stroke-width="2.5"/>
<line x1="258.6" y1="247.6" x2="267.6" y2="242.2" stroke="rgb(229, 138, 118)" stroke-width="2.5"/>
<ellipse cx="263.1" cy="244.9" rx="2.2" ry="1.6" fill="#b0b0e0" opacity="0.6" transform="rotate(-31 263.1 244.9)"/>
<line x1="258.7" y1="253.2" x2="266.2" y2="245.8" stroke="rgb(235, 225, 230)" stroke-width="2.5"/>
<ellipse cx="262.5" cy="249.5" rx="2.2" ry="1.6" fill="#b0b0e0" opacity="0.6" transform="rotate(-45 262.5 249.5)"/>
<line x1="265.2" y1="262.9" x2="275.7" y2="261.6" stroke="rgb(159, 35, 63)" stroke-width="2.5"/>
<line x1="247.9" y1="270.8" x2="258.4" y2="269.9" stroke="rgb(156, 33, 62)" stroke-width="2.5"/>
<line x1="264.8" y1="278.8" x2="275.3" y2="279.2" stroke="rgb(152, 31, 61)" stroke-width="2.5"/>
<line x1="253.6" y1="291.5" x2="264.1" y2="290.7" stroke="rgb(156, 33, 62)" stroke-width="2.5"/>
<line x1="262.4" y1="300.2" x2="272.2" y2="296.6" stroke="rgb(194, 73, 82)" stroke-width="2.5"/>
<line x1="262.5" y1="315.7" x2="261.0" y2="305.3" stroke="rgb(57, 111, 175)" stroke-width="2.5"/>
<line x1="264.2" y1="321.5" x2="274.6" y2="320.1" stroke="rgb(160, 36, 64)" stroke-width="2.5"/>
<line x1="249.8" y1="331.1" x2="260.3" y2="331.4" stroke="rgb(151, 30, 60)" stroke-width="2.5"/>
<line x1="263.9" y1="347.2" x2="267.1" y2="337.2" stroke="rgb(83, 142, 199)" stroke-width="2.5"/>
<line x1="252.5" y1="349.9" x2="261.2" y2="344.0" stroke="rgb(237, 159, 131)" stroke-width="2.5"/>
<ellipse cx="256.8" cy="347.0" rx="2.2" ry="1.6" fill="#b0b0e0" opacity="0.6" transform="rotate(-34 256.8 347.0)"/>
<line x1="261.2" y1="358.9" x2="271.6" y2="357.2" stroke="rgb(162, 37, 64)" stroke-width="2.5"/>
<line x1="258.3" y1="368.2" x2="268.5" y2="366.1" stroke="rgb(165, 39, 66)" stroke-width="2.5"/>
<line x1="266.9" y1="376.0" x2="277.2" y2="373.9" stroke="rgb(165, 39, 66)" stroke-width="2.5"/>
<line x1="247.6" y1="388.1" x2="257.5" y2="384.8" stroke="rgb(186, 63, 78)" stroke-width="2.5"/>
<line x1="282.6" y1="226.5" x2="282.3" y2="216.0" stroke="rgb(40, 91, 160)" stroke-width="2.5"/>
<line x1="269.4" y1="237.1" x2="272.7" y2="227.2" stroke="rgb(84, 144, 200)" stroke-width="2.5"/>
<line x1="282.9" y1="243.4" x2="292.8" y2="239.8" stroke="rgb(192, 70, 81)" stroke-width="2.5"/>
<line x1="277.9" y1="257.6" x2="287.0" y2="252.5" stroke="rgb(226, 128, 112)" stroke-width="2.5"/>
<ellipse cx="282.5" cy="255.0" rx="2.2" ry="1.6" fill="#b0b0e0" opacity="0.6" transform="rotate(-29 282.5 255.0)"/>
<line x1="285.8" y1="267.4" x2="293.4" y2="260.1" stroke="rgb(235, 220, 222)" stroke-width="2.5"/>
<ellipse cx="289.6" cy="263.7" rx="2.2" ry="1.6" fill="#b0b0e0" opacity="0.6" transform="rotate(-44 289.6 263.7)"/>
<line x1="268.8" y1="274.2" x2="279.1" y2="272.2" stroke="rgb(165, 39, 66)" stroke-width="2.5"/>
<line x1="274.7" y1="278.5" x2="285.2" y2="277.3" stroke="rgb(158, 35, 63)" stroke-width="2.5"/>
<line x1="265.4" y1="289.5" x2="275.9" y2="289.7" stroke="rgb(151, 30, 60)" stroke-width="2.5"/>
<line x1="283.7" y1="297.7" x2="294.2" y2="297.0" stroke="rgb(155, 33, 62)" stroke-width="2.5"/>
<line x1="269.6" y1="310.8" x2="280.1" y2="311.0" stroke="rgb(151, 31, 60)" stroke-width="2.5"/>
<line x1="285.4" y1="321.8" x2="295.6" y2="319.0" stroke="rgb(172, 44, 69)" stroke-width="2.5"/>
<line x1="268.0" y1="328.3" x2="278.1" y2="325.4" stroke="rgb(173, 46, 69)" stroke-width="2.5"/>
<line x1="280.9" y1="342.6" x2="291.1" y2="340.2" stroke="rgb(167, 40, 66)" stroke-width="2.5"/>
<line x1="276.1" y1="352.1" x2="285.5" y2="347.6" stroke="rgb(216, 104, 97)" stroke-width="2.5"/>
<ellipse cx="280.8" cy="349.9" rx="2.2" ry="1.6" fill="#b0b0e0" opacity="0.6" transform="rotate(-26 280.8 349.9)"/>
<line x1="279.5" y1="360.7" x2="283.8" y2="351.1" stroke="rgb(111, 165, 211)" stroke-width="2.5"/>
<ellipse cx="281.6" cy="355.9" rx="2.2" ry="1.6" fill="#b0b0e0" opacity="0.6" transform="rotate(-66 281.6 355.9)"/>
<line x1="265.2" y1="367.9" x2="275.5" y2="365.9" stroke="rgb(164, 38, 65)" stroke-width="2.5"/>
<line x1="281.3" y1="377.1" x2="291.4" y2="374.5" stroke="rgb(168, 41, 67)" stroke-width="2.5"/>
<line x1="272.9" y1="388.0" x2="283.1" y2="385.2" stroke="rgb(170, 42, 68)" stroke-width="2.5"/>
<line x1="287.8" y1="215.5" x2="297.2" y2="210.8" stroke="rgb(219, 111, 102)" stroke-width="2.5"/>
<ellipse cx="292.5" cy="213.2" rx="2.2" ry="1.6" fill="#b0b0e0" opacity="0.6" transform="rotate(-27 292.5 213.2)"/>
<line x1="302.5" y1="225.6" x2="312.2" y2="221.5" stroke="rgb(206, 89, 89)" stroke-width="2.5"/>
<line x1="291.9" y1="236.3" x2="302.1" y2="233.9" stroke="rgb(167, 40, 67)" stroke-width="2.5"/>
<line x1="297.3" y1="248.1" x2="303.5" y2="239.6" stroke="rgb(177, 207, 230)" stroke-width="2.5"/>
<ellipse cx="300.4" cy="243.8" rx="2.2" ry="1.6" fill="#b0b0e0" opacity="0.6" transform="rotate(-54 300.4 243.8)"/>
<line x1="289.4" y1="255.3" x2="299.9" y2="254.4" stroke="rgb(156, 34, 62)" stroke-width="2.5"/>
<line x1="305.7" y1="262.5" x2="316.0" y2="260.3" stroke="rgb(166, 39, 66)" stroke-width="2.5"/>
<line x1="288.4" y1="275.6" x2="298.6" y2="272.8" stroke="rgb(171, 43, 68)" stroke-width="2.5"/>
<line x1="305.5" y1="283.6" x2="316.0" y2="282.5" stroke="rgb(158, 34, 63)" stroke-width="2.5"/>
<line x1="298.1" y1="298.4" x2="303.5" y2="289.4" stroke="rgb(149, 190, 223)" stroke-width="2.5"/>
<ellipse cx="300.8" cy="293.9" rx="2.2" ry="1.6" fill="#b0b0e0" opacity="0.6" transform="rotate(-59 300.8 293.9)"/>
<line x1="299.6" y1="300.8" x2="309.8" y2="298.4" stroke="rgb(166, 40, 66)" stroke-width="2.5"/>
<line x1="284.3" y1="310.6" x2="294.7" y2="309.0" stroke="rgb(161, 37, 64)" stroke-width="2.5"/>
<line x1="295.9" y1="320.9" x2="306.4" y2="322.0" stroke="rgb(158, 34, 63)" stroke-width="2.5"/>
<line x1="292.7" y1="335.8" x2="301.0" y2="329.4" stroke="rgb(238, 181, 160)" stroke-width="2.5"/>
<ellipse cx="296.9" cy="332.6" rx="2.2" ry="1.6" fill="#b0b0e0" opacity="0.6" transform="rotate(-38 296.9 332.6)"/>
<line x1="302.3" y1="338.8" x2="312.5" y2="336.5" stroke="rgb(167, 40, 66)" stroke-width="2.5"/>
<line x1="288.5" y1="349.6" x2="298.9" y2="348.5" stroke="rgb(158, 35, 63)" stroke-width="2.5"/>
<line x1="303.0" y1="366.4" x2="307.8" y2="357.1" stroke="rgb(129, 177, 217)" stroke-width="2.5"/>
<ellipse cx="305.4" cy="361.7" rx="2.2" ry="1.6" fill="#b0b0e0" opacity="0.6" transform="rotate(-63 305.4 361.7)"/>
<line x1="292.1" y1="368.7" x2="302.2" y2="365.9" stroke="rgb(171, 44, 69)" stroke-width="2.5"/>
<line x1="296.8" y1="379.7" x2="307.1" y2="377.6" stroke="rgb(165, 39, 66)" stroke-width="2.5"/>
<line x1="284.7" y1="388.4" x2="295.1" y2="386.7" stroke="rgb(162, 37, 65)" stroke-width="2.5"/>
<line x1="321.2" y1="227.0" x2="331.6" y2="225.4" stroke="rgb(161, 36, 64)" stroke-width="2.5"/>
<line x1="310.5" y1="234.3" x2="320.9" y2="235.6" stroke="rgb(159, 35, 63)" stroke-width="2.5"/>
<line x1="322.4" y1="245.7" x2="319.5" y2="235.6" stroke="rgb(78, 136, 194)" stroke-width="2.5"/>
<line x1="318.3" y1="259.2" x2="323.4" y2="250.0" stroke="rgb(137, 182, 219)" stroke-width="2.5"/>
<ellipse cx="320.8" cy="254.6" rx="2.2" ry="1.6" fill="#b0b0e0" opacity="0.6" transform="rotate(-61 320.8 254.6)"/>
<line x1="318.1" y1="265.2" x2="328.3" y2="262.6" stroke="rgb(169, 41, 67)" stroke-width="2.5"/>
<line x1="311.4" y1="275.4" x2="321.1" y2="271.3" stroke="rgb(203, 85, 88)" stroke-width="2.5"/>
<line x1="320.5" y1="285.0" x2="329.6" y2="279.8" stroke="rgb(227, 132, 114)" stroke-width="2.5"/>
<ellipse cx="325.1" cy="282.4" rx="2.2" ry="1.6" fill="#b0b0e0" opacity="0.6" transform="rotate(-30 325.1 282.4)"/>
<line x1="315.1" y1="289.5" x2="325.5" y2="291.2" stroke="rgb(162, 37, 64)" stroke-width="2.5"/>
<line x1="327.1" y1="308.9" x2="327.0" y2="298.4" stroke="rgb(37, 87, 156)" stroke-width="2.5"/>
<line x1="307.4" y1="313.7" x2="309.2" y2="303.4" stroke="rgb(62, 117, 179)" stroke-width="2.5"/>
<line x1="316.9" y1="321.4" x2="327.2" y2="319.5" stroke="rgb(164, 38, 65)" stroke-width="2.5"/>
<line x1="309.4" y1="335.4" x2="318.3" y2="329.9" stroke="rgb(232, 146, 123)" stroke-width="2.5"/>
<ellipse cx="313.8" cy="332.7" rx="2.2" ry="1.6" fill="#b0b0e0" opacity="0.6" transform="rotate(-32 313.8 332.7)"/>
<line x1="314.8" y1="339.8" x2="324.7" y2="336.3" stroke="rgb(191, 69, 80)" stroke-width="2.5"/>
<line x1="303.7" y1="348.3" x2="313.8" y2="345.4" stroke="rgb(176, 49, 71)" stroke-width="2.5"/>
<line x1="320.1" y1="357.0" x2="330.3" y2="354.4" stroke="rgb(168, 41, 67)" stroke-width="2.5"/>
<line x1="316.2" y1="373.5" x2="324.4" y2="367.0" stroke="rgb(238, 185, 168)" stroke-width="2.5"/>
<ellipse cx="320.3" cy="370.2" rx="2.2" ry="1.6" fill="#b0b0e0" opacity="0.6" transform="rotate(-38 320.3 370.2)"/>
<line x1="316.6" y1="385.0" x2="320.2" y2="375.2" stroke="rgb(90, 150, 205)" stroke-width="2.5"/>
<ellipse cx="318.4" cy="380.1" rx="2.2" ry="1.6" fill="#b0b0e0" opacity="0.6" transform="rotate(-70 318.4 380.1)"/>
<line x1="304.1" y1="388.3" x2="314.6" y2="387.7" stroke="rgb(154, 32, 61)" stroke-width="2.5"/>
<line x1="315.1" y1="396.8" x2="325.1" y2="393.9" stroke="rgb(174, 47, 70)" stroke-width="2.5"/>
<line x1="328.8" y1="213.8" x2="339.1" y2="212.1" stroke="rgb(162, 37, 64)" stroke-width="2.5"/>
<line x1="345.9" y1="226.1" x2="346.9" y2="215.7" stroke="rgb(51, 104, 169)" stroke-width="2.5"/>
<line x1="332.9" y1="234.7" x2="334.6" y2="224.3" stroke="rgb(59, 113, 177)" stroke-width="2.5"/>
<line x1="338.0" y1="246.5" x2="348.4" y2="245.0" stroke="rgb(160, 36, 64)" stroke-width="2.5"/>
<line x1="322.5" y1="248.7" x2="332.9" y2="250.0" stroke="rgb(159, 35, 63)" stroke-width="2.5"/>
<line x1="338.7" y1="265.4" x2="349.1" y2="263.9" stroke="rgb(160, 36, 64)" stroke-width="2.5"/>
<line x1="328.9" y1="275.1" x2="339.4" y2="274.1" stroke="rgb(157, 34, 62)" stroke-width="2.5"/>
<line x1="336.3" y1="287.7" x2="344.7" y2="281.3" stroke="rgb(238, 178, 156)" stroke-width="2.5"/>
<ellipse cx="340.5" cy="284.5" rx="2.2" ry="1.6" fill="#b0b0e0" opacity="0.6" transform="rotate(-37 340.5 284.5)"/>
<line x1="324.4" y1="293.3" x2="334.8" y2="292.1" stroke="rgb(158, 35, 63)" stroke-width="2.5"/>
<line x1="335.5" y1="303.3" x2="345.9" y2="302.4" stroke="rgb(156, 33, 62)" stroke-width="2.5"/>
<line x1="327.5" y1="314.2" x2="326.9" y2="303.7" stroke="rgb(44, 96, 163)" stroke-width="2.5"/>
<line x1="343.4" y1="322.7" x2="353.7" y2="320.9" stroke="rgb(163, 38, 65)" stroke-width="2.5"/>
<line x1="328.1" y1="329.9" x2="338.3" y2="327.7" stroke="rgb(166, 39, 66)" stroke-width="2.5"/>
<line x1="345.0" y1="340.9" x2="352.6" y2="333.6" stroke="rgb(235, 223, 227)" stroke-width="2.5"/>
<ellipse cx="348.8" cy="337.3" rx="2.2" ry="1.6" fill="#b0b0e0" opacity="0.6" transform="rotate(-44 348.8 337.3)"/>
<line x1="324.1" y1="347.1" x2="334.4" y2="345.0" stroke="rgb(165, 39, 66)" stroke-width="2.5"/>
<line x1="344.8" y1="366.8" x2="345.5" y2="356.3" stroke="rgb(45, 97, 164)" stroke-width="2.5"/>
<line x1="328.4" y1="375.5" x2="328.5" y2="365.0" stroke="rgb(36, 86, 156)" stroke-width="2.5"/>
<line x1="344.2" y1="380.9" x2="348.7" y2="371.4" stroke="rgb(119, 170, 214)" stroke-width="2.5"/>
<ellipse cx="346.4" cy="376.1" rx="2.2" ry="1.6" fill="#b0b0e0" opacity="0.6" transform="rotate(-64 346.4 376.1)"/>
<line x1="330.8" y1="392.7" x2="336.5" y2="383.9" stroke="rgb(159, 197, 226)" stroke-width="2.5"/>
<ellipse cx="333.7" cy="388.3" rx="2.2" ry="1.6" fill="#b0b0e0" opacity="0.6" transform="rotate(-57 333.7 388.3)"/>
<line x1="352.6" y1="226.9" x2="362.8" y2="224.3" stroke="rgb(169, 41, 67)" stroke-width="2.5"/>
<line x1="341.6" y1="232.1" x2="352.1" y2="232.0" stroke="rgb(151, 30, 60)" stroke-width="2.5"/>
<line x1="363.4" y1="246.2" x2="373.5" y2="243.4" stroke="rgb(173, 46, 70)" stroke-width="2.5"/>
<line x1="342.3" y1="249.9" x2="352.7" y2="248.6" stroke="rgb(159, 35, 63)" stroke-width="2.5"/>
<line x1="356.4" y1="263.1" x2="366.9" y2="262.9" stroke="rgb(151, 30, 60)" stroke-width="2.5"/>
<line x1="352.7" y1="273.0" x2="360.3" y2="265.8" stroke="rgb(235, 219, 222)" stroke-width="2.5"/>
<ellipse cx="356.5" cy="269.4" rx="2.2" ry="1.6" fill="#b0b0e0" opacity="0.6" transform="rotate(-44 356.5 269.4)"/>
<line x1="357.1" y1="284.4" x2="364.8" y2="277.2" stroke="rgb(236, 215, 214)" stroke-width="2.5"/>
<ellipse cx="360.9" cy="280.8" rx="2.2" ry="1.6" fill="#b0b0e0" opacity="0.6" transform="rotate(-43 360.9 280.8)"/>
<line x1="350.0" y1="297.3" x2="349.6" y2="286.8" stroke="rgb(40, 91, 160)" stroke-width="2.5"/>
<line x1="357.2" y1="300.5" x2="367.6" y2="299.4" stroke="rgb(158, 34, 63)" stroke-width="2.5"/>
<line x1="355.3" y1="314.1" x2="356.7" y2="303.7" stroke="rgb(56, 110, 174)" stroke-width="2.5"/>
<line x1="359.3" y1="325.3" x2="367.2" y2="318.4" stroke="rgb(236, 204, 197)" stroke-width="2.5"/>
<ellipse cx="363.3" cy="321.9" rx="2.2" ry="1.6" fill="#b0b0e0" opacity="0.6" transform="rotate(-41 363.3 321.9)"/>
<line x1="349.7" y1="331.7" x2="350.8" y2="321.3" stroke="rgb(52, 105, 170)" stroke-width="2.5"/>
<line x1="354.3" y1="346.5" x2="356.2" y2="336.2" stroke="rgb(63, 118, 180)" stroke-width="2.5"/>
<line x1="357.5" y1="355.7" x2="355.7" y2="345.3" stroke="rgb(62, 117, 179)" stroke-width="2.5"/>
<line x1="355.1" y1="362.3" x2="356.0" y2="351.9" stroke="rgb(49, 101, 167)" stroke-width="2.5"/>
<line x1="357.0" y1="373.9" x2="359.7" y2="363.8" stroke="rgb(76, 133, 192)" stroke-width="2.5"/>
<line x1="359.4" y1="386.4" x2="362.5" y2="376.3" stroke="rgb(81, 140, 197)" stroke-width="2.5"/>
<line x1="356.6" y1="391.0" x2="360.7" y2="381.3" stroke="rgb(107, 162, 210)" stroke-width="2.5"/>
<ellipse cx="358.6" cy="386.2" rx="2.2" ry="1.6" fill="#b0b0e0" opacity="0.6" transform="rotate(-67 358.6 386.2)"/>
<line x1="363.1" y1="238.3" x2="371.7" y2="232.3" stroke="rgb(239, 164, 134)" stroke-width="2.5"/>
<ellipse cx="367.4" cy="235.3" rx="2.2" ry="1.6" fill="#b0b0e0" opacity="0.6" transform="rotate(-35 367.4 235.3)"/>
<line x1="361.7" y1="292.0" x2="371.6" y2="288.5" stroke="rgb(189, 67, 79)" stroke-width="2.5"/>
<line x1="364.0" y1="313.0" x2="374.3" y2="311.1" stroke="rgb(163, 38, 65)" stroke-width="2.5"/>
<line x1="363.4" y1="330.4" x2="373.9" y2="330.7" stroke="rgb(151, 31, 60)" stroke-width="2.5"/>
<line x1="365.7" y1="392.3" x2="370.2" y2="382.8" stroke="rgb(119, 170, 214)" stroke-width="2.5"/>
<ellipse cx="367.9" cy="387.5" rx="2.2" ry="1.6" fill="#b0b0e0" opacity="0.6" transform="rotate(-64 367.9 387.5)"/>
</g>
<rect x="311.1" y="218.2" width="54.8" height="16.3" fill="#fff"/>
<line x1="390.2" y1="218.2" x2="390.2" y2="390.4" stroke="#8c8c8c" stroke-width="2.4" stroke-dasharray="5 5.6"/>
<polyline points="400.90,223.40 398.30,234.20 407.70,245.00 403.00,255.80 402.40,266.60 402.80,277.30 399.30,288.20 400.40,298.80 389.70,309.90 397.80,320.60 396.30,331.10 400.50,342.10 401.70,352.80 394.50,363.40 391.10,374.40 387.50,385.10" fill="none" stroke="#4da6e6" stroke-width="1.1" />
<circle cx="400.9" cy="223.4" r="3.3" fill="#e0e0e0" stroke="#3fa0ee" stroke-width="1.1"/>
<circle cx="398.3" cy="234.2" r="3.3" fill="#e0e0e0" stroke="#3fa0ee" stroke-width="1.1"/>
<circle cx="407.7" cy="245" r="3.3" fill="#e0e0e0" stroke="#3fa0ee" stroke-width="1.1"/>
<circle cx="403" cy="255.8" r="3.3" fill="#e0e0e0" stroke="#3fa0ee" stroke-width="1.1"/>
<circle cx="402.4" cy="266.6" r="3.3" fill="#e0e0e0" stroke="#3fa0ee" stroke-width="1.1"/>
<circle cx="402.8" cy="277.3" r="3.3" fill="#e0e0e0" stroke="#3fa0ee" stroke-width="1.1"/>
<circle cx="399.3" cy="288.2" r="3.3" fill="#e0e0e0" stroke="#3fa0ee" stroke-width="1.1"/>
<circle cx="400.4" cy="298.8" r="3.3" fill="#e0e0e0" stroke="#3fa0ee" stroke-width="1.1"/>
<circle cx="389.7" cy="309.9" r="3.3" fill="#e0e0e0" stroke="#3fa0ee" stroke-width="1.1"/>
<circle cx="397.8" cy="320.6" r="3.3" fill="#e0e0e0" stroke="#3fa0ee" stroke-width="1.1"/>
<circle cx="396.3" cy="331.1" r="3.3" fill="#e0e0e0" stroke="#3fa0ee" stroke-width="1.1"/>
<circle cx="400.5" cy="342.1" r="3.3" fill="#e0e0e0" stroke="#3fa0ee" stroke-width="1.1"/>
<circle cx="401.7" cy="352.8" r="3.3" fill="#e0e0e0" stroke="#3fa0ee" stroke-width="1.1"/>
<circle cx="394.5" cy="363.4" r="3.3" fill="#e0e0e0" stroke="#3fa0ee" stroke-width="1.1"/>
<circle cx="391.1" cy="374.4" r="3.3" fill="#e0e0e0" stroke="#3fa0ee" stroke-width="1.1"/>
<circle cx="387.5" cy="385.1" r="3.3" fill="#e0e0e0" stroke="#3fa0ee" stroke-width="1.1"/>
<rect x="368.20" y="218.20" width="51.10" height="172.20" fill="none" stroke="#262626" stroke-width="1"/>
<line x1="390.20" y1="390.40" x2="390.20" y2="387.90" stroke="#262626" stroke-width="1"/>
<line x1="390.20" y1="218.20" x2="390.20" y2="220.70" stroke="#262626" stroke-width="1"/>
<line x1="411.80" y1="390.40" x2="411.80" y2="387.90" stroke="#262626" stroke-width="1"/>
<line x1="411.80" y1="218.20" x2="411.80" y2="220.70" stroke="#262626" stroke-width="1"/>
<line x1="368.20" y1="250.30" x2="370.70" y2="250.30" stroke="#262626" stroke-width="1"/>
<line x1="419.30" y1="250.30" x2="416.80" y2="250.30" stroke="#262626" stroke-width="1"/>
<line x1="368.20" y1="298.80" x2="370.70" y2="298.80" stroke="#262626" stroke-width="1"/>
<line x1="419.30" y1="298.80" x2="416.80" y2="298.80" stroke="#262626" stroke-width="1"/>
<line x1="368.20" y1="347.50" x2="370.70" y2="347.50" stroke="#262626" stroke-width="1"/>
<line x1="419.30" y1="347.50" x2="416.80" y2="347.50" stroke="#262626" stroke-width="1"/>
<line x1="192.4" y1="433.4" x2="362.5" y2="433.4" stroke="#8c8c8c" stroke-width="2.4" stroke-dasharray="5 5.6"/>
<polyline points="197.80,422.80 208.40,423.90 219.00,420.70 229.70,421.10 240.30,413.40 251.10,418.50 261.60,417.00 272.30,411.30 283.00,415.20 293.60,416.40 304.00,414.30 314.90,415.70 325.50,415.20 336.10,422.20 346.50,428.10 357.40,434.10" fill="none" stroke="#ff40c8" stroke-width="1.0" />
<rect x="195.20" y="420.20" width="5.2" height="5.2" fill="#e0e0e0" stroke="#ff40c8" stroke-width="1"/>
<rect x="205.80" y="421.30" width="5.2" height="5.2" fill="#e0e0e0" stroke="#ff40c8" stroke-width="1"/>
<rect x="216.40" y="418.10" width="5.2" height="5.2" fill="#e0e0e0" stroke="#ff40c8" stroke-width="1"/>
<rect x="227.10" y="418.50" width="5.2" height="5.2" fill="#e0e0e0" stroke="#ff40c8" stroke-width="1"/>
<rect x="237.70" y="410.80" width="5.2" height="5.2" fill="#e0e0e0" stroke="#ff40c8" stroke-width="1"/>
<rect x="248.50" y="415.90" width="5.2" height="5.2" fill="#e0e0e0" stroke="#ff40c8" stroke-width="1"/>
<rect x="259.00" y="414.40" width="5.2" height="5.2" fill="#e0e0e0" stroke="#ff40c8" stroke-width="1"/>
<rect x="269.70" y="408.70" width="5.2" height="5.2" fill="#e0e0e0" stroke="#ff40c8" stroke-width="1"/>
<rect x="280.40" y="412.60" width="5.2" height="5.2" fill="#e0e0e0" stroke="#ff40c8" stroke-width="1"/>
<rect x="291.00" y="413.80" width="5.2" height="5.2" fill="#e0e0e0" stroke="#ff40c8" stroke-width="1"/>
<rect x="301.40" y="411.70" width="5.2" height="5.2" fill="#e0e0e0" stroke="#ff40c8" stroke-width="1"/>
<rect x="312.30" y="413.10" width="5.2" height="5.2" fill="#e0e0e0" stroke="#ff40c8" stroke-width="1"/>
<rect x="322.90" y="412.60" width="5.2" height="5.2" fill="#e0e0e0" stroke="#ff40c8" stroke-width="1"/>
<rect x="333.50" y="419.60" width="5.2" height="5.2" fill="#e0e0e0" stroke="#ff40c8" stroke-width="1"/>
<rect x="343.90" y="425.50" width="5.2" height="5.2" fill="#e0e0e0" stroke="#ff40c8" stroke-width="1"/>
<rect x="354.80" y="431.50" width="5.2" height="5.2" fill="#e0e0e0" stroke="#ff40c8" stroke-width="1"/>
<rect x="192.40" y="397.30" width="170.10" height="55.70" fill="none" stroke="#262626" stroke-width="1"/>
<line x1="224.40" y1="453.00" x2="224.40" y2="450.50" stroke="#262626" stroke-width="1"/>
<line x1="224.40" y1="397.30" x2="224.40" y2="399.80" stroke="#262626" stroke-width="1"/>
<line x1="272.40" y1="453.00" x2="272.40" y2="450.50" stroke="#262626" stroke-width="1"/>
<line x1="272.40" y1="397.30" x2="272.40" y2="399.80" stroke="#262626" stroke-width="1"/>
<line x1="320.10" y1="453.00" x2="320.10" y2="450.50" stroke="#262626" stroke-width="1"/>
<line x1="320.10" y1="397.30" x2="320.10" y2="399.80" stroke="#262626" stroke-width="1"/>
<line x1="192.40" y1="399.80" x2="194.90" y2="399.80" stroke="#262626" stroke-width="1"/>
<line x1="362.50" y1="399.80" x2="360.00" y2="399.80" stroke="#262626" stroke-width="1"/>
<line x1="192.40" y1="433.40" x2="194.90" y2="433.40" stroke="#262626" stroke-width="1"/>
<line x1="362.50" y1="433.40" x2="360.00" y2="433.40" stroke="#262626" stroke-width="1"/>
<clipPath id="ch"><rect x="456.9" y="219.5" width="172.20" height="171.50"/></clipPath>
<g clip-path="url(#ch)">
<rect x="456.9" y="219.5" width="172.20" height="171.50" fill="#c9c9c9"/>
<path d="M424.7,201.9L426.9,187.7L433.9,185.3L441.3,189.1L441.8,205.6L434.4,214.4Z" fill="rgb(232,232,232)" stroke="#f6f6f6" stroke-width="1.4" stroke-linejoin="round"/>
<path d="M426.0,220.3L428.9,232.0L442.1,237.8L446.9,233.1L446.7,226.4L434.3,214.8Z" fill="rgb(225,225,225)" stroke="#f6f6f6" stroke-width="1.4" stroke-linejoin="round"/>
<path d="M428.9,232.0L420.3,243.6L431.3,253.5L438.5,249.8L442.1,237.8Z" fill="rgb(225,225,225)" stroke="#f6f6f6" stroke-width="1.4" stroke-linejoin="round"/>
<path d="M436.2,272.1L450.7,265.8L448.9,254.5L438.5,249.8L431.3,253.5L429.6,259.3Z" fill="rgb(232,232,232)" stroke="#f6f6f6" stroke-width="1.4" stroke-linejoin="round"/>
<path d="M436.4,305.3L449.2,295.9L448.2,285.8L435.7,279.4L429.5,283.5L431.8,299.3Z" fill="rgb(230,230,230)" stroke="#f6f6f6" stroke-width="1.4" stroke-linejoin="round"/>
<path d="M427.2,318.5L435.5,312.0L450.6,319.1L450.4,334.1L439.5,334.0L427.3,323.4Z" fill="rgb(230,230,230)" stroke="#f6f6f6" stroke-width="1.4" stroke-linejoin="round"/>
<path d="M427.3,323.4L439.5,334.0L431.3,346.2L427.4,348.6L419.0,346.1L417.5,339.8Z" fill="rgb(230,230,230)" stroke="#f6f6f6" stroke-width="1.4" stroke-linejoin="round"/>
<path d="M427.4,348.6L431.3,346.2L451.9,347.3L450.1,361.0L438.2,365.9Z" fill="rgb(230,230,230)" stroke="#f6f6f6" stroke-width="1.4" stroke-linejoin="round"/>
<path d="M430.3,378.1L430.4,393.0L440.1,400.2L450.7,395.1L451.3,394.0L448.3,383.7L434.6,373.6Z" fill="rgb(226,226,226)" stroke="#f6f6f6" stroke-width="1.4" stroke-linejoin="round"/>
<path d="M440.1,400.2L430.4,393.0L422.2,397.3L417.9,409.4L426.6,416.6L439.2,406.6Z" fill="rgb(231,231,231)" stroke="#f6f6f6" stroke-width="1.4" stroke-linejoin="round"/>
<path d="M439.2,406.6L446.3,414.5L447.1,425.0L441.4,428.7L426.9,418.5L426.6,416.6Z" fill="rgb(224,224,224)" stroke="#f6f6f6" stroke-width="1.4" stroke-linejoin="round"/>
<path d="M441.3,189.1L441.8,205.6L457.4,209.1L462.9,201.5L460.9,189.8L451.5,186.5Z" fill="rgb(227,227,227)" stroke="#f6f6f6" stroke-width="1.4" stroke-linejoin="round"/>
<path d="M434.3,214.8L446.7,226.4L458.7,217.6L457.4,209.1L441.8,205.6L434.4,214.4Z" fill="rgb(228,228,228)" stroke="#f6f6f6" stroke-width="1.4" stroke-linejoin="round"/>
<path d="M467.3,233.8L458.7,238.4L446.9,233.1L446.7,226.4L458.7,217.6L465.8,221.6Z" fill="rgb(227,227,227)" stroke="#f6f6f6" stroke-width="1.4" stroke-linejoin="round"/>
<path d="M442.1,237.8L438.5,249.8L448.9,254.5L459.2,250.5L458.7,238.4L446.9,233.1Z" fill="rgb(224,224,224)" stroke="#f6f6f6" stroke-width="1.4" stroke-linejoin="round"/>
<path d="M466.8,267.9L467.9,255.9L459.2,250.5L448.9,254.5L450.7,265.8L461.4,273.0Z" fill="rgb(224,224,224)" stroke="#f6f6f6" stroke-width="1.4" stroke-linejoin="round"/>
<path d="M435.7,279.4L448.2,285.8L460.6,277.3L461.4,273.0L450.7,265.8L436.2,272.1Z" fill="rgb(229,229,229)" stroke="#f6f6f6" stroke-width="1.4" stroke-linejoin="round"/>
<path d="M449.2,295.9L448.2,285.8L460.6,277.3L469.9,288.4L465.3,301.0L458.8,301.7Z" fill="rgb(230,230,230)" stroke="#f6f6f6" stroke-width="1.4" stroke-linejoin="round"/>
<path d="M436.4,305.3L449.2,295.9L458.8,301.7L451.9,318.2L450.6,319.1L435.5,312.0Z" fill="rgb(229,229,229)" stroke="#f6f6f6" stroke-width="1.4" stroke-linejoin="round"/>
<path d="M450.6,319.1L450.4,334.1L455.5,340.1L457.2,340.0L469.5,330.6L468.0,319.8L451.9,318.2Z" fill="rgb(228,228,228)" stroke="#f6f6f6" stroke-width="1.4" stroke-linejoin="round"/>
<path d="M431.3,346.2L451.9,347.3L455.5,340.1L450.4,334.1L439.5,334.0Z" fill="rgb(226,226,226)" stroke="#f6f6f6" stroke-width="1.4" stroke-linejoin="round"/>
<path d="M457.8,365.3L471.8,361.6L472.0,350.7L457.2,340.0L455.5,340.1L451.9,347.3L450.1,361.0Z" fill="rgb(227,227,227)" stroke="#f6f6f6" stroke-width="1.4" stroke-linejoin="round"/>
<path d="M435.1,371.5L438.2,365.9L450.1,361.0L457.8,365.3L459.0,374.8L448.3,383.7L434.6,373.6Z" fill="rgb(231,231,231)" stroke="#f6f6f6" stroke-width="1.4" stroke-linejoin="round"/>
<path d="M466.7,383.0L459.0,374.8L448.3,383.7L451.3,394.0L463.7,390.0Z" fill="rgb(232,232,232)" stroke="#f6f6f6" stroke-width="1.4" stroke-linejoin="round"/>
<path d="M440.1,400.2L450.7,395.1L459.5,408.5L446.3,414.5L439.2,406.6Z" fill="rgb(227,227,227)" stroke="#f6f6f6" stroke-width="1.4" stroke-linejoin="round"/>
<path d="M447.1,425.0L456.5,426.8L463.7,420.4L466.7,411.8L459.5,408.5L446.3,414.5Z" fill="rgb(231,231,231)" stroke="#f6f6f6" stroke-width="1.4" stroke-linejoin="round"/>
<path d="M481.1,190.3L470.4,183.8L460.9,189.8L462.9,201.5L476.1,206.0L483.0,202.1Z" fill="rgb(224,224,224)" stroke="#f6f6f6" stroke-width="1.4" stroke-linejoin="round"/>
<path d="M474.7,217.3L476.1,206.0L462.9,201.5L457.4,209.1L458.7,217.6L465.8,221.6Z" fill="rgb(226,226,226)" stroke="#f6f6f6" stroke-width="1.4" stroke-linejoin="round"/>
<path d="M483.4,235.6L483.3,222.9L474.7,217.3L465.8,221.6L467.3,233.8L478.0,238.4Z" fill="rgb(228,228,228)" stroke="#f6f6f6" stroke-width="1.4" stroke-linejoin="round"/>
<path d="M478.0,238.4L475.6,251.1L467.9,255.9L459.2,250.5L458.7,238.4L467.3,233.8Z" fill="rgb(231,231,231)" stroke="#f6f6f6" stroke-width="1.4" stroke-linejoin="round"/>
<path d="M475.6,251.1L467.9,255.9L466.8,267.9L477.8,270.6L488.5,263.6L486.3,257.5Z" fill="rgb(232,232,232)" stroke="#f6f6f6" stroke-width="1.4" stroke-linejoin="round"/>
<path d="M466.8,267.9L477.8,270.6L483.4,286.3L469.9,288.4L460.6,277.3L461.4,273.0Z" fill="rgb(227,227,227)" stroke="#f6f6f6" stroke-width="1.4" stroke-linejoin="round"/>
<path d="M489.5,297.0L485.0,286.9L483.4,286.3L469.9,288.4L465.3,301.0L473.4,308.8Z" fill="rgb(225,225,225)" stroke="#f6f6f6" stroke-width="1.4" stroke-linejoin="round"/>
<path d="M458.8,301.7L465.3,301.0L473.4,308.8L473.8,311.5L468.0,319.8L451.9,318.2Z" fill="rgb(232,232,232)" stroke="#f6f6f6" stroke-width="1.4" stroke-linejoin="round"/>
<path d="M484.6,332.1L480.3,333.8L469.5,330.6L468.0,319.8L473.8,311.5L487.8,320.3Z" fill="rgb(231,231,231)" stroke="#f6f6f6" stroke-width="1.4" stroke-linejoin="round"/>
<path d="M477.4,346.8L480.3,333.8L469.5,330.6L457.2,340.0L472.0,350.7Z" fill="rgb(231,231,231)" stroke="#f6f6f6" stroke-width="1.4" stroke-linejoin="round"/>
<path d="M488.1,350.5L477.4,346.8L472.0,350.7L471.8,361.6L478.4,366.4L487.8,362.0Z" fill="rgb(225,225,225)" stroke="#f6f6f6" stroke-width="1.4" stroke-linejoin="round"/>
<path d="M466.7,383.0L459.0,374.8L457.8,365.3L471.8,361.6L478.4,366.4L479.1,379.0Z" fill="rgb(233,233,233)" stroke="#f6f6f6" stroke-width="1.4" stroke-linejoin="round"/>
<path d="M487.9,386.9L479.1,379.0L466.7,383.0L463.7,390.0L472.9,401.5Z" fill="rgb(231,231,231)" stroke="#f6f6f6" stroke-width="1.4" stroke-linejoin="round"/>
<path d="M472.9,401.5L463.7,390.0L451.3,394.0L450.7,395.1L459.5,408.5L466.7,411.8L472.1,409.1Z" fill="rgb(230,230,230)" stroke="#f6f6f6" stroke-width="1.4" stroke-linejoin="round"/>
<path d="M502.3,195.5L491.6,205.4L483.0,202.1L481.1,190.3L494.6,182.0L503.8,189.2Z" fill="rgb(227,227,227)" stroke="#f6f6f6" stroke-width="1.4" stroke-linejoin="round"/>
<path d="M483.3,222.9L494.5,214.7L491.6,205.4L483.0,202.1L476.1,206.0L474.7,217.3Z" fill="rgb(227,227,227)" stroke="#f6f6f6" stroke-width="1.4" stroke-linejoin="round"/>
<path d="M483.4,235.6L493.4,238.2L504.9,230.1L506.7,222.1L494.5,214.7L483.3,222.9Z" fill="rgb(231,231,231)" stroke="#f6f6f6" stroke-width="1.4" stroke-linejoin="round"/>
<path d="M483.4,235.6L493.4,238.2L495.3,246.1L486.3,257.5L475.6,251.1L478.0,238.4Z" fill="rgb(229,229,229)" stroke="#f6f6f6" stroke-width="1.4" stroke-linejoin="round"/>
<path d="M495.3,246.1L507.6,255.2L502.5,266.5L499.2,269.2L488.5,263.6L486.3,257.5Z" fill="rgb(224,224,224)" stroke="#f6f6f6" stroke-width="1.4" stroke-linejoin="round"/>
<path d="M477.8,270.6L483.4,286.3L485.0,286.9L498.9,274.2L499.2,269.2L488.5,263.6Z" fill="rgb(232,232,232)" stroke="#f6f6f6" stroke-width="1.4" stroke-linejoin="round"/>
<path d="M489.5,297.0L485.0,286.9L498.9,274.2L510.7,288.2L510.4,294.5L495.3,300.2Z" fill="rgb(228,228,228)" stroke="#f6f6f6" stroke-width="1.4" stroke-linejoin="round"/>
<path d="M487.8,320.3L473.8,311.5L473.4,308.8L489.5,297.0L495.3,300.2L496.2,316.1Z" fill="rgb(226,226,226)" stroke="#f6f6f6" stroke-width="1.4" stroke-linejoin="round"/>
<path d="M495.5,339.7L508.6,331.4L507.6,321.8L496.2,316.1L487.8,320.3L484.6,332.1Z" fill="rgb(232,232,232)" stroke="#f6f6f6" stroke-width="1.4" stroke-linejoin="round"/>
<path d="M495.5,339.7L495.4,344.0L488.1,350.5L477.4,346.8L480.3,333.8L484.6,332.1Z" fill="rgb(224,224,224)" stroke="#f6f6f6" stroke-width="1.4" stroke-linejoin="round"/>
<path d="M488.1,350.5L487.8,362.0L499.6,365.2L508.5,360.1L508.7,359.0L495.4,344.0Z" fill="rgb(230,230,230)" stroke="#f6f6f6" stroke-width="1.4" stroke-linejoin="round"/>
<path d="M488.5,387.1L487.9,386.9L479.1,379.0L478.4,366.4L487.8,362.0L499.6,365.2L496.4,381.8Z" fill="rgb(226,226,226)" stroke="#f6f6f6" stroke-width="1.4" stroke-linejoin="round"/>
<path d="M488.5,387.1L494.3,398.3L514.2,401.0L515.7,397.7L505.1,383.5L496.4,381.8Z" fill="rgb(227,227,227)" stroke="#f6f6f6" stroke-width="1.4" stroke-linejoin="round"/>
<path d="M488.5,387.1L487.9,386.9L472.9,401.5L472.1,409.1L486.2,415.8L489.5,413.5L494.3,398.3Z" fill="rgb(231,231,231)" stroke="#f6f6f6" stroke-width="1.4" stroke-linejoin="round"/>
<path d="M502.3,195.5L517.7,214.1L525.4,203.6L525.4,189.7L517.7,184.0L503.8,189.2Z" fill="rgb(228,228,228)" stroke="#f6f6f6" stroke-width="1.4" stroke-linejoin="round"/>
<path d="M502.3,195.5L517.7,214.1L517.3,215.8L506.7,222.1L494.5,214.7L491.6,205.4Z" fill="rgb(233,233,233)" stroke="#f6f6f6" stroke-width="1.4" stroke-linejoin="round"/>
<path d="M527.5,224.1L517.3,215.8L506.7,222.1L504.9,230.1L514.0,241.2L530.9,236.7Z" fill="rgb(231,231,231)" stroke="#f6f6f6" stroke-width="1.4" stroke-linejoin="round"/>
<path d="M514.0,241.2L511.9,252.9L507.6,255.2L495.3,246.1L493.4,238.2L504.9,230.1Z" fill="rgb(232,232,232)" stroke="#f6f6f6" stroke-width="1.4" stroke-linejoin="round"/>
<path d="M523.1,262.6L517.4,271.0L502.5,266.5L507.6,255.2L511.9,252.9L522.3,257.1Z" fill="rgb(233,233,233)" stroke="#f6f6f6" stroke-width="1.4" stroke-linejoin="round"/>
<path d="M517.4,271.0L502.5,266.5L499.2,269.2L498.9,274.2L510.7,288.2L520.7,279.3Z" fill="rgb(229,229,229)" stroke="#f6f6f6" stroke-width="1.4" stroke-linejoin="round"/>
<path d="M520.7,279.3L510.7,288.2L510.4,294.5L512.6,296.4L525.4,295.8L532.1,279.7Z" fill="rgb(230,230,230)" stroke="#f6f6f6" stroke-width="1.4" stroke-linejoin="round"/>
<path d="M496.2,316.1L495.3,300.2L510.4,294.5L512.6,296.4L517.1,313.7L507.6,321.8Z" fill="rgb(228,228,228)" stroke="#f6f6f6" stroke-width="1.4" stroke-linejoin="round"/>
<path d="M527.2,331.2L517.2,338.3L508.6,331.4L507.6,321.8L517.1,313.7L528.4,315.5Z" fill="rgb(228,228,228)" stroke="#f6f6f6" stroke-width="1.4" stroke-linejoin="round"/>
<path d="M495.5,339.7L495.4,344.0L508.7,359.0L519.0,346.8L517.2,338.3L508.6,331.4Z" fill="rgb(226,226,226)" stroke="#f6f6f6" stroke-width="1.4" stroke-linejoin="round"/>
<path d="M530.7,350.5L519.0,346.8L508.7,359.0L508.5,360.1L516.2,368.7L528.6,365.7Z" fill="rgb(224,224,224)" stroke="#f6f6f6" stroke-width="1.4" stroke-linejoin="round"/>
<path d="M496.4,381.8L499.6,365.2L508.5,360.1L516.2,368.7L516.6,373.8L505.1,383.5Z" fill="rgb(227,227,227)" stroke="#f6f6f6" stroke-width="1.4" stroke-linejoin="round"/>
<path d="M505.1,383.5L516.6,373.8L527.4,387.7L527.2,388.6L515.7,397.7Z" fill="rgb(233,233,233)" stroke="#f6f6f6" stroke-width="1.4" stroke-linejoin="round"/>
<path d="M494.3,398.3L489.5,413.5L510.4,416.2L515.0,406.1L514.2,401.0Z" fill="rgb(229,229,229)" stroke="#f6f6f6" stroke-width="1.4" stroke-linejoin="round"/>
<path d="M515.0,406.1L534.6,413.1L530.4,427.6L520.9,428.7L511.3,420.3L510.4,416.2Z" fill="rgb(232,232,232)" stroke="#f6f6f6" stroke-width="1.4" stroke-linejoin="round"/>
<path d="M546.6,190.1L535.3,186.9L525.4,189.7L525.4,203.6L542.5,207.9L548.3,195.4Z" fill="rgb(232,232,232)" stroke="#f6f6f6" stroke-width="1.4" stroke-linejoin="round"/>
<path d="M527.5,224.1L545.4,215.8L542.5,207.9L525.4,203.6L517.7,214.1L517.3,215.8Z" fill="rgb(230,230,230)" stroke="#f6f6f6" stroke-width="1.4" stroke-linejoin="round"/>
<path d="M527.5,224.1L545.4,215.8L550.9,219.4L551.4,229.2L536.9,241.7L530.9,236.7Z" fill="rgb(225,225,225)" stroke="#f6f6f6" stroke-width="1.4" stroke-linejoin="round"/>
<path d="M530.9,236.7L536.9,241.7L538.1,248.1L522.3,257.1L511.9,252.9L514.0,241.2Z" fill="rgb(226,226,226)" stroke="#f6f6f6" stroke-width="1.4" stroke-linejoin="round"/>
<path d="M523.1,262.6L535.3,272.7L545.9,261.0L545.5,255.7L538.1,248.1L522.3,257.1Z" fill="rgb(231,231,231)" stroke="#f6f6f6" stroke-width="1.4" stroke-linejoin="round"/>
<path d="M523.1,262.6L517.4,271.0L520.7,279.3L532.1,279.7L533.6,279.2L535.3,272.7Z" fill="rgb(232,232,232)" stroke="#f6f6f6" stroke-width="1.4" stroke-linejoin="round"/>
<path d="M533.6,279.2L546.3,290.4L534.4,301.8L525.4,295.8L532.1,279.7Z" fill="rgb(233,233,233)" stroke="#f6f6f6" stroke-width="1.4" stroke-linejoin="round"/>
<path d="M528.4,315.5L517.1,313.7L512.6,296.4L525.4,295.8L534.4,301.8L533.7,313.3Z" fill="rgb(227,227,227)" stroke="#f6f6f6" stroke-width="1.4" stroke-linejoin="round"/>
<path d="M536.7,334.5L550.1,328.4L547.7,319.4L533.7,313.3L528.4,315.5L527.2,331.2Z" fill="rgb(224,224,224)" stroke="#f6f6f6" stroke-width="1.4" stroke-linejoin="round"/>
<path d="M536.7,334.5L533.7,349.8L530.7,350.5L519.0,346.8L517.2,338.3L527.2,331.2Z" fill="rgb(233,233,233)" stroke="#f6f6f6" stroke-width="1.4" stroke-linejoin="round"/>
<path d="M544.9,357.3L538.5,372.0L528.6,365.7L530.7,350.5L533.7,349.8L541.8,352.3Z" fill="rgb(230,230,230)" stroke="#f6f6f6" stroke-width="1.4" stroke-linejoin="round"/>
<path d="M538.5,372.0L539.5,375.2L527.4,387.7L516.6,373.8L516.2,368.7L528.6,365.7Z" fill="rgb(228,228,228)" stroke="#f6f6f6" stroke-width="1.4" stroke-linejoin="round"/>
<path d="M539.5,375.2L549.5,378.8L549.6,378.9L545.7,396.6L541.0,400.2L527.2,388.6L527.4,387.7Z" fill="rgb(225,225,225)" stroke="#f6f6f6" stroke-width="1.4" stroke-linejoin="round"/>
<path d="M514.2,401.0L515.0,406.1L534.6,413.1L541.0,408.8L541.0,400.2L527.2,388.6L515.7,397.7Z" fill="rgb(225,225,225)" stroke="#f6f6f6" stroke-width="1.4" stroke-linejoin="round"/>
<path d="M546.6,190.1L555.7,179.3L571.3,187.2L563.0,201.7L548.3,195.4Z" fill="rgb(226,226,226)" stroke="#f6f6f6" stroke-width="1.4" stroke-linejoin="round"/>
<path d="M548.3,195.4L542.5,207.9L545.4,215.8L550.9,219.4L552.9,218.3L563.7,203.9L563.0,201.7Z" fill="rgb(231,231,231)" stroke="#f6f6f6" stroke-width="1.4" stroke-linejoin="round"/>
<path d="M572.2,233.1L560.6,235.2L551.4,229.2L550.9,219.4L552.9,218.3L570.7,221.1Z" fill="rgb(231,231,231)" stroke="#f6f6f6" stroke-width="1.4" stroke-linejoin="round"/>
<path d="M545.5,255.7L558.1,249.9L560.6,235.2L551.4,229.2L536.9,241.7L538.1,248.1Z" fill="rgb(228,228,228)" stroke="#f6f6f6" stroke-width="1.4" stroke-linejoin="round"/>
<path d="M545.5,255.7L558.1,249.9L567.6,253.2L571.0,267.5L556.0,270.2L545.9,261.0Z" fill="rgb(233,233,233)" stroke="#f6f6f6" stroke-width="1.4" stroke-linejoin="round"/>
<path d="M545.9,261.0L556.0,270.2L553.8,286.9L549.7,290.6L546.3,290.4L533.6,279.2L535.3,272.7Z" fill="rgb(232,232,232)" stroke="#f6f6f6" stroke-width="1.4" stroke-linejoin="round"/>
<path d="M568.7,287.2L573.4,299.6L555.4,303.6L549.7,290.6L553.8,286.9Z" fill="rgb(225,225,225)" stroke="#f6f6f6" stroke-width="1.4" stroke-linejoin="round"/>
<path d="M533.7,313.3L534.4,301.8L546.3,290.4L549.7,290.6L555.4,303.6L554.7,310.5L547.7,319.4Z" fill="rgb(232,232,232)" stroke="#f6f6f6" stroke-width="1.4" stroke-linejoin="round"/>
<path d="M550.1,328.4L555.7,333.9L556.2,334.1L568.2,326.4L572.2,315.1L554.7,310.5L547.7,319.4Z" fill="rgb(227,227,227)" stroke="#f6f6f6" stroke-width="1.4" stroke-linejoin="round"/>
<path d="M536.7,334.5L533.7,349.8L541.8,352.3L555.7,333.9L550.1,328.4Z" fill="rgb(231,231,231)" stroke="#f6f6f6" stroke-width="1.4" stroke-linejoin="round"/>
<path d="M544.9,357.3L563.4,361.2L565.2,360.6L565.6,345.9L556.2,334.1L555.7,333.9L541.8,352.3Z" fill="rgb(230,230,230)" stroke="#f6f6f6" stroke-width="1.4" stroke-linejoin="round"/>
<path d="M544.9,357.3L563.4,361.2L549.5,378.8L539.5,375.2L538.5,372.0Z" fill="rgb(224,224,224)" stroke="#f6f6f6" stroke-width="1.4" stroke-linejoin="round"/>
<path d="M545.7,396.6L549.6,378.9L565.9,388.5L566.2,391.6L562.5,396.4Z" fill="rgb(226,226,226)" stroke="#f6f6f6" stroke-width="1.4" stroke-linejoin="round"/>
<path d="M541.0,408.8L541.0,400.2L545.7,396.6L562.5,396.4L562.1,406.8L545.3,411.4Z" fill="rgb(233,233,233)" stroke="#f6f6f6" stroke-width="1.4" stroke-linejoin="round"/>
<path d="M545.3,411.4L551.6,423.2L560.1,427.9L569.9,417.4L562.1,406.8Z" fill="rgb(225,225,225)" stroke="#f6f6f6" stroke-width="1.4" stroke-linejoin="round"/>
<path d="M586.0,191.0L586.3,193.8L574.4,210.4L563.7,203.9L563.0,201.7L571.3,187.2L575.8,186.0Z" fill="rgb(229,229,229)" stroke="#f6f6f6" stroke-width="1.4" stroke-linejoin="round"/>
<path d="M574.4,210.4L575.3,212.9L570.7,221.1L552.9,218.3L563.7,203.9Z" fill="rgb(230,230,230)" stroke="#f6f6f6" stroke-width="1.4" stroke-linejoin="round"/>
<path d="M578.3,236.9L588.1,231.4L588.1,217.5L575.3,212.9L570.7,221.1L572.2,233.1Z" fill="rgb(233,233,233)" stroke="#f6f6f6" stroke-width="1.4" stroke-linejoin="round"/>
<path d="M578.3,236.9L578.4,244.1L567.6,253.2L558.1,249.9L560.6,235.2L572.2,233.1Z" fill="rgb(226,226,226)" stroke="#f6f6f6" stroke-width="1.4" stroke-linejoin="round"/>
<path d="M586.6,253.0L581.2,265.4L572.6,268.4L571.0,267.5L567.6,253.2L578.4,244.1Z" fill="rgb(230,230,230)" stroke="#f6f6f6" stroke-width="1.4" stroke-linejoin="round"/>
<path d="M556.0,270.2L553.8,286.9L568.7,287.2L574.3,280.7L572.6,268.4L571.0,267.5Z" fill="rgb(226,226,226)" stroke="#f6f6f6" stroke-width="1.4" stroke-linejoin="round"/>
<path d="M574.3,280.7L588.9,285.9L589.1,297.1L575.0,300.8L573.4,299.6L568.7,287.2Z" fill="rgb(227,227,227)" stroke="#f6f6f6" stroke-width="1.4" stroke-linejoin="round"/>
<path d="M554.7,310.5L555.4,303.6L573.4,299.6L575.0,300.8L574.0,314.0L572.2,315.1Z" fill="rgb(232,232,232)" stroke="#f6f6f6" stroke-width="1.4" stroke-linejoin="round"/>
<path d="M588.2,327.9L579.8,331.3L568.2,326.4L572.2,315.1L574.0,314.0L589.4,319.8Z" fill="rgb(226,226,226)" stroke="#f6f6f6" stroke-width="1.4" stroke-linejoin="round"/>
<path d="M568.2,326.4L579.8,331.3L574.8,342.7L565.6,345.9L556.2,334.1Z" fill="rgb(231,231,231)" stroke="#f6f6f6" stroke-width="1.4" stroke-linejoin="round"/>
<path d="M565.6,345.9L574.8,342.7L589.2,347.6L589.0,362.6L570.3,364.0L565.2,360.6Z" fill="rgb(232,232,232)" stroke="#f6f6f6" stroke-width="1.4" stroke-linejoin="round"/>
<path d="M563.4,361.2L565.2,360.6L570.3,364.0L570.9,380.5L565.9,388.5L549.6,378.9L549.5,378.8Z" fill="rgb(228,228,228)" stroke="#f6f6f6" stroke-width="1.4" stroke-linejoin="round"/>
<path d="M581.8,398.9L585.2,396.6L588.4,383.0L570.9,380.5L565.9,388.5L566.2,391.6Z" fill="rgb(227,227,227)" stroke="#f6f6f6" stroke-width="1.4" stroke-linejoin="round"/>
<path d="M570.1,417.4L569.9,417.4L562.1,406.8L562.5,396.4L566.2,391.6L581.8,398.9L580.6,411.6Z" fill="rgb(232,232,232)" stroke="#f6f6f6" stroke-width="1.4" stroke-linejoin="round"/>
<path d="M586.0,191.0L586.3,193.8L597.1,208.9L610.1,203.7L610.2,203.6L604.9,187.5L593.4,185.9Z" fill="rgb(227,227,227)" stroke="#f6f6f6" stroke-width="1.4" stroke-linejoin="round"/>
<path d="M586.3,193.8L597.1,208.9L596.3,211.2L588.1,217.5L575.3,212.9L574.4,210.4Z" fill="rgb(233,233,233)" stroke="#f6f6f6" stroke-width="1.4" stroke-linejoin="round"/>
<path d="M588.1,231.4L598.9,234.9L606.8,233.2L607.0,226.2L596.3,211.2L588.1,217.5Z" fill="rgb(226,226,226)" stroke="#f6f6f6" stroke-width="1.4" stroke-linejoin="round"/>
<path d="M578.3,236.9L578.4,244.1L586.6,253.0L594.1,252.8L598.9,234.9L588.1,231.4Z" fill="rgb(229,229,229)" stroke="#f6f6f6" stroke-width="1.4" stroke-linejoin="round"/>
<path d="M594.1,252.8L602.9,258.6L605.6,266.8L598.0,275.3L581.2,265.4L586.6,253.0Z" fill="rgb(229,229,229)" stroke="#f6f6f6" stroke-width="1.4" stroke-linejoin="round"/>
<path d="M574.3,280.7L588.9,285.9L597.9,275.8L598.0,275.3L581.2,265.4L572.6,268.4Z" fill="rgb(227,227,227)" stroke="#f6f6f6" stroke-width="1.4" stroke-linejoin="round"/>
<path d="M593.6,301.3L589.1,297.1L588.9,285.9L597.9,275.8L609.3,289.8L611.0,298.3Z" fill="rgb(225,225,225)" stroke="#f6f6f6" stroke-width="1.4" stroke-linejoin="round"/>
<path d="M592.4,317.1L589.4,319.8L574.0,314.0L575.0,300.8L589.1,297.1L593.6,301.3Z" fill="rgb(227,227,227)" stroke="#f6f6f6" stroke-width="1.4" stroke-linejoin="round"/>
<path d="M592.4,317.1L589.4,319.8L588.2,327.9L595.3,339.2L602.3,339.3L610.9,324.6L608.8,319.9Z" fill="rgb(226,226,226)" stroke="#f6f6f6" stroke-width="1.4" stroke-linejoin="round"/>
<path d="M595.3,339.2L589.2,347.6L574.8,342.7L579.8,331.3L588.2,327.9Z" fill="rgb(226,226,226)" stroke="#f6f6f6" stroke-width="1.4" stroke-linejoin="round"/>
<path d="M613.2,348.8L602.3,339.3L595.3,339.2L589.2,347.6L589.0,362.6L593.1,365.8L610.1,361.1Z" fill="rgb(224,224,224)" stroke="#f6f6f6" stroke-width="1.4" stroke-linejoin="round"/>
<path d="M593.1,365.8L589.0,362.6L570.3,364.0L570.9,380.5L588.4,383.0L593.5,378.1Z" fill="rgb(230,230,230)" stroke="#f6f6f6" stroke-width="1.4" stroke-linejoin="round"/>
<path d="M593.5,378.1L588.4,383.0L585.2,396.6L598.7,399.9L610.5,394.7L608.5,388.7Z" fill="rgb(227,227,227)" stroke="#f6f6f6" stroke-width="1.4" stroke-linejoin="round"/>
<path d="M591.9,417.4L595.3,413.5L598.7,399.9L585.2,396.6L581.8,398.9L580.6,411.6Z" fill="rgb(233,233,233)" stroke="#f6f6f6" stroke-width="1.4" stroke-linejoin="round"/>
<path d="M594.0,423.3L595.6,425.0L610.4,427.7L616.3,411.3L615.8,410.4L595.3,413.5L591.9,417.4Z" fill="rgb(226,226,226)" stroke="#f6f6f6" stroke-width="1.4" stroke-linejoin="round"/>
<path d="M624.8,190.5L612.8,181.0L604.9,187.5L610.2,203.6L621.6,199.1Z" fill="rgb(226,226,226)" stroke="#f6f6f6" stroke-width="1.4" stroke-linejoin="round"/>
<path d="M615.8,215.3L610.1,203.7L597.1,208.9L596.3,211.2L607.0,226.2Z" fill="rgb(228,228,228)" stroke="#f6f6f6" stroke-width="1.4" stroke-linejoin="round"/>
<path d="M611.5,236.3L606.8,233.2L607.0,226.2L615.8,215.3L629.3,219.4L623.4,231.1Z" fill="rgb(224,224,224)" stroke="#f6f6f6" stroke-width="1.4" stroke-linejoin="round"/>
<path d="M611.5,236.3L606.8,233.2L598.9,234.9L594.1,252.8L602.9,258.6L613.1,243.1Z" fill="rgb(227,227,227)" stroke="#f6f6f6" stroke-width="1.4" stroke-linejoin="round"/>
<path d="M625.4,252.0L622.9,264.8L617.1,268.1L605.6,266.8L602.9,258.6L613.1,243.1Z" fill="rgb(225,225,225)" stroke="#f6f6f6" stroke-width="1.4" stroke-linejoin="round"/>
<path d="M619.5,278.6L609.3,289.8L597.9,275.8L598.0,275.3L605.6,266.8L617.1,268.1Z" fill="rgb(224,224,224)" stroke="#f6f6f6" stroke-width="1.4" stroke-linejoin="round"/>
<path d="M615.7,301.4L624.0,296.8L628.1,286.9L619.5,278.6L609.3,289.8L611.0,298.3Z" fill="rgb(224,224,224)" stroke="#f6f6f6" stroke-width="1.4" stroke-linejoin="round"/>
<path d="M616.1,306.1L608.8,319.9L592.4,317.1L593.6,301.3L611.0,298.3L615.7,301.4Z" fill="rgb(226,226,226)" stroke="#f6f6f6" stroke-width="1.4" stroke-linejoin="round"/>
<path d="M616.1,306.1L630.3,317.2L623.0,328.9L622.0,329.2L610.9,324.6L608.8,319.9Z" fill="rgb(224,224,224)" stroke="#f6f6f6" stroke-width="1.4" stroke-linejoin="round"/>
<path d="M617.3,346.8L622.0,329.2L610.9,324.6L602.3,339.3L613.2,348.8Z" fill="rgb(227,227,227)" stroke="#f6f6f6" stroke-width="1.4" stroke-linejoin="round"/>
<path d="M618.7,369.3L610.1,361.1L613.2,348.8L617.3,346.8L631.9,348.7L628.3,366.1Z" fill="rgb(232,232,232)" stroke="#f6f6f6" stroke-width="1.4" stroke-linejoin="round"/>
<path d="M618.7,369.3L610.1,361.1L593.1,365.8L593.5,378.1L608.5,388.7L618.6,370.3Z" fill="rgb(225,225,225)" stroke="#f6f6f6" stroke-width="1.4" stroke-linejoin="round"/>
<path d="M618.6,370.3L608.5,388.7L610.5,394.7L611.2,395.3L624.5,392.0L626.8,381.1Z" fill="rgb(225,225,225)" stroke="#f6f6f6" stroke-width="1.4" stroke-linejoin="round"/>
<path d="M610.5,394.7L598.7,399.9L595.3,413.5L615.8,410.4L611.2,395.3Z" fill="rgb(228,228,228)" stroke="#f6f6f6" stroke-width="1.4" stroke-linejoin="round"/>
<path d="M644.1,197.3L631.2,187.8L624.8,190.5L621.6,199.1L635.5,212.3L643.8,201.8Z" fill="rgb(229,229,229)" stroke="#f6f6f6" stroke-width="1.4" stroke-linejoin="round"/>
<path d="M634.9,216.5L635.5,212.3L621.6,199.1L610.2,203.6L610.1,203.7L615.8,215.3L629.3,219.4Z" fill="rgb(232,232,232)" stroke="#f6f6f6" stroke-width="1.4" stroke-linejoin="round"/>
<path d="M634.1,241.3L643.2,227.4L642.9,223.7L634.9,216.5L629.3,219.4L623.4,231.1Z" fill="rgb(228,228,228)" stroke="#f6f6f6" stroke-width="1.4" stroke-linejoin="round"/>
<path d="M634.1,241.3L623.4,231.1L611.5,236.3L613.1,243.1L625.4,252.0L634.8,246.8Z" fill="rgb(232,232,232)" stroke="#f6f6f6" stroke-width="1.4" stroke-linejoin="round"/>
<path d="M634.8,246.8L644.2,250.9L644.3,264.1L632.8,268.6L622.9,264.8L625.4,252.0Z" fill="rgb(225,225,225)" stroke="#f6f6f6" stroke-width="1.4" stroke-linejoin="round"/>
<path d="M628.1,286.9L619.5,278.6L617.1,268.1L622.9,264.8L632.8,268.6L635.3,283.5Z" fill="rgb(224,224,224)" stroke="#f6f6f6" stroke-width="1.4" stroke-linejoin="round"/>
<path d="M628.1,286.9L635.3,283.5L646.2,286.7L646.3,291.3L638.6,303.1L624.0,296.8Z" fill="rgb(232,232,232)" stroke="#f6f6f6" stroke-width="1.4" stroke-linejoin="round"/>
<path d="M616.1,306.1L630.3,317.2L641.7,315.1L638.6,303.1L624.0,296.8L615.7,301.4Z" fill="rgb(229,229,229)" stroke="#f6f6f6" stroke-width="1.4" stroke-linejoin="round"/>
<path d="M636.5,336.8L646.2,319.8L645.5,317.5L641.7,315.1L630.3,317.2L623.0,328.9Z" fill="rgb(226,226,226)" stroke="#f6f6f6" stroke-width="1.4" stroke-linejoin="round"/>
<path d="M617.3,346.8L622.0,329.2L623.0,328.9L636.5,336.8L638.3,345.7L631.9,348.7Z" fill="rgb(231,231,231)" stroke="#f6f6f6" stroke-width="1.4" stroke-linejoin="round"/>
<path d="M628.3,366.1L631.9,348.7L638.3,345.7L642.9,347.7L649.0,362.9L641.1,370.6Z" fill="rgb(224,224,224)" stroke="#f6f6f6" stroke-width="1.4" stroke-linejoin="round"/>
<path d="M618.7,369.3L628.3,366.1L641.1,370.6L641.2,379.6L626.8,381.1L618.6,370.3Z" fill="rgb(228,228,228)" stroke="#f6f6f6" stroke-width="1.4" stroke-linejoin="round"/>
<path d="M626.8,381.1L624.5,392.0L638.0,396.4L643.0,392.0L642.0,381.3L641.2,379.6Z" fill="rgb(228,228,228)" stroke="#f6f6f6" stroke-width="1.4" stroke-linejoin="round"/>
<path d="M611.2,395.3L615.8,410.4L616.3,411.3L629.7,413.1L636.8,404.2L638.0,396.4L624.5,392.0Z" fill="rgb(225,225,225)" stroke="#f6f6f6" stroke-width="1.4" stroke-linejoin="round"/>
<path d="M629.7,413.1L637.0,428.6L649.8,420.8L650.9,413.3L636.8,404.2Z" fill="rgb(228,228,228)" stroke="#f6f6f6" stroke-width="1.4" stroke-linejoin="round"/>
<path d="M644.1,197.3L652.7,188.8L663.4,193.9L666.3,199.9L659.8,209.9L643.8,201.8Z" fill="rgb(227,227,227)" stroke="#f6f6f6" stroke-width="1.4" stroke-linejoin="round"/>
<path d="M642.9,223.7L661.8,219.4L659.8,209.9L643.8,201.8L635.5,212.3L634.9,216.5Z" fill="rgb(231,231,231)" stroke="#f6f6f6" stroke-width="1.4" stroke-linejoin="round"/>
<path d="M668.8,232.6L654.1,241.6L643.2,227.4L642.9,223.7L661.8,219.4L665.9,222.5Z" fill="rgb(229,229,229)" stroke="#f6f6f6" stroke-width="1.4" stroke-linejoin="round"/>
<path d="M634.1,241.3L643.2,227.4L654.1,241.6L652.1,246.6L644.2,250.9L634.8,246.8Z" fill="rgb(231,231,231)" stroke="#f6f6f6" stroke-width="1.4" stroke-linejoin="round"/>
<path d="M652.1,246.6L666.5,259.1L666.5,259.7L656.0,273.7L644.3,264.1L644.2,250.9Z" fill="rgb(225,225,225)" stroke="#f6f6f6" stroke-width="1.4" stroke-linejoin="round"/>
<path d="M646.2,286.7L656.5,277.7L656.0,273.7L644.3,264.1L632.8,268.6L635.3,283.5Z" fill="rgb(224,224,224)" stroke="#f6f6f6" stroke-width="1.4" stroke-linejoin="round"/>
<path d="M646.3,291.3L655.7,300.8L666.7,296.1L661.6,280.8L656.5,277.7L646.2,286.7Z" fill="rgb(227,227,227)" stroke="#f6f6f6" stroke-width="1.4" stroke-linejoin="round"/>
<path d="M638.6,303.1L641.7,315.1L645.5,317.5L654.0,311.0L655.7,300.8L646.3,291.3Z" fill="rgb(229,229,229)" stroke="#f6f6f6" stroke-width="1.4" stroke-linejoin="round"/>
<path d="M638.3,345.7L642.9,347.7L658.9,338.9L659.5,331.3L646.2,319.8L636.5,336.8Z" fill="rgb(228,228,228)" stroke="#f6f6f6" stroke-width="1.4" stroke-linejoin="round"/>
<path d="M656.5,364.1L649.0,362.9L642.9,347.7L658.9,338.9L668.4,348.7L663.9,361.0Z" fill="rgb(224,224,224)" stroke="#f6f6f6" stroke-width="1.4" stroke-linejoin="round"/>
<path d="M641.1,370.6L649.0,362.9L656.5,364.1L659.4,378.3L642.0,381.3L641.2,379.6Z" fill="rgb(225,225,225)" stroke="#f6f6f6" stroke-width="1.4" stroke-linejoin="round"/>
<path d="M659.4,378.3L642.0,381.3L643.0,392.0L656.2,395.1L664.8,392.4L666.4,387.0Z" fill="rgb(224,224,224)" stroke="#f6f6f6" stroke-width="1.4" stroke-linejoin="round"/>
<path d="M656.2,395.1L643.0,392.0L638.0,396.4L636.8,404.2L650.9,413.3L653.8,410.8Z" fill="rgb(233,233,233)" stroke="#f6f6f6" stroke-width="1.4" stroke-linejoin="round"/>
<line x1="460.4" y1="229.8" x2="462.8" y2="219.6" stroke="rgb(69, 126, 186)" stroke-width="2.5"/>
<line x1="449.9" y1="247.7" x2="455.0" y2="238.5" stroke="rgb(139, 184, 220)" stroke-width="2.5"/>
<ellipse cx="452.4" cy="243.1" rx="2.2" ry="1.6" fill="#b0b0e0" opacity="0.6" transform="rotate(-61 452.4 243.1)"/>
<line x1="457.3" y1="266.8" x2="467.6" y2="264.8" stroke="rgb(164, 38, 65)" stroke-width="2.5"/>
<line x1="451.2" y1="285.0" x2="452.1" y2="274.6" stroke="rgb(48, 101, 167)" stroke-width="2.5"/>
<line x1="450.5" y1="299.4" x2="460.9" y2="300.4" stroke="rgb(157, 34, 63)" stroke-width="2.5"/>
<line x1="448.6" y1="312.7" x2="457.2" y2="306.5" stroke="rgb(239, 170, 143)" stroke-width="2.5"/>
<ellipse cx="452.9" cy="309.6" rx="2.2" ry="1.6" fill="#b0b0e0" opacity="0.6" transform="rotate(-36 452.9 309.6)"/>
<line x1="458.0" y1="322.0" x2="467.2" y2="316.9" stroke="rgb(225, 126, 111)" stroke-width="2.5"/>
<ellipse cx="462.6" cy="319.4" rx="2.2" ry="1.6" fill="#b0b0e0" opacity="0.6" transform="rotate(-29 462.6 319.4)"/>
<line x1="447.6" y1="341.6" x2="456.8" y2="336.6" stroke="rgb(224, 123, 109)" stroke-width="2.5"/>
<ellipse cx="452.2" cy="339.1" rx="2.2" ry="1.6" fill="#b0b0e0" opacity="0.6" transform="rotate(-29 452.2 339.1)"/>
<line x1="460.8" y1="365.1" x2="456.2" y2="355.7" stroke="rgb(120, 171, 214)" stroke-width="2.5"/>
<ellipse cx="458.5" cy="360.4" rx="2.2" ry="1.6" fill="#b0b0e0" opacity="0.6" transform="rotate(-116 458.5 360.4)"/>
<line x1="456.7" y1="383.4" x2="467.0" y2="381.6" stroke="rgb(163, 38, 65)" stroke-width="2.5"/>
<line x1="466.7" y1="224.1" x2="476.1" y2="219.6" stroke="rgb(216, 103, 97)" stroke-width="2.5"/>
<ellipse cx="471.4" cy="221.9" rx="2.2" ry="1.6" fill="#b0b0e0" opacity="0.6" transform="rotate(-26 471.4 221.9)"/>
<line x1="470.7" y1="240.9" x2="473.9" y2="230.9" stroke="rgb(83, 142, 199)" stroke-width="2.5"/>
<line x1="471.6" y1="249.3" x2="478.4" y2="241.3" stroke="rgb(204, 217, 232)" stroke-width="2.5"/>
<ellipse cx="475.0" cy="245.3" rx="2.2" ry="1.6" fill="#b0b0e0" opacity="0.6" transform="rotate(-50 475.0 245.3)"/>
<line x1="459.1" y1="260.9" x2="465.0" y2="252.2" stroke="rgb(166, 202, 228)" stroke-width="2.5"/>
<ellipse cx="462.1" cy="256.6" rx="2.2" ry="1.6" fill="#b0b0e0" opacity="0.6" transform="rotate(-56 462.1 256.6)"/>
<line x1="473.6" y1="266.8" x2="479.0" y2="257.8" stroke="rgb(149, 190, 223)" stroke-width="2.5"/>
<ellipse cx="476.3" cy="262.3" rx="2.2" ry="1.6" fill="#b0b0e0" opacity="0.6" transform="rotate(-59 476.3 262.3)"/>
<line x1="463.6" y1="276.9" x2="473.0" y2="272.2" stroke="rgb(219, 112, 102)" stroke-width="2.5"/>
<ellipse cx="468.3" cy="274.6" rx="2.2" ry="1.6" fill="#b0b0e0" opacity="0.6" transform="rotate(-27 468.3 274.6)"/>
<line x1="474.7" y1="288.3" x2="480.4" y2="279.4" stroke="rgb(157, 196, 226)" stroke-width="2.5"/>
<ellipse cx="477.5" cy="283.8" rx="2.2" ry="1.6" fill="#b0b0e0" opacity="0.6" transform="rotate(-57 477.5 283.8)"/>
<line x1="466.1" y1="293.6" x2="476.5" y2="292.3" stroke="rgb(159, 35, 63)" stroke-width="2.5"/>
<line x1="477.1" y1="305.1" x2="486.1" y2="299.7" stroke="rgb(230, 139, 119)" stroke-width="2.5"/>
<ellipse cx="481.6" cy="302.4" rx="2.2" ry="1.6" fill="#b0b0e0" opacity="0.6" transform="rotate(-31 481.6 302.4)"/>
<line x1="465.5" y1="313.8" x2="475.4" y2="310.4" stroke="rgb(187, 63, 78)" stroke-width="2.5"/>
<line x1="473.0" y1="323.5" x2="481.1" y2="316.8" stroke="rgb(237, 193, 180)" stroke-width="2.5"/>
<ellipse cx="477.0" cy="320.1" rx="2.2" ry="1.6" fill="#b0b0e0" opacity="0.6" transform="rotate(-40 477.0 320.1)"/>
<line x1="467.5" y1="335.4" x2="473.8" y2="327.0" stroke="rgb(181, 208, 230)" stroke-width="2.5"/>
<ellipse cx="470.7" cy="331.2" rx="2.2" ry="1.6" fill="#b0b0e0" opacity="0.6" transform="rotate(-53 470.7 331.2)"/>
<line x1="475.8" y1="346.0" x2="475.9" y2="335.5" stroke="rgb(36, 87, 156)" stroke-width="2.5"/>
<line x1="467.5" y1="354.0" x2="475.6" y2="347.3" stroke="rgb(237, 194, 181)" stroke-width="2.5"/>
<ellipse cx="471.5" cy="350.6" rx="2.2" ry="1.6" fill="#b0b0e0" opacity="0.6" transform="rotate(-40 471.5 350.6)"/>
<line x1="474.6" y1="360.2" x2="485.1" y2="359.8" stroke="rgb(152, 31, 60)" stroke-width="2.5"/>
<line x1="456.7" y1="371.3" x2="467.1" y2="370.0" stroke="rgb(159, 35, 63)" stroke-width="2.5"/>
<line x1="476.9" y1="387.5" x2="481.9" y2="378.3" stroke="rgb(136, 181, 219)" stroke-width="2.5"/>
<ellipse cx="479.4" cy="382.9" rx="2.2" ry="1.6" fill="#b0b0e0" opacity="0.6" transform="rotate(-61 479.4 382.9)"/>
<line x1="459.3" y1="397.6" x2="461.1" y2="387.3" stroke="rgb(61, 116, 179)" stroke-width="2.5"/>
<line x1="469.1" y1="398.1" x2="479.0" y2="394.5" stroke="rgb(192, 70, 81)" stroke-width="2.5"/>
<line x1="495.8" y1="224.4" x2="506.2" y2="225.3" stroke="rgb(156, 33, 62)" stroke-width="2.5"/>
<line x1="477.1" y1="233.9" x2="487.0" y2="230.4" stroke="rgb(189, 67, 79)" stroke-width="2.5"/>
<line x1="496.6" y1="245.1" x2="504.5" y2="238.2" stroke="rgb(236, 204, 197)" stroke-width="2.5"/>
<ellipse cx="500.6" cy="241.7" rx="2.2" ry="1.6" fill="#b0b0e0" opacity="0.6" transform="rotate(-41 500.6 241.7)"/>
<line x1="485.6" y1="257.4" x2="495.8" y2="254.8" stroke="rgb(169, 41, 67)" stroke-width="2.5"/>
<line x1="487.8" y1="264.4" x2="498.1" y2="262.7" stroke="rgb(162, 37, 65)" stroke-width="2.5"/>
<line x1="483.2" y1="272.6" x2="493.6" y2="274.1" stroke="rgb(161, 36, 64)" stroke-width="2.5"/>
<line x1="498.3" y1="285.4" x2="503.6" y2="276.4" stroke="rgb(144, 187, 222)" stroke-width="2.5"/>
<ellipse cx="501.0" cy="280.9" rx="2.2" ry="1.6" fill="#b0b0e0" opacity="0.6" transform="rotate(-60 501.0 280.9)"/>
<line x1="476.1" y1="291.8" x2="486.3" y2="289.6" stroke="rgb(166, 39, 66)" stroke-width="2.5"/>
<line x1="491.7" y1="304.2" x2="501.4" y2="300.0" stroke="rgb(208, 92, 91)" stroke-width="2.5"/>
<line x1="486.8" y1="318.1" x2="495.3" y2="311.9" stroke="rgb(239, 169, 141)" stroke-width="2.5"/>
<ellipse cx="491.0" cy="315.0" rx="2.2" ry="1.6" fill="#b0b0e0" opacity="0.6" transform="rotate(-36 491.0 315.0)"/>
<line x1="495.2" y1="325.4" x2="504.8" y2="321.1" stroke="rgb(211, 95, 92)" stroke-width="2.5"/>
<line x1="479.4" y1="335.9" x2="479.5" y2="325.4" stroke="rgb(36, 86, 156)" stroke-width="2.5"/>
<line x1="488.7" y1="338.8" x2="498.2" y2="343.3" stroke="rgb(215, 101, 95)" stroke-width="2.5"/>
<ellipse cx="493.5" cy="341.0" rx="2.2" ry="1.6" fill="#b0b0e0" opacity="0.6" transform="rotate(25 493.5 341.0)"/>
<line x1="482.4" y1="348.6" x2="492.6" y2="345.9" stroke="rgb(169, 41, 67)" stroke-width="2.5"/>
<line x1="490.5" y1="361.2" x2="497.9" y2="353.8" stroke="rgb(234, 227, 234)" stroke-width="2.5"/>
<ellipse cx="494.2" cy="357.5" rx="2.2" ry="1.6" fill="#b0b0e0" opacity="0.6" transform="rotate(-45 494.2 357.5)"/>
<line x1="482.2" y1="369.3" x2="492.7" y2="368.9" stroke="rgb(153, 31, 61)" stroke-width="2.5"/>
<line x1="500.6" y1="386.5" x2="498.2" y2="376.2" stroke="rgb(71, 127, 187)" stroke-width="2.5"/>
<line x1="475.7" y1="388.7" x2="484.9" y2="383.6" stroke="rgb(225, 126, 111)" stroke-width="2.5"/>
<ellipse cx="480.3" cy="386.1" rx="2.2" ry="1.6" fill="#b0b0e0" opacity="0.6" transform="rotate(-29 480.3 386.1)"/>
<line x1="498.8" y1="219.3" x2="508.7" y2="215.7" stroke="rgb(190, 68, 80)" stroke-width="2.5"/>
<line x1="505.2" y1="221.6" x2="515.7" y2="222.0" stroke="rgb(152, 31, 61)" stroke-width="2.5"/>
<line x1="496.5" y1="233.8" x2="507.0" y2="232.6" stroke="rgb(158, 35, 63)" stroke-width="2.5"/>
<line x1="511.8" y1="245.6" x2="522.3" y2="245.1" stroke="rgb(153, 32, 61)" stroke-width="2.5"/>
<line x1="498.9" y1="251.8" x2="509.3" y2="253.4" stroke="rgb(161, 36, 64)" stroke-width="2.5"/>
<line x1="512.8" y1="269.0" x2="515.5" y2="258.9" stroke="rgb(77, 134, 193)" stroke-width="2.5"/>
<line x1="498.9" y1="275.7" x2="509.4" y2="275.0" stroke="rgb(155, 33, 62)" stroke-width="2.5"/>
<line x1="506.9" y1="281.3" x2="517.3" y2="280.0" stroke="rgb(159, 35, 63)" stroke-width="2.5"/>
<line x1="501.4" y1="293.5" x2="511.9" y2="293.2" stroke="rgb(152, 31, 61)" stroke-width="2.5"/>
<line x1="510.8" y1="303.4" x2="516.2" y2="294.4" stroke="rgb(148, 190, 223)" stroke-width="2.5"/>
<ellipse cx="513.5" cy="298.9" rx="2.2" ry="1.6" fill="#b0b0e0" opacity="0.6" transform="rotate(-59 513.5 298.9)"/>
<line x1="501.1" y1="316.2" x2="499.4" y2="305.8" stroke="rgb(60, 115, 178)" stroke-width="2.5"/>
<line x1="514.2" y1="329.1" x2="516.3" y2="318.8" stroke="rgb(66, 121, 183)" stroke-width="2.5"/>
<line x1="495.2" y1="328.6" x2="505.7" y2="328.3" stroke="rgb(152, 31, 61)" stroke-width="2.5"/>
<line x1="504.2" y1="345.6" x2="510.8" y2="337.4" stroke="rgb(195, 213, 231)" stroke-width="2.5"/>
<ellipse cx="507.5" cy="341.5" rx="2.2" ry="1.6" fill="#b0b0e0" opacity="0.6" transform="rotate(-51 507.5 341.5)"/>
<line x1="499.2" y1="358.0" x2="504.0" y2="348.7" stroke="rgb(128, 176, 217)" stroke-width="2.5"/>
<ellipse cx="501.6" cy="353.3" rx="2.2" ry="1.6" fill="#b0b0e0" opacity="0.6" transform="rotate(-63 501.6 353.3)"/>
<line x1="503.7" y1="358.6" x2="514.2" y2="357.6" stroke="rgb(157, 34, 62)" stroke-width="2.5"/>
<line x1="497.2" y1="373.1" x2="507.4" y2="370.4" stroke="rgb(169, 41, 67)" stroke-width="2.5"/>
<line x1="503.5" y1="380.1" x2="513.9" y2="381.7" stroke="rgb(161, 36, 64)" stroke-width="2.5"/>
<line x1="505.6" y1="395.3" x2="503.3" y2="385.0" stroke="rgb(69, 125, 186)" stroke-width="2.5"/>
<line x1="522.9" y1="216.1" x2="532.9" y2="212.9" stroke="rgb(181, 57, 75)" stroke-width="2.5"/>
<line x1="529.4" y1="226.3" x2="536.4" y2="218.5" stroke="rgb(214, 220, 233)" stroke-width="2.5"/>
<ellipse cx="532.9" cy="222.4" rx="2.2" ry="1.6" fill="#b0b0e0" opacity="0.6" transform="rotate(-48 532.9 222.4)"/>
<line x1="532.5" y1="237.2" x2="527.6" y2="227.9" stroke="rgb(129, 177, 217)" stroke-width="2.5"/>
<ellipse cx="530.0" cy="232.5" rx="2.2" ry="1.6" fill="#b0b0e0" opacity="0.6" transform="rotate(-117 530.0 232.5)"/>
<line x1="525.5" y1="244.1" x2="535.1" y2="240.0" stroke="rgb(208, 91, 90)" stroke-width="2.5"/>
<line x1="523.9" y1="254.3" x2="532.3" y2="248.0" stroke="rgb(238, 179, 157)" stroke-width="2.5"/>
<ellipse cx="528.1" cy="251.2" rx="2.2" ry="1.6" fill="#b0b0e0" opacity="0.6" transform="rotate(-37 528.1 251.2)"/>
<line x1="532.0" y1="266.0" x2="541.7" y2="262.0" stroke="rgb(205, 87, 89)" stroke-width="2.5"/>
<line x1="522.4" y1="274.1" x2="530.8" y2="267.9" stroke="rgb(239, 176, 152)" stroke-width="2.5"/>
<ellipse cx="526.6" cy="271.0" rx="2.2" ry="1.6" fill="#b0b0e0" opacity="0.6" transform="rotate(-37 526.6 271.0)"/>
<line x1="524.6" y1="286.2" x2="534.9" y2="284.0" stroke="rgb(165, 39, 66)" stroke-width="2.5"/>
<line x1="517.2" y1="293.6" x2="526.5" y2="288.7" stroke="rgb(221, 118, 106)" stroke-width="2.5"/>
<ellipse cx="521.9" cy="291.1" rx="2.2" ry="1.6" fill="#b0b0e0" opacity="0.6" transform="rotate(-28 521.9 291.1)"/>
<line x1="532.1" y1="303.9" x2="542.6" y2="304.0" stroke="rgb(150, 30, 60)" stroke-width="2.5"/>
<line x1="515.6" y1="313.6" x2="525.8" y2="311.3" stroke="rgb(167, 40, 66)" stroke-width="2.5"/>
<line x1="530.1" y1="323.8" x2="536.0" y2="315.1" stroke="rgb(163, 200, 228)" stroke-width="2.5"/>
<ellipse cx="533.1" cy="319.4" rx="2.2" ry="1.6" fill="#b0b0e0" opacity="0.6" transform="rotate(-56 533.1 319.4)"/>
<line x1="513.3" y1="333.1" x2="523.6" y2="331.4" stroke="rgb(162, 37, 65)" stroke-width="2.5"/>
<line x1="533.5" y1="343.3" x2="540.7" y2="335.7" stroke="rgb(223, 223, 234)" stroke-width="2.5"/>
<ellipse cx="537.1" cy="339.5" rx="2.2" ry="1.6" fill="#b0b0e0" opacity="0.6" transform="rotate(-47 537.1 339.5)"/>
<line x1="513.1" y1="354.0" x2="523.5" y2="352.5" stroke="rgb(160, 36, 64)" stroke-width="2.5"/>
<line x1="522.0" y1="359.1" x2="532.2" y2="356.3" stroke="rgb(171, 43, 68)" stroke-width="2.5"/>
<line x1="513.9" y1="373.4" x2="524.3" y2="372.3" stroke="rgb(158, 35, 63)" stroke-width="2.5"/>
<line x1="525.9" y1="384.6" x2="527.3" y2="374.2" stroke="rgb(56, 110, 174)" stroke-width="2.5"/>
<line x1="519.2" y1="392.1" x2="528.0" y2="386.4" stroke="rgb(234, 151, 126)" stroke-width="2.5"/>
<ellipse cx="523.6" cy="389.2" rx="2.2" ry="1.6" fill="#b0b0e0" opacity="0.6" transform="rotate(-33 523.6 389.2)"/>
<line x1="539.0" y1="215.3" x2="549.3" y2="213.4" stroke="rgb(164, 38, 65)" stroke-width="2.5"/>
<line x1="545.0" y1="223.8" x2="555.2" y2="221.2" stroke="rgb(168, 41, 67)" stroke-width="2.5"/>
<line x1="536.5" y1="239.0" x2="545.0" y2="232.8" stroke="rgb(239, 172, 146)" stroke-width="2.5"/>
<ellipse cx="540.7" cy="235.9" rx="2.2" ry="1.6" fill="#b0b0e0" opacity="0.6" transform="rotate(-36 540.7 235.9)"/>
<line x1="546.9" y1="243.9" x2="556.7" y2="240.1" stroke="rgb(198, 79, 85)" stroke-width="2.5"/>
<line x1="548.5" y1="256.9" x2="548.7" y2="246.4" stroke="rgb(37, 88, 157)" stroke-width="2.5"/>
<line x1="543.7" y1="263.5" x2="554.1" y2="264.5" stroke="rgb(157, 34, 62)" stroke-width="2.5"/>
<line x1="535.4" y1="279.6" x2="542.6" y2="272.0" stroke="rgb(226, 225, 234)" stroke-width="2.5"/>
<ellipse cx="539.0" cy="275.8" rx="2.2" ry="1.6" fill="#b0b0e0" opacity="0.6" transform="rotate(-46 539.0 275.8)"/>
<line x1="551.6" y1="284.6" x2="558.2" y2="276.4" stroke="rgb(194, 213, 231)" stroke-width="2.5"/>
<ellipse cx="554.9" cy="280.5" rx="2.2" ry="1.6" fill="#b0b0e0" opacity="0.6" transform="rotate(-51 554.9 280.5)"/>
<line x1="536.0" y1="293.9" x2="546.5" y2="294.9" stroke="rgb(157, 34, 62)" stroke-width="2.5"/>
<line x1="559.7" y1="304.3" x2="557.3" y2="294.1" stroke="rgb(71, 127, 187)" stroke-width="2.5"/>
<line x1="542.0" y1="313.0" x2="551.7" y2="309.0" stroke="rgb(203, 85, 88)" stroke-width="2.5"/>
<line x1="543.2" y1="327.7" x2="550.1" y2="319.8" stroke="rgb(206, 217, 232)" stroke-width="2.5"/>
<ellipse cx="546.6" cy="323.7" rx="2.2" ry="1.6" fill="#b0b0e0" opacity="0.6" transform="rotate(-49 546.6 323.7)"/>
<line x1="535.3" y1="332.1" x2="545.8" y2="331.6" stroke="rgb(153, 32, 61)" stroke-width="2.5"/>
<line x1="550.2" y1="341.1" x2="560.0" y2="337.3" stroke="rgb(199, 79, 85)" stroke-width="2.5"/>
<line x1="534.9" y1="356.1" x2="544.2" y2="351.2" stroke="rgb(222, 119, 107)" stroke-width="2.5"/>
<ellipse cx="539.5" cy="353.6" rx="2.2" ry="1.6" fill="#b0b0e0" opacity="0.6" transform="rotate(-28 539.5 353.6)"/>
<line x1="550.3" y1="358.9" x2="560.1" y2="355.1" stroke="rgb(196, 75, 83)" stroke-width="2.5"/>
<line x1="541.5" y1="374.3" x2="551.4" y2="370.7" stroke="rgb(193, 71, 81)" stroke-width="2.5"/>
<line x1="558.1" y1="384.9" x2="557.5" y2="374.4" stroke="rgb(43, 95, 162)" stroke-width="2.5"/>
<line x1="536.1" y1="390.0" x2="545.7" y2="385.6" stroke="rgb(212, 97, 93)" stroke-width="2.5"/>
<line x1="552.8" y1="216.8" x2="563.3" y2="216.2" stroke="rgb(154, 32, 61)" stroke-width="2.5"/>
<line x1="564.2" y1="221.1" x2="574.7" y2="221.7" stroke="rgb(154, 32, 61)" stroke-width="2.5"/>
<line x1="553.7" y1="234.7" x2="564.2" y2="234.7" stroke="rgb(150, 30, 60)" stroke-width="2.5"/>
<line x1="575.3" y1="248.9" x2="574.9" y2="238.4" stroke="rgb(40, 91, 159)" stroke-width="2.5"/>
<line x1="561.0" y1="259.9" x2="558.5" y2="249.7" stroke="rgb(73, 130, 189)" stroke-width="2.5"/>
<line x1="569.4" y1="262.5" x2="579.0" y2="258.2" stroke="rgb(209, 93, 91)" stroke-width="2.5"/>
<line x1="551.0" y1="276.4" x2="561.0" y2="273.3" stroke="rgb(178, 53, 73)" stroke-width="2.5"/>
<line x1="571.5" y1="287.0" x2="581.8" y2="284.8" stroke="rgb(165, 39, 66)" stroke-width="2.5"/>
<line x1="552.2" y1="289.9" x2="562.6" y2="290.9" stroke="rgb(157, 34, 62)" stroke-width="2.5"/>
<line x1="569.0" y1="304.3" x2="567.7" y2="293.9" stroke="rgb(55, 108, 173)" stroke-width="2.5"/>
<line x1="551.1" y1="315.1" x2="561.3" y2="312.6" stroke="rgb(168, 40, 67)" stroke-width="2.5"/>
<line x1="569.7" y1="326.3" x2="569.7" y2="315.8" stroke="rgb(36, 86, 155)" stroke-width="2.5"/>
<line x1="561.3" y1="333.0" x2="571.5" y2="330.3" stroke="rgb(170, 42, 68)" stroke-width="2.5"/>
<line x1="568.9" y1="345.1" x2="567.1" y2="334.7" stroke="rgb(61, 116, 178)" stroke-width="2.5"/>
<line x1="564.5" y1="356.8" x2="567.8" y2="346.8" stroke="rgb(85, 145, 201)" stroke-width="2.5"/>
<line x1="560.9" y1="362.1" x2="571.3" y2="361.0" stroke="rgb(158, 34, 63)" stroke-width="2.5"/>
<line x1="553.7" y1="369.1" x2="563.2" y2="364.6" stroke="rgb(215, 101, 96)" stroke-width="2.5"/>
<ellipse cx="558.5" cy="366.8" rx="2.2" ry="1.6" fill="#b0b0e0" opacity="0.6" transform="rotate(-25 558.5 366.8)"/>
<line x1="572.1" y1="382.9" x2="576.4" y2="373.4" stroke="rgb(112, 165, 212)" stroke-width="2.5"/>
<ellipse cx="574.2" cy="378.1" rx="2.2" ry="1.6" fill="#b0b0e0" opacity="0.6" transform="rotate(-66 574.2 378.1)"/>
<line x1="557.1" y1="393.6" x2="559.1" y2="383.3" stroke="rgb(64, 119, 181)" stroke-width="2.5"/>
<line x1="586.7" y1="222.1" x2="585.3" y2="211.7" stroke="rgb(55, 109, 173)" stroke-width="2.5"/>
<line x1="589.2" y1="229.4" x2="590.7" y2="219.0" stroke="rgb(56, 110, 174)" stroke-width="2.5"/>
<line x1="571.1" y1="233.0" x2="580.7" y2="228.6" stroke="rgb(214, 98, 94)" stroke-width="2.5"/>
<line x1="593.7" y1="249.5" x2="589.9" y2="239.8" stroke="rgb(97, 155, 207)" stroke-width="2.5"/>
<ellipse cx="591.8" cy="244.7" rx="2.2" ry="1.6" fill="#b0b0e0" opacity="0.6" transform="rotate(-111 591.8 244.7)"/>
<line x1="578.8" y1="250.4" x2="589.3" y2="251.1" stroke="rgb(155, 33, 62)" stroke-width="2.5"/>
<line x1="580.8" y1="266.7" x2="591.0" y2="264.1" stroke="rgb(169, 41, 67)" stroke-width="2.5"/>
<line x1="585.6" y1="277.2" x2="582.9" y2="267.0" stroke="rgb(75, 133, 192)" stroke-width="2.5"/>
<line x1="583.9" y1="284.4" x2="594.3" y2="283.6" stroke="rgb(155, 33, 62)" stroke-width="2.5"/>
<line x1="577.2" y1="298.7" x2="576.3" y2="288.2" stroke="rgb(49, 101, 167)" stroke-width="2.5"/>
<line x1="595.9" y1="307.3" x2="592.4" y2="297.4" stroke="rgb(87, 146, 202)" stroke-width="2.5"/>
<line x1="577.9" y1="311.5" x2="587.3" y2="306.9" stroke="rgb(216, 103, 96)" stroke-width="2.5"/>
<ellipse cx="582.6" cy="309.2" rx="2.2" ry="1.6" fill="#b0b0e0" opacity="0.6" transform="rotate(-25 582.6 309.2)"/>
<line x1="582.4" y1="318.3" x2="592.9" y2="318.9" stroke="rgb(154, 32, 61)" stroke-width="2.5"/>
<line x1="569.3" y1="335.4" x2="579.5" y2="333.0" stroke="rgb(167, 40, 67)" stroke-width="2.5"/>
<line x1="578.6" y1="339.0" x2="588.7" y2="336.3" stroke="rgb(169, 41, 67)" stroke-width="2.5"/>
<line x1="584.8" y1="355.1" x2="587.6" y2="345.0" stroke="rgb(76, 134, 192)" stroke-width="2.5"/>
<line x1="585.1" y1="361.1" x2="595.5" y2="362.0" stroke="rgb(156, 34, 62)" stroke-width="2.5"/>
<line x1="581.1" y1="370.6" x2="591.5" y2="369.2" stroke="rgb(160, 36, 64)" stroke-width="2.5"/>
<line x1="591.2" y1="382.2" x2="601.7" y2="381.9" stroke="rgb(151, 31, 60)" stroke-width="2.5"/>
<line x1="574.0" y1="395.1" x2="573.8" y2="384.6" stroke="rgb(38, 89, 158)" stroke-width="2.5"/>
<line x1="615.7" y1="229.9" x2="612.4" y2="219.9" stroke="rgb(85, 144, 201)" stroke-width="2.5"/>
<line x1="603.2" y1="235.9" x2="601.2" y2="225.6" stroke="rgb(64, 120, 182)" stroke-width="2.5"/>
<line x1="613.5" y1="245.6" x2="616.9" y2="235.7" stroke="rgb(86, 146, 202)" stroke-width="2.5"/>
<line x1="604.2" y1="255.7" x2="602.8" y2="245.3" stroke="rgb(56, 110, 174)" stroke-width="2.5"/>
<line x1="603.3" y1="263.8" x2="613.6" y2="262.0" stroke="rgb(163, 38, 65)" stroke-width="2.5"/>
<line x1="588.9" y1="271.7" x2="599.4" y2="272.2" stroke="rgb(153, 32, 61)" stroke-width="2.5"/>
<line x1="611.4" y1="291.0" x2="608.6" y2="280.9" stroke="rgb(78, 135, 194)" stroke-width="2.5"/>
<line x1="594.6" y1="293.8" x2="604.9" y2="291.9" stroke="rgb(164, 38, 65)" stroke-width="2.5"/>
<line x1="611.8" y1="304.7" x2="610.2" y2="294.3" stroke="rgb(58, 112, 176)" stroke-width="2.5"/>
<line x1="596.5" y1="312.0" x2="606.8" y2="310.2" stroke="rgb(163, 37, 65)" stroke-width="2.5"/>
<line x1="598.8" y1="318.6" x2="608.4" y2="322.9" stroke="rgb(209, 93, 91)" stroke-width="2.5"/>
<line x1="597.3" y1="330.8" x2="607.2" y2="327.0" stroke="rgb(195, 75, 83)" stroke-width="2.5"/>
<line x1="604.5" y1="339.7" x2="614.9" y2="338.8" stroke="rgb(156, 33, 62)" stroke-width="2.5"/>
<line x1="599.6" y1="347.7" x2="609.9" y2="349.6" stroke="rgb(164, 38, 65)" stroke-width="2.5"/>
<line x1="606.9" y1="361.6" x2="617.1" y2="364.1" stroke="rgb(168, 41, 67)" stroke-width="2.5"/>
<line x1="597.1" y1="377.0" x2="596.1" y2="366.6" stroke="rgb(50, 103, 169)" stroke-width="2.5"/>
<line x1="599.7" y1="380.9" x2="609.9" y2="378.5" stroke="rgb(167, 40, 67)" stroke-width="2.5"/>
<line x1="595.7" y1="392.0" x2="596.9" y2="381.6" stroke="rgb(54, 107, 172)" stroke-width="2.5"/>
<line x1="614.7" y1="219.3" x2="624.7" y2="216.2" stroke="rgb(180, 55, 74)" stroke-width="2.5"/>
<line x1="625.6" y1="227.7" x2="627.2" y2="217.3" stroke="rgb(58, 112, 176)" stroke-width="2.5"/>
<line x1="619.6" y1="235.9" x2="622.3" y2="225.7" stroke="rgb(76, 134, 192)" stroke-width="2.5"/>
<line x1="632.8" y1="245.8" x2="630.5" y2="235.5" stroke="rgb(69, 126, 186)" stroke-width="2.5"/>
<line x1="615.2" y1="254.2" x2="622.7" y2="246.8" stroke="rgb(235, 224, 228)" stroke-width="2.5"/>
<ellipse cx="619.0" cy="250.5" rx="2.2" ry="1.6" fill="#b0b0e0" opacity="0.6" transform="rotate(-44 619.0 250.5)"/>
<line x1="626.2" y1="265.0" x2="633.7" y2="257.7" stroke="rgb(235, 221, 224)" stroke-width="2.5"/>
<ellipse cx="630.0" cy="261.4" rx="2.2" ry="1.6" fill="#b0b0e0" opacity="0.6" transform="rotate(-44 630.0 261.4)"/>
<line x1="615.3" y1="277.6" x2="624.9" y2="273.4" stroke="rgb(208, 92, 91)" stroke-width="2.5"/>
<line x1="629.8" y1="285.1" x2="629.4" y2="274.7" stroke="rgb(40, 91, 159)" stroke-width="2.5"/>
<line x1="617.1" y1="296.2" x2="626.6" y2="291.8" stroke="rgb(215, 100, 95)" stroke-width="2.5"/>
<ellipse cx="621.8" cy="294.0" rx="2.2" ry="1.6" fill="#b0b0e0" opacity="0.6" transform="rotate(-25 621.8 294.0)"/>
<line x1="627.4" y1="304.6" x2="625.6" y2="294.2" stroke="rgb(61, 116, 179)" stroke-width="2.5"/>
<line x1="622.7" y1="316.4" x2="620.4" y2="306.2" stroke="rgb(69, 126, 186)" stroke-width="2.5"/>
<line x1="622.8" y1="323.0" x2="633.2" y2="324.5" stroke="rgb(160, 36, 64)" stroke-width="2.5"/>
<line x1="612.1" y1="330.1" x2="622.5" y2="329.4" stroke="rgb(154, 32, 61)" stroke-width="2.5"/>
<line x1="628.8" y1="344.0" x2="637.9" y2="338.6" stroke="rgb(229, 137, 117)" stroke-width="2.5"/>
<ellipse cx="633.4" cy="341.3" rx="2.2" ry="1.6" fill="#b0b0e0" opacity="0.6" transform="rotate(-31 633.4 341.3)"/>
<line x1="623.9" y1="356.6" x2="623.3" y2="346.1" stroke="rgb(43, 95, 162)" stroke-width="2.5"/>
<line x1="633.7" y1="364.7" x2="632.7" y2="354.3" stroke="rgb(48, 101, 167)" stroke-width="2.5"/>
<line x1="616.8" y1="373.1" x2="619.2" y2="362.9" stroke="rgb(71, 127, 188)" stroke-width="2.5"/>
<line x1="622.1" y1="378.6" x2="631.5" y2="373.9" stroke="rgb(218, 109, 100)" stroke-width="2.5"/>
<ellipse cx="626.8" cy="376.2" rx="2.2" ry="1.6" fill="#b0b0e0" opacity="0.6" transform="rotate(-26 626.8 376.2)"/>
<line x1="614.7" y1="389.1" x2="624.9" y2="386.2" stroke="rgb(173, 45, 69)" stroke-width="2.5"/>
<line x1="630.7" y1="313.6" x2="639.1" y2="307.3" stroke="rgb(239, 177, 154)" stroke-width="2.5"/>
<ellipse cx="634.9" cy="310.5" rx="2.2" ry="1.6" fill="#b0b0e0" opacity="0.6" transform="rotate(-37 634.9 310.5)"/>
<line x1="632.5" y1="335.8" x2="631.6" y2="325.4" stroke="rgb(48, 101, 167)" stroke-width="2.5"/>
<line x1="626.3" y1="369.2" x2="636.8" y2="368.7" stroke="rgb(153, 32, 61)" stroke-width="2.5"/>
</g>
<rect x="564.1" y="219.9" width="65" height="16.4" fill="#fff"/>
<defs><linearGradient id="cbar" x1="0" y1="0" x2="0" y2="1"><stop offset="0" stop-color="#4d6c98"/><stop offset="0.15" stop-color="#6590c0"/><stop offset="0.33" stop-color="#a9cbe4"/><stop offset="0.5" stop-color="#f3f1f0"/><stop offset="0.62" stop-color="#f6cdb6"/><stop offset="0.8" stop-color="#df8a86"/><stop offset="1" stop-color="#a84c68"/></linearGradient></defs>
<rect x="447.2" y="221.5" width="7.5" height="169.3" fill="url(#cbar)"/>
<line x1="431" y1="282.35" x2="443.1" y2="282.35" stroke="#000" stroke-width="1.1"/>
<line x1="431" y1="295.95" x2="443.1" y2="295.95" stroke="#333" stroke-width="1.3"/>
<ellipse cx="442.9" cy="222.75" rx="1.85" ry="2.1" fill="none" stroke="#000" stroke-width="0.85"/>
<ellipse cx="441.2" cy="384.5" rx="1.85" ry="2.1" fill="none" stroke="#000" stroke-width="0.85"/>
<line x1="652.3" y1="219.4" x2="652.3" y2="391.5" stroke="#8c8c8c" stroke-width="2.4" stroke-dasharray="5 5.6"/>
<polyline points="636.30,224.60 634.20,235.50 644.10,245.90 644.40,256.80 646.30,267.70 645.80,278.40 653.10,289.20 649.10,299.90 646.50,310.70 653.30,321.50 649.40,332.20 653.10,342.90 656.20,354.10 661.20,364.80 655.90,375.10 655.10,386.10" fill="none" stroke="#4da6e6" stroke-width="1.1" />
<circle cx="636.3" cy="224.6" r="3.3" fill="#e0e0e0" stroke="#3fa0ee" stroke-width="1.1"/>
<circle cx="634.2" cy="235.5" r="3.3" fill="#e0e0e0" stroke="#3fa0ee" stroke-width="1.1"/>
<circle cx="644.1" cy="245.9" r="3.3" fill="#e0e0e0" stroke="#3fa0ee" stroke-width="1.1"/>
<circle cx="644.4" cy="256.8" r="3.3" fill="#e0e0e0" stroke="#3fa0ee" stroke-width="1.1"/>
<circle cx="646.3" cy="267.7" r="3.3" fill="#e0e0e0" stroke="#3fa0ee" stroke-width="1.1"/>
<circle cx="645.8" cy="278.4" r="3.3" fill="#e0e0e0" stroke="#3fa0ee" stroke-width="1.1"/>
<circle cx="653.1" cy="289.2" r="3.3" fill="#e0e0e0" stroke="#3fa0ee" stroke-width="1.1"/>
<circle cx="649.1" cy="299.9" r="3.3" fill="#e0e0e0" stroke="#3fa0ee" stroke-width="1.1"/>
<circle cx="646.5" cy="310.7" r="3.3" fill="#e0e0e0" stroke="#3fa0ee" stroke-width="1.1"/>
<circle cx="653.3" cy="321.5" r="3.3" fill="#e0e0e0" stroke="#3fa0ee" stroke-width="1.1"/>
<circle cx="649.4" cy="332.2" r="3.3" fill="#e0e0e0" stroke="#3fa0ee" stroke-width="1.1"/>
<circle cx="653.1" cy="342.9" r="3.3" fill="#e0e0e0" stroke="#3fa0ee" stroke-width="1.1"/>
<circle cx="656.2" cy="354.1" r="3.3" fill="#e0e0e0" stroke="#3fa0ee" stroke-width="1.1"/>
<circle cx="661.2" cy="364.8" r="3.3" fill="#e0e0e0" stroke="#3fa0ee" stroke-width="1.1"/>
<circle cx="655.9" cy="375.1" r="3.3" fill="#e0e0e0" stroke="#3fa0ee" stroke-width="1.1"/>
<circle cx="655.1" cy="386.1" r="3.3" fill="#e0e0e0" stroke="#3fa0ee" stroke-width="1.1"/>
<rect x="630.70" y="219.40" width="51.00" height="172.10" fill="none" stroke="#262626" stroke-width="1"/>
<line x1="652.30" y1="391.50" x2="652.30" y2="389.00" stroke="#262626" stroke-width="1"/>
<line x1="652.30" y1="219.40" x2="652.30" y2="221.90" stroke="#262626" stroke-width="1"/>
<line x1="674.20" y1="391.50" x2="674.20" y2="389.00" stroke="#262626" stroke-width="1"/>
<line x1="674.20" y1="219.40" x2="674.20" y2="221.90" stroke="#262626" stroke-width="1"/>
<line x1="630.70" y1="251.60" x2="633.20" y2="251.60" stroke="#262626" stroke-width="1"/>
<line x1="681.70" y1="251.60" x2="679.20" y2="251.60" stroke="#262626" stroke-width="1"/>
<line x1="630.70" y1="300.20" x2="633.20" y2="300.20" stroke="#262626" stroke-width="1"/>
<line x1="681.70" y1="300.20" x2="679.20" y2="300.20" stroke="#262626" stroke-width="1"/>
<line x1="630.70" y1="348.80" x2="633.20" y2="348.80" stroke="#262626" stroke-width="1"/>
<line x1="681.70" y1="348.80" x2="679.20" y2="348.80" stroke="#262626" stroke-width="1"/>
<line x1="455.6" y1="433.2" x2="627.5" y2="433.2" stroke="#8c8c8c" stroke-width="2.4" stroke-dasharray="5 5.6"/>
<polyline points="461.40,426.30 472.20,423.10 482.60,426.40 493.40,421.10 503.80,427.10 515.20,433.20 525.80,423.20 536.50,430.60 547.20,424.20 558.30,431.50 568.70,437.80 579.10,442.40 590.20,441.50 600.90,441.00 611.50,438.30 622.40,433.10" fill="none" stroke="#ff40c8" stroke-width="1.0" />
<rect x="458.80" y="423.70" width="5.2" height="5.2" fill="#e0e0e0" stroke="#ff40c8" stroke-width="1"/>
<rect x="469.60" y="420.50" width="5.2" height="5.2" fill="#e0e0e0" stroke="#ff40c8" stroke-width="1"/>
<rect x="480.00" y="423.80" width="5.2" height="5.2" fill="#e0e0e0" stroke="#ff40c8" stroke-width="1"/>
<rect x="490.80" y="418.50" width="5.2" height="5.2" fill="#e0e0e0" stroke="#ff40c8" stroke-width="1"/>
<rect x="501.20" y="424.50" width="5.2" height="5.2" fill="#e0e0e0" stroke="#ff40c8" stroke-width="1"/>
<rect x="512.60" y="430.60" width="5.2" height="5.2" fill="#e0e0e0" stroke="#ff40c8" stroke-width="1"/>
<rect x="523.20" y="420.60" width="5.2" height="5.2" fill="#e0e0e0" stroke="#ff40c8" stroke-width="1"/>
<rect x="533.90" y="428.00" width="5.2" height="5.2" fill="#e0e0e0" stroke="#ff40c8" stroke-width="1"/>
<rect x="544.60" y="421.60" width="5.2" height="5.2" fill="#e0e0e0" stroke="#ff40c8" stroke-width="1"/>
<rect x="555.70" y="428.90" width="5.2" height="5.2" fill="#e0e0e0" stroke="#ff40c8" stroke-width="1"/>
<rect x="566.10" y="435.20" width="5.2" height="5.2" fill="#e0e0e0" stroke="#ff40c8" stroke-width="1"/>
<rect x="576.50" y="439.80" width="5.2" height="5.2" fill="#e0e0e0" stroke="#ff40c8" stroke-width="1"/>
<rect x="587.60" y="438.90" width="5.2" height="5.2" fill="#e0e0e0" stroke="#ff40c8" stroke-width="1"/>
<rect x="598.30" y="438.40" width="5.2" height="5.2" fill="#e0e0e0" stroke="#ff40c8" stroke-width="1"/>
<rect x="608.90" y="435.70" width="5.2" height="5.2" fill="#e0e0e0" stroke="#ff40c8" stroke-width="1"/>
<rect x="619.80" y="430.50" width="5.2" height="5.2" fill="#e0e0e0" stroke="#ff40c8" stroke-width="1"/>
<rect x="455.60" y="397.30" width="171.90" height="56.40" fill="none" stroke="#262626" stroke-width="1"/>
<line x1="488.20" y1="453.70" x2="488.20" y2="451.20" stroke="#262626" stroke-width="1"/>
<line x1="488.20" y1="397.30" x2="488.20" y2="399.80" stroke="#262626" stroke-width="1"/>
<line x1="536.50" y1="453.70" x2="536.50" y2="451.20" stroke="#262626" stroke-width="1"/>
<line x1="536.50" y1="397.30" x2="536.50" y2="399.80" stroke="#262626" stroke-width="1"/>
<line x1="584.80" y1="453.70" x2="584.80" y2="451.20" stroke="#262626" stroke-width="1"/>
<line x1="584.80" y1="397.30" x2="584.80" y2="399.80" stroke="#262626" stroke-width="1"/>
<line x1="455.60" y1="399.80" x2="458.10" y2="399.80" stroke="#262626" stroke-width="1"/>
<line x1="627.50" y1="399.80" x2="625.00" y2="399.80" stroke="#262626" stroke-width="1"/>
<line x1="455.60" y1="433.20" x2="458.10" y2="433.20" stroke="#262626" stroke-width="1"/>
<line x1="627.50" y1="433.20" x2="625.00" y2="433.20" stroke="#262626" stroke-width="1"/>
<text id="a_lab" transform="translate(1.47,29.45) scale(1.0340,1)" font-family="Liberation Sans" font-size="28.504" fill="#fff">(a)</text>
<text id="a_spt" transform="translate(152.27,21.48) scale(0.9867,1)" font-family="Liberation Sans" font-size="14.934" fill="#fff">Spt(-)</text>
<text id="a_ant" transform="translate(14.57,150.83) rotate(-90) scale(1.1573,1)" font-family="Liberation Sans" font-size="12.937" fill="#fff">Anteroposterior</text>
<text id="a_50" transform="translate(18.36,173.43) scale(1.0925,1)" font-family="Liberation Sans" font-size="12.821" fill="#fff">50</text>
<text id="a_um" transform="translate(37.98,173.59) scale(1.3112,1)" font-family="Liberation Serif" font-style="italic" font-size="14.367" fill="#fff">μm</text>
<text id="a_t" transform="translate(130.14,188.78) scale(1.0428,1)" font-family="Liberation Sans" font-size="14.038" fill="#fff">t = 57 min</text>
<text id="a_med" transform="translate(62.37,212.54) scale(1.1579,1)" font-family="Liberation Sans" font-size="12.920" fill="#000">Mediolateral</text>
<text id="b_lab" transform="translate(216.42,29.62) scale(1.0127,1)" font-family="Liberation Sans" font-size="29.135" fill="#fff">(b)</text>
<text id="b_wt" transform="translate(341.34,21.76) scale(1.0420,1)" font-family="Liberation Sans" font-size="13.907" fill="#fff">Wild type</text>
<text id="b_50" transform="translate(226.62,174.86) scale(1.1518,1)" font-family="Liberation Sans" font-size="12.688" fill="#fff">50</text>
<text id="b_um" transform="translate(247.80,175.66) scale(1.2520,1)" font-family="Liberation Serif" font-style="italic" font-size="14.074" fill="#fff">μm</text>
<text id="b_t" transform="translate(337.89,188.43) scale(1.0707,1)" font-family="Liberation Sans" font-size="13.618" fill="#fff">t = 60 min</text>
<text id="c_lab" transform="translate(459.92,29.33) scale(1.0516,1)" font-family="Liberation Sans" font-size="29.335" fill="#000">(c)</text>
<text id="c_128" transform="translate(426.18,12.82) scale(1.0653,1)" font-family="Liberation Sans" font-size="11.938" fill="#000">1.28</text>
<text id="c_124" transform="translate(425.99,79.42) scale(1.0883,1)" font-family="Liberation Sans" font-size="11.716" fill="#000">1.24</text>
<text id="c_12" transform="translate(433.10,145.68) scale(1.0992,1)" font-family="Liberation Sans" font-size="11.767" fill="#000">1.2</text>
<text id="c_0" transform="translate(450.98,190.34) scale(1.0416,1)" font-family="Liberation Sans" font-size="12.531" fill="#000">0</text>
<text id="c_20" transform="translate(521.44,190.70) scale(1.0197,1)" font-family="Liberation Sans" font-size="12.631" fill="#000">20</text>
<text id="c_40" transform="translate(595.66,190.44) scale(1.0301,1)" font-family="Liberation Sans" font-size="12.537" fill="#000">40</text>
<text id="c_60" transform="translate(669.84,190.37) scale(1.0154,1)" font-family="Liberation Sans" font-size="12.567" fill="#000">60</text>
<text id="c_si" transform="translate(421.52,101.72) rotate(-90) scale(0.9655,1)" font-family="Liberation Sans" font-size="14.102" fill="#000">SI(t)</text>
<text id="c_tm" transform="translate(546.32,207.31) scale(1.0502,1)" font-family="Liberation Sans" font-size="13.393" fill="#000">t (min)</text>
<text id="d_lab" transform="translate(32.11,249.42) scale(1.0411,1)" font-family="Liberation Sans" font-size="28.623" fill="#000">(d)</text>
<text id="d_08" transform="translate(4.59,232.54) scale(1.1203,1)" font-family="Liberation Sans" font-size="14.782" fill="#000">0.8</text>
<text id="d_06" transform="translate(4.60,309.20) scale(1.1442,1)" font-family="Liberation Sans" font-size="14.502" fill="#000">0.6</text>
<text id="d_04" transform="translate(4.63,386.34) scale(1.1136,1)" font-family="Liberation Sans" font-size="14.749" fill="#000">0.4</text>
<text id="d_0" transform="translate(27.87,458.46) scale(1.0354,1)" font-family="Liberation Sans" font-size="15.347" fill="#000">0</text>
<text id="d_50" transform="translate(126.85,458.58) scale(1.1128,1)" font-family="Liberation Sans" font-size="15.275" fill="#000">50</text>
<text id="d_st" transform="translate(12.33,352.07) rotate(-90) scale(0.9130,1)" font-family="Liberation Sans" font-size="16.067" fill="#000">S(t)</text>
<text id="d_tm" transform="translate(70.34,480.54) scale(1.0132,1)" font-family="Liberation Sans" font-size="17.308" fill="#000">t (min)</text>
<text id="e_lab" transform="translate(192.50,243.48) scale(0.9954,1)" font-family="Liberation Sans" font-size="29.803" fill="#000">(e)</text>
<text id="e_t" transform="translate(312.33,231.60) scale(1.1324,1)" font-family="Liberation Sans" font-size="11.461" fill="#000">t = 3 min</text>
<text id="e_ant" transform="translate(176.45,357.31) rotate(-90) scale(1.1067,1)" font-family="Liberation Sans" font-size="13.438" fill="#000">Anteroposterior</text>
<text id="f_lab" transform="translate(367.84,242.22) scale(1.0302,1)" font-family="Liberation Sans" font-size="29.457" fill="#000">(f)</text>
<text id="f_02" transform="translate(367.31,393.23) rotate(90) scale(0.9583,1)" font-family="Liberation Sans" font-size="13.585" fill="#000">0.2</text>
<text id="f_05" transform="translate(387.58,393.23) rotate(90) scale(0.9676,1)" font-family="Liberation Sans" font-size="13.318" fill="#000">0.5</text>
<text id="f_08" transform="translate(409.19,393.13) rotate(90) scale(0.9667,1)" font-family="Liberation Sans" font-size="13.394" fill="#000">0.8</text>
<text id="g_lab" transform="translate(191.86,419.61) scale(1.0764,1)" font-family="Liberation Sans" font-size="29.120" fill="#000">(g)</text>
<text id="g_1" transform="translate(183.88,403.38) scale(0.7005,1)" font-family="Liberation Sans" font-size="9.693" fill="#000">1</text>
<text id="g_05" transform="translate(172.88,437.57) scale(1.2170,1)" font-family="Liberation Sans" font-size="9.311" fill="#000">0.5</text>
<text id="g_s" transform="translate(170.24,418.89) rotate(-90) scale(1.0073,1)" font-family="Liberation Sans" font-size="16.285" fill="#000">s</text>
<text id="g_t" transform="translate(294.53,450.65) scale(1.0047,1)" font-family="Liberation Sans" font-size="13.059" fill="#000">t = 0-0.5 hr</text>
<text id="g_50" transform="translate(217.28,468.79) scale(1.0195,1)" font-family="Liberation Sans" font-size="11.666" fill="#000">50</text>
<text id="g_100" transform="translate(262.59,468.40) scale(0.9751,1)" font-family="Liberation Sans" font-size="11.774" fill="#000">100</text>
<text id="g_150" transform="translate(310.17,468.56) scale(0.9879,1)" font-family="Liberation Sans" font-size="11.603" fill="#000">150</text>
<text id="g_med" transform="translate(213.84,486.24) scale(1.1086,1)" font-family="Liberation Sans" font-size="13.533" fill="#000">Mediolateral</text>
<text id="g_um" transform="translate(300.35,486.74) scale(1.0029,1)" font-family="Liberation Serif" font-style="italic" font-size="15.700" fill="#000">(μm)</text>
<text id="h_lab" transform="translate(457.08,245.11) scale(0.9550,1)" font-family="Liberation Sans" font-size="29.591" fill="#000">(h)</text>
<text id="h_t" transform="translate(566.87,232.54) scale(1.1473,1)" font-family="Liberation Sans" font-size="11.380" fill="#000">t = 48 min</text>
<text id="h_90" transform="translate(425.02,228.11) scale(1.1557,1)" font-family="Liberation Sans" font-size="11.849" fill="#000">90</text>
<text id="h_0" transform="translate(431.17,389.76) scale(1.2154,1)" font-family="Liberation Sans" font-size="10.916" fill="#000">0</text>
<text id="h_deg" transform="translate(440.36,347.40) rotate(-90) scale(0.9690,1)" font-family="Liberation Sans" font-size="14.574" fill="#000">Degree</text>
<text id="h_th" transform="translate(441.01,292.29) rotate(-90) scale(0.9561,1)" font-family="Liberation Serif" font-style="italic" font-size="13.773" fill="#000">θ</text>
<text id="i_lab" transform="translate(653.94,242.60) scale(1.0923,1)" font-family="Liberation Sans" font-size="28.132" fill="#000">(i)</text>
<text id="i_02" transform="translate(629.60,393.92) rotate(90) scale(0.9549,1)" font-family="Liberation Sans" font-size="13.465" fill="#000">0.2</text>
<text id="i_05" transform="translate(649.56,393.91) rotate(90) scale(0.9723,1)" font-family="Liberation Sans" font-size="13.253" fill="#000">0.5</text>
<text id="i_08" transform="translate(672.44,393.91) rotate(90) scale(0.9905,1)" font-family="Liberation Sans" font-size="13.021" fill="#000">0.8</text>
<text id="j_lab" transform="translate(456.07,418.67) scale(1.1116,1)" font-family="Liberation Sans" font-size="27.667" fill="#000">(j)</text>
<text id="j_1" transform="translate(447.42,402.57) scale(0.7653,1)" font-family="Liberation Sans" font-size="8.878" fill="#000">1</text>
<text id="j_05" transform="translate(435.89,437.59) scale(1.1093,1)" font-family="Liberation Sans" font-size="10.654" fill="#000">0.5</text>
<text id="j_s" transform="translate(435.34,418.98) rotate(-90) scale(1.0069,1)" font-family="Liberation Sans" font-size="15.578" fill="#000">s</text>
<text id="j_t" transform="translate(561.85,411.85) scale(1.1413,1)" font-family="Liberation Sans" font-size="11.584" fill="#000">t = 0.5-1hr</text>
<text id="j_50" transform="translate(481.09,469.48) scale(1.0240,1)" font-family="Liberation Sans" font-size="11.661" fill="#000">50</text>
<text id="j_100" transform="translate(526.66,469.49) scale(0.9638,1)" font-family="Liberation Sans" font-size="11.830" fill="#000">100</text>
<text id="j_150" transform="translate(575.00,469.69) scale(0.9797,1)" font-family="Liberation Sans" font-size="11.655" fill="#000">150</text>
<text id="j_med" transform="translate(479.15,486.51) scale(1.1062,1)" font-family="Liberation Sans" font-size="13.581" fill="#000">Mediolateral</text>
<text id="j_um" transform="translate(565.14,487.58) scale(0.9909,1)" font-family="Liberation Serif" font-style="italic" font-size="15.750" fill="#000">(μm)</text>
</svg></body></html>
